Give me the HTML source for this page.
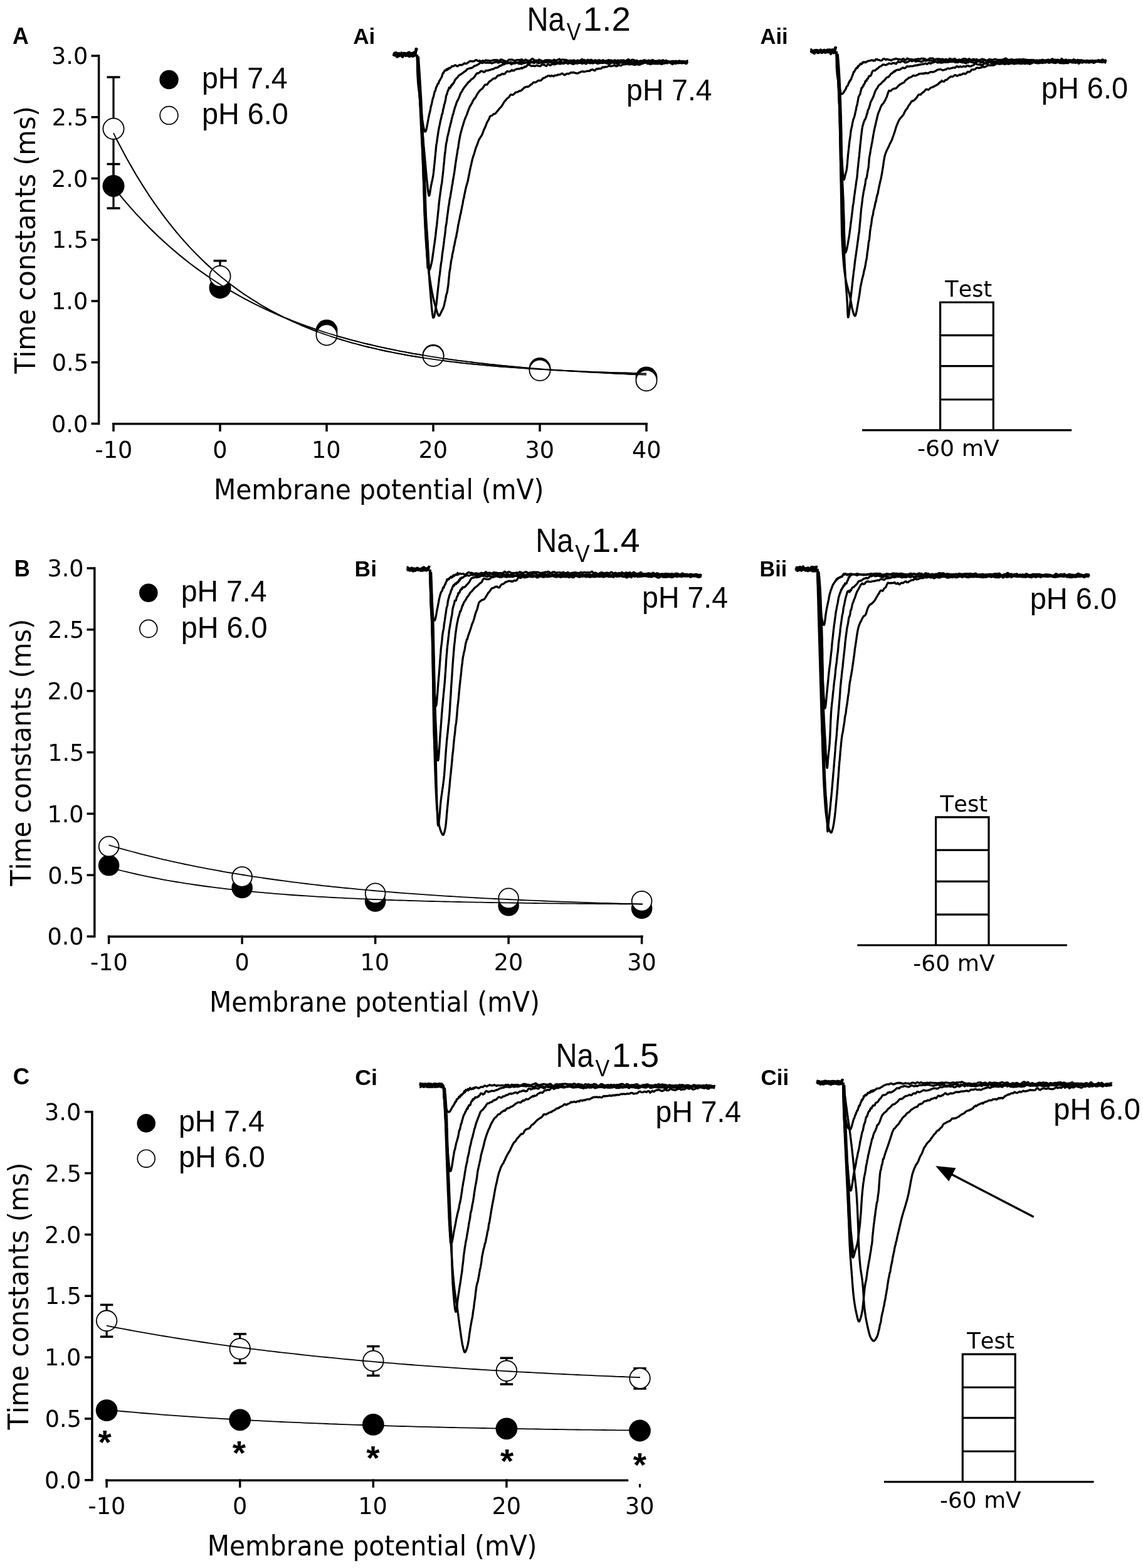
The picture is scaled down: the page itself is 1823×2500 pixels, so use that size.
<!DOCTYPE html><html><head><meta charset="utf-8"><style>html,body{margin:0;padding:0;background:#fff;}svg{display:block;} text{font-kerning:none;}</style></head><body><svg width="1823" height="2500" viewBox="0 0 1823 2500"><rect width="1823" height="2500" fill="#fff"/>
<line x1="157.6" y1="87.25" x2="157.6" y2="677.25" stroke="#000" stroke-width="3.5" stroke-linecap="butt"/>
<line x1="145.5" y1="675.5" x2="157.6" y2="675.5" stroke="#000" stroke-width="3.5" stroke-linecap="butt"/>
<text x="82.02" y="688.82" font-family="DejaVu Sans" font-weight="normal" font-size="36.6" textLength="58.21" lengthAdjust="spacingAndGlyphs">0.0</text>
<line x1="145.5" y1="577.75" x2="157.6" y2="577.75" stroke="#000" stroke-width="3.5" stroke-linecap="butt"/>
<text x="82.79" y="591.07" font-family="DejaVu Sans" font-weight="normal" font-size="36.6" textLength="58.21" lengthAdjust="spacingAndGlyphs">0.5</text>
<line x1="145.5" y1="480" x2="157.6" y2="480" stroke="#000" stroke-width="3.5" stroke-linecap="butt"/>
<text x="82.02" y="493.32" font-family="DejaVu Sans" font-weight="normal" font-size="36.6" textLength="58.21" lengthAdjust="spacingAndGlyphs">1.0</text>
<line x1="145.5" y1="382.25" x2="157.6" y2="382.25" stroke="#000" stroke-width="3.5" stroke-linecap="butt"/>
<text x="82.79" y="395.33" font-family="DejaVu Sans" font-weight="normal" font-size="36.6" textLength="58.21" lengthAdjust="spacingAndGlyphs">1.5</text>
<line x1="145.5" y1="284.5" x2="157.6" y2="284.5" stroke="#000" stroke-width="3.5" stroke-linecap="butt"/>
<text x="82.02" y="297.82" font-family="DejaVu Sans" font-weight="normal" font-size="36.6" textLength="58.21" lengthAdjust="spacingAndGlyphs">2.0</text>
<line x1="145.5" y1="186.75" x2="157.6" y2="186.75" stroke="#000" stroke-width="3.5" stroke-linecap="butt"/>
<text x="82.79" y="200.07" font-family="DejaVu Sans" font-weight="normal" font-size="36.6" textLength="58.21" lengthAdjust="spacingAndGlyphs">2.5</text>
<line x1="145.5" y1="89" x2="157.6" y2="89" stroke="#000" stroke-width="3.5" stroke-linecap="butt"/>
<text x="82.02" y="102.32" font-family="DejaVu Sans" font-weight="normal" font-size="36.6" textLength="58.21" lengthAdjust="spacingAndGlyphs">3.0</text>
<line x1="179.2" y1="675.7" x2="1032.7" y2="675.7" stroke="#000" stroke-width="3.5" stroke-linecap="butt"/>
<line x1="181" y1="673.95" x2="181" y2="688" stroke="#000" stroke-width="3.5" stroke-linecap="butt"/>
<line x1="351" y1="673.95" x2="351" y2="688" stroke="#000" stroke-width="3.5" stroke-linecap="butt"/>
<line x1="521" y1="673.95" x2="521" y2="688" stroke="#000" stroke-width="3.5" stroke-linecap="butt"/>
<line x1="691" y1="673.95" x2="691" y2="688" stroke="#000" stroke-width="3.5" stroke-linecap="butt"/>
<line x1="861" y1="673.95" x2="861" y2="688" stroke="#000" stroke-width="3.5" stroke-linecap="butt"/>
<line x1="1031" y1="673.95" x2="1031" y2="688" stroke="#000" stroke-width="3.5" stroke-linecap="butt"/>
<text x="151.43" y="729.5" font-family="DejaVu Sans" font-weight="normal" font-size="36.6" textLength="59.78" lengthAdjust="spacingAndGlyphs">-10</text>
<text x="339.37" y="729.5" font-family="DejaVu Sans" font-weight="normal" font-size="36.6" textLength="23.29" lengthAdjust="spacingAndGlyphs">0</text>
<text x="496.92" y="729.5" font-family="DejaVu Sans" font-weight="normal" font-size="36.6" textLength="46.57" lengthAdjust="spacingAndGlyphs">10</text>
<text x="667.59" y="729.5" font-family="DejaVu Sans" font-weight="normal" font-size="36.6" textLength="46.57" lengthAdjust="spacingAndGlyphs">20</text>
<text x="837.54" y="729.5" font-family="DejaVu Sans" font-weight="normal" font-size="36.6" textLength="46.57" lengthAdjust="spacingAndGlyphs">30</text>
<text x="1008.04" y="729.5" font-family="DejaVu Sans" font-weight="normal" font-size="36.6" textLength="46.57" lengthAdjust="spacingAndGlyphs">40</text>
<line x1="150.8" y1="904.25" x2="150.8" y2="1494.85" stroke="#000" stroke-width="3.5" stroke-linecap="butt"/>
<line x1="138.5" y1="1493.1" x2="150.8" y2="1493.1" stroke="#000" stroke-width="3.5" stroke-linecap="butt"/>
<text x="75.42" y="1506.42" font-family="DejaVu Sans" font-weight="normal" font-size="36.6" textLength="58.21" lengthAdjust="spacingAndGlyphs">0.0</text>
<line x1="138.5" y1="1395.25" x2="150.8" y2="1395.25" stroke="#000" stroke-width="3.5" stroke-linecap="butt"/>
<text x="76.19" y="1408.57" font-family="DejaVu Sans" font-weight="normal" font-size="36.6" textLength="58.21" lengthAdjust="spacingAndGlyphs">0.5</text>
<line x1="138.5" y1="1297.4" x2="150.8" y2="1297.4" stroke="#000" stroke-width="3.5" stroke-linecap="butt"/>
<text x="75.42" y="1310.72" font-family="DejaVu Sans" font-weight="normal" font-size="36.6" textLength="58.21" lengthAdjust="spacingAndGlyphs">1.0</text>
<line x1="138.5" y1="1199.55" x2="150.8" y2="1199.55" stroke="#000" stroke-width="3.5" stroke-linecap="butt"/>
<text x="76.19" y="1212.63" font-family="DejaVu Sans" font-weight="normal" font-size="36.6" textLength="58.21" lengthAdjust="spacingAndGlyphs">1.5</text>
<line x1="138.5" y1="1101.7" x2="150.8" y2="1101.7" stroke="#000" stroke-width="3.5" stroke-linecap="butt"/>
<text x="75.42" y="1115.02" font-family="DejaVu Sans" font-weight="normal" font-size="36.6" textLength="58.21" lengthAdjust="spacingAndGlyphs">2.0</text>
<line x1="138.5" y1="1003.85" x2="150.8" y2="1003.85" stroke="#000" stroke-width="3.5" stroke-linecap="butt"/>
<text x="76.19" y="1017.17" font-family="DejaVu Sans" font-weight="normal" font-size="36.6" textLength="58.21" lengthAdjust="spacingAndGlyphs">2.5</text>
<line x1="138.5" y1="906" x2="150.8" y2="906" stroke="#000" stroke-width="3.5" stroke-linecap="butt"/>
<text x="75.42" y="919.32" font-family="DejaVu Sans" font-weight="normal" font-size="36.6" textLength="58.21" lengthAdjust="spacingAndGlyphs">3.0</text>
<line x1="171.9" y1="1493.3" x2="1025.5" y2="1493.3" stroke="#000" stroke-width="3.5" stroke-linecap="butt"/>
<line x1="173.6" y1="1491.55" x2="173.6" y2="1505.2" stroke="#000" stroke-width="3.5" stroke-linecap="butt"/>
<line x1="386.1" y1="1491.55" x2="386.1" y2="1505.2" stroke="#000" stroke-width="3.5" stroke-linecap="butt"/>
<line x1="598.6" y1="1491.55" x2="598.6" y2="1505.2" stroke="#000" stroke-width="3.5" stroke-linecap="butt"/>
<line x1="811.1" y1="1491.55" x2="811.1" y2="1505.2" stroke="#000" stroke-width="3.5" stroke-linecap="butt"/>
<line x1="1023.6" y1="1491.55" x2="1023.6" y2="1505.2" stroke="#000" stroke-width="3.5" stroke-linecap="butt"/>
<text x="144.03" y="1547" font-family="DejaVu Sans" font-weight="normal" font-size="36.6" textLength="59.78" lengthAdjust="spacingAndGlyphs">-10</text>
<text x="374.47" y="1547" font-family="DejaVu Sans" font-weight="normal" font-size="36.6" textLength="23.29" lengthAdjust="spacingAndGlyphs">0</text>
<text x="574.52" y="1547" font-family="DejaVu Sans" font-weight="normal" font-size="36.6" textLength="46.57" lengthAdjust="spacingAndGlyphs">10</text>
<text x="787.69" y="1547" font-family="DejaVu Sans" font-weight="normal" font-size="36.6" textLength="46.57" lengthAdjust="spacingAndGlyphs">20</text>
<text x="1000.14" y="1547" font-family="DejaVu Sans" font-weight="normal" font-size="36.6" textLength="46.57" lengthAdjust="spacingAndGlyphs">30</text>
<line x1="146.9" y1="1770.95" x2="146.9" y2="2361.55" stroke="#000" stroke-width="3.5" stroke-linecap="butt"/>
<line x1="135" y1="2359.8" x2="146.9" y2="2359.8" stroke="#000" stroke-width="3.5" stroke-linecap="butt"/>
<text x="71.02" y="2373.12" font-family="DejaVu Sans" font-weight="normal" font-size="36.6" textLength="58.21" lengthAdjust="spacingAndGlyphs">0.0</text>
<line x1="135" y1="2261.95" x2="146.9" y2="2261.95" stroke="#000" stroke-width="3.5" stroke-linecap="butt"/>
<text x="71.79" y="2275.27" font-family="DejaVu Sans" font-weight="normal" font-size="36.6" textLength="58.21" lengthAdjust="spacingAndGlyphs">0.5</text>
<line x1="135" y1="2164.1" x2="146.9" y2="2164.1" stroke="#000" stroke-width="3.5" stroke-linecap="butt"/>
<text x="71.02" y="2177.42" font-family="DejaVu Sans" font-weight="normal" font-size="36.6" textLength="58.21" lengthAdjust="spacingAndGlyphs">1.0</text>
<line x1="135" y1="2066.25" x2="146.9" y2="2066.25" stroke="#000" stroke-width="3.5" stroke-linecap="butt"/>
<text x="71.79" y="2079.33" font-family="DejaVu Sans" font-weight="normal" font-size="36.6" textLength="58.21" lengthAdjust="spacingAndGlyphs">1.5</text>
<line x1="135" y1="1968.4" x2="146.9" y2="1968.4" stroke="#000" stroke-width="3.5" stroke-linecap="butt"/>
<text x="71.02" y="1981.72" font-family="DejaVu Sans" font-weight="normal" font-size="36.6" textLength="58.21" lengthAdjust="spacingAndGlyphs">2.0</text>
<line x1="135" y1="1870.55" x2="146.9" y2="1870.55" stroke="#000" stroke-width="3.5" stroke-linecap="butt"/>
<text x="71.79" y="1883.87" font-family="DejaVu Sans" font-weight="normal" font-size="36.6" textLength="58.21" lengthAdjust="spacingAndGlyphs">2.5</text>
<line x1="135" y1="1772.7" x2="146.9" y2="1772.7" stroke="#000" stroke-width="3.5" stroke-linecap="butt"/>
<text x="71.02" y="1786.02" font-family="DejaVu Sans" font-weight="normal" font-size="36.6" textLength="58.21" lengthAdjust="spacingAndGlyphs">3.0</text>
<line x1="168.3" y1="2360.2" x2="1002.2" y2="2360.2" stroke="#000" stroke-width="3.5" stroke-linecap="butt"/>
<line x1="170.1" y1="2358.45" x2="170.1" y2="2371.8" stroke="#000" stroke-width="3.5" stroke-linecap="butt"/>
<line x1="382.7" y1="2358.45" x2="382.7" y2="2371.8" stroke="#000" stroke-width="3.5" stroke-linecap="butt"/>
<line x1="595.3" y1="2358.45" x2="595.3" y2="2371.8" stroke="#000" stroke-width="3.5" stroke-linecap="butt"/>
<line x1="807.9" y1="2358.45" x2="807.9" y2="2371.8" stroke="#000" stroke-width="3.5" stroke-linecap="butt"/>
<text x="140.53" y="2413.6" font-family="DejaVu Sans" font-weight="normal" font-size="36.6" textLength="59.78" lengthAdjust="spacingAndGlyphs">-10</text>
<text x="371.07" y="2413.6" font-family="DejaVu Sans" font-weight="normal" font-size="36.6" textLength="23.29" lengthAdjust="spacingAndGlyphs">0</text>
<text x="571.22" y="2413.6" font-family="DejaVu Sans" font-weight="normal" font-size="36.6" textLength="46.57" lengthAdjust="spacingAndGlyphs">10</text>
<text x="784.49" y="2413.6" font-family="DejaVu Sans" font-weight="normal" font-size="36.6" textLength="46.57" lengthAdjust="spacingAndGlyphs">20</text>
<text x="997.04" y="2413.6" font-family="DejaVu Sans" font-weight="normal" font-size="36.6" textLength="46.57" lengthAdjust="spacingAndGlyphs">30</text>
<line x1="1020.5" y1="2366" x2="1020.5" y2="2371.5" stroke="#000" stroke-width="3.2" stroke-linecap="butt"/>
<line x1="181" y1="123" x2="181" y2="287" stroke="#000" stroke-width="3.2" stroke-linecap="butt"/>
<line x1="170.5" y1="123" x2="191.5" y2="123" stroke="#000" stroke-width="3.5" stroke-linecap="butt"/>
<line x1="170.5" y1="287" x2="191.5" y2="287" stroke="#000" stroke-width="3.5" stroke-linecap="butt"/>
<line x1="181" y1="261.6" x2="181" y2="332" stroke="#000" stroke-width="3.2" stroke-linecap="butt"/>
<line x1="170.5" y1="261.6" x2="191.5" y2="261.6" stroke="#000" stroke-width="3.5" stroke-linecap="butt"/>
<line x1="170.5" y1="332" x2="191.5" y2="332" stroke="#000" stroke-width="3.5" stroke-linecap="butt"/>
<line x1="351" y1="415.8" x2="351" y2="465" stroke="#000" stroke-width="3.2" stroke-linecap="butt"/>
<line x1="340.5" y1="415.8" x2="361.5" y2="415.8" stroke="#000" stroke-width="3.5" stroke-linecap="butt"/>
<line x1="340.5" y1="465" x2="361.5" y2="465" stroke="#000" stroke-width="3.5" stroke-linecap="butt"/>
<path d="M181.0,212.1 L188.1,226.3 L195.3,239.9 L202.4,253.1 L209.6,265.8 L216.7,278.0 L223.9,289.7 L231.0,301.1 L238.1,312.0 L245.3,322.5 L252.4,332.6 L259.6,342.4 L266.7,351.8 L273.9,360.9 L281.0,369.6 L288.1,378.0 L295.3,386.1 L302.4,394.0 L309.6,401.5 L316.7,408.7 L323.9,415.7 L331.0,422.5 L338.1,428.9 L345.3,435.2 L352.4,441.2 L359.6,447.0 L366.7,452.6 L373.9,458.0 L381.0,463.2 L388.1,468.2 L395.3,473.0 L402.4,477.6 L409.6,482.1 L416.7,486.4 L423.9,490.6 L431.0,494.6 L438.1,498.4 L445.3,502.1 L452.4,505.7 L459.6,509.2 L466.7,512.5 L473.9,515.7 L481.0,518.8 L488.1,521.7 L495.3,524.6 L502.4,527.3 L509.6,530.0 L516.7,532.6 L523.9,535.0 L531.0,537.4 L538.1,539.7 L545.3,541.9 L552.4,544.0 L559.6,546.1 L566.7,548.0 L573.9,549.9 L581.0,551.8 L588.1,553.5 L595.3,555.2 L602.4,556.9 L609.6,558.5 L616.7,560.0 L623.9,561.4 L631.0,562.8 L638.1,564.2 L645.3,565.5 L652.4,566.8 L659.6,568.0 L666.7,569.2 L673.9,570.3 L681.0,571.4 L688.1,572.4 L695.3,573.4 L702.4,574.4 L709.6,575.4 L716.7,576.3 L723.9,577.1 L731.0,578.0 L738.1,578.8 L745.3,579.6 L752.4,580.3 L759.6,581.0 L766.7,581.7 L773.9,582.4 L781.0,583.0 L788.1,583.7 L795.3,584.3 L802.4,584.8 L809.6,585.4 L816.7,585.9 L823.9,586.4 L831.0,586.9 L838.1,587.4 L845.3,587.9 L852.4,588.3 L859.6,588.8 L866.7,589.2 L873.9,589.6 L881.0,590.0 L888.1,590.3 L895.3,590.7 L902.4,591.0 L909.6,591.4 L916.7,591.7 L923.9,592.0 L931.0,592.3 L938.1,592.6 L945.3,592.8 L952.4,593.1 L959.6,593.4 L966.7,593.6 L973.9,593.8 L981.0,594.1 L988.1,594.3 L995.3,594.5 L1002.4,594.7 L1009.6,594.9 L1016.7,595.1 L1023.9,595.3 L1031.0,595.5" fill="none" stroke="#000" stroke-width="1.8" stroke-linejoin="round" />
<path d="M181.0,298.4 L188.1,307.3 L195.3,316.0 L202.4,324.4 L209.6,332.5 L216.7,340.5 L223.9,348.2 L231.0,355.7 L238.1,362.9 L245.3,370.0 L252.4,376.8 L259.6,383.5 L266.7,389.9 L273.9,396.2 L281.0,402.3 L288.1,408.2 L295.3,414.0 L302.4,419.6 L309.6,425.0 L316.7,430.2 L323.9,435.3 L331.0,440.3 L338.1,445.1 L345.3,449.8 L352.4,454.4 L359.6,458.8 L366.7,463.1 L373.9,467.2 L381.0,471.3 L388.1,475.2 L395.3,479.0 L402.4,482.7 L409.6,486.3 L416.7,489.8 L423.9,493.2 L431.0,496.5 L438.1,499.7 L445.3,502.8 L452.4,505.8 L459.6,508.7 L466.7,511.5 L473.9,514.3 L481.0,517.0 L488.1,519.6 L495.3,522.1 L502.4,524.6 L509.6,526.9 L516.7,529.3 L523.9,531.5 L531.0,533.7 L538.1,535.8 L545.3,537.9 L552.4,539.9 L559.6,541.8 L566.7,543.7 L573.9,545.5 L581.0,547.3 L588.1,549.0 L595.3,550.7 L602.4,552.3 L609.6,553.9 L616.7,555.5 L623.9,556.9 L631.0,558.4 L638.1,559.8 L645.3,561.2 L652.4,562.5 L659.6,563.8 L666.7,565.0 L673.9,566.2 L681.0,567.4 L688.1,568.6 L695.3,569.7 L702.4,570.8 L709.6,571.8 L716.7,572.8 L723.9,573.8 L731.0,574.8 L738.1,575.7 L745.3,576.6 L752.4,577.5 L759.6,578.3 L766.7,579.2 L773.9,580.0 L781.0,580.8 L788.1,581.5 L795.3,582.3 L802.4,583.0 L809.6,583.7 L816.7,584.3 L823.9,585.0 L831.0,585.6 L838.1,586.3 L845.3,586.9 L852.4,587.4 L859.6,588.0 L866.7,588.6 L873.9,589.1 L881.0,589.6 L888.1,590.1 L895.3,590.6 L902.4,591.1 L909.6,591.5 L916.7,592.0 L923.9,592.4 L931.0,592.8 L938.1,593.3 L945.3,593.7 L952.4,594.0 L959.6,594.4 L966.7,594.8 L973.9,595.1 L981.0,595.5 L988.1,595.8 L995.3,596.1 L1002.4,596.5 L1009.6,596.8 L1016.7,597.1 L1023.9,597.3 L1031.0,597.6" fill="none" stroke="#000" stroke-width="1.8" stroke-linejoin="round" />
<circle cx="181" cy="296.5" r="17.5" fill="#000"/>
<circle cx="351" cy="458.7" r="17.5" fill="#000"/>
<circle cx="521" cy="527" r="17.5" fill="#000"/>
<circle cx="691" cy="566.5" r="17.5" fill="#000"/>
<circle cx="861" cy="587.5" r="17.5" fill="#000"/>
<circle cx="1031" cy="602" r="17.5" fill="#000"/>
<circle cx="181" cy="205.3" r="16.6" fill="#fff" stroke="#000" stroke-width="1.8"/>
<circle cx="351" cy="440.5" r="16.6" fill="#fff" stroke="#000" stroke-width="1.8"/>
<circle cx="521" cy="534" r="16.6" fill="#fff" stroke="#000" stroke-width="1.8"/>
<circle cx="691" cy="567.5" r="16.6" fill="#fff" stroke="#000" stroke-width="1.8"/>
<circle cx="861" cy="590.3" r="16.6" fill="#fff" stroke="#000" stroke-width="1.8"/>
<circle cx="1031" cy="606.7" r="16.6" fill="#fff" stroke="#000" stroke-width="1.8"/>
<path d="M181.0,212.1 L188.1,226.3 L195.3,239.9 L202.4,253.1 L209.6,265.8 L216.7,278.0 L223.9,289.7 L231.0,301.1 L238.1,312.0 L245.3,322.5 L252.4,332.6 L259.6,342.4 L266.7,351.8 L273.9,360.9 L281.0,369.6 L288.1,378.0 L295.3,386.1 L302.4,394.0 L309.6,401.5 L316.7,408.7 L323.9,415.7 L331.0,422.5 L338.1,428.9 L345.3,435.2 L352.4,441.2 L359.6,447.0 L366.7,452.6 L373.9,458.0 L381.0,463.2 L388.1,468.2 L395.3,473.0 L402.4,477.6 L409.6,482.1 L416.7,486.4 L423.9,490.6 L431.0,494.6 L438.1,498.4 L445.3,502.1 L452.4,505.7 L459.6,509.2 L466.7,512.5 L473.9,515.7 L481.0,518.8 L488.1,521.7 L495.3,524.6 L502.4,527.3 L509.6,530.0 L516.7,532.6 L523.9,535.0 L531.0,537.4 L538.1,539.7 L545.3,541.9 L552.4,544.0 L559.6,546.1 L566.7,548.0 L573.9,549.9 L581.0,551.8 L588.1,553.5 L595.3,555.2 L602.4,556.9 L609.6,558.5 L616.7,560.0 L623.9,561.4 L631.0,562.8 L638.1,564.2 L645.3,565.5 L652.4,566.8 L659.6,568.0 L666.7,569.2 L673.9,570.3 L681.0,571.4 L688.1,572.4 L695.3,573.4 L702.4,574.4 L709.6,575.4 L716.7,576.3 L723.9,577.1 L731.0,578.0 L738.1,578.8 L745.3,579.6 L752.4,580.3 L759.6,581.0 L766.7,581.7 L773.9,582.4 L781.0,583.0 L788.1,583.7 L795.3,584.3 L802.4,584.8 L809.6,585.4 L816.7,585.9 L823.9,586.4 L831.0,586.9 L838.1,587.4 L845.3,587.9 L852.4,588.3 L859.6,588.8 L866.7,589.2 L873.9,589.6 L881.0,590.0 L888.1,590.3 L895.3,590.7 L902.4,591.0 L909.6,591.4 L916.7,591.7 L923.9,592.0 L931.0,592.3 L938.1,592.6 L945.3,592.8 L952.4,593.1 L959.6,593.4 L966.7,593.6 L973.9,593.8 L981.0,594.1 L988.1,594.3 L995.3,594.5 L1002.4,594.7 L1009.6,594.9 L1016.7,595.1 L1023.9,595.3 L1031.0,595.5" fill="none" stroke="#000" stroke-width="1.8" stroke-linejoin="round" />
<path d="M181.0,298.4 L188.1,307.3 L195.3,316.0 L202.4,324.4 L209.6,332.5 L216.7,340.5 L223.9,348.2 L231.0,355.7 L238.1,362.9 L245.3,370.0 L252.4,376.8 L259.6,383.5 L266.7,389.9 L273.9,396.2 L281.0,402.3 L288.1,408.2 L295.3,414.0 L302.4,419.6 L309.6,425.0 L316.7,430.2 L323.9,435.3 L331.0,440.3 L338.1,445.1 L345.3,449.8 L352.4,454.4 L359.6,458.8 L366.7,463.1 L373.9,467.2 L381.0,471.3 L388.1,475.2 L395.3,479.0 L402.4,482.7 L409.6,486.3 L416.7,489.8 L423.9,493.2 L431.0,496.5 L438.1,499.7 L445.3,502.8 L452.4,505.8 L459.6,508.7 L466.7,511.5 L473.9,514.3 L481.0,517.0 L488.1,519.6 L495.3,522.1 L502.4,524.6 L509.6,526.9 L516.7,529.3 L523.9,531.5 L531.0,533.7 L538.1,535.8 L545.3,537.9 L552.4,539.9 L559.6,541.8 L566.7,543.7 L573.9,545.5 L581.0,547.3 L588.1,549.0 L595.3,550.7 L602.4,552.3 L609.6,553.9 L616.7,555.5 L623.9,556.9 L631.0,558.4 L638.1,559.8 L645.3,561.2 L652.4,562.5 L659.6,563.8 L666.7,565.0 L673.9,566.2 L681.0,567.4 L688.1,568.6 L695.3,569.7 L702.4,570.8 L709.6,571.8 L716.7,572.8 L723.9,573.8 L731.0,574.8 L738.1,575.7 L745.3,576.6 L752.4,577.5 L759.6,578.3 L766.7,579.2 L773.9,580.0 L781.0,580.8 L788.1,581.5 L795.3,582.3 L802.4,583.0 L809.6,583.7 L816.7,584.3 L823.9,585.0 L831.0,585.6 L838.1,586.3 L845.3,586.9 L852.4,587.4 L859.6,588.0 L866.7,588.6 L873.9,589.1 L881.0,589.6 L888.1,590.1 L895.3,590.6 L902.4,591.1 L909.6,591.5 L916.7,592.0 L923.9,592.4 L931.0,592.8 L938.1,593.3 L945.3,593.7 L952.4,594.0 L959.6,594.4 L966.7,594.8 L973.9,595.1 L981.0,595.5 L988.1,595.8 L995.3,596.1 L1002.4,596.5 L1009.6,596.8 L1016.7,597.1 L1023.9,597.3 L1031.0,597.6" fill="none" stroke="#000" stroke-width="1.8" stroke-linejoin="round" />
<circle cx="173.6" cy="1379.8" r="16.8" fill="#000"/>
<circle cx="386.1" cy="1415.5" r="16.8" fill="#000"/>
<circle cx="598.6" cy="1437" r="16.8" fill="#000"/>
<circle cx="811.1" cy="1443.8" r="16.8" fill="#000"/>
<circle cx="1023.6" cy="1448.3" r="16.8" fill="#000"/>
<circle cx="173.6" cy="1349.6" r="15.9" fill="#fff" stroke="#000" stroke-width="1.8"/>
<circle cx="386.1" cy="1398" r="15.9" fill="#fff" stroke="#000" stroke-width="1.8"/>
<circle cx="598.6" cy="1424.3" r="15.9" fill="#fff" stroke="#000" stroke-width="1.8"/>
<circle cx="811.1" cy="1432.3" r="15.9" fill="#fff" stroke="#000" stroke-width="1.8"/>
<circle cx="1023.6" cy="1436.8" r="15.9" fill="#fff" stroke="#000" stroke-width="1.8"/>
<path d="M173.6,1347.4 L180.8,1349.5 L187.9,1351.6 L195.1,1353.6 L202.2,1355.6 L209.4,1357.5 L216.5,1359.4 L223.7,1361.3 L230.8,1363.1 L238.0,1364.9 L245.1,1366.7 L252.3,1368.4 L259.5,1370.1 L266.6,1371.7 L273.8,1373.3 L280.9,1374.9 L288.1,1376.4 L295.2,1378.0 L302.4,1379.4 L309.5,1380.9 L316.7,1382.3 L323.8,1383.7 L331.0,1385.1 L338.2,1386.4 L345.3,1387.7 L352.5,1389.0 L359.6,1390.3 L366.8,1391.5 L373.9,1392.7 L381.1,1393.9 L388.2,1395.0 L395.4,1396.2 L402.5,1397.3 L409.7,1398.4 L416.9,1399.4 L424.0,1400.5 L431.2,1401.5 L438.3,1402.5 L445.5,1403.5 L452.6,1404.4 L459.8,1405.4 L466.9,1406.3 L474.1,1407.2 L481.2,1408.1 L488.4,1409.0 L495.6,1409.8 L502.7,1410.6 L509.9,1411.5 L517.0,1412.3 L524.2,1413.0 L531.3,1413.8 L538.5,1414.5 L545.6,1415.3 L552.8,1416.0 L559.9,1416.7 L567.1,1417.4 L574.3,1418.1 L581.4,1418.7 L588.6,1419.4 L595.7,1420.0 L602.9,1420.6 L610.0,1421.2 L617.2,1421.8 L624.3,1422.4 L631.5,1423.0 L638.7,1423.6 L645.8,1424.1 L653.0,1424.6 L660.1,1425.2 L667.3,1425.7 L674.4,1426.2 L681.6,1426.7 L688.7,1427.2 L695.9,1427.6 L703.0,1428.1 L710.2,1428.6 L717.4,1429.0 L724.5,1429.4 L731.7,1429.9 L738.8,1430.3 L746.0,1430.7 L753.1,1431.1 L760.3,1431.5 L767.4,1431.9 L774.6,1432.3 L781.7,1432.6 L788.9,1433.0 L796.1,1433.4 L803.2,1433.7 L810.4,1434.0 L817.5,1434.4 L824.7,1434.7 L831.8,1435.0 L839.0,1435.3 L846.1,1435.6 L853.3,1435.9 L860.4,1436.2 L867.6,1436.5 L874.8,1436.8 L881.9,1437.1 L889.1,1437.4 L896.2,1437.6 L903.4,1437.9 L910.5,1438.1 L917.7,1438.4 L924.8,1438.6 L932.0,1438.9 L939.1,1439.1 L946.3,1439.3 L953.5,1439.6 L960.6,1439.8 L967.8,1440.0 L974.9,1440.2 L982.1,1440.4 L989.2,1440.6 L996.4,1440.8 L1003.5,1441.0 L1010.7,1441.2 L1017.8,1441.4 L1025.0,1441.6" fill="none" stroke="#000" stroke-width="1.8" stroke-linejoin="round" />
<path d="M173.6,1382.9 L180.8,1384.9 L187.9,1386.7 L195.1,1388.5 L202.2,1390.2 L209.4,1391.9 L216.5,1393.5 L223.7,1395.1 L230.8,1396.6 L238.0,1398.1 L245.1,1399.5 L252.3,1400.9 L259.5,1402.3 L266.6,1403.6 L273.8,1404.8 L280.9,1406.0 L288.1,1407.2 L295.2,1408.3 L302.4,1409.4 L309.5,1410.5 L316.7,1411.5 L323.8,1412.5 L331.0,1413.5 L338.2,1414.4 L345.3,1415.3 L352.5,1416.2 L359.6,1417.1 L366.8,1417.9 L373.9,1418.7 L381.1,1419.5 L388.2,1420.2 L395.4,1420.9 L402.5,1421.6 L409.7,1422.3 L416.9,1422.9 L424.0,1423.6 L431.2,1424.2 L438.3,1424.8 L445.5,1425.4 L452.6,1425.9 L459.8,1426.5 L466.9,1427.0 L474.1,1427.5 L481.2,1428.0 L488.4,1428.4 L495.6,1428.9 L502.7,1429.3 L509.9,1429.8 L517.0,1430.2 L524.2,1430.6 L531.3,1431.0 L538.5,1431.3 L545.6,1431.7 L552.8,1432.1 L559.9,1432.4 L567.1,1432.7 L574.3,1433.1 L581.4,1433.4 L588.6,1433.7 L595.7,1434.0 L602.9,1434.2 L610.0,1434.5 L617.2,1434.8 L624.3,1435.0 L631.5,1435.3 L638.7,1435.5 L645.8,1435.7 L653.0,1436.0 L660.1,1436.2 L667.3,1436.4 L674.4,1436.6 L681.6,1436.8 L688.7,1437.0 L695.9,1437.2 L703.0,1437.3 L710.2,1437.5 L717.4,1437.7 L724.5,1437.8 L731.7,1438.0 L738.8,1438.1 L746.0,1438.3 L753.1,1438.4 L760.3,1438.6 L767.4,1438.7 L774.6,1438.8 L781.7,1439.0 L788.9,1439.1 L796.1,1439.2 L803.2,1439.3 L810.4,1439.4 L817.5,1439.5 L824.7,1439.6 L831.8,1439.7 L839.0,1439.8 L846.1,1439.9 L853.3,1440.0 L860.4,1440.1 L867.6,1440.2 L874.8,1440.3 L881.9,1440.3 L889.1,1440.4 L896.2,1440.5 L903.4,1440.6 L910.5,1440.6 L917.7,1440.7 L924.8,1440.8 L932.0,1440.8 L939.1,1440.9 L946.3,1440.9 L953.5,1441.0 L960.6,1441.1 L967.8,1441.1 L974.9,1441.2 L982.1,1441.2 L989.2,1441.3 L996.4,1441.3 L1003.5,1441.3 L1010.7,1441.4 L1017.8,1441.4 L1025.0,1441.5" fill="none" stroke="#000" stroke-width="1.8" stroke-linejoin="round" />
<line x1="170.1" y1="2080.4" x2="170.1" y2="2131.2" stroke="#000" stroke-width="3.2" stroke-linecap="butt"/>
<line x1="159.85" y1="2080.4" x2="180.35" y2="2080.4" stroke="#000" stroke-width="3.5" stroke-linecap="butt"/>
<line x1="159.85" y1="2131.2" x2="180.35" y2="2131.2" stroke="#000" stroke-width="3.5" stroke-linecap="butt"/>
<line x1="382.7" y1="2126.9" x2="382.7" y2="2173.4" stroke="#000" stroke-width="3.2" stroke-linecap="butt"/>
<line x1="372.45" y1="2126.9" x2="392.95" y2="2126.9" stroke="#000" stroke-width="3.5" stroke-linecap="butt"/>
<line x1="372.45" y1="2173.4" x2="392.95" y2="2173.4" stroke="#000" stroke-width="3.5" stroke-linecap="butt"/>
<line x1="595.3" y1="2146.6" x2="595.3" y2="2193.2" stroke="#000" stroke-width="3.2" stroke-linecap="butt"/>
<line x1="585.05" y1="2146.6" x2="605.55" y2="2146.6" stroke="#000" stroke-width="3.5" stroke-linecap="butt"/>
<line x1="585.05" y1="2193.2" x2="605.55" y2="2193.2" stroke="#000" stroke-width="3.5" stroke-linecap="butt"/>
<line x1="807.9" y1="2165.2" x2="807.9" y2="2207" stroke="#000" stroke-width="3.2" stroke-linecap="butt"/>
<line x1="797.65" y1="2165.2" x2="818.15" y2="2165.2" stroke="#000" stroke-width="3.5" stroke-linecap="butt"/>
<line x1="797.65" y1="2207" x2="818.15" y2="2207" stroke="#000" stroke-width="3.5" stroke-linecap="butt"/>
<line x1="1020.5" y1="2181.8" x2="1020.5" y2="2214" stroke="#000" stroke-width="3.2" stroke-linecap="butt"/>
<line x1="1010.25" y1="2181.8" x2="1030.75" y2="2181.8" stroke="#000" stroke-width="3.5" stroke-linecap="butt"/>
<line x1="1010.25" y1="2214" x2="1030.75" y2="2214" stroke="#000" stroke-width="3.5" stroke-linecap="butt"/>
<circle cx="170.1" cy="2105.8" r="16.3" fill="#fff" stroke="#000" stroke-width="1.8"/>
<circle cx="170.1" cy="2248.6" r="17.4" fill="#000"/>
<circle cx="382.7" cy="2150.5" r="16.3" fill="#fff" stroke="#000" stroke-width="1.8"/>
<circle cx="382.7" cy="2263.8" r="17.4" fill="#000"/>
<circle cx="595.3" cy="2169.9" r="16.3" fill="#fff" stroke="#000" stroke-width="1.8"/>
<circle cx="595.3" cy="2271.4" r="17.4" fill="#000"/>
<circle cx="807.9" cy="2185.6" r="16.3" fill="#fff" stroke="#000" stroke-width="1.8"/>
<circle cx="807.9" cy="2277.8" r="17.4" fill="#000"/>
<circle cx="1020.5" cy="2197.6" r="16.3" fill="#fff" stroke="#000" stroke-width="1.8"/>
<circle cx="1020.5" cy="2281" r="17.4" fill="#000"/>
<path d="M170.0,2113.7 L177.2,2115.1 L184.3,2116.5 L191.5,2117.8 L198.6,2119.2 L205.8,2120.5 L212.9,2121.8 L220.1,2123.1 L227.2,2124.4 L234.4,2125.6 L241.5,2126.9 L248.7,2128.1 L255.8,2129.3 L263.0,2130.5 L270.1,2131.7 L277.3,2132.8 L284.4,2134.0 L291.6,2135.1 L298.7,2136.2 L305.9,2137.3 L313.0,2138.4 L320.2,2139.5 L327.3,2140.5 L334.5,2141.6 L341.6,2142.6 L348.8,2143.6 L355.9,2144.6 L363.1,2145.6 L370.2,2146.5 L377.4,2147.5 L384.5,2148.4 L391.7,2149.3 L398.8,2150.3 L406.0,2151.2 L413.1,2152.1 L420.3,2152.9 L427.4,2153.8 L434.6,2154.6 L441.7,2155.5 L448.9,2156.3 L456.1,2157.1 L463.2,2157.9 L470.4,2158.7 L477.5,2159.5 L484.7,2160.3 L491.8,2161.1 L499.0,2161.8 L506.1,2162.6 L513.3,2163.3 L520.4,2164.0 L527.6,2164.7 L534.7,2165.4 L541.9,2166.1 L549.0,2166.8 L556.2,2167.5 L563.3,2168.2 L570.5,2168.8 L577.6,2169.5 L584.8,2170.1 L591.9,2170.7 L599.1,2171.3 L606.2,2172.0 L613.4,2172.6 L620.5,2173.2 L627.7,2173.7 L634.8,2174.3 L642.0,2174.9 L649.1,2175.5 L656.3,2176.0 L663.4,2176.6 L670.6,2177.1 L677.7,2177.6 L684.9,2178.2 L692.0,2178.7 L699.2,2179.2 L706.3,2179.7 L713.5,2180.2 L720.6,2180.7 L727.8,2181.2 L734.9,2181.6 L742.1,2182.1 L749.3,2182.6 L756.4,2183.0 L763.6,2183.5 L770.7,2183.9 L777.9,2184.4 L785.0,2184.8 L792.2,2185.2 L799.3,2185.6 L806.5,2186.1 L813.6,2186.5 L820.8,2186.9 L827.9,2187.3 L835.1,2187.7 L842.2,2188.0 L849.4,2188.4 L856.5,2188.8 L863.7,2189.2 L870.8,2189.5 L878.0,2189.9 L885.1,2190.3 L892.3,2190.6 L899.4,2191.0 L906.6,2191.3 L913.7,2191.6 L920.9,2192.0 L928.0,2192.3 L935.2,2192.6 L942.3,2192.9 L949.5,2193.3 L956.6,2193.6 L963.8,2193.9 L970.9,2194.2 L978.1,2194.5 L985.2,2194.8 L992.4,2195.0 L999.5,2195.3 L1006.7,2195.6 L1013.8,2195.9 L1021.0,2196.2" fill="none" stroke="#000" stroke-width="1.8" stroke-linejoin="round" />
<path d="M170.0,2247.8 L177.2,2248.5 L184.3,2249.2 L191.5,2249.8 L198.6,2250.5 L205.8,2251.1 L212.9,2251.7 L220.1,2252.4 L227.2,2253.0 L234.4,2253.5 L241.5,2254.1 L248.7,2254.7 L255.8,2255.3 L263.0,2255.8 L270.1,2256.3 L277.3,2256.9 L284.4,2257.4 L291.6,2257.9 L298.7,2258.4 L305.9,2258.9 L313.0,2259.4 L320.2,2259.8 L327.3,2260.3 L334.5,2260.8 L341.6,2261.2 L348.8,2261.6 L355.9,2262.1 L363.1,2262.5 L370.2,2262.9 L377.4,2263.3 L384.5,2263.7 L391.7,2264.1 L398.8,2264.5 L406.0,2264.9 L413.1,2265.2 L420.3,2265.6 L427.4,2265.9 L434.6,2266.3 L441.7,2266.6 L448.9,2267.0 L456.1,2267.3 L463.2,2267.6 L470.4,2267.9 L477.5,2268.2 L484.7,2268.6 L491.8,2268.9 L499.0,2269.1 L506.1,2269.4 L513.3,2269.7 L520.4,2270.0 L527.6,2270.3 L534.7,2270.5 L541.9,2270.8 L549.0,2271.1 L556.2,2271.3 L563.3,2271.6 L570.5,2271.8 L577.6,2272.0 L584.8,2272.3 L591.9,2272.5 L599.1,2272.7 L606.2,2272.9 L613.4,2273.2 L620.5,2273.4 L627.7,2273.6 L634.8,2273.8 L642.0,2274.0 L649.1,2274.2 L656.3,2274.4 L663.4,2274.6 L670.6,2274.8 L677.7,2274.9 L684.9,2275.1 L692.0,2275.3 L699.2,2275.5 L706.3,2275.6 L713.5,2275.8 L720.6,2276.0 L727.8,2276.1 L734.9,2276.3 L742.1,2276.4 L749.3,2276.6 L756.4,2276.7 L763.6,2276.9 L770.7,2277.0 L777.9,2277.2 L785.0,2277.3 L792.2,2277.4 L799.3,2277.6 L806.5,2277.7 L813.6,2277.8 L820.8,2277.9 L827.9,2278.1 L835.1,2278.2 L842.2,2278.3 L849.4,2278.4 L856.5,2278.5 L863.7,2278.6 L870.8,2278.8 L878.0,2278.9 L885.1,2279.0 L892.3,2279.1 L899.4,2279.2 L906.6,2279.3 L913.7,2279.4 L920.9,2279.5 L928.0,2279.6 L935.2,2279.7 L942.3,2279.7 L949.5,2279.8 L956.6,2279.9 L963.8,2280.0 L970.9,2280.1 L978.1,2280.2 L985.2,2280.3 L992.4,2280.3 L999.5,2280.4 L1006.7,2280.5 L1013.8,2280.6 L1021.0,2280.6" fill="none" stroke="#000" stroke-width="1.8" stroke-linejoin="round" />
<text x="156.53" y="2317.79" font-family="Liberation Sans" font-weight="bold" font-size="54.56">*</text>
<text x="370.83" y="2335.49" font-family="Liberation Sans" font-weight="bold" font-size="54.56">*</text>
<text x="584.33" y="2343.39" font-family="Liberation Sans" font-weight="bold" font-size="54.56">*</text>
<text x="798.03" y="2348.19" font-family="Liberation Sans" font-weight="bold" font-size="54.56">*</text>
<text x="1009.83" y="2354.39" font-family="Liberation Sans" font-weight="bold" font-size="54.56">*</text>
<circle cx="269.5" cy="127" r="15.2" fill="#000"/>
<circle cx="269.5" cy="183.9" r="14.35" fill="#fff" stroke="#000" stroke-width="1.7"/>
<text x="321.91" y="141" font-family="Liberation Sans" font-weight="normal" font-size="47.24" textLength="136.75" lengthAdjust="spacingAndGlyphs">pH 7.4</text>
<text x="321.88" y="198.3" font-family="Liberation Sans" font-weight="normal" font-size="47.24" textLength="137.84" lengthAdjust="spacingAndGlyphs">pH 6.0</text>
<circle cx="236.8" cy="945.3" r="14.8" fill="#000"/>
<circle cx="236.8" cy="1002.4" r="13.95" fill="#fff" stroke="#000" stroke-width="1.7"/>
<text x="288.71" y="959.1" font-family="Liberation Sans" font-weight="normal" font-size="47.24" textLength="136.75" lengthAdjust="spacingAndGlyphs">pH 7.4</text>
<text x="288.68" y="1016.9" font-family="Liberation Sans" font-weight="normal" font-size="47.24" textLength="137.84" lengthAdjust="spacingAndGlyphs">pH 6.0</text>
<circle cx="233.2" cy="1790.9" r="14.8" fill="#000"/>
<circle cx="233.2" cy="1847.2" r="13.95" fill="#fff" stroke="#000" stroke-width="1.7"/>
<text x="285.01" y="1804.3" font-family="Liberation Sans" font-weight="normal" font-size="47.24" textLength="136.75" lengthAdjust="spacingAndGlyphs">pH 7.4</text>
<text x="284.98" y="1860.6" font-family="Liberation Sans" font-weight="normal" font-size="47.24" textLength="137.84" lengthAdjust="spacingAndGlyphs">pH 6.0</text>
<text x="340.89" y="795.8" font-family="DejaVu Sans" font-weight="normal" font-size="45.13" textLength="526.63" lengthAdjust="spacingAndGlyphs">Membrane potential (mV)</text>
<text x="333.98" y="1613" font-family="DejaVu Sans" font-weight="normal" font-size="44.86" textLength="527.03" lengthAdjust="spacingAndGlyphs">Membrane potential (mV)</text>
<text x="330.69" y="2479.8" font-family="DejaVu Sans" font-weight="normal" font-size="44.86" textLength="525.81" lengthAdjust="spacingAndGlyphs">Membrane potential (mV)</text>
<text transform="translate(55.7,595.78) rotate(-90)" x="0" y="0" font-family="DejaVu Sans" font-weight="normal" font-size="44.86" textLength="426.55" lengthAdjust="spacingAndGlyphs">Time constants (ms)</text>
<text transform="translate(48.5,1412.68) rotate(-90)" x="0" y="0" font-family="DejaVu Sans" font-weight="normal" font-size="44.44" textLength="425.95" lengthAdjust="spacingAndGlyphs">Time constants (ms)</text>
<text transform="translate(44.9,2279.48) rotate(-90)" x="0" y="0" font-family="DejaVu Sans" font-weight="normal" font-size="44.72" textLength="425.95" lengthAdjust="spacingAndGlyphs">Time constants (ms)</text>
<text x="20.11" y="69.6" font-family="Liberation Sans" font-weight="bold" font-size="37.06" textLength="25.83" lengthAdjust="spacingAndGlyphs">A</text>
<text x="22.67" y="918.6" font-family="Liberation Sans" font-weight="bold" font-size="36.63" textLength="25.1" lengthAdjust="spacingAndGlyphs">B</text>
<text x="20.7" y="1729.2" font-family="Liberation Sans" font-weight="bold" font-size="36.66" textLength="26.4" lengthAdjust="spacingAndGlyphs">C</text>
<text x="563.22" y="69.6" font-family="Liberation Sans" font-weight="bold" font-size="35.19" textLength="35.17" lengthAdjust="spacingAndGlyphs">Ai</text>
<text x="1212.54" y="69.6" font-family="Liberation Sans" font-weight="bold" font-size="35.19" textLength="44.21" lengthAdjust="spacingAndGlyphs">Aii</text>
<text x="565.63" y="918.6" font-family="Liberation Sans" font-weight="bold" font-size="34.78" textLength="35.37" lengthAdjust="spacingAndGlyphs">Bi</text>
<text x="1211.52" y="918.6" font-family="Liberation Sans" font-weight="bold" font-size="34.78" textLength="43.6" lengthAdjust="spacingAndGlyphs">Bii</text>
<text x="566.23" y="1729.6" font-family="Liberation Sans" font-weight="bold" font-size="35.33" textLength="35.8" lengthAdjust="spacingAndGlyphs">Ci</text>
<text x="1213.56" y="1729.6" font-family="Liberation Sans" font-weight="bold" font-size="35.33" textLength="44.71" lengthAdjust="spacingAndGlyphs">Cii</text>
<text x="840.43" y="49" font-family="Liberation Sans" font-weight="normal" font-size="54.51" textLength="60.37" lengthAdjust="spacingAndGlyphs">Na</text>
<text x="903.65" y="64.2" font-family="Liberation Sans" font-weight="normal" font-size="38.37" textLength="22.7" lengthAdjust="spacingAndGlyphs">V</text>
<text x="929.83" y="49" font-family="Liberation Sans" font-weight="normal" font-size="54.51" textLength="76.02" lengthAdjust="spacingAndGlyphs">1.2</text>
<text x="854.34" y="879.9" font-family="Liberation Sans" font-weight="normal" font-size="53.49" textLength="60.16" lengthAdjust="spacingAndGlyphs">Na</text>
<text x="917.35" y="896" font-family="Liberation Sans" font-weight="normal" font-size="39.24" textLength="23.31" lengthAdjust="spacingAndGlyphs">V</text>
<text x="943.48" y="879.9" font-family="Liberation Sans" font-weight="normal" font-size="53.49" textLength="77.05" lengthAdjust="spacingAndGlyphs">1.4</text>
<text x="886.44" y="1700.8" font-family="Liberation Sans" font-weight="normal" font-size="53.63" textLength="60.16" lengthAdjust="spacingAndGlyphs">Na</text>
<text x="949.45" y="1716.3" font-family="Liberation Sans" font-weight="normal" font-size="37.36" textLength="22.7" lengthAdjust="spacingAndGlyphs">V</text>
<text x="975.77" y="1700.8" font-family="Liberation Sans" font-weight="normal" font-size="53.63" textLength="75.41" lengthAdjust="spacingAndGlyphs">1.5</text>
<text x="999.11" y="159.6" font-family="Liberation Sans" font-weight="normal" font-size="47.53" textLength="136.54" lengthAdjust="spacingAndGlyphs">pH 7.4</text>
<text x="1660.77" y="156.5" font-family="Liberation Sans" font-weight="normal" font-size="47.53" textLength="138.36" lengthAdjust="spacingAndGlyphs">pH 6.0</text>
<text x="1024.1" y="969.1" font-family="Liberation Sans" font-weight="normal" font-size="47.53" textLength="137.06" lengthAdjust="spacingAndGlyphs">pH 7.4</text>
<text x="1642.67" y="970.7" font-family="Liberation Sans" font-weight="normal" font-size="47.38" textLength="138.46" lengthAdjust="spacingAndGlyphs">pH 6.0</text>
<text x="1045.61" y="1789.1" font-family="Liberation Sans" font-weight="normal" font-size="47.53" textLength="136.54" lengthAdjust="spacingAndGlyphs">pH 7.4</text>
<text x="1680.27" y="1784.7" font-family="Liberation Sans" font-weight="normal" font-size="47.38" textLength="138.57" lengthAdjust="spacingAndGlyphs">pH 6.0</text>
<line x1="1375" y1="685.8" x2="1709.2" y2="685.8" stroke="#000" stroke-width="3.2" stroke-linecap="butt"/>
<path d="M1499.6,685.8 V482 H1584.3 V685.8" fill="none" stroke="#000" stroke-width="3.2"/>
<line x1="1499.6" y1="534.7" x2="1584.3" y2="534.7" stroke="#000" stroke-width="3.2" stroke-linecap="butt"/>
<line x1="1499.6" y1="583.7" x2="1584.3" y2="583.7" stroke="#000" stroke-width="3.2" stroke-linecap="butt"/>
<line x1="1499.6" y1="637" x2="1584.3" y2="637" stroke="#000" stroke-width="3.2" stroke-linecap="butt"/>
<text x="1507.3" y="472.6" font-family="DejaVu Sans" font-weight="normal" font-size="36.35" textLength="74.83" lengthAdjust="spacingAndGlyphs">Test</text>
<text x="1462.93" y="726.8" font-family="DejaVu Sans" font-weight="normal" font-size="36.35" textLength="130.87" lengthAdjust="spacingAndGlyphs">-60 mV</text>
<line x1="1367.3" y1="1507" x2="1702" y2="1507" stroke="#000" stroke-width="3.2" stroke-linecap="butt"/>
<path d="M1492.6,1507 V1302.9 H1577 V1507" fill="none" stroke="#000" stroke-width="3.2"/>
<line x1="1492.6" y1="1355.4" x2="1577" y2="1355.4" stroke="#000" stroke-width="3.2" stroke-linecap="butt"/>
<line x1="1492.6" y1="1405.3" x2="1577" y2="1405.3" stroke="#000" stroke-width="3.2" stroke-linecap="butt"/>
<line x1="1492.6" y1="1458.2" x2="1577" y2="1458.2" stroke="#000" stroke-width="3.2" stroke-linecap="butt"/>
<text x="1499.6" y="1293.7" font-family="DejaVu Sans" font-weight="normal" font-size="36.35" textLength="75.54" lengthAdjust="spacingAndGlyphs">Test</text>
<text x="1456.34" y="1547.9" font-family="DejaVu Sans" font-weight="normal" font-size="36.35" textLength="130.46" lengthAdjust="spacingAndGlyphs">-60 mV</text>
<line x1="1409.9" y1="2362.7" x2="1744.6" y2="2362.7" stroke="#000" stroke-width="3.2" stroke-linecap="butt"/>
<path d="M1535.3,2362.7 V2159.1 H1619.2 V2362.7" fill="none" stroke="#000" stroke-width="3.2"/>
<line x1="1535.3" y1="2212" x2="1619.2" y2="2212" stroke="#000" stroke-width="3.2" stroke-linecap="butt"/>
<line x1="1535.3" y1="2260.6" x2="1619.2" y2="2260.6" stroke="#000" stroke-width="3.2" stroke-linecap="butt"/>
<line x1="1535.3" y1="2314" x2="1619.2" y2="2314" stroke="#000" stroke-width="3.2" stroke-linecap="butt"/>
<text x="1542.3" y="2149.5" font-family="DejaVu Sans" font-weight="normal" font-size="36.35" textLength="75.54" lengthAdjust="spacingAndGlyphs">Test</text>
<text x="1499.05" y="2403.7" font-family="DejaVu Sans" font-weight="normal" font-size="36.35" textLength="129.65" lengthAdjust="spacingAndGlyphs">-60 mV</text>
<line x1="1501.08" y1="1863.7" x2="1648.7" y2="1940.2" stroke="#000" stroke-width="3.4" stroke-linecap="butt"/>
<path d="M1492.2,1859.1 L1513.3,1883.6 L1524.4,1862.2 Z" fill="#000"/>
<path d="M627.2,85.3 L628.2,86.0 L629.2,85.3 L630.2,85.0 L631.2,85.6 L632.2,84.2 L633.2,85.0 L634.2,86.9 L635.2,85.6 L636.2,85.0 L637.2,85.9 L638.2,85.8 L639.2,85.2 L640.2,84.2 L641.2,84.9 L642.2,86.1 L643.2,85.9 L644.2,84.6 L645.2,85.7 L646.2,87.0 L647.2,85.4 L648.2,86.9 L649.2,87.2 L650.2,84.4 L651.2,84.1 L652.2,83.4 L653.2,84.6 L654.2,86.1 L655.2,84.7 L656.2,85.9 L657.2,85.1 L658.2,84.7 L659.2,84.4 L660.2,83.4 L661.2,84.1 L662.2,85.8 L663.8,78.0 L665.3,79.8" fill="none" stroke="#000" stroke-width="4.2" stroke-linejoin="round" />
<path d="M627.2,87.3 L628.2,86.9 L629.2,85.0 L630.2,84.2 L631.2,85.9 L632.2,89.1 L633.2,89.0 L634.2,86.8 L635.2,88.1 L636.2,88.7 L637.2,87.3 L638.2,87.3 L639.2,87.1 L640.2,86.6 L641.2,85.6 L642.2,86.3 L643.2,87.3 L644.2,87.9 L645.2,87.7 L646.2,85.2 L647.2,85.4 L648.2,88.3 L649.2,88.1 L650.2,86.0 L651.2,85.3 L652.2,85.2 L653.2,85.9 L654.2,85.8 L655.2,87.3 L656.2,88.0 L657.2,86.9 L658.2,88.2 L659.2,89.4 L660.2,88.0 L661.2,87.1 L662.2,87.9 L663.8,78.0 L665.3,79.8" fill="none" stroke="#000" stroke-width="4.2" stroke-linejoin="round" />
<path d="M627.2,89.4 L628.2,88.0 L629.2,87.5 L630.2,87.8 L631.2,87.7 L632.2,89.2 L633.2,90.7 L634.2,90.2 L635.2,89.4 L636.2,89.4 L637.2,88.9 L638.2,88.3 L639.2,87.8 L640.2,87.8 L641.2,90.2 L642.2,90.9 L643.2,88.8 L644.2,87.7 L645.2,87.3 L646.2,88.0 L647.2,89.0 L648.2,87.6 L649.2,87.6 L650.2,88.3 L651.2,89.1 L652.2,89.7 L653.2,89.9 L654.2,89.4 L655.2,87.8 L656.2,88.4 L657.2,89.5 L658.2,89.7 L659.2,87.9 L660.2,87.6 L661.2,88.6 L662.2,88.1 L663.8,78.0 L665.3,79.8" fill="none" stroke="#000" stroke-width="4.2" stroke-linejoin="round" />
<path d="M666.2,90.0 L666.6,95.7 L667.0,101.5 L667.4,107.2 L667.8,112.9 L668.2,118.6 L668.5,124.4 L668.9,130.1 L669.3,135.8 L669.6,141.6 L669.9,147.3 L670.3,153.0 L670.6,158.7 L670.9,164.5 L671.2,170.2 L671.4,175.9 L671.7,181.7 L672.0,187.4 L672.3,193.1 L672.5,198.8 L672.8,204.6 L673.1,210.3 L673.4,216.0 L673.7,221.8 L674.0,227.5 L674.3,233.2 L674.6,238.9 L674.9,244.7 L675.1,250.4 L675.4,256.1 L675.6,261.9 L675.8,267.6 L676.0,273.3 L676.2,279.1 L676.4,284.8 L676.6,290.5 L676.8,296.2 L677.0,302.0 L677.1,307.7 L677.3,313.4 L677.4,319.2 L677.6,324.9 L677.8,330.6 L678.0,336.3 L678.2,342.1 L678.5,347.8 L678.8,353.5 L679.2,359.3 L679.6,365.0 L680.0,370.7 L680.4,376.4 L680.7,382.2 L681.1,387.9 L681.4,393.6 L681.7,399.4 L682.0,405.1 L682.3,410.8 L682.6,416.5 L682.9,422.3 L683.2,428.0" fill="none" stroke="#000" stroke-width="5.5" stroke-linejoin="round" />
<path d="M665.3,87.0 L665.6,112.6 L666.0,120.8 L666.4,127.3 L666.7,132.4 L667.1,136.4 L667.4,139.6 L667.8,142.3 L668.1,144.7 L668.5,147.2 L668.8,150.0 L669.2,153.1 L669.5,156.3 L669.9,159.4 L670.2,162.6 L670.6,165.7 L670.9,168.9 L671.3,172.0 L671.6,175.0 L672.0,178.0 L672.3,180.9 L672.7,183.8 L673.0,186.6 L673.4,189.2 L673.7,191.8 L674.1,194.3 L674.4,196.6 L674.8,198.7 L675.1,200.7 L675.5,202.6 L675.8,204.2 L676.2,205.7 L676.5,207.0 L676.9,208.0 L677.2,208.9 L677.6,209.5 L677.9,209.8 L678.3,209.9 L678.6,209.7 L679.0,209.2 L679.3,208.4 L679.7,207.3 L680.0,206.0 L680.4,204.6 L680.7,202.9 L681.1,201.2 L681.4,199.3 L681.8,197.3 L682.1,195.4 L682.5,193.5 L682.8,191.5 L683.2,189.5 L683.5,187.7 L683.9,186.2 L684.2,184.4 L684.6,182.9 L684.9,181.1 L685.3,179.9 L685.6,178.2 L686.0,177.0 L686.3,175.4 L686.7,173.3 L687.0,171.0 L687.4,169.5 L687.7,168.4 L688.1,167.6 L688.4,165.9 L688.8,164.2 L689.1,162.8 L689.5,160.9 L689.8,159.0 L690.2,158.0 L690.5,156.3 L690.9,156.1 L691.2,154.3 L691.6,154.0 L691.9,151.7 L692.3,150.5 L692.6,148.6 L693.0,147.5 L693.3,145.7 L693.7,145.6 L694.0,145.2 L694.4,144.7 L694.7,143.1 L695.1,141.8 L695.4,140.0 L695.8,139.1 L696.1,138.5 L696.5,138.0 L696.8,137.6 L697.2,136.2 L697.5,135.3 L697.9,134.4 L698.2,133.9 L698.6,133.7 L698.9,133.1 L699.3,133.3 L699.6,132.3 L700.0,131.5 L700.3,129.6 L700.7,129.1 L701.0,128.8 L701.4,128.3 L701.7,127.6 L702.1,127.0 L702.4,126.5 L702.8,125.6 L703.1,125.0 L703.5,124.3 L703.8,123.9 L704.2,123.2 L704.5,122.8 L704.9,121.6 L705.2,120.1 L705.6,118.9 L705.9,118.2 L706.3,116.8 L706.6,116.6 L707.0,116.0 L707.3,116.6 L707.7,114.9 L708.0,115.0 L708.4,114.0 L708.7,114.2 L709.1,112.6 L709.4,112.5 L709.8,112.1 L710.1,112.4 L710.5,112.4 L710.8,112.2 L711.2,112.5 L711.5,111.8 L711.9,111.0 L712.2,110.3 L712.6,110.6 L712.9,111.4 L713.3,111.5 L713.6,110.2 L714.0,109.6 L714.3,109.7 L714.7,110.3 L715.0,109.7 L715.4,109.0 L715.7,108.6 L716.1,108.9 L716.4,108.6 L716.8,109.3 L717.1,109.1 L717.5,108.6 L717.8,108.1 L718.2,108.2 L718.2,108.2 L719.4,107.3 L720.6,105.5 L721.8,105.8 L723.0,105.5 L724.2,105.3 L725.4,103.9 L726.6,103.8 L727.8,104.9 L729.0,105.5 L730.2,105.6 L731.4,104.5 L732.6,103.6 L733.8,103.4 L735.0,103.7 L736.2,103.8 L737.4,103.4 L738.6,102.2 L739.8,101.5 L741.0,100.8 L742.2,101.5 L743.4,101.3 L744.6,101.2 L745.8,99.8 L747.0,99.6 L748.2,98.4 L749.4,97.7 L750.6,97.4 L751.8,97.6 L753.0,98.0 L754.2,97.7 L755.4,97.8 L756.6,97.2 L757.8,96.5 L759.0,95.6 L760.2,95.6 L761.4,96.9 L762.6,97.3 L763.8,97.4 L765.0,96.5 L766.2,97.6 L767.4,97.7 L768.6,97.6 L769.8,96.5 L771.0,97.0 L772.2,97.4 L773.4,96.9 L774.6,96.0 L775.8,96.2 L777.0,96.5 L778.2,96.3 L779.4,96.5 L780.6,96.9 L781.8,97.5 L783.0,96.8 L784.2,96.6 L785.4,96.4 L786.6,95.8 L787.8,95.9 L789.0,95.5 L790.2,96.3 L791.4,95.5 L792.6,96.0 L793.8,95.8 L795.0,97.2 L796.2,96.7 L797.4,96.2 L798.6,95.0 L799.8,95.0 L801.0,95.3 L802.2,95.8 L803.4,96.6 L804.6,97.6 L805.8,97.1 L807.0,97.9 L808.2,98.0 L809.4,98.2 L810.6,96.0 L811.8,95.1 L813.0,95.2 L814.2,95.1 L815.4,95.2 L816.6,95.0 L817.8,95.7 L819.0,95.9 L820.2,96.5 L821.4,96.6 L822.6,96.4 L823.8,95.7 L825.0,95.6 L826.2,95.5 L827.4,96.0 L828.6,96.1 L829.8,95.1 L831.0,95.1 L832.2,94.7 L833.4,95.7 L834.6,96.3 L835.8,97.0 L837.0,96.4 L838.2,94.9 L839.4,95.5 L840.6,96.0 L841.8,96.9 L843.0,96.8 L844.2,96.8 L845.4,96.4 L846.6,95.5 L847.8,94.2 L849.0,93.6 L850.2,94.0 L851.4,95.3 L852.6,96.2 L853.8,96.2 L855.0,96.3 L856.2,96.5 L857.4,96.2 L858.6,96.0 L859.8,94.9 L861.0,95.7 L862.2,95.9 L863.4,96.8 L864.6,97.1 L865.8,97.5 L867.0,97.3 L868.2,97.0 L869.4,95.8 L870.6,96.1 L871.8,95.8 L873.0,95.7 L874.2,96.1 L875.4,95.7 L876.6,96.8 L877.8,96.0 L879.0,96.7 L880.2,97.0 L881.4,96.8 L882.6,95.7 L883.8,95.1 L885.0,95.8 L886.2,96.3 L887.4,96.1 L888.6,96.0 L889.8,94.9 L891.0,94.9 L892.2,94.0 L893.4,95.4 L894.6,95.4 L895.8,95.5 L897.0,95.2 L898.2,94.9 L899.4,95.4 L900.6,95.2 L901.8,95.7 L903.0,95.4 L904.2,96.1 L905.4,96.3 L906.6,96.8 L907.8,96.6 L909.0,96.3 L910.2,96.3 L911.4,96.3 L912.6,96.8 L913.8,96.4 L915.0,96.0 L916.2,96.2 L917.4,97.4 L918.6,97.2 L919.8,97.1 L921.0,96.0 L922.2,96.7 L923.4,96.7 L924.6,97.3 L925.8,95.7 L927.0,95.2 L928.2,94.3 L929.4,95.5 L930.6,95.5 L931.8,95.6 L933.0,96.0 L934.2,97.2 L935.4,96.2 L936.6,95.8 L937.8,95.1 L939.0,96.3 L940.2,96.3 L941.4,95.6 L942.6,95.2 L943.8,95.6 L945.0,96.7 L946.2,97.2 L947.4,96.5 L948.6,96.1 L949.8,95.9 L951.0,96.6 L952.2,96.6 L953.4,96.4 L954.6,96.3 L955.8,95.7 L957.0,96.3 L958.2,96.8 L959.4,96.8 L960.6,96.6 L961.8,95.6 L963.0,96.7 L964.2,96.9 L965.4,97.2 L966.6,97.2 L967.8,96.6 L969.0,96.4 L970.2,95.7 L971.4,95.9 L972.6,96.0 L973.8,96.3 L975.0,96.1 L976.2,96.6 L977.4,97.0 L978.6,97.1 L979.8,96.1 L981.0,96.0 L982.2,96.7 L983.4,97.3 L984.6,96.4 L985.8,96.0 L987.0,96.8 L988.2,96.5 L989.4,96.6 L990.6,95.8 L991.8,96.3 L993.0,96.3 L994.2,95.9 L995.4,96.4 L996.6,96.8 L997.8,97.4 L999.0,96.9 L1000.2,95.5 L1001.4,94.9 L1002.6,94.5 L1003.8,96.0 L1005.0,96.5 L1006.2,96.8 L1007.4,95.5 L1008.6,95.2 L1009.8,95.5 L1011.0,95.5 L1012.2,96.8 L1013.4,96.6 L1014.6,96.8 L1015.8,96.2 L1017.0,97.2 L1018.2,98.2 L1019.4,97.8 L1020.6,97.3 L1021.8,96.8 L1023.0,97.2 L1024.2,97.2 L1025.4,96.8 L1026.6,96.0 L1027.8,95.9 L1029.0,95.8 L1030.2,97.0 L1031.4,97.0 L1032.6,97.1 L1033.8,96.3 L1035.0,96.1 L1036.2,96.5 L1037.4,97.1 L1038.6,96.7 L1039.8,95.9 L1041.0,95.6 L1042.2,96.2 L1043.4,97.1 L1044.6,97.2 L1045.8,97.2 L1047.0,97.5 L1048.2,96.9 L1049.4,97.0 L1050.6,96.3 L1051.8,96.2 L1053.0,96.5 L1054.2,97.1 L1055.4,96.8 L1056.6,96.0 L1057.8,95.9 L1059.0,97.3 L1060.2,97.5 L1061.4,97.3 L1062.6,96.2 L1063.8,97.6 L1065.0,97.9 L1066.2,99.0 L1067.4,98.2 L1068.6,98.4 L1069.8,98.3 L1071.0,97.8 L1072.2,97.8 L1073.4,97.5 L1074.6,98.3 L1075.8,97.6 L1077.0,97.4 L1078.2,97.1 L1079.4,98.0 L1080.6,98.3 L1081.8,97.7 L1083.0,97.1 L1084.2,96.8 L1085.4,98.0 L1086.6,98.5 L1087.8,99.3 L1089.0,98.6 L1090.2,98.0 L1091.4,97.9 L1092.6,98.6 L1093.8,99.1 L1095.0,98.6 L1096.2,98.3 L1097.0,97.9" fill="none" stroke="#000" stroke-width="3.3" stroke-linejoin="round" />
<path d="M665.3,87.0 L665.6,93.1 L666.0,99.2 L666.4,105.2 L666.7,111.2 L667.1,117.3 L667.4,123.4 L667.8,129.5 L668.1,135.6 L668.5,141.4 L668.8,147.0 L669.2,152.2 L669.5,157.3 L669.9,162.2 L670.2,167.0 L670.6,171.7 L670.9,176.2 L671.3,180.7 L671.6,185.1 L672.0,189.4 L672.3,193.7 L672.7,197.9 L673.0,202.0 L673.4,206.1 L673.7,210.1 L674.1,214.0 L674.4,217.9 L674.8,221.7 L675.1,225.4 L675.5,229.1 L675.8,232.9 L676.2,236.6 L676.5,240.3 L676.9,244.0 L677.2,247.7 L677.6,251.5 L677.9,255.4 L678.3,259.4 L678.6,263.5 L679.0,267.5 L679.3,271.5 L679.7,275.5 L680.0,279.3 L680.4,282.9 L680.7,286.3 L681.1,289.4 L681.4,292.4 L681.8,295.7 L682.1,298.9 L682.5,302.1 L682.8,305.1 L683.2,307.7 L683.5,309.8 L683.9,311.3 L684.2,312.0 L684.6,311.8 L684.9,311.0 L685.3,309.5 L685.6,307.7 L686.0,305.6 L686.3,303.3 L686.7,300.9 L687.0,298.7 L687.4,296.7 L687.7,295.0 L688.1,293.4 L688.4,291.8 L688.8,290.3 L689.1,288.9 L689.5,287.4 L689.8,285.5 L690.2,283.5 L690.5,281.7 L690.9,279.7 L691.2,277.3 L691.6,274.4 L691.9,270.9 L692.3,267.7 L692.6,264.0 L693.0,260.9 L693.3,257.4 L693.7,253.9 L694.0,249.9 L694.4,246.5 L694.7,243.3 L695.1,240.0 L695.4,235.4 L695.8,232.1 L696.1,229.7 L696.5,228.8 L696.8,226.1 L697.2,223.1 L697.5,220.1 L697.9,218.4 L698.2,215.9 L698.6,213.9 L698.9,210.9 L699.3,209.5 L699.6,206.8 L700.0,205.3 L700.3,203.0 L700.7,201.7 L701.0,199.9 L701.4,198.8 L701.7,196.3 L702.1,194.8 L702.4,192.8 L702.8,191.8 L703.1,190.4 L703.5,188.7 L703.8,187.9 L704.2,185.6 L704.5,183.7 L704.9,182.2 L705.2,182.1 L705.6,181.4 L705.9,179.9 L706.3,177.4 L706.6,175.2 L707.0,173.4 L707.3,173.0 L707.7,171.4 L708.0,169.9 L708.4,167.0 L708.7,166.4 L709.1,165.6 L709.4,164.3 L709.8,162.5 L710.1,161.1 L710.5,160.0 L710.8,158.1 L711.2,155.3 L711.5,152.9 L711.9,152.2 L712.2,151.0 L712.6,151.0 L712.9,149.7 L713.3,148.5 L713.6,146.7 L714.0,145.6 L714.3,145.1 L714.7,144.7 L715.0,143.0 L715.4,142.7 L715.7,141.5 L716.1,140.7 L716.4,139.5 L716.8,139.6 L717.1,141.1 L717.5,140.7 L717.8,139.5 L718.2,139.1 L718.5,138.9 L718.9,139.0 L719.2,137.1 L719.6,136.2 L719.9,136.5 L720.3,136.4 L720.6,136.2 L721.0,134.8 L721.3,135.1 L721.7,134.6 L722.0,134.6 L722.4,133.6 L722.7,133.4 L723.1,132.3 L723.4,131.9 L723.8,132.1 L724.1,131.9 L724.3,130.9 L725.5,127.9 L726.7,126.4 L727.9,125.0 L729.1,124.0 L730.3,122.5 L731.5,120.7 L732.7,119.9 L733.9,118.9 L735.1,118.6 L736.3,117.4 L737.5,116.8 L738.7,116.1 L739.9,114.8 L741.1,114.1 L742.3,113.2 L743.5,112.5 L744.7,110.6 L745.9,110.1 L747.1,109.3 L748.3,109.1 L749.5,108.7 L750.7,108.5 L751.9,108.6 L753.1,108.0 L754.3,107.2 L755.5,106.1 L756.7,105.1 L757.9,105.0 L759.1,104.5 L760.3,103.9 L761.5,103.3 L762.7,102.6 L763.9,102.0 L765.1,100.4 L766.3,100.1 L767.5,100.1 L768.7,100.6 L769.9,100.2 L771.1,99.7 L772.3,99.5 L773.5,99.8 L774.7,100.1 L775.9,100.1 L777.1,99.8 L778.3,100.0 L779.5,100.1 L780.7,100.0 L781.9,100.1 L783.1,100.3 L784.3,101.0 L785.5,100.6 L786.7,100.1 L787.9,99.2 L789.1,99.6 L790.3,98.7 L791.5,99.0 L792.7,98.5 L793.9,99.8 L795.1,100.0 L796.3,99.7 L797.5,98.6 L798.7,98.3 L799.9,98.7 L801.1,99.4 L802.3,99.6 L803.5,99.2 L804.7,99.1 L805.9,99.6 L807.1,99.4 L808.3,99.5 L809.5,99.7 L810.7,100.4 L811.9,100.2 L813.1,99.7 L814.3,99.1 L815.5,99.3 L816.7,99.7 L817.9,100.9 L819.1,100.1 L820.3,99.7 L821.5,99.7 L822.7,100.2 L823.9,99.9 L825.1,99.7 L826.3,99.7 L827.5,99.8 L828.7,99.1 L829.9,98.4 L831.1,98.4 L832.3,98.3 L833.5,99.6 L834.7,100.4 L835.9,100.8 L837.1,100.2 L838.3,99.4 L839.5,99.2 L840.7,99.8 L841.9,98.9 L843.1,98.3 L844.3,96.9 L845.5,97.8 L846.7,98.3 L847.9,99.0 L849.1,98.4 L850.3,98.1 L851.5,98.0 L852.7,98.1 L853.9,98.2 L855.1,99.2 L856.3,99.5 L857.5,99.3 L858.7,98.4 L859.9,98.8 L861.1,99.4 L862.3,99.8 L863.5,99.5 L864.7,100.0 L865.9,99.4 L867.1,98.7 L868.3,97.2 L869.5,97.9 L870.7,98.1 L871.9,98.6 L873.1,98.0 L874.3,98.5 L875.5,98.7 L876.7,98.8 L877.9,99.0 L879.1,98.6 L880.3,98.3 L881.5,98.9 L882.7,99.2 L883.9,99.5 L885.1,98.0 L886.3,98.1 L887.5,98.7 L888.7,99.3 L889.9,99.6 L891.1,99.2 L892.3,98.1 L893.5,98.0 L894.7,98.8 L895.9,100.0 L897.1,99.8 L898.3,99.4 L899.5,98.8 L900.7,98.8 L901.9,97.9 L903.1,97.9 L904.3,98.0 L905.5,98.5 L906.7,99.0 L907.9,99.7 L909.1,100.4 L910.3,99.9 L911.5,98.7 L912.7,97.8 L913.9,97.5 L915.1,97.9 L916.3,98.3 L917.5,98.9 L918.7,98.9 L919.9,98.8 L921.1,98.7 L922.3,98.2 L923.5,98.9 L924.7,99.5 L925.9,99.4 L927.1,98.2 L928.3,97.5 L929.5,97.9 L930.7,98.8 L931.9,99.6 L933.1,100.0 L934.3,99.9 L935.5,100.0 L936.7,99.8 L937.9,99.5 L939.1,99.0 L940.3,97.9 L941.5,97.6 L942.7,98.5 L943.9,99.0 L945.1,98.8 L946.3,98.4 L947.5,98.7 L948.7,98.7 L949.9,99.0 L951.1,99.2 L952.3,99.8 L953.5,98.8 L954.7,98.8 L955.9,98.6 L957.1,99.2 L958.3,99.5 L959.5,99.8 L960.7,99.5 L961.9,99.3 L963.1,98.3 L964.3,98.5 L965.5,98.5 L966.7,98.8 L967.9,98.2 L969.1,97.9 L970.3,97.5 L971.5,98.0 L972.7,98.1 L973.9,98.3 L975.1,98.1 L976.3,98.5 L977.5,99.4 L978.7,99.8 L979.9,99.3 L981.1,98.6 L982.3,98.0 L983.5,98.3 L984.7,99.5 L985.9,100.3 L987.1,100.8 L988.3,100.3 L989.5,99.0 L990.7,98.2 L991.9,97.4 L993.1,98.6 L994.3,99.5 L995.5,99.4 L996.7,98.8 L997.9,98.3 L999.1,98.4 L1000.3,98.1 L1001.5,97.5 L1002.7,98.2 L1003.9,98.0 L1005.1,98.8 L1006.3,98.5 L1007.5,99.2 L1008.7,99.4 L1009.9,99.1 L1011.1,98.4 L1012.3,97.9 L1013.5,97.7 L1014.7,97.7 L1015.9,97.5 L1017.1,98.0 L1018.3,97.8 L1019.5,97.7 L1020.7,97.9 L1021.9,99.0 L1023.1,98.3 L1024.3,98.6 L1025.5,98.4 L1026.7,98.8 L1027.9,97.6 L1029.1,97.4 L1030.3,97.7 L1031.5,98.4 L1032.7,98.6 L1033.9,98.6 L1035.1,98.6 L1036.3,98.4 L1037.5,99.0 L1038.7,99.7 L1039.9,100.3 L1041.1,100.0 L1042.3,99.1 L1043.5,99.4 L1044.7,99.6 L1045.9,99.9 L1047.1,98.3 L1048.3,98.4 L1049.5,97.8 L1050.7,98.1 L1051.9,97.2 L1053.1,97.3 L1054.3,97.5 L1055.5,97.4 L1056.7,97.3 L1057.9,97.2 L1059.1,97.3 L1060.3,97.1 L1061.5,96.8 L1062.7,96.7 L1063.9,97.6 L1065.1,97.5 L1066.3,98.5 L1067.5,98.6 L1068.7,98.5 L1069.9,98.2 L1071.1,97.6 L1072.3,97.6 L1073.5,97.4 L1074.7,97.5 L1075.9,98.4 L1077.1,99.0 L1078.3,98.6 L1079.5,98.1 L1080.7,97.9 L1081.9,98.9 L1083.1,98.0 L1084.3,98.3 L1085.5,97.7 L1086.7,99.5 L1087.9,98.7 L1089.1,98.4 L1090.3,97.8 L1091.5,98.5 L1092.7,98.9 L1093.9,97.8 L1095.1,97.6 L1096.3,96.8 L1097.0,97.4" fill="none" stroke="#000" stroke-width="3.3" stroke-linejoin="round" />
<path d="M665.3,87.0 L665.6,91.5 L666.0,96.0 L666.4,100.8 L666.7,105.6 L667.1,110.6 L667.4,115.7 L667.8,120.9 L668.1,126.3 L668.5,131.7 L668.8,137.3 L669.2,143.1 L669.5,149.0 L669.9,155.1 L670.2,161.6 L670.6,168.2 L670.9,175.0 L671.3,181.9 L671.6,188.7 L672.0,195.5 L672.3,202.1 L672.7,208.5 L673.0,214.7 L673.4,220.9 L673.7,227.2 L674.1,233.6 L674.4,240.2 L674.8,247.1 L675.1,254.4 L675.5,262.2 L675.8,270.3 L676.2,278.7 L676.5,287.3 L676.9,296.5 L677.2,306.6 L677.6,317.1 L677.9,327.2 L678.3,336.0 L678.6,343.0 L679.0,349.0 L679.3,354.4 L679.7,359.3 L680.0,363.9 L680.4,368.3 L680.7,372.7 L681.1,377.2 L681.4,382.0 L681.8,387.3 L682.1,393.6 L682.5,400.6 L682.8,408.0 L683.2,415.0 L683.5,421.3 L683.9,426.2 L684.2,429.5 L684.6,430.4 L684.9,430.2 L685.3,429.8 L685.6,429.1 L686.0,428.2 L686.3,427.1 L686.7,425.9 L687.0,424.5 L687.4,423.1 L687.7,421.6 L688.1,420.1 L688.4,418.6 L688.8,417.0 L689.1,415.3 L689.5,413.2 L689.8,410.8 L690.2,408.0 L690.5,405.6 L690.9,402.9 L691.2,400.5 L691.6,398.1 L691.9,395.9 L692.3,393.1 L692.6,390.7 L693.0,388.3 L693.3,386.0 L693.7,383.2 L694.0,380.8 L694.4,377.6 L694.7,375.5 L695.1,371.5 L695.4,368.9 L695.8,365.0 L696.1,363.4 L696.5,359.9 L696.8,357.7 L697.2,353.1 L697.5,351.1 L697.9,346.8 L698.2,343.9 L698.6,339.6 L698.9,337.0 L699.3,334.1 L699.6,329.8 L700.0,326.3 L700.3,323.0 L700.7,320.3 L701.0,317.2 L701.4,313.7 L701.7,311.8 L702.1,308.8 L702.4,306.4 L702.8,304.0 L703.1,301.0 L703.5,299.1 L703.8,296.2 L704.2,294.3 L704.5,292.8 L704.9,290.7 L705.2,287.7 L705.6,284.1 L705.9,280.8 L706.3,278.2 L706.6,275.0 L707.0,271.9 L707.3,268.3 L707.7,264.4 L708.0,260.9 L708.4,257.7 L708.7,254.0 L709.1,250.3 L709.4,246.5 L709.8,244.1 L710.1,241.6 L710.5,238.5 L710.8,235.5 L711.2,232.1 L711.5,229.8 L711.9,227.6 L712.2,226.5 L712.6,225.4 L712.9,223.3 L713.3,220.6 L713.6,218.5 L714.0,216.8 L714.3,215.9 L714.7,214.2 L715.0,212.9 L715.4,211.5 L715.7,210.2 L716.1,208.1 L716.4,206.8 L716.8,204.7 L717.1,203.4 L717.5,202.4 L717.8,201.3 L718.2,199.3 L718.5,197.6 L718.9,196.5 L719.2,196.1 L719.6,194.1 L719.9,192.5 L720.3,190.5 L720.6,188.7 L721.0,187.9 L721.3,186.5 L721.7,185.3 L722.0,183.2 L722.4,182.9 L722.7,182.3 L723.1,181.1 L723.4,179.0 L723.8,177.7 L724.1,177.1 L724.5,175.2 L724.5,175.2 L725.7,171.0 L726.9,167.8 L728.1,163.9 L729.3,161.1 L730.5,159.1 L731.7,156.4 L732.9,153.6 L734.1,149.9 L735.3,147.9 L736.5,146.0 L737.7,143.8 L738.9,141.6 L740.1,140.0 L741.3,138.3 L742.5,136.9 L743.7,135.3 L744.9,133.9 L746.1,132.4 L747.3,130.7 L748.5,130.4 L749.7,128.6 L750.9,127.7 L752.1,126.1 L753.3,125.9 L754.5,124.8 L755.7,123.7 L756.9,122.4 L758.1,120.2 L759.3,118.5 L760.5,116.9 L761.7,116.7 L762.9,117.0 L764.1,115.9 L765.3,115.2 L766.5,113.6 L767.7,113.2 L768.9,113.6 L770.1,113.9 L771.3,115.1 L772.5,114.7 L773.7,114.0 L774.9,112.3 L776.1,112.5 L777.3,112.5 L778.5,112.6 L779.7,111.7 L780.9,111.7 L782.1,111.6 L783.3,110.7 L784.5,110.3 L785.7,110.1 L786.9,110.1 L788.1,109.3 L789.3,108.6 L790.5,108.0 L791.7,107.8 L792.9,108.0 L794.1,107.2 L795.3,106.5 L796.5,105.0 L797.7,105.3 L798.9,104.2 L800.1,104.3 L801.3,102.7 L802.5,103.0 L803.7,102.7 L804.9,102.0 L806.1,101.4 L807.3,99.9 L808.5,101.0 L809.7,100.8 L810.9,100.7 L812.1,99.8 L813.3,100.5 L814.5,101.9 L815.7,102.7 L816.9,101.8 L818.1,101.0 L819.3,101.2 L820.5,101.2 L821.7,101.1 L822.9,99.9 L824.1,99.7 L825.3,100.3 L826.5,101.0 L827.7,101.7 L828.9,101.4 L830.1,101.6 L831.3,102.0 L832.5,101.8 L833.7,101.1 L834.9,100.0 L836.1,100.4 L837.3,100.3 L838.5,100.1 L839.7,99.5 L840.9,99.7 L842.1,100.7 L843.3,101.3 L844.5,100.9 L845.7,100.2 L846.9,99.6 L848.1,99.3 L849.3,99.6 L850.5,100.0 L851.7,100.5 L852.9,99.8 L854.1,99.0 L855.3,99.6 L856.5,99.8 L857.7,100.7 L858.9,100.4 L860.1,100.7 L861.3,99.9 L862.5,99.7 L863.7,99.4 L864.9,99.8 L866.1,99.7 L867.3,99.8 L868.5,99.7 L869.7,99.5 L870.9,99.3 L872.1,99.3 L873.3,99.1 L874.5,98.8 L875.7,98.7 L876.9,98.9 L878.1,99.4 L879.3,98.6 L880.5,99.1 L881.7,99.7 L882.9,100.9 L884.1,100.7 L885.3,99.8 L886.5,99.5 L887.7,98.9 L888.9,100.5 L890.1,100.2 L891.3,100.9 L892.5,99.2 L893.7,98.9 L894.9,98.3 L896.1,99.3 L897.3,100.1 L898.5,100.4 L899.7,99.3 L900.9,99.5 L902.1,99.0 L903.3,100.5 L904.5,100.8 L905.7,101.6 L906.9,101.3 L908.1,99.9 L909.3,100.7 L910.5,100.3 L911.7,101.3 L912.9,99.8 L914.1,99.6 L915.3,98.6 L916.5,98.9 L917.7,98.9 L918.9,99.6 L920.1,100.3 L921.3,100.5 L922.5,100.5 L923.7,99.9 L924.9,100.5 L926.1,100.2 L927.3,100.7 L928.5,98.9 L929.7,98.7 L930.9,98.4 L932.1,99.2 L933.3,100.9 L934.5,101.9 L935.7,101.3 L936.9,99.4 L938.1,98.2 L939.3,99.6 L940.5,100.6 L941.7,100.8 L942.9,99.4 L944.1,98.5 L945.3,97.1 L946.5,97.1 L947.7,97.7 L948.9,99.2 L950.1,99.3 L951.3,99.2 L952.5,99.5 L953.7,100.2 L954.9,100.0 L956.1,99.5 L957.3,99.7 L958.5,99.8 L959.7,99.3 L960.9,98.9 L962.1,98.9 L963.3,98.9 L964.5,99.7 L965.7,100.0 L966.9,100.7 L968.1,101.1 L969.3,101.4 L970.5,101.5 L971.7,100.8 L972.9,99.9 L974.1,100.3 L975.3,99.9 L976.5,99.7 L977.7,98.2 L978.9,98.6 L980.1,99.1 L981.3,99.9 L982.5,99.7 L983.7,98.8 L984.9,98.4 L986.1,99.0 L987.3,99.8 L988.5,99.6 L989.7,99.4 L990.9,100.0 L992.1,100.0 L993.3,99.1 L994.5,98.2 L995.7,98.2 L996.9,98.0 L998.1,98.6 L999.3,98.3 L1000.5,99.4 L1001.7,99.1 L1002.9,99.3 L1004.1,99.8 L1005.3,99.4 L1006.5,99.3 L1007.7,98.7 L1008.9,99.3 L1010.1,99.6 L1011.3,99.0 L1012.5,99.0 L1013.7,99.2 L1014.9,100.6 L1016.1,100.2 L1017.3,100.0 L1018.5,98.8 L1019.7,98.2 L1020.9,98.2 L1022.1,98.8 L1023.3,99.0 L1024.5,98.7 L1025.7,97.8 L1026.9,98.8 L1028.1,98.8 L1029.3,99.6 L1030.5,98.6 L1031.7,99.0 L1032.9,98.4 L1034.1,97.7 L1035.3,97.7 L1036.5,98.3 L1037.7,98.4 L1038.9,98.3 L1040.1,97.8 L1041.3,98.3 L1042.5,98.2 L1043.7,97.6 L1044.9,98.2 L1046.1,98.8 L1047.3,99.1 L1048.5,99.0 L1049.7,99.1 L1050.9,99.7 L1052.1,99.5 L1053.3,98.4 L1054.5,98.5 L1055.7,98.6 L1056.9,99.3 L1058.1,98.6 L1059.3,99.1 L1060.5,98.6 L1061.7,99.6 L1062.9,98.8 L1064.1,98.4 L1065.3,97.8 L1066.5,97.7 L1067.7,98.2 L1068.9,98.7 L1070.1,99.6 L1071.3,99.9 L1072.5,99.3 L1073.7,98.6 L1074.9,98.8 L1076.1,99.6 L1077.3,99.6 L1078.5,99.3 L1079.7,98.5 L1080.9,98.7 L1082.1,99.2 L1083.3,98.2 L1084.5,98.2 L1085.7,97.6 L1086.9,97.8 L1088.1,97.8 L1089.3,98.1 L1090.5,99.3 L1091.7,98.5 L1092.9,99.5 L1094.1,99.4 L1095.3,99.9 L1096.5,99.6 L1097.0,99.8" fill="none" stroke="#000" stroke-width="3.3" stroke-linejoin="round" />
<path d="M665.3,87.0 L665.6,90.9 L666.0,95.0 L666.4,99.1 L666.7,103.3 L667.1,107.6 L667.4,112.0 L667.8,116.5 L668.1,121.1 L668.5,125.7 L668.8,130.4 L669.2,135.3 L669.5,140.2 L669.9,145.3 L670.2,150.6 L670.6,156.0 L670.9,161.6 L671.3,167.4 L671.6,173.3 L672.0,179.3 L672.3,185.5 L672.7,191.8 L673.0,198.2 L673.4,204.6 L673.7,211.1 L674.1,217.7 L674.4,224.5 L674.8,231.5 L675.1,238.9 L675.5,246.6 L675.8,254.7 L676.2,263.5 L676.5,272.9 L676.9,282.7 L677.2,293.1 L677.6,305.2 L677.9,318.2 L678.3,330.3 L678.6,340.0 L679.0,347.3 L679.3,353.6 L679.7,359.2 L680.0,364.3 L680.4,369.2 L680.7,374.1 L681.1,379.3 L681.4,385.0 L681.8,391.3 L682.1,398.0 L682.5,404.8 L682.8,411.7 L683.2,418.3 L683.5,424.6 L683.9,430.4 L684.2,436.1 L684.6,441.6 L684.9,446.9 L685.3,451.8 L685.6,456.4 L686.0,460.6 L686.3,464.6 L686.7,468.8 L687.0,473.0 L687.4,477.2 L687.7,481.4 L688.1,485.4 L688.4,489.2 L688.8,492.8 L689.1,496.1 L689.5,499.1 L689.8,501.7 L690.2,503.7 L690.5,505.3 L690.9,506.3 L691.2,506.6 L691.6,506.4 L691.9,505.9 L692.3,505.0 L692.6,503.8 L693.0,502.4 L693.3,500.8 L693.7,499.0 L694.0,497.0 L694.4,494.9 L694.7,492.6 L695.1,490.5 L695.4,488.4 L695.8,486.2 L696.1,483.7 L696.5,480.6 L696.8,477.3 L697.2,473.6 L697.5,470.5 L697.9,467.0 L698.2,463.8 L698.6,460.5 L698.9,457.5 L699.3,454.6 L699.6,451.6 L700.0,448.4 L700.3,445.0 L700.7,442.1 L701.0,439.8 L701.4,437.7 L701.7,434.7 L702.1,431.6 L702.4,428.3 L702.8,425.8 L703.1,422.6 L703.5,420.1 L703.8,418.1 L704.2,416.1 L704.5,414.1 L704.9,410.3 L705.2,407.0 L705.6,403.7 L705.9,401.7 L706.3,399.3 L706.6,397.1 L707.0,394.0 L707.3,392.0 L707.7,389.3 L708.0,386.4 L708.4,383.4 L708.7,380.2 L709.1,378.5 L709.4,375.4 L709.8,372.9 L710.1,370.1 L710.5,366.5 L710.8,362.9 L711.2,360.0 L711.5,358.6 L711.9,357.2 L712.2,354.6 L712.6,351.5 L712.9,348.5 L713.3,345.5 L713.6,343.4 L714.0,340.4 L714.3,338.4 L714.7,335.4 L715.0,332.7 L715.4,329.2 L715.7,328.4 L716.1,326.2 L716.4,324.6 L716.8,320.8 L717.1,318.8 L717.5,316.8 L717.8,315.4 L718.2,313.7 L718.5,311.9 L718.9,309.2 L719.2,307.0 L719.6,305.2 L719.9,303.4 L720.3,301.5 L720.6,298.0 L721.0,296.3 L721.3,294.2 L721.7,293.7 L722.0,290.2 L722.4,288.1 L722.7,285.4 L723.1,284.5 L723.4,282.1 L723.8,280.0 L724.1,278.0 L724.5,276.0 L724.8,273.4 L725.2,270.7 L725.5,268.1 L725.9,265.9 L726.2,263.3 L726.6,260.2 L726.9,258.5 L727.3,255.8 L727.6,254.4 L728.0,251.0 L728.3,249.5 L728.7,246.9 L729.0,245.2 L729.4,242.7 L729.7,240.3 L730.1,238.2 L730.4,237.0 L730.8,235.5 L731.1,233.2 L731.2,231.5 L732.4,224.1 L733.6,217.7 L734.8,212.2 L736.0,207.9 L737.2,203.3 L738.4,199.8 L739.6,195.4 L740.8,191.8 L742.0,188.5 L743.2,185.8 L744.4,183.1 L745.6,179.6 L746.8,176.2 L748.0,173.3 L749.2,170.2 L750.4,168.4 L751.6,166.0 L752.8,164.5 L754.0,161.4 L755.2,159.5 L756.4,157.3 L757.6,156.6 L758.8,154.6 L760.0,152.3 L761.2,150.1 L762.4,148.0 L763.6,146.9 L764.8,145.0 L766.0,143.8 L767.2,142.8 L768.4,141.9 L769.6,140.9 L770.8,139.3 L772.0,137.2 L773.2,135.5 L774.4,134.9 L775.6,134.8 L776.8,135.0 L778.0,133.2 L779.2,131.9 L780.4,130.1 L781.6,129.5 L782.8,128.6 L784.0,127.7 L785.2,126.8 L786.4,125.6 L787.6,125.0 L788.8,124.8 L790.0,125.0 L791.2,123.9 L792.4,122.2 L793.6,120.8 L794.8,120.1 L796.0,120.5 L797.2,119.7 L798.4,119.7 L799.6,118.2 L800.8,117.9 L802.0,117.5 L803.2,118.4 L804.4,117.8 L805.6,117.4 L806.8,115.3 L808.0,114.6 L809.2,113.6 L810.4,113.8 L811.6,114.1 L812.8,114.2 L814.0,113.3 L815.2,112.9 L816.4,111.6 L817.6,112.8 L818.8,112.3 L820.0,112.5 L821.2,111.3 L822.4,110.8 L823.6,110.4 L824.8,109.8 L826.0,109.8 L827.2,109.6 L828.4,109.9 L829.6,109.2 L830.8,109.0 L832.0,107.9 L833.2,109.1 L834.4,108.0 L835.6,107.7 L836.8,106.1 L838.0,106.6 L839.2,106.2 L840.4,104.7 L841.6,103.4 L842.8,103.2 L844.0,103.5 L845.2,103.9 L846.4,104.7 L847.6,105.5 L848.8,105.2 L850.0,104.9 L851.2,104.8 L852.4,105.6 L853.6,105.3 L854.8,104.5 L856.0,104.2 L857.2,104.9 L858.4,104.9 L859.6,105.4 L860.8,105.5 L862.0,105.5 L863.2,103.9 L864.4,102.8 L865.6,102.7 L866.8,103.6 L868.0,103.1 L869.2,104.2 L870.4,105.0 L871.6,105.3 L872.8,103.3 L874.0,102.1 L875.2,102.5 L876.4,103.8 L877.6,104.1 L878.8,103.7 L880.0,102.1 L881.2,101.8 L882.4,102.2 L883.6,102.8 L884.8,102.6 L886.0,102.2 L887.2,102.1 L888.4,101.3 L889.6,101.2 L890.8,100.6 L892.0,101.7 L893.2,101.0 L894.4,101.8 L895.6,100.8 L896.8,101.3 L898.0,100.9 L899.2,101.4 L900.4,100.9 L901.6,100.2 L902.8,99.8 L904.0,100.0 L905.2,100.0 L906.4,99.8 L907.6,99.2 L908.8,99.9 L910.0,100.1 L911.2,100.8 L912.4,101.9 L913.6,102.1 L914.8,102.3 L916.0,101.4 L917.2,101.2 L918.4,100.8 L919.6,100.8 L920.8,101.4 L922.0,100.3 L923.2,99.8 L924.4,99.2 L925.6,100.2 L926.8,100.8 L928.0,100.7 L929.2,101.3 L930.4,100.5 L931.6,100.6 L932.8,100.5 L934.0,100.4 L935.2,100.5 L936.4,99.6 L937.6,99.6 L938.8,99.9 L940.0,100.7 L941.2,100.5 L942.4,99.7 L943.6,100.5 L944.8,100.8 L946.0,100.9 L947.2,99.9 L948.4,99.9 L949.6,100.1 L950.8,100.2 L952.0,101.0 L953.2,101.1 L954.4,101.3 L955.6,100.7 L956.8,100.7 L958.0,100.1 L959.2,100.0 L960.4,100.3 L961.6,100.5 L962.8,100.2 L964.0,100.1 L965.2,99.7 L966.4,99.8 L967.6,99.6 L968.8,100.3 L970.0,100.7 L971.2,101.3 L972.4,101.5 L973.6,101.4 L974.8,100.5 L976.0,99.4 L977.2,99.6 L978.4,100.2 L979.6,101.3 L980.8,100.6 L982.0,100.6 L983.2,100.3 L984.4,102.0 L985.6,101.7 L986.8,101.2 L988.0,99.4 L989.2,98.9 L990.4,98.4 L991.6,98.7 L992.8,98.6 L994.0,98.4 L995.2,98.8 L996.4,99.4 L997.6,100.4 L998.8,100.4 L1000.0,100.7 L1001.2,100.8 L1002.4,100.2 L1003.6,99.6 L1004.8,98.5 L1006.0,98.7 L1007.2,98.9 L1008.4,99.4 L1009.6,100.5 L1010.8,101.4 L1012.0,101.6 L1013.2,100.9 L1014.4,99.9 L1015.6,99.7 L1016.8,100.0 L1018.0,99.7 L1019.2,100.0 L1020.4,99.6 L1021.6,100.4 L1022.8,100.8 L1024.0,101.7 L1025.2,101.1 L1026.4,99.9 L1027.6,98.3 L1028.8,98.3 L1030.0,98.2 L1031.2,98.2 L1032.4,98.2 L1033.6,98.4 L1034.8,99.5 L1036.0,100.5 L1037.2,100.8 L1038.4,100.6 L1039.6,99.1 L1040.8,99.2 L1042.0,98.8 L1043.2,99.0 L1044.4,98.1 L1045.6,99.1 L1046.8,98.9 L1048.0,99.2 L1049.2,98.4 L1050.4,99.3 L1051.6,100.0 L1052.8,100.0 L1054.0,99.5 L1055.2,99.7 L1056.4,99.7 L1057.6,99.5 L1058.8,99.8 L1060.0,99.6 L1061.2,100.7 L1062.4,99.3 L1063.6,98.9 L1064.8,98.2 L1066.0,98.6 L1067.2,99.6 L1068.4,99.1 L1069.6,99.5 L1070.8,98.6 L1072.0,99.5 L1073.2,99.5 L1074.4,99.7 L1075.6,100.5 L1076.8,100.4 L1078.0,101.1 L1079.2,99.5 L1080.4,99.5 L1081.6,99.0 L1082.8,99.7 L1084.0,99.6 L1085.2,99.2 L1086.4,97.7 L1087.6,97.6 L1088.8,97.6 L1090.0,98.9 L1091.2,99.5 L1092.4,100.9 L1093.6,101.3 L1094.8,101.4 L1096.0,100.6 L1097.0,100.7" fill="none" stroke="#000" stroke-width="3.3" stroke-linejoin="round" />
<path d="M665.3,87.0 L665.6,91.2 L666.0,95.7 L666.4,100.4 L666.7,105.3 L667.1,110.4 L667.4,115.7 L667.8,121.2 L668.1,126.9 L668.5,132.8 L668.8,138.8 L669.2,145.0 L669.5,151.3 L669.9,157.8 L670.2,164.4 L670.6,171.1 L670.9,177.9 L671.3,184.8 L671.6,191.9 L672.0,199.0 L672.3,206.3 L672.7,214.1 L673.0,222.3 L673.4,230.8 L673.7,239.6 L674.1,248.6 L674.4,257.8 L674.8,267.0 L675.1,276.3 L675.5,285.6 L675.8,294.8 L676.2,304.0 L676.5,313.9 L676.9,324.4 L677.2,335.1 L677.6,345.7 L677.9,355.8 L678.3,365.0 L678.6,372.9 L679.0,379.3 L679.3,384.3 L679.7,389.1 L680.0,393.7 L680.4,398.1 L680.7,402.3 L681.1,406.3 L681.4,410.1 L681.8,413.8 L682.1,417.3 L682.5,420.7 L682.8,423.9 L683.2,427.0 L683.5,430.0 L683.9,432.8 L684.2,435.5 L684.6,438.1 L684.9,440.7 L685.3,443.1 L685.6,445.4 L686.0,447.7 L686.3,449.9 L686.7,452.1 L687.0,454.2 L687.4,456.3 L687.7,458.3 L688.1,460.3 L688.4,462.2 L688.8,464.1 L689.1,466.0 L689.5,467.8 L689.8,469.5 L690.2,471.2 L690.5,472.8 L690.9,474.4 L691.2,475.9 L691.6,477.4 L691.9,478.8 L692.3,480.2 L692.6,481.6 L693.0,482.9 L693.3,484.2 L693.7,485.5 L694.0,486.7 L694.4,487.9 L694.7,489.0 L695.1,490.2 L695.4,491.3 L695.8,492.5 L696.1,493.7 L696.5,495.0 L696.8,496.2 L697.2,497.4 L697.5,498.5 L697.9,499.6 L698.2,500.6 L698.6,501.4 L698.9,502.2 L699.3,502.8 L699.6,503.2 L700.0,503.4 L700.3,503.5 L700.7,503.3 L701.0,503.0 L701.4,502.4 L701.7,501.8 L702.1,501.1 L702.4,500.3 L702.8,499.5 L703.1,498.8 L703.5,498.1 L703.8,497.4 L704.2,496.8 L704.5,496.1 L704.9,495.3 L705.2,494.7 L705.6,494.0 L705.9,493.2 L706.3,492.7 L706.6,492.1 L707.0,491.1 L707.3,489.8 L707.7,488.9 L708.0,488.1 L708.4,486.9 L708.7,485.0 L709.1,483.0 L709.4,481.5 L709.8,480.4 L710.1,478.9 L710.5,477.0 L710.8,475.3 L711.2,473.4 L711.5,471.5 L711.9,469.7 L712.2,469.0 L712.6,468.1 L712.9,466.7 L713.3,465.3 L713.6,463.4 L714.0,460.5 L714.3,458.3 L714.7,456.0 L715.0,453.8 L715.4,449.6 L715.7,446.2 L716.1,441.8 L716.4,439.1 L716.8,434.8 L717.1,432.6 L717.5,430.4 L717.8,428.7 L718.2,426.9 L718.5,423.8 L718.9,421.4 L719.2,418.3 L719.6,416.4 L719.9,414.3 L720.3,413.0 L720.6,411.5 L721.0,409.8 L721.3,406.9 L721.7,404.6 L722.0,403.3 L722.4,402.4 L722.7,400.5 L723.1,398.7 L723.4,397.3 L723.8,394.4 L724.1,393.0 L724.5,391.1 L724.8,390.9 L725.2,388.3 L725.5,386.5 L725.9,384.9 L726.2,382.8 L726.6,381.4 L726.9,379.5 L727.3,379.1 L727.6,377.4 L728.0,375.5 L728.3,373.1 L728.7,371.3 L729.0,369.7 L729.4,368.2 L729.7,365.8 L730.1,363.4 L730.4,361.1 L730.8,359.0 L731.1,357.5 L731.5,356.1 L731.8,354.3 L732.2,352.3 L732.5,350.7 L732.9,349.4 L733.2,348.2 L733.6,345.5 L733.9,343.6 L734.3,341.7 L734.6,341.2 L735.0,340.1 L735.3,337.7 L735.7,335.4 L736.0,333.8 L736.4,333.1 L736.7,330.5 L737.1,328.3 L737.4,327.2 L737.8,325.6 L738.1,324.0 L738.5,321.0 L738.8,319.2 L739.2,317.2 L739.5,316.3 L739.9,315.8 L740.2,314.0 L740.2,313.3 L741.4,307.2 L742.6,301.5 L743.8,296.8 L745.0,292.6 L746.2,288.5 L747.4,282.0 L748.6,276.0 L749.8,270.0 L751.0,264.6 L752.2,259.1 L753.4,254.0 L754.6,249.9 L755.8,246.7 L757.0,242.6 L758.2,238.3 L759.4,234.6 L760.6,231.9 L761.8,228.7 L763.0,225.2 L764.2,222.2 L765.4,220.3 L766.6,218.4 L767.8,216.7 L769.0,214.3 L770.2,211.4 L771.4,207.7 L772.6,205.3 L773.8,202.8 L775.0,200.0 L776.2,196.4 L777.4,194.1 L778.6,192.2 L779.8,190.1 L781.0,186.7 L782.2,184.9 L783.4,184.7 L784.6,184.3 L785.8,183.5 L787.0,181.9 L788.2,181.7 L789.4,181.7 L790.6,180.5 L791.8,179.1 L793.0,177.3 L794.2,176.3 L795.4,174.4 L796.6,173.2 L797.8,171.8 L799.0,170.8 L800.2,169.2 L801.4,167.1 L802.6,165.3 L803.8,162.8 L805.0,161.5 L806.2,160.1 L807.4,158.9 L808.6,157.1 L809.8,156.4 L811.0,155.5 L812.2,154.5 L813.4,151.9 L814.6,150.8 L815.8,150.8 L817.0,151.4 L818.2,151.2 L819.4,150.1 L820.6,149.3 L821.8,147.5 L823.0,147.2 L824.2,146.8 L825.4,146.8 L826.6,146.1 L827.8,145.2 L829.0,144.9 L830.2,145.0 L831.4,143.8 L832.6,143.7 L833.8,141.7 L835.0,141.2 L836.2,139.5 L837.4,139.3 L838.6,138.7 L839.8,138.5 L841.0,137.9 L842.2,138.4 L843.4,137.7 L844.6,136.9 L845.8,135.4 L847.0,134.8 L848.2,134.2 L849.4,132.8 L850.6,131.5 L851.8,131.1 L853.0,131.3 L854.2,131.3 L855.4,130.6 L856.6,129.8 L857.8,128.8 L859.0,128.4 L860.2,128.3 L861.4,128.5 L862.6,128.4 L863.8,127.1 L865.0,126.1 L866.2,124.5 L867.4,124.6 L868.6,123.9 L869.8,123.3 L871.0,122.2 L872.2,122.1 L873.4,121.3 L874.6,120.6 L875.8,120.6 L877.0,121.4 L878.2,121.8 L879.4,120.4 L880.6,120.8 L881.8,121.1 L883.0,121.9 L884.2,120.5 L885.4,120.1 L886.6,120.1 L887.8,120.3 L889.0,119.7 L890.2,118.8 L891.4,119.1 L892.6,118.9 L893.8,118.8 L895.0,117.8 L896.2,117.0 L897.4,117.4 L898.6,118.6 L899.8,119.6 L901.0,119.6 L902.2,118.5 L903.4,117.9 L904.6,117.3 L905.8,117.3 L907.0,117.9 L908.2,116.9 L909.4,116.6 L910.6,115.5 L911.8,115.6 L913.0,116.1 L914.2,115.2 L915.4,115.9 L916.6,115.8 L917.8,116.7 L919.0,116.6 L920.2,117.1 L921.4,116.9 L922.6,116.5 L923.8,115.4 L925.0,115.5 L926.2,114.7 L927.4,114.1 L928.6,114.0 L929.8,113.8 L931.0,114.4 L932.2,114.3 L933.4,114.2 L934.6,113.8 L935.8,113.3 L937.0,113.2 L938.2,113.4 L939.4,113.2 L940.6,113.2 L941.8,111.6 L943.0,111.7 L944.2,110.7 L945.4,111.2 L946.6,111.4 L947.8,112.6 L949.0,112.4 L950.2,110.8 L951.4,109.9 L952.6,109.7 L953.8,110.1 L955.0,109.1 L956.2,109.5 L957.4,109.7 L958.6,109.4 L959.8,108.3 L961.0,107.0 L962.2,107.7 L963.4,107.0 L964.6,107.1 L965.8,106.4 L967.0,106.7 L968.2,106.7 L969.4,105.7 L970.6,105.3 L971.8,104.4 L973.0,105.4 L974.2,105.7 L975.4,105.4 L976.6,105.1 L977.8,104.9 L979.0,104.8 L980.2,104.2 L981.4,104.4 L982.6,105.7 L983.8,105.2 L985.0,105.0 L986.2,103.5 L987.4,103.7 L988.6,104.1 L989.8,104.4 L991.0,104.6 L992.2,103.6 L993.4,102.8 L994.6,102.5 L995.8,102.4 L997.0,102.5 L998.2,102.6 L999.4,102.1 L1000.6,102.0 L1001.8,102.0 L1003.0,102.4 L1004.2,103.0 L1005.4,102.2 L1006.6,102.5 L1007.8,101.9 L1009.0,102.8 L1010.2,102.8 L1011.4,103.3 L1012.6,103.4 L1013.8,103.1 L1015.0,102.6 L1016.2,102.5 L1017.4,102.5 L1018.6,103.3 L1019.8,102.6 L1021.0,103.0 L1022.2,102.0 L1023.4,101.3 L1024.6,100.1 L1025.8,100.8 L1027.0,100.5 L1028.2,100.3 L1029.4,99.3 L1030.6,100.2 L1031.8,101.2 L1033.0,101.4 L1034.2,101.6 L1035.4,101.5 L1036.6,102.4 L1037.8,102.5 L1039.0,102.0 L1040.2,101.5 L1041.4,101.0 L1042.6,101.5 L1043.8,101.4 L1045.0,101.5 L1046.2,101.6 L1047.4,101.5 L1048.6,101.8 L1049.8,101.5 L1051.0,101.3 L1052.2,101.4 L1053.4,101.8 L1054.6,102.4 L1055.8,102.3 L1057.0,101.7 L1058.2,101.2 L1059.4,101.0 L1060.6,100.3 L1061.8,99.7 L1063.0,100.3 L1064.2,101.0 L1065.4,100.2 L1066.6,99.5 L1067.8,99.5 L1069.0,100.3 L1070.2,101.3 L1071.4,101.7 L1072.6,102.6 L1073.8,101.5 L1075.0,101.2 L1076.2,101.2 L1077.4,101.5 L1078.6,101.0 L1079.8,100.7 L1081.0,100.5 L1082.2,100.9 L1083.4,100.4 L1084.6,100.4 L1085.8,100.3 L1087.0,100.9 L1088.2,100.8 L1089.4,100.2 L1090.6,100.4 L1091.8,100.7 L1093.0,100.7 L1094.2,100.3 L1095.4,99.6 L1096.6,100.0 L1097.0,100.5" fill="none" stroke="#000" stroke-width="3.3" stroke-linejoin="round" />
<path d="M1292.9,80.2 L1293.9,79.3 L1294.9,80.4 L1295.9,82.3 L1296.9,81.4 L1297.9,81.3 L1298.9,80.4 L1299.9,80.2 L1300.9,80.2 L1301.9,79.9 L1302.9,80.7 L1303.9,80.2 L1304.9,81.1 L1305.9,81.2 L1306.9,80.7 L1307.9,81.0 L1308.9,79.5 L1309.9,80.2 L1310.9,81.2 L1311.9,80.8 L1312.9,80.6 L1313.9,80.3 L1314.9,80.6 L1315.9,80.7 L1316.9,80.4 L1317.9,81.6 L1318.9,80.6 L1319.9,79.4 L1320.9,79.9 L1321.9,79.7 L1322.9,79.3 L1323.9,79.6 L1324.9,80.7 L1325.9,80.8 L1326.9,79.5 L1327.9,80.1 L1328.9,81.7 L1329.9,81.3 L1330.9,80.1 L1332.5,76.0 L1334.0,77.2" fill="none" stroke="#000" stroke-width="4.2" stroke-linejoin="round" />
<path d="M1292.9,81.7 L1293.9,82.3 L1294.9,83.0 L1295.9,83.3 L1296.9,82.8 L1297.9,81.9 L1298.9,82.2 L1299.9,82.4 L1300.9,82.1 L1301.9,82.2 L1302.9,82.4 L1303.9,81.1 L1304.9,81.8 L1305.9,82.6 L1306.9,80.7 L1307.9,80.5 L1308.9,82.0 L1309.9,82.2 L1310.9,83.6 L1311.9,83.0 L1312.9,81.5 L1313.9,80.8 L1314.9,79.8 L1315.9,80.6 L1316.9,81.5 L1317.9,81.8 L1318.9,82.3 L1319.9,83.0 L1320.9,83.2 L1321.9,82.6 L1322.9,82.2 L1323.9,81.8 L1324.9,81.8 L1325.9,82.6 L1326.9,82.0 L1327.9,79.4 L1328.9,79.3 L1329.9,83.3 L1330.9,83.7 L1332.5,76.0 L1334.0,77.2" fill="none" stroke="#000" stroke-width="4.2" stroke-linejoin="round" />
<path d="M1292.9,83.4 L1293.9,82.3 L1294.9,82.2 L1295.9,82.3 L1296.9,82.7 L1297.9,84.6 L1298.9,85.1 L1299.9,83.6 L1300.9,82.2 L1301.9,81.6 L1302.9,82.6 L1303.9,84.0 L1304.9,84.2 L1305.9,84.1 L1306.9,82.7 L1307.9,81.1 L1308.9,82.7 L1309.9,83.5 L1310.9,84.0 L1311.9,83.1 L1312.9,81.0 L1313.9,81.9 L1314.9,82.8 L1315.9,83.9 L1316.9,83.4 L1317.9,83.3 L1318.9,82.8 L1319.9,82.0 L1320.9,82.1 L1321.9,82.0 L1322.9,82.4 L1323.9,83.0 L1324.9,85.9 L1325.9,84.7 L1326.9,82.2 L1327.9,83.6 L1328.9,83.8 L1329.9,84.3 L1330.9,83.5 L1332.5,76.0 L1334.0,77.2" fill="none" stroke="#000" stroke-width="4.2" stroke-linejoin="round" />
<path d="M1335.0,86.0 L1335.5,91.0 L1335.9,96.0 L1336.3,100.9 L1336.7,105.9 L1337.0,110.9 L1337.3,115.9 L1337.6,120.9 L1337.9,125.9 L1338.1,130.8 L1338.4,135.8 L1338.6,140.8 L1338.8,145.8 L1339.1,150.8 L1339.2,155.8 L1339.4,160.7 L1339.6,165.7 L1339.7,170.7 L1339.9,175.7 L1340.0,180.7 L1340.2,185.7 L1340.3,190.6 L1340.4,195.6 L1340.5,200.6 L1340.7,205.6 L1340.8,210.6 L1340.9,215.6 L1340.9,220.5 L1341.0,225.5 L1341.1,230.5 L1341.2,235.5 L1341.3,240.5 L1341.4,245.5 L1341.5,250.4 L1341.6,255.4 L1341.7,260.4 L1341.8,265.4 L1342.0,270.4 L1342.1,275.4 L1342.3,280.3 L1342.4,285.3 L1342.6,290.3 L1342.8,295.3 L1343.0,300.3 L1343.3,305.3 L1343.5,310.2 L1343.7,315.2 L1343.9,320.2 L1344.1,325.2 L1344.2,330.2 L1344.4,335.2 L1344.5,340.1 L1344.6,345.1 L1344.7,350.1 L1344.9,355.1 L1345.0,360.1 L1345.0,365.1 L1345.1,370.0 L1345.2,375.0 L1345.2,380.0" fill="none" stroke="#000" stroke-width="5.5" stroke-linejoin="round" />
<path d="M1334.0,82.0 L1334.3,106.9 L1334.7,112.6 L1335.0,117.0 L1335.4,120.4 L1335.7,122.9 L1336.1,124.7 L1336.4,126.3 L1336.8,127.8 L1337.1,129.4 L1337.5,131.3 L1337.8,133.2 L1338.2,135.2 L1338.5,137.1 L1338.9,139.0 L1339.2,140.8 L1339.6,142.6 L1339.9,144.2 L1340.3,145.6 L1340.6,146.9 L1341.0,148.0 L1341.3,148.8 L1341.7,149.5 L1342.0,149.8 L1342.4,149.9 L1342.7,149.8 L1343.1,149.7 L1343.4,149.5 L1343.8,149.3 L1344.1,149.0 L1344.5,148.7 L1344.8,148.3 L1345.2,147.9 L1345.5,147.4 L1345.9,146.9 L1346.2,146.4 L1346.6,145.8 L1346.9,145.1 L1347.3,144.4 L1347.6,143.8 L1348.0,143.4 L1348.3,142.8 L1348.7,142.4 L1349.0,141.8 L1349.4,141.0 L1349.7,139.8 L1350.1,138.7 L1350.4,138.2 L1350.8,137.6 L1351.1,137.3 L1351.5,136.9 L1351.8,136.9 L1352.2,136.2 L1352.5,135.3 L1352.9,134.4 L1353.2,133.3 L1353.6,132.8 L1353.9,131.6 L1354.3,131.8 L1354.6,129.9 L1355.0,129.8 L1355.3,129.0 L1355.7,129.4 L1356.0,128.5 L1356.4,127.4 L1356.7,127.3 L1357.1,127.2 L1357.4,126.3 L1357.8,125.8 L1358.1,124.0 L1358.5,123.5 L1358.8,122.3 L1359.2,121.3 L1359.5,120.5 L1359.9,119.2 L1360.2,119.3 L1360.6,118.0 L1360.9,116.7 L1361.3,115.0 L1361.6,114.7 L1362.0,114.9 L1362.3,114.9 L1362.7,113.8 L1363.0,113.3 L1363.4,112.3 L1363.7,111.9 L1364.1,111.4 L1364.4,111.0 L1364.8,109.8 L1365.1,109.2 L1365.5,108.9 L1365.8,109.1 L1366.2,108.9 L1366.5,108.2 L1366.9,108.3 L1367.2,107.4 L1367.6,108.4 L1367.9,106.9 L1368.3,106.6 L1368.6,105.2 L1369.0,106.2 L1369.3,105.5 L1369.7,104.7 L1370.0,104.5 L1370.4,104.2 L1370.7,104.3 L1371.1,103.4 L1371.4,103.4 L1371.8,102.4 L1372.1,101.9 L1372.5,101.5 L1372.8,101.9 L1373.2,102.4 L1373.5,102.4 L1373.9,102.4 L1374.2,101.7 L1374.6,101.9 L1374.9,101.2 L1375.3,101.0 L1375.6,99.6 L1376.0,99.3 L1376.3,99.5 L1376.7,100.1 L1377.0,99.6 L1377.4,99.0 L1377.7,98.8 L1378.1,99.0 L1378.4,99.1 L1378.8,98.9 L1379.1,99.3 L1379.5,99.5 L1379.8,99.2 L1380.2,99.6 L1380.5,98.9 L1380.9,99.0 L1381.2,99.0 L1381.6,99.2 L1381.9,99.0 L1382.3,98.3 L1383.5,97.9 L1384.7,97.1 L1385.9,97.2 L1387.1,96.9 L1388.3,96.7 L1389.5,95.8 L1390.7,96.1 L1391.9,96.0 L1393.1,97.2 L1394.3,96.2 L1395.5,96.8 L1396.7,94.5 L1397.9,94.9 L1399.1,94.4 L1400.3,95.7 L1401.5,95.7 L1402.7,95.7 L1403.9,96.4 L1405.1,96.6 L1406.3,96.3 L1407.5,95.4 L1408.7,93.7 L1409.9,93.7 L1411.1,94.1 L1412.3,95.1 L1413.5,95.4 L1414.7,94.3 L1415.9,94.9 L1417.1,94.9 L1418.3,95.4 L1419.5,95.4 L1420.7,96.1 L1421.9,96.5 L1423.1,95.2 L1424.3,94.7 L1425.5,94.4 L1426.7,94.7 L1427.9,93.7 L1429.1,93.4 L1430.3,93.8 L1431.5,94.5 L1432.7,94.3 L1433.9,94.5 L1435.1,94.7 L1436.3,94.8 L1437.5,94.9 L1438.7,94.5 L1439.9,93.9 L1441.1,93.7 L1442.3,94.4 L1443.5,96.3 L1444.7,95.3 L1445.9,94.7 L1447.1,93.1 L1448.3,94.1 L1449.5,94.0 L1450.7,94.4 L1451.9,94.7 L1453.1,94.7 L1454.3,94.6 L1455.5,94.9 L1456.7,95.6 L1457.9,94.9 L1459.1,95.1 L1460.3,94.4 L1461.5,95.3 L1462.7,94.1 L1463.9,94.2 L1465.1,93.8 L1466.3,94.2 L1467.5,94.1 L1468.7,93.8 L1469.9,93.2 L1471.1,93.6 L1472.3,93.2 L1473.5,93.8 L1474.7,93.5 L1475.9,94.7 L1477.1,95.0 L1478.3,95.4 L1479.5,95.3 L1480.7,94.5 L1481.9,94.0 L1483.1,92.9 L1484.3,93.1 L1485.5,93.1 L1486.7,92.9 L1487.9,93.1 L1489.1,94.1 L1490.3,95.3 L1491.5,95.7 L1492.7,94.9 L1493.9,94.3 L1495.1,93.8 L1496.3,93.8 L1497.5,93.8 L1498.7,94.2 L1499.9,94.4 L1501.1,94.7 L1502.3,94.3 L1503.5,94.2 L1504.7,94.7 L1505.9,95.4 L1507.1,95.2 L1508.3,94.4 L1509.5,94.3 L1510.7,95.7 L1511.9,95.9 L1513.1,94.9 L1514.3,93.3 L1515.5,93.6 L1516.7,94.0 L1517.9,94.5 L1519.1,94.9 L1520.3,94.5 L1521.5,94.3 L1522.7,93.4 L1523.9,94.4 L1525.1,95.1 L1526.3,96.3 L1527.5,95.3 L1528.7,95.4 L1529.9,95.0 L1531.1,95.7 L1532.3,95.4 L1533.5,95.1 L1534.7,94.7 L1535.9,93.8 L1537.1,93.7 L1538.3,93.7 L1539.5,93.8 L1540.7,94.1 L1541.9,94.8 L1543.1,95.1 L1544.3,94.7 L1545.5,93.7 L1546.7,94.0 L1547.9,95.3 L1549.1,95.7 L1550.3,95.7 L1551.5,94.3 L1552.7,94.4 L1553.9,94.7 L1555.1,95.1 L1556.3,94.9 L1557.5,94.4 L1558.7,94.9 L1559.9,95.5 L1561.1,96.0 L1562.3,95.9 L1563.5,95.3 L1564.7,94.9 L1565.9,94.3 L1567.1,94.1 L1568.3,94.5 L1569.5,94.8 L1570.7,95.5 L1571.9,95.7 L1573.1,96.4 L1574.3,96.3 L1575.5,95.9 L1576.7,95.3 L1577.9,94.2 L1579.1,95.1 L1580.3,94.8 L1581.5,95.3 L1582.7,95.4 L1583.9,95.2 L1585.1,95.1 L1586.3,94.3 L1587.5,94.5 L1588.7,94.8 L1589.9,95.0 L1591.1,95.5 L1592.3,95.5 L1593.5,95.7 L1594.7,95.3 L1595.9,95.6 L1597.1,95.8 L1598.3,95.2 L1599.5,94.8 L1600.7,94.4 L1601.9,94.3 L1603.1,93.1 L1604.3,93.1 L1605.5,93.7 L1606.7,95.4 L1607.9,95.3 L1609.1,95.6 L1610.3,95.1 L1611.5,95.2 L1612.7,94.8 L1613.9,94.7 L1615.1,95.0 L1616.3,95.3 L1617.5,95.8 L1618.7,95.4 L1619.9,95.4 L1621.1,94.8 L1622.3,95.2 L1623.5,94.9 L1624.7,95.6 L1625.9,94.5 L1627.1,95.0 L1628.3,95.0 L1629.5,95.4 L1630.7,94.6 L1631.9,94.4 L1633.1,94.7 L1634.3,95.2 L1635.5,95.0 L1636.7,95.3 L1637.9,95.5 L1639.1,95.7 L1640.3,95.6 L1641.5,95.7 L1642.7,95.6 L1643.9,95.6 L1645.1,95.5 L1646.3,96.2 L1647.5,95.5 L1648.7,95.8 L1649.9,96.0 L1651.1,96.5 L1652.3,96.6 L1653.5,96.2 L1654.7,96.4 L1655.9,96.3 L1657.1,96.3 L1658.3,95.8 L1659.5,96.6 L1660.7,96.0 L1661.9,96.5 L1663.1,95.2 L1664.3,95.9 L1665.5,96.1 L1666.7,96.1 L1667.9,96.6 L1669.1,95.6 L1670.3,95.7 L1671.5,95.1 L1672.7,95.1 L1673.9,95.9 L1675.1,96.0 L1676.3,95.2 L1677.5,94.2 L1678.7,93.7 L1679.9,95.1 L1681.1,95.2 L1682.3,95.2 L1683.5,95.3 L1684.7,95.4 L1685.9,95.8 L1687.1,95.0 L1688.3,95.9 L1689.5,96.4 L1690.7,96.5 L1691.9,95.0 L1693.1,93.6 L1694.3,94.6 L1695.5,95.4 L1696.7,96.6 L1697.9,95.6 L1699.1,95.4 L1700.3,94.9 L1701.5,96.0 L1702.7,96.3 L1703.9,95.9 L1705.1,95.6 L1706.3,95.8 L1707.5,96.4 L1708.7,96.2 L1709.9,95.9 L1711.1,95.7 L1712.3,94.7 L1713.5,95.1 L1714.7,95.7 L1715.9,97.0 L1717.1,96.5 L1718.3,95.3 L1719.5,95.6 L1720.7,95.8 L1721.9,96.4 L1723.1,96.0 L1724.3,95.9 L1725.5,96.1 L1726.7,96.6 L1727.9,96.7 L1729.1,97.5 L1730.3,97.1 L1731.5,97.4 L1732.7,97.0 L1733.9,97.3 L1735.1,97.6 L1736.3,97.4 L1737.5,96.8 L1738.7,97.0 L1739.9,96.7 L1741.1,96.6 L1742.3,96.3 L1743.5,96.7 L1744.7,97.1 L1745.9,96.7 L1747.1,96.7 L1748.3,97.6 L1749.5,97.5 L1750.7,96.7 L1751.9,95.6 L1753.1,95.9 L1754.3,96.4 L1755.5,96.3 L1756.7,96.4 L1757.9,96.9 L1759.1,97.1 L1760.3,96.9 L1761.5,96.3 L1762.7,96.1 L1763.9,95.9 L1764.0,95.5" fill="none" stroke="#000" stroke-width="3.3" stroke-linejoin="round" />
<path d="M1334.0,82.0 L1334.3,86.1 L1334.7,90.9 L1335.0,96.3 L1335.4,102.2 L1335.7,108.7 L1336.1,116.6 L1336.4,124.7 L1336.8,132.1 L1337.1,138.8 L1337.5,145.2 L1337.8,151.5 L1338.2,158.1 L1338.5,165.1 L1338.9,172.3 L1339.2,179.8 L1339.6,187.3 L1339.9,194.8 L1340.3,202.2 L1340.6,209.8 L1341.0,217.9 L1341.3,226.0 L1341.7,234.1 L1342.0,241.7 L1342.4,248.5 L1342.7,254.3 L1343.1,259.1 L1343.4,263.9 L1343.8,268.7 L1344.1,273.1 L1344.5,277.2 L1344.8,280.8 L1345.2,283.6 L1345.5,285.5 L1345.9,286.5 L1346.2,286.3 L1346.6,285.5 L1346.9,284.3 L1347.3,282.8 L1347.6,281.2 L1348.0,279.6 L1348.3,278.3 L1348.7,277.0 L1349.0,275.8 L1349.4,274.6 L1349.7,273.2 L1350.1,271.6 L1350.4,269.7 L1350.8,267.1 L1351.1,263.8 L1351.5,259.7 L1351.8,255.3 L1352.2,251.1 L1352.5,247.2 L1352.9,244.0 L1353.2,240.7 L1353.6,238.0 L1353.9,234.7 L1354.3,231.3 L1354.6,228.1 L1355.0,224.8 L1355.3,222.5 L1355.7,220.4 L1356.0,218.0 L1356.4,215.4 L1356.7,211.7 L1357.1,209.3 L1357.4,206.9 L1357.8,205.4 L1358.1,203.8 L1358.5,202.6 L1358.8,201.0 L1359.2,199.3 L1359.5,196.4 L1359.9,195.2 L1360.2,193.7 L1360.6,192.2 L1360.9,190.8 L1361.3,189.2 L1361.6,189.2 L1362.0,188.0 L1362.3,187.1 L1362.7,186.2 L1363.0,184.7 L1363.4,183.2 L1363.7,181.2 L1364.1,179.9 L1364.4,178.3 L1364.8,177.0 L1365.1,175.6 L1365.5,174.1 L1365.8,171.3 L1366.2,169.8 L1366.5,168.7 L1366.9,167.9 L1367.2,165.9 L1367.6,164.3 L1367.9,162.3 L1368.3,160.9 L1368.6,158.6 L1369.0,156.7 L1369.3,154.8 L1369.7,153.5 L1370.0,153.0 L1370.4,152.7 L1370.7,152.0 L1371.1,151.3 L1371.4,150.4 L1371.8,150.1 L1372.1,148.8 L1372.5,146.6 L1372.8,145.9 L1373.2,144.6 L1373.5,143.2 L1373.9,140.6 L1374.2,140.8 L1374.6,140.2 L1374.9,140.2 L1375.3,138.9 L1375.6,139.4 L1376.0,138.2 L1376.3,137.6 L1376.7,136.4 L1377.0,137.0 L1377.4,136.1 L1377.7,135.5 L1378.1,134.0 L1378.4,134.0 L1378.8,133.6 L1379.1,133.0 L1379.5,132.1 L1379.8,130.4 L1380.2,130.0 L1380.5,128.8 L1380.9,128.7 L1381.2,128.5 L1381.6,129.3 L1381.9,129.1 L1382.3,128.0 L1382.6,126.4 L1383.0,126.1 L1383.3,125.6 L1383.7,125.7 L1384.0,125.5 L1384.4,125.4 L1384.7,124.4 L1385.1,123.6 L1385.4,122.5 L1385.8,121.5 L1386.0,121.4 L1387.2,121.1 L1388.4,121.1 L1389.6,119.0 L1390.8,115.3 L1392.0,113.2 L1393.2,112.4 L1394.4,112.7 L1395.6,112.6 L1396.8,111.0 L1398.0,110.6 L1399.2,109.2 L1400.4,108.9 L1401.6,107.3 L1402.8,106.4 L1404.0,105.8 L1405.2,105.6 L1406.4,104.4 L1407.6,103.5 L1408.8,102.8 L1410.0,103.1 L1411.2,103.4 L1412.4,103.7 L1413.6,103.5 L1414.8,102.7 L1416.0,102.5 L1417.2,101.2 L1418.4,101.2 L1419.6,101.3 L1420.8,101.8 L1422.0,101.9 L1423.2,100.7 L1424.4,100.8 L1425.6,100.3 L1426.8,101.0 L1428.0,100.9 L1429.2,101.9 L1430.4,100.1 L1431.6,99.2 L1432.8,97.7 L1434.0,99.0 L1435.2,99.2 L1436.4,99.0 L1437.6,98.0 L1438.8,97.5 L1440.0,97.2 L1441.2,98.4 L1442.4,98.5 L1443.6,99.9 L1444.8,99.6 L1446.0,99.6 L1447.2,98.6 L1448.4,98.4 L1449.6,97.8 L1450.8,96.6 L1452.0,96.7 L1453.2,96.7 L1454.4,97.7 L1455.6,97.3 L1456.8,96.9 L1458.0,96.8 L1459.2,96.7 L1460.4,98.1 L1461.6,97.7 L1462.8,97.7 L1464.0,97.3 L1465.2,97.2 L1466.4,97.7 L1467.6,97.9 L1468.8,98.7 L1470.0,98.1 L1471.2,98.2 L1472.4,97.1 L1473.6,96.6 L1474.8,96.5 L1476.0,96.9 L1477.2,97.0 L1478.4,96.6 L1479.6,95.9 L1480.8,96.2 L1482.0,96.3 L1483.2,96.9 L1484.4,96.3 L1485.6,96.8 L1486.8,97.2 L1488.0,97.2 L1489.2,96.2 L1490.4,95.2 L1491.6,94.9 L1492.8,94.3 L1494.0,94.7 L1495.2,95.7 L1496.4,96.8 L1497.6,97.2 L1498.8,97.4 L1500.0,97.4 L1501.2,96.9 L1502.4,96.1 L1503.6,95.9 L1504.8,96.8 L1506.0,97.6 L1507.2,96.9 L1508.4,95.7 L1509.6,96.1 L1510.8,96.6 L1512.0,97.9 L1513.2,97.1 L1514.4,96.6 L1515.6,96.7 L1516.8,96.9 L1518.0,98.2 L1519.2,97.9 L1520.4,97.2 L1521.6,96.5 L1522.8,96.7 L1524.0,96.9 L1525.2,97.0 L1526.4,97.0 L1527.6,96.8 L1528.8,96.5 L1530.0,96.1 L1531.2,97.1 L1532.4,97.2 L1533.6,96.8 L1534.8,96.6 L1536.0,96.4 L1537.2,96.9 L1538.4,96.8 L1539.6,97.0 L1540.8,97.2 L1542.0,97.6 L1543.2,97.1 L1544.4,96.9 L1545.6,96.3 L1546.8,96.8 L1548.0,96.6 L1549.2,97.2 L1550.4,97.3 L1551.6,97.1 L1552.8,96.0 L1554.0,96.0 L1555.2,96.1 L1556.4,96.3 L1557.6,96.2 L1558.8,96.4 L1560.0,97.5 L1561.2,97.5 L1562.4,98.2 L1563.6,98.0 L1564.8,98.5 L1566.0,97.9 L1567.2,97.5 L1568.4,96.9 L1569.6,96.6 L1570.8,96.5 L1572.0,96.9 L1573.2,97.6 L1574.4,98.5 L1575.6,98.7 L1576.8,98.5 L1578.0,97.2 L1579.2,96.1 L1580.4,95.6 L1581.6,96.0 L1582.8,97.6 L1584.0,98.7 L1585.2,98.7 L1586.4,98.7 L1587.6,98.1 L1588.8,98.1 L1590.0,97.9 L1591.2,97.5 L1592.4,98.2 L1593.6,97.3 L1594.8,96.1 L1596.0,95.5 L1597.2,96.4 L1598.4,97.9 L1599.6,97.6 L1600.8,97.4 L1602.0,96.6 L1603.2,97.2 L1604.4,96.6 L1605.6,96.4 L1606.8,96.5 L1608.0,96.3 L1609.2,96.1 L1610.4,96.1 L1611.6,96.7 L1612.8,96.3 L1614.0,96.5 L1615.2,95.9 L1616.4,96.7 L1617.6,96.1 L1618.8,97.6 L1620.0,97.8 L1621.2,98.3 L1622.4,97.3 L1623.6,97.5 L1624.8,96.5 L1626.0,96.6 L1627.2,96.1 L1628.4,96.2 L1629.6,96.4 L1630.8,97.1 L1632.0,97.8 L1633.2,97.5 L1634.4,97.4 L1635.6,96.7 L1636.8,97.0 L1638.0,96.9 L1639.2,97.3 L1640.4,97.1 L1641.6,96.9 L1642.8,96.7 L1644.0,96.7 L1645.2,97.0 L1646.4,96.4 L1647.6,97.0 L1648.8,96.9 L1650.0,97.9 L1651.2,96.9 L1652.4,96.5 L1653.6,96.1 L1654.8,96.9 L1656.0,97.3 L1657.2,98.1 L1658.4,97.8 L1659.6,96.7 L1660.8,95.7 L1662.0,95.5 L1663.2,96.6 L1664.4,96.3 L1665.6,96.4 L1666.8,96.3 L1668.0,96.7 L1669.2,96.7 L1670.4,97.7 L1671.6,97.9 L1672.8,98.9 L1674.0,98.0 L1675.2,97.7 L1676.4,97.1 L1677.6,96.8 L1678.8,97.1 L1680.0,95.8 L1681.2,96.2 L1682.4,95.9 L1683.6,97.4 L1684.8,97.3 L1686.0,97.4 L1687.2,96.4 L1688.4,96.4 L1689.6,96.4 L1690.8,96.5 L1692.0,97.4 L1693.2,97.5 L1694.4,98.2 L1695.6,98.0 L1696.8,98.3 L1698.0,98.2 L1699.2,97.7 L1700.4,98.0 L1701.6,98.0 L1702.8,98.0 L1704.0,97.6 L1705.2,97.1 L1706.4,96.7 L1707.6,96.4 L1708.8,96.7 L1710.0,97.5 L1711.2,97.3 L1712.4,97.0 L1713.6,96.0 L1714.8,96.4 L1716.0,97.1 L1717.2,97.4 L1718.4,97.6 L1719.6,96.1 L1720.8,96.2 L1722.0,96.2 L1723.2,97.0 L1724.4,96.3 L1725.6,96.3 L1726.8,96.6 L1728.0,98.1 L1729.2,97.6 L1730.4,97.6 L1731.6,96.7 L1732.8,97.0 L1734.0,96.2 L1735.2,97.0 L1736.4,97.3 L1737.6,98.0 L1738.8,97.2 L1740.0,97.2 L1741.2,97.4 L1742.4,97.4 L1743.6,97.1 L1744.8,97.1 L1746.0,97.1 L1747.2,97.0 L1748.4,96.7 L1749.6,96.7 L1750.8,96.3 L1752.0,96.1 L1753.2,96.4 L1754.4,97.3 L1755.6,97.8 L1756.8,96.0 L1758.0,95.0 L1759.2,95.2 L1760.4,97.6 L1761.6,98.8 L1762.8,98.5 L1764.0,97.6" fill="none" stroke="#000" stroke-width="3.3" stroke-linejoin="round" />
<path d="M1334.0,82.0 L1334.3,85.3 L1334.7,88.9 L1335.0,92.8 L1335.4,97.0 L1335.7,101.5 L1336.1,106.2 L1336.4,111.3 L1336.8,116.8 L1337.1,122.7 L1337.5,128.9 L1337.8,135.5 L1338.2,142.6 L1338.5,150.3 L1338.9,158.6 L1339.2,167.8 L1339.6,178.0 L1339.9,189.0 L1340.3,200.5 L1340.6,213.0 L1341.0,227.0 L1341.3,241.1 L1341.7,253.6 L1342.0,264.0 L1342.4,273.4 L1342.7,282.0 L1343.1,289.8 L1343.4,296.8 L1343.8,302.9 L1344.1,308.7 L1344.5,314.7 L1344.8,321.5 L1345.2,329.7 L1345.5,339.9 L1345.9,351.3 L1346.2,362.8 L1346.6,373.3 L1346.9,381.7 L1347.3,389.8 L1347.6,397.3 L1348.0,402.1 L1348.3,403.0 L1348.7,402.7 L1349.0,402.1 L1349.4,401.3 L1349.7,400.3 L1350.1,399.1 L1350.4,397.6 L1350.8,396.1 L1351.1,394.4 L1351.5,392.6 L1351.8,390.7 L1352.2,388.8 L1352.5,386.9 L1352.9,385.0 L1353.2,383.0 L1353.6,380.9 L1353.9,378.9 L1354.3,376.7 L1354.6,374.4 L1355.0,371.9 L1355.3,369.1 L1355.7,366.3 L1356.0,363.8 L1356.4,360.9 L1356.7,357.8 L1357.1,355.0 L1357.4,352.6 L1357.8,350.2 L1358.1,347.2 L1358.5,344.3 L1358.8,341.2 L1359.2,338.5 L1359.5,336.1 L1359.9,332.6 L1360.2,329.3 L1360.6,326.6 L1360.9,325.3 L1361.3,323.2 L1361.6,320.6 L1362.0,317.2 L1362.3,314.2 L1362.7,311.7 L1363.0,309.5 L1363.4,307.4 L1363.7,304.2 L1364.1,301.7 L1364.4,299.4 L1364.8,297.3 L1365.1,294.7 L1365.5,291.9 L1365.8,289.6 L1366.2,287.1 L1366.5,285.2 L1366.9,282.7 L1367.2,279.4 L1367.6,274.8 L1367.9,271.1 L1368.3,267.5 L1368.6,265.2 L1369.0,260.9 L1369.3,257.7 L1369.7,254.5 L1370.0,251.8 L1370.4,248.9 L1370.7,245.0 L1371.1,241.2 L1371.4,237.7 L1371.8,233.5 L1372.1,230.1 L1372.5,227.2 L1372.8,224.1 L1373.2,221.2 L1373.5,216.7 L1373.9,214.5 L1374.2,211.2 L1374.6,208.8 L1374.9,205.7 L1375.3,203.7 L1375.6,201.7 L1376.0,200.4 L1376.3,199.2 L1376.7,198.4 L1377.0,196.9 L1377.4,195.6 L1377.7,194.4 L1378.1,193.8 L1378.4,192.8 L1378.8,192.0 L1379.1,190.9 L1379.5,190.9 L1379.8,190.3 L1380.2,189.8 L1380.5,188.9 L1380.9,187.5 L1381.2,186.9 L1381.6,185.6 L1381.9,184.7 L1382.3,183.3 L1382.6,181.7 L1383.0,181.6 L1383.3,180.4 L1383.7,179.1 L1384.0,176.7 L1384.4,175.3 L1384.7,174.6 L1385.1,174.2 L1385.4,173.6 L1385.8,173.2 L1386.1,172.2 L1386.5,170.3 L1386.8,169.3 L1387.2,168.5 L1387.5,167.1 L1387.9,165.3 L1388.2,163.8 L1389.4,161.2 L1390.6,159.0 L1391.8,156.5 L1393.0,154.1 L1394.2,150.5 L1395.4,146.9 L1396.6,144.2 L1397.8,142.2 L1399.0,140.7 L1400.2,138.4 L1401.4,136.4 L1402.6,135.0 L1403.8,134.5 L1405.0,133.5 L1406.2,132.2 L1407.4,130.7 L1408.6,129.5 L1409.8,128.9 L1411.0,127.3 L1412.2,126.3 L1413.4,124.0 L1414.6,123.7 L1415.8,122.9 L1417.0,122.9 L1418.2,121.4 L1419.4,120.0 L1420.6,118.0 L1421.8,117.1 L1423.0,116.8 L1424.2,115.2 L1425.4,115.0 L1426.6,113.2 L1427.8,113.8 L1429.0,112.0 L1430.2,111.7 L1431.4,111.3 L1432.6,111.1 L1433.8,111.5 L1435.0,110.8 L1436.2,110.7 L1437.4,109.3 L1438.6,108.8 L1439.8,108.0 L1441.0,108.2 L1442.2,108.8 L1443.4,108.7 L1444.6,107.7 L1445.8,106.4 L1447.0,105.6 L1448.2,106.1 L1449.4,106.1 L1450.6,106.0 L1451.8,105.3 L1453.0,105.4 L1454.2,105.8 L1455.4,105.5 L1456.6,105.1 L1457.8,104.8 L1459.0,104.6 L1460.2,104.0 L1461.4,104.4 L1462.6,103.9 L1463.8,104.1 L1465.0,103.0 L1466.2,103.5 L1467.4,103.0 L1468.6,103.0 L1469.8,102.5 L1471.0,102.1 L1472.2,102.1 L1473.4,102.3 L1474.6,101.5 L1475.8,101.2 L1477.0,101.4 L1478.2,102.3 L1479.4,102.0 L1480.6,100.5 L1481.8,100.2 L1483.0,100.3 L1484.2,101.6 L1485.4,100.8 L1486.6,100.3 L1487.8,99.3 L1489.0,99.5 L1490.2,98.8 L1491.4,98.7 L1492.6,98.6 L1493.8,99.1 L1495.0,99.9 L1496.2,99.8 L1497.4,99.7 L1498.6,99.5 L1499.8,99.5 L1501.0,100.2 L1502.2,99.9 L1503.4,99.9 L1504.6,99.0 L1505.8,98.9 L1507.0,99.0 L1508.2,99.4 L1509.4,99.0 L1510.6,99.4 L1511.8,99.0 L1513.0,99.0 L1514.2,98.7 L1515.4,98.4 L1516.6,98.5 L1517.8,98.4 L1519.0,98.3 L1520.2,97.7 L1521.4,98.3 L1522.6,98.8 L1523.8,99.5 L1525.0,98.7 L1526.2,99.5 L1527.4,99.4 L1528.6,98.9 L1529.8,98.4 L1531.0,98.1 L1532.2,99.0 L1533.4,98.7 L1534.6,99.7 L1535.8,99.7 L1537.0,99.6 L1538.2,99.7 L1539.4,100.6 L1540.6,100.6 L1541.8,100.4 L1543.0,99.3 L1544.2,99.8 L1545.4,98.7 L1546.6,98.1 L1547.8,98.5 L1549.0,99.1 L1550.2,99.3 L1551.4,99.5 L1552.6,100.0 L1553.8,100.5 L1555.0,99.3 L1556.2,98.7 L1557.4,99.0 L1558.6,98.5 L1559.8,97.8 L1561.0,96.8 L1562.2,98.1 L1563.4,98.9 L1564.6,99.5 L1565.8,99.1 L1567.0,99.1 L1568.2,99.4 L1569.4,100.9 L1570.6,101.0 L1571.8,101.1 L1573.0,99.3 L1574.2,99.8 L1575.4,99.2 L1576.6,99.5 L1577.8,98.6 L1579.0,98.2 L1580.2,97.8 L1581.4,97.6 L1582.6,97.4 L1583.8,98.4 L1585.0,99.0 L1586.2,100.0 L1587.4,99.4 L1588.6,98.6 L1589.8,98.2 L1591.0,97.5 L1592.2,97.8 L1593.4,97.7 L1594.6,98.2 L1595.8,98.6 L1597.0,98.7 L1598.2,98.5 L1599.4,98.4 L1600.6,98.9 L1601.8,100.0 L1603.0,100.5 L1604.2,99.8 L1605.4,99.0 L1606.6,98.9 L1607.8,99.5 L1609.0,99.9 L1610.2,100.0 L1611.4,99.7 L1612.6,99.0 L1613.8,97.8 L1615.0,98.1 L1616.2,98.4 L1617.4,98.7 L1618.6,98.3 L1619.8,97.8 L1621.0,98.0 L1622.2,98.7 L1623.4,98.8 L1624.6,100.0 L1625.8,99.2 L1627.0,99.0 L1628.2,98.0 L1629.4,99.1 L1630.6,99.4 L1631.8,99.5 L1633.0,97.4 L1634.2,97.8 L1635.4,96.9 L1636.6,97.9 L1637.8,98.2 L1639.0,98.7 L1640.2,99.1 L1641.4,98.3 L1642.6,98.3 L1643.8,98.1 L1645.0,98.7 L1646.2,98.9 L1647.4,98.7 L1648.6,97.8 L1649.8,97.0 L1651.0,97.1 L1652.2,97.4 L1653.4,98.3 L1654.6,98.7 L1655.8,99.1 L1657.0,98.6 L1658.2,98.3 L1659.4,98.0 L1660.6,98.3 L1661.8,97.2 L1663.0,96.7 L1664.2,96.7 L1665.4,98.1 L1666.6,98.3 L1667.8,97.7 L1669.0,98.0 L1670.2,98.1 L1671.4,98.5 L1672.6,98.1 L1673.8,98.4 L1675.0,98.6 L1676.2,98.1 L1677.4,97.5 L1678.6,97.9 L1679.8,98.1 L1681.0,98.6 L1682.2,97.4 L1683.4,97.2 L1684.6,96.8 L1685.8,97.4 L1687.0,96.8 L1688.2,96.8 L1689.4,97.7 L1690.6,98.7 L1691.8,98.6 L1693.0,97.6 L1694.2,96.9 L1695.4,97.2 L1696.6,97.2 L1697.8,97.6 L1699.0,97.9 L1700.2,98.7 L1701.4,99.1 L1702.6,98.0 L1703.8,97.3 L1705.0,97.5 L1706.2,97.7 L1707.4,98.6 L1708.6,98.0 L1709.8,99.0 L1711.0,98.2 L1712.2,97.7 L1713.4,96.8 L1714.6,97.7 L1715.8,98.0 L1717.0,97.9 L1718.2,97.6 L1719.4,97.1 L1720.6,97.6 L1721.8,97.4 L1723.0,98.2 L1724.2,98.4 L1725.4,98.2 L1726.6,97.0 L1727.8,96.9 L1729.0,96.9 L1730.2,98.0 L1731.4,98.1 L1732.6,98.4 L1733.8,98.6 L1735.0,99.1 L1736.2,99.7 L1737.4,99.7 L1738.6,98.9 L1739.8,97.3 L1741.0,97.5 L1742.2,96.8 L1743.4,98.2 L1744.6,98.3 L1745.8,98.9 L1747.0,98.5 L1748.2,97.6 L1749.4,97.4 L1750.6,97.4 L1751.8,97.3 L1753.0,97.9 L1754.2,97.5 L1755.4,98.7 L1756.6,98.7 L1757.8,99.5 L1759.0,99.2 L1760.2,98.7 L1761.4,97.5 L1762.6,96.1 L1763.8,96.5 L1764.0,95.7" fill="none" stroke="#000" stroke-width="3.3" stroke-linejoin="round" />
<path d="M1334.0,82.0 L1334.3,85.0 L1334.7,88.2 L1335.0,91.7 L1335.4,95.4 L1335.7,99.3 L1336.1,103.3 L1336.4,107.6 L1336.8,112.2 L1337.1,117.0 L1337.5,122.2 L1337.8,127.6 L1338.2,133.3 L1338.5,139.2 L1338.9,145.5 L1339.2,152.3 L1339.6,159.8 L1339.9,168.0 L1340.3,177.1 L1340.6,187.4 L1341.0,199.3 L1341.3,214.7 L1341.7,235.0 L1342.0,253.8 L1342.4,267.7 L1342.7,279.6 L1343.1,290.0 L1343.4,298.6 L1343.8,305.7 L1344.1,312.9 L1344.5,321.9 L1344.8,335.6 L1345.2,355.2 L1345.5,374.0 L1345.9,386.5 L1346.2,396.9 L1346.6,406.0 L1346.9,414.2 L1347.3,421.7 L1347.6,428.5 L1348.0,435.0 L1348.3,441.0 L1348.7,446.5 L1349.0,451.5 L1349.4,456.2 L1349.7,460.7 L1350.1,465.3 L1350.4,470.0 L1350.8,475.0 L1351.1,480.4 L1351.5,487.7 L1351.8,495.8 L1352.2,502.6 L1352.5,505.9 L1352.9,505.7 L1353.2,504.8 L1353.6,503.2 L1353.9,501.1 L1354.3,498.6 L1354.6,495.7 L1355.0,492.6 L1355.3,489.3 L1355.7,485.8 L1356.0,482.4 L1356.4,479.2 L1356.7,476.0 L1357.1,473.2 L1357.4,470.3 L1357.8,467.3 L1358.1,464.0 L1358.5,461.1 L1358.8,457.7 L1359.2,454.7 L1359.5,451.4 L1359.9,448.2 L1360.2,444.8 L1360.6,441.8 L1360.9,439.0 L1361.3,436.0 L1361.6,432.9 L1362.0,430.7 L1362.3,428.4 L1362.7,425.5 L1363.0,422.0 L1363.4,418.6 L1363.7,416.4 L1364.1,413.4 L1364.4,411.2 L1364.8,408.7 L1365.1,406.5 L1365.5,404.0 L1365.8,401.0 L1366.2,399.3 L1366.5,396.3 L1366.9,393.9 L1367.2,391.0 L1367.6,389.2 L1367.9,385.9 L1368.3,383.6 L1368.6,380.6 L1369.0,378.6 L1369.3,375.3 L1369.7,373.8 L1370.0,370.9 L1370.4,369.2 L1370.7,364.8 L1371.1,361.1 L1371.4,357.2 L1371.8,353.5 L1372.1,350.0 L1372.5,346.0 L1372.8,342.1 L1373.2,337.9 L1373.5,333.7 L1373.9,331.0 L1374.2,328.3 L1374.6,326.2 L1374.9,323.0 L1375.3,320.1 L1375.6,316.6 L1376.0,314.3 L1376.3,312.0 L1376.7,310.3 L1377.0,307.9 L1377.4,305.8 L1377.7,303.7 L1378.1,302.6 L1378.4,300.9 L1378.8,298.9 L1379.1,297.0 L1379.5,295.9 L1379.8,294.1 L1380.2,291.7 L1380.5,288.5 L1380.9,286.3 L1381.2,284.8 L1381.6,284.7 L1381.9,284.7 L1382.3,283.6 L1382.6,281.2 L1383.0,279.0 L1383.3,276.3 L1383.7,274.7 L1384.0,272.0 L1384.4,270.6 L1384.7,268.9 L1385.1,267.5 L1385.4,264.2 L1385.8,260.1 L1386.1,254.8 L1386.5,251.2 L1386.8,249.0 L1387.2,247.8 L1387.5,246.2 L1387.9,243.6 L1388.2,241.7 L1388.6,239.3 L1388.9,237.1 L1389.3,235.8 L1389.6,233.7 L1390.0,232.3 L1390.3,229.1 L1390.7,228.4 L1391.0,226.3 L1391.4,224.5 L1391.7,221.9 L1392.1,220.5 L1392.4,218.3 L1392.6,217.0 L1393.8,210.2 L1395.0,204.4 L1396.2,199.5 L1397.4,194.1 L1398.6,188.9 L1399.8,183.9 L1401.0,179.9 L1402.2,177.2 L1403.4,174.3 L1404.6,170.9 L1405.8,168.4 L1407.0,166.5 L1408.2,165.5 L1409.4,163.9 L1410.6,161.8 L1411.8,160.1 L1413.0,157.0 L1414.2,154.8 L1415.4,150.9 L1416.6,147.4 L1417.8,144.4 L1419.0,145.0 L1420.2,145.0 L1421.4,144.7 L1422.6,142.9 L1423.8,142.2 L1425.0,141.8 L1426.2,141.0 L1427.4,141.3 L1428.6,140.9 L1429.8,140.2 L1431.0,138.7 L1432.2,137.6 L1433.4,136.2 L1434.6,135.5 L1435.8,134.1 L1437.0,134.1 L1438.2,132.9 L1439.4,132.7 L1440.6,132.1 L1441.8,131.4 L1443.0,129.8 L1444.2,128.1 L1445.4,127.2 L1446.6,126.4 L1447.8,125.5 L1449.0,124.5 L1450.2,123.8 L1451.4,123.6 L1452.6,122.9 L1453.8,122.6 L1455.0,121.6 L1456.2,120.5 L1457.4,120.4 L1458.6,120.7 L1459.8,120.9 L1461.0,120.5 L1462.2,119.8 L1463.4,119.2 L1464.6,119.0 L1465.8,117.6 L1467.0,117.8 L1468.2,117.3 L1469.4,117.4 L1470.6,117.8 L1471.8,116.9 L1473.0,117.7 L1474.2,116.6 L1475.4,117.0 L1476.6,116.1 L1477.8,117.0 L1479.0,116.7 L1480.2,117.0 L1481.4,116.0 L1482.6,115.7 L1483.8,114.9 L1485.0,114.6 L1486.2,114.7 L1487.4,115.0 L1488.6,114.9 L1489.8,114.2 L1491.0,113.9 L1492.2,112.9 L1493.4,112.8 L1494.6,111.3 L1495.8,111.1 L1497.0,110.8 L1498.2,110.9 L1499.4,110.4 L1500.6,110.6 L1501.8,111.2 L1503.0,112.0 L1504.2,111.9 L1505.4,111.7 L1506.6,111.3 L1507.8,110.7 L1509.0,110.8 L1510.2,109.5 L1511.4,109.1 L1512.6,108.8 L1513.8,109.7 L1515.0,109.7 L1516.2,108.9 L1517.4,108.7 L1518.6,108.5 L1519.8,108.0 L1521.0,107.9 L1522.2,107.7 L1523.4,108.1 L1524.6,106.7 L1525.8,105.6 L1527.0,105.6 L1528.2,106.9 L1529.4,106.9 L1530.6,106.3 L1531.8,105.7 L1533.0,106.6 L1534.2,106.7 L1535.4,106.3 L1536.6,105.6 L1537.8,105.9 L1539.0,106.1 L1540.2,106.5 L1541.4,104.8 L1542.6,104.9 L1543.8,104.6 L1545.0,105.6 L1546.2,105.5 L1547.4,106.0 L1548.6,105.5 L1549.8,104.9 L1551.0,104.4 L1552.2,104.0 L1553.4,103.4 L1554.6,102.2 L1555.8,101.6 L1557.0,101.4 L1558.2,102.7 L1559.4,102.8 L1560.6,103.2 L1561.8,102.5 L1563.0,103.6 L1564.2,102.8 L1565.4,104.0 L1566.6,103.3 L1567.8,103.3 L1569.0,102.0 L1570.2,100.9 L1571.4,101.1 L1572.6,100.8 L1573.8,101.9 L1575.0,101.5 L1576.2,100.4 L1577.4,98.9 L1578.6,98.8 L1579.8,99.4 L1581.0,100.9 L1582.2,100.7 L1583.4,101.4 L1584.6,100.9 L1585.8,102.0 L1587.0,101.8 L1588.2,102.0 L1589.4,100.8 L1590.6,100.9 L1591.8,101.0 L1593.0,101.4 L1594.2,101.5 L1595.4,100.7 L1596.6,100.6 L1597.8,100.5 L1599.0,100.8 L1600.2,101.4 L1601.4,101.5 L1602.6,101.3 L1603.8,100.3 L1605.0,100.0 L1606.2,99.9 L1607.4,100.1 L1608.6,99.6 L1609.8,100.2 L1611.0,100.4 L1612.2,101.0 L1613.4,101.0 L1614.6,99.9 L1615.8,99.7 L1617.0,99.2 L1618.2,100.5 L1619.4,100.7 L1620.6,101.0 L1621.8,101.3 L1623.0,100.2 L1624.2,99.5 L1625.4,99.4 L1626.6,100.9 L1627.8,100.9 L1629.0,100.9 L1630.2,100.6 L1631.4,100.3 L1632.6,99.5 L1633.8,99.2 L1635.0,99.8 L1636.2,100.9 L1637.4,101.0 L1638.6,101.4 L1639.8,100.2 L1641.0,99.4 L1642.2,98.7 L1643.4,99.6 L1644.6,101.0 L1645.8,100.9 L1647.0,100.1 L1648.2,98.2 L1649.4,99.1 L1650.6,98.6 L1651.8,100.1 L1653.0,100.0 L1654.2,100.0 L1655.4,99.2 L1656.6,98.9 L1657.8,100.1 L1659.0,100.2 L1660.2,99.4 L1661.4,98.9 L1662.6,99.7 L1663.8,99.7 L1665.0,99.1 L1666.2,99.1 L1667.4,99.6 L1668.6,99.6 L1669.8,99.1 L1671.0,99.2 L1672.2,100.0 L1673.4,100.1 L1674.6,99.9 L1675.8,98.6 L1677.0,98.7 L1678.2,98.9 L1679.4,99.8 L1680.6,99.5 L1681.8,99.3 L1683.0,99.7 L1684.2,99.5 L1685.4,98.9 L1686.6,98.8 L1687.8,98.8 L1689.0,99.2 L1690.2,99.0 L1691.4,99.0 L1692.6,99.1 L1693.8,98.4 L1695.0,99.1 L1696.2,98.5 L1697.4,99.6 L1698.6,98.4 L1699.8,98.7 L1701.0,97.9 L1702.2,98.8 L1703.4,99.2 L1704.6,99.2 L1705.8,98.2 L1707.0,98.6 L1708.2,98.8 L1709.4,99.6 L1710.6,99.0 L1711.8,98.8 L1713.0,98.9 L1714.2,99.1 L1715.4,99.8 L1716.6,99.6 L1717.8,98.8 L1719.0,98.6 L1720.2,98.6 L1721.4,99.1 L1722.6,97.3 L1723.8,96.9 L1725.0,97.1 L1726.2,98.2 L1727.4,98.7 L1728.6,98.9 L1729.8,99.1 L1731.0,98.6 L1732.2,98.5 L1733.4,98.7 L1734.6,99.0 L1735.8,97.9 L1737.0,97.2 L1738.2,97.7 L1739.4,98.4 L1740.6,98.2 L1741.8,97.7 L1743.0,97.8 L1744.2,98.9 L1745.4,99.2 L1746.6,99.4 L1747.8,98.7 L1749.0,97.8 L1750.2,97.3 L1751.4,98.3 L1752.6,98.3 L1753.8,99.0 L1755.0,97.7 L1756.2,97.8 L1757.4,97.5 L1758.6,97.8 L1759.8,98.2 L1761.0,97.7 L1762.2,98.1 L1763.4,98.6 L1764.0,98.4" fill="none" stroke="#000" stroke-width="3.3" stroke-linejoin="round" />
<path d="M1334.0,82.0 L1334.3,83.6 L1334.7,86.4 L1335.0,90.2 L1335.4,95.0 L1335.7,100.6 L1336.1,107.0 L1336.4,114.0 L1336.8,121.6 L1337.1,129.5 L1337.5,137.8 L1337.8,146.3 L1338.2,155.3 L1338.5,166.4 L1338.9,179.2 L1339.2,193.6 L1339.6,208.9 L1339.9,224.8 L1340.3,240.9 L1340.6,257.2 L1341.0,276.3 L1341.3,297.6 L1341.7,319.5 L1342.0,340.4 L1342.4,358.8 L1342.7,373.1 L1343.1,382.1 L1343.4,388.9 L1343.8,395.2 L1344.1,401.0 L1344.5,406.3 L1344.8,411.1 L1345.2,415.5 L1345.5,419.5 L1345.9,423.2 L1346.2,426.6 L1346.6,429.7 L1346.9,432.5 L1347.3,435.2 L1347.6,437.6 L1348.0,440.0 L1348.3,442.2 L1348.7,444.3 L1349.0,446.3 L1349.4,448.1 L1349.7,449.8 L1350.1,451.4 L1350.4,453.0 L1350.8,454.4 L1351.1,455.8 L1351.5,457.2 L1351.8,458.5 L1352.2,459.7 L1352.5,461.0 L1352.9,462.2 L1353.2,463.4 L1353.6,464.7 L1353.9,466.0 L1354.3,467.3 L1354.6,468.6 L1355.0,470.0 L1355.3,471.5 L1355.7,473.1 L1356.0,474.7 L1356.4,476.5 L1356.7,478.4 L1357.1,480.4 L1357.4,482.4 L1357.8,484.4 L1358.1,486.4 L1358.5,488.3 L1358.8,490.1 L1359.2,491.8 L1359.5,493.3 L1359.9,494.7 L1360.2,495.8 L1360.6,497.0 L1360.9,498.2 L1361.3,499.4 L1361.6,500.4 L1362.0,501.4 L1362.3,502.3 L1362.7,503.0 L1363.0,503.5 L1363.4,503.8 L1363.7,503.8 L1364.1,503.5 L1364.4,502.8 L1364.8,501.9 L1365.1,500.8 L1365.5,499.4 L1365.8,497.8 L1366.2,496.1 L1366.5,494.2 L1366.9,492.2 L1367.2,490.2 L1367.6,488.3 L1367.9,486.2 L1368.3,484.2 L1368.6,482.1 L1369.0,480.1 L1369.3,478.2 L1369.7,476.1 L1370.0,474.0 L1370.4,472.0 L1370.7,469.9 L1371.1,467.6 L1371.4,465.2 L1371.8,462.1 L1372.1,459.7 L1372.5,457.2 L1372.8,455.8 L1373.2,454.2 L1373.5,452.3 L1373.9,451.0 L1374.2,448.9 L1374.6,447.6 L1374.9,445.6 L1375.3,444.2 L1375.6,442.8 L1376.0,441.7 L1376.3,440.1 L1376.7,439.0 L1377.0,437.3 L1377.4,436.5 L1377.7,433.5 L1378.1,432.3 L1378.4,429.9 L1378.8,430.1 L1379.1,428.2 L1379.5,427.2 L1379.8,425.1 L1380.2,423.0 L1380.5,421.3 L1380.9,418.7 L1381.2,417.1 L1381.6,415.2 L1381.9,413.9 L1382.3,412.2 L1382.6,409.2 L1383.0,405.7 L1383.3,402.7 L1383.7,400.9 L1384.0,398.3 L1384.4,396.1 L1384.7,392.8 L1385.1,389.4 L1385.4,386.3 L1385.8,384.8 L1386.1,383.8 L1386.5,381.7 L1386.8,378.5 L1387.2,374.8 L1387.5,370.6 L1387.9,367.3 L1388.2,365.3 L1388.6,363.3 L1388.9,360.9 L1389.3,358.9 L1389.6,357.6 L1390.0,354.8 L1390.3,351.7 L1390.7,348.8 L1391.0,347.4 L1391.4,344.9 L1391.7,344.4 L1392.1,343.1 L1392.4,342.6 L1392.8,338.7 L1393.1,336.9 L1393.5,334.6 L1393.8,334.2 L1394.2,332.6 L1394.5,331.7 L1394.9,330.2 L1395.2,328.3 L1395.6,326.8 L1395.9,324.0 L1396.3,323.1 L1396.6,321.4 L1397.0,322.1 L1397.3,320.2 L1397.7,317.7 L1398.0,315.7 L1398.4,313.8 L1398.7,312.8 L1399.1,310.6 L1399.4,310.0 L1399.8,309.9 L1400.1,308.2 L1400.5,306.1 L1400.8,303.8 L1401.2,302.1 L1401.5,300.2 L1401.9,298.4 L1402.2,297.0 L1402.6,296.1 L1402.9,293.6 L1403.3,292.2 L1403.6,290.5 L1404.8,286.1 L1406.0,279.7 L1407.2,273.0 L1408.4,265.4 L1409.6,257.0 L1410.8,250.1 L1412.0,245.7 L1413.2,242.5 L1414.4,239.7 L1415.6,237.3 L1416.8,235.0 L1418.0,232.5 L1419.2,229.3 L1420.4,227.3 L1421.6,224.8 L1422.8,222.5 L1424.0,218.5 L1425.2,215.5 L1426.4,211.7 L1427.6,208.2 L1428.8,204.0 L1430.0,200.4 L1431.2,197.7 L1432.4,194.8 L1433.6,192.3 L1434.8,190.0 L1436.0,188.4 L1437.2,187.1 L1438.4,185.7 L1439.6,184.6 L1440.8,182.9 L1442.0,180.5 L1443.2,178.0 L1444.4,175.7 L1445.6,174.6 L1446.8,172.8 L1448.0,170.9 L1449.2,168.3 L1450.4,167.0 L1451.6,165.4 L1452.8,163.1 L1454.0,161.6 L1455.2,160.7 L1456.4,161.1 L1457.6,160.1 L1458.8,159.1 L1460.0,158.0 L1461.2,156.6 L1462.4,155.1 L1463.6,153.0 L1464.8,151.1 L1466.0,150.7 L1467.2,151.0 L1468.4,150.9 L1469.6,149.3 L1470.8,148.3 L1472.0,147.3 L1473.2,146.6 L1474.4,145.3 L1475.6,143.9 L1476.8,142.6 L1478.0,142.2 L1479.2,142.7 L1480.4,143.3 L1481.6,142.5 L1482.8,141.4 L1484.0,140.0 L1485.2,139.6 L1486.4,139.1 L1487.6,139.0 L1488.8,137.9 L1490.0,138.0 L1491.2,136.9 L1492.4,136.3 L1493.6,135.9 L1494.8,134.9 L1496.0,134.6 L1497.2,132.5 L1498.4,132.7 L1499.6,130.7 L1500.8,130.5 L1502.0,128.5 L1503.2,129.8 L1504.4,129.9 L1505.6,130.3 L1506.8,128.6 L1508.0,127.5 L1509.2,127.4 L1510.4,127.1 L1511.6,125.8 L1512.8,124.8 L1514.0,123.5 L1515.2,123.0 L1516.4,121.8 L1517.6,122.1 L1518.8,122.4 L1520.0,122.0 L1521.2,121.2 L1522.4,119.8 L1523.6,119.6 L1524.8,120.1 L1526.0,121.0 L1527.2,121.1 L1528.4,120.1 L1529.6,119.7 L1530.8,118.8 L1532.0,119.7 L1533.2,118.9 L1534.4,118.7 L1535.6,117.4 L1536.8,117.5 L1538.0,117.0 L1539.2,118.0 L1540.4,117.6 L1541.6,116.6 L1542.8,114.8 L1544.0,114.3 L1545.2,114.8 L1546.4,114.6 L1547.6,113.9 L1548.8,112.4 L1550.0,111.0 L1551.2,110.8 L1552.4,110.8 L1553.6,111.1 L1554.8,110.6 L1556.0,109.7 L1557.2,108.4 L1558.4,108.0 L1559.6,108.2 L1560.8,108.5 L1562.0,108.4 L1563.2,108.2 L1564.4,108.0 L1565.6,107.3 L1566.8,106.4 L1568.0,106.9 L1569.2,106.7 L1570.4,107.0 L1571.6,106.5 L1572.8,105.7 L1574.0,105.4 L1575.2,104.0 L1576.4,104.1 L1577.6,103.9 L1578.8,104.3 L1580.0,103.9 L1581.2,104.1 L1582.4,103.9 L1583.6,104.2 L1584.8,104.0 L1586.0,103.7 L1587.2,102.9 L1588.4,101.7 L1589.6,101.6 L1590.8,101.1 L1592.0,102.0 L1593.2,101.7 L1594.4,102.1 L1595.6,101.8 L1596.8,101.9 L1598.0,101.4 L1599.2,101.4 L1600.4,101.5 L1601.6,102.2 L1602.8,102.5 L1604.0,101.8 L1605.2,101.3 L1606.4,101.6 L1607.6,101.9 L1608.8,102.1 L1610.0,101.7 L1611.2,101.0 L1612.4,100.8 L1613.6,100.5 L1614.8,100.9 L1616.0,101.6 L1617.2,101.6 L1618.4,102.0 L1619.6,100.9 L1620.8,100.7 L1622.0,100.2 L1623.2,100.8 L1624.4,101.0 L1625.6,101.0 L1626.8,101.0 L1628.0,101.7 L1629.2,101.7 L1630.4,101.1 L1631.6,100.7 L1632.8,101.3 L1634.0,101.7 L1635.2,101.6 L1636.4,100.0 L1637.6,100.1 L1638.8,99.5 L1640.0,101.4 L1641.2,101.3 L1642.4,102.2 L1643.6,101.1 L1644.8,100.9 L1646.0,99.8 L1647.2,99.3 L1648.4,99.2 L1649.6,99.9 L1650.8,99.7 L1652.0,100.0 L1653.2,100.0 L1654.4,100.8 L1655.6,100.9 L1656.8,100.6 L1658.0,100.7 L1659.2,99.6 L1660.4,100.1 L1661.6,100.0 L1662.8,100.6 L1664.0,99.8 L1665.2,99.5 L1666.4,100.1 L1667.6,99.7 L1668.8,99.1 L1670.0,98.2 L1671.2,99.2 L1672.4,99.3 L1673.6,99.9 L1674.8,99.0 L1676.0,99.4 L1677.2,99.1 L1678.4,99.3 L1679.6,99.8 L1680.8,100.0 L1682.0,99.9 L1683.2,100.5 L1684.4,100.0 L1685.6,99.9 L1686.8,98.1 L1688.0,99.2 L1689.2,99.8 L1690.4,100.7 L1691.6,100.5 L1692.8,100.4 L1694.0,100.6 L1695.2,100.8 L1696.4,100.9 L1697.6,100.9 L1698.8,100.2 L1700.0,100.2 L1701.2,100.5 L1702.4,100.6 L1703.6,100.7 L1704.8,99.2 L1706.0,98.5 L1707.2,98.1 L1708.4,98.9 L1709.6,99.5 L1710.8,99.8 L1712.0,99.8 L1713.2,99.8 L1714.4,99.8 L1715.6,100.3 L1716.8,99.3 L1718.0,99.6 L1719.2,100.1 L1720.4,101.4 L1721.6,100.8 L1722.8,99.5 L1724.0,98.9 L1725.2,99.7 L1726.4,100.2 L1727.6,99.4 L1728.8,97.3 L1730.0,97.2 L1731.2,99.2 L1732.4,99.9 L1733.6,99.6 L1734.8,98.5 L1736.0,99.3 L1737.2,100.0 L1738.4,99.3 L1739.6,99.2 L1740.8,98.5 L1742.0,99.6 L1743.2,99.7 L1744.4,100.5 L1745.6,99.6 L1746.8,98.9 L1748.0,98.1 L1749.2,98.4 L1750.4,98.6 L1751.6,98.3 L1752.8,98.3 L1754.0,97.8 L1755.2,98.8 L1756.4,98.9 L1757.6,99.0 L1758.8,98.7 L1760.0,98.2 L1761.2,98.9 L1762.4,98.7 L1763.6,100.2 L1764.0,100.2" fill="none" stroke="#000" stroke-width="3.3" stroke-linejoin="round" />
<path d="M649.0,905.3 L650.0,904.7 L651.0,906.2 L652.0,907.3 L653.0,906.9 L654.0,906.3 L655.0,906.9 L656.0,905.8 L657.0,905.6 L658.0,906.8 L659.0,907.0 L660.0,906.5 L661.0,906.6 L662.0,906.8 L663.0,907.0 L664.0,906.9 L665.0,905.8 L666.0,905.7 L667.0,906.7 L668.0,907.8 L669.0,907.1 L670.0,907.1 L671.0,907.4 L672.0,907.4 L673.0,906.5 L674.0,905.4 L675.0,905.2 L676.0,904.5 L677.0,905.6 L678.0,906.8 L679.0,906.6 L680.0,906.4 L681.0,906.4 L682.0,907.2 L684.2,904.0 L685.7,904.8" fill="none" stroke="#000" stroke-width="4.2" stroke-linejoin="round" />
<path d="M649.0,907.7 L650.0,908.0 L651.0,908.5 L652.0,909.0 L653.0,909.2 L654.0,908.9 L655.0,907.7 L656.0,907.3 L657.0,907.5 L658.0,908.3 L659.0,908.2 L660.0,908.2 L661.0,908.6 L662.0,908.3 L663.0,907.5 L664.0,907.0 L665.0,907.0 L666.0,907.4 L667.0,908.3 L668.0,909.1 L669.0,908.1 L670.0,907.9 L671.0,907.8 L672.0,907.9 L673.0,907.5 L674.0,907.6 L675.0,908.4 L676.0,908.0 L677.0,908.0 L678.0,907.3 L679.0,907.4 L680.0,908.0 L681.0,908.4 L682.0,908.8 L684.2,904.0 L685.7,904.8" fill="none" stroke="#000" stroke-width="4.2" stroke-linejoin="round" />
<path d="M649.0,908.9 L650.0,908.0 L651.0,908.8 L652.0,908.7 L653.0,908.4 L654.0,909.5 L655.0,909.4 L656.0,908.3 L657.0,907.9 L658.0,910.1 L659.0,910.6 L660.0,908.9 L661.0,909.2 L662.0,909.9 L663.0,909.5 L664.0,908.3 L665.0,908.4 L666.0,908.5 L667.0,907.9 L668.0,907.2 L669.0,908.1 L670.0,908.9 L671.0,909.8 L672.0,909.7 L673.0,908.7 L674.0,909.7 L675.0,908.9 L676.0,908.6 L677.0,909.2 L678.0,908.0 L679.0,908.7 L680.0,909.5 L681.0,908.6 L682.0,908.6 L684.2,904.0 L685.7,904.8" fill="none" stroke="#000" stroke-width="4.2" stroke-linejoin="round" />
<path d="M686.5,912.0 L686.7,916.8 L686.9,921.6 L687.1,926.4 L687.3,931.2 L687.5,936.0 L687.6,940.8 L687.8,945.6 L688.0,950.4 L688.1,955.2 L688.3,960.0 L688.5,964.8 L688.8,969.6 L689.0,974.4 L689.3,979.2 L689.5,983.9 L689.7,988.7 L689.8,993.5 L690.0,998.3 L690.1,1003.1 L690.2,1007.9 L690.3,1012.7 L690.4,1017.5 L690.5,1022.3 L690.6,1027.1 L690.7,1031.9 L690.8,1036.7 L690.9,1041.5 L691.0,1046.3 L691.1,1051.1 L691.2,1055.9 L691.3,1060.7 L691.4,1065.5 L691.5,1070.3 L691.6,1075.1 L691.6,1079.9 L691.7,1084.7 L691.8,1089.5 L691.9,1094.3 L691.9,1099.1 L692.0,1103.9 L692.0,1108.7 L692.1,1113.5 L692.2,1118.3 L692.2,1123.1 L692.3,1127.8 L692.3,1132.6 L692.4,1137.4 L692.5,1142.2 L692.6,1147.0 L692.7,1151.8 L692.8,1156.6 L693.0,1161.4 L693.1,1166.2 L693.3,1171.0 L693.5,1175.8 L693.7,1180.6 L693.9,1185.4 L694.2,1190.2 L694.4,1195.0" fill="none" stroke="#000" stroke-width="5.5" stroke-linejoin="round" />
<path d="M685.7,908.0 L686.1,922.3 L686.4,936.5 L686.8,949.1 L687.1,958.4 L687.5,963.1 L687.8,966.3 L688.2,969.3 L688.5,972.1 L688.9,974.7 L689.2,977.1 L689.6,979.2 L689.9,981.2 L690.3,982.9 L690.6,984.5 L691.0,985.8 L691.3,986.9 L691.7,987.8 L692.0,988.5 L692.4,988.9 L692.7,989.2 L693.1,989.3 L693.4,989.0 L693.8,988.4 L694.1,987.4 L694.5,986.2 L694.8,984.7 L695.2,983.0 L695.5,981.2 L695.9,979.3 L696.2,977.3 L696.6,975.3 L696.9,973.2 L697.3,971.3 L697.6,969.6 L698.0,968.1 L698.3,966.3 L698.7,964.3 L699.0,962.7 L699.4,960.8 L699.7,959.0 L700.1,956.9 L700.4,955.0 L700.8,953.7 L701.1,952.1 L701.5,950.6 L701.8,949.2 L702.2,948.2 L702.5,947.0 L702.9,945.8 L703.2,944.8 L703.6,944.2 L703.9,943.4 L704.3,942.8 L704.6,942.8 L705.0,942.2 L705.3,941.8 L705.7,940.2 L706.0,939.2 L706.4,937.8 L706.7,936.9 L707.1,936.6 L707.4,937.1 L707.8,937.0 L708.1,936.1 L708.5,934.7 L708.8,934.0 L709.2,933.1 L709.5,932.2 L709.9,931.4 L710.2,931.5 L710.6,930.9 L710.9,929.3 L711.3,928.3 L711.6,927.8 L712.0,927.6 L712.3,926.3 L712.7,924.3 L713.0,923.8 L713.4,923.6 L713.7,924.8 L714.1,924.7 L714.4,924.0 L714.8,923.3 L715.1,923.0 L715.5,923.4 L715.8,923.4 L716.2,923.5 L716.5,922.1 L716.9,921.8 L717.2,921.3 L717.6,921.4 L717.9,921.2 L718.3,920.6 L718.6,920.3 L719.0,919.4 L719.3,919.6 L719.7,920.2 L720.0,921.1 L720.4,921.0 L720.7,920.8 L721.1,919.6 L721.4,919.0 L721.8,918.5 L722.1,919.7 L722.5,919.2 L722.8,918.6 L723.2,917.0 L723.5,917.7 L723.9,917.8 L724.2,918.4 L724.6,917.6 L724.9,918.1 L725.3,916.9 L725.6,916.8 L726.0,916.4 L726.3,916.8 L726.7,916.4 L727.0,916.6 L727.4,915.8 L727.7,915.7 L728.1,915.4 L728.4,916.6 L728.8,916.8 L729.1,915.5 L729.5,914.0 L729.8,913.5 L730.2,913.9 L730.5,914.9 L730.9,915.6 L731.2,915.9 L731.6,915.0 L731.9,914.9 L732.3,914.7 L732.6,915.3 L733.0,914.9 L733.0,914.4 L734.2,914.5 L735.4,915.1 L736.6,915.2 L737.8,914.8 L739.0,914.6 L740.2,915.4 L741.4,916.0 L742.6,915.5 L743.8,915.4 L745.0,914.1 L746.2,913.1 L747.4,912.3 L748.6,913.0 L749.8,913.3 L751.0,913.4 L752.2,913.3 L753.4,914.0 L754.6,914.2 L755.8,914.6 L757.0,914.4 L758.2,914.1 L759.4,913.8 L760.6,914.4 L761.8,914.4 L763.0,914.7 L764.2,914.6 L765.4,914.6 L766.6,913.9 L767.8,913.2 L769.0,913.7 L770.2,913.7 L771.4,914.9 L772.6,913.4 L773.8,912.8 L775.0,911.7 L776.2,913.1 L777.4,913.4 L778.6,913.3 L779.8,913.2 L781.0,913.2 L782.2,913.6 L783.4,913.8 L784.6,914.4 L785.8,913.6 L787.0,912.8 L788.2,912.6 L789.4,913.2 L790.6,913.1 L791.8,913.2 L793.0,913.3 L794.2,913.8 L795.4,913.9 L796.6,913.7 L797.8,913.9 L799.0,913.6 L800.2,913.8 L801.4,913.8 L802.6,913.0 L803.8,912.2 L805.0,911.2 L806.2,912.2 L807.4,913.0 L808.6,913.2 L809.8,912.4 L811.0,911.6 L812.2,911.9 L813.4,912.3 L814.6,913.2 L815.8,913.5 L817.0,913.6 L818.2,914.0 L819.4,913.4 L820.6,913.9 L821.8,913.5 L823.0,913.4 L824.2,912.8 L825.4,913.6 L826.6,913.2 L827.8,912.9 L829.0,911.7 L830.2,912.3 L831.4,912.6 L832.6,913.6 L833.8,913.4 L835.0,913.7 L836.2,912.6 L837.4,912.2 L838.6,911.9 L839.8,912.0 L841.0,912.8 L842.2,913.4 L843.4,913.3 L844.6,913.5 L845.8,912.5 L847.0,913.5 L848.2,912.4 L849.4,912.6 L850.6,911.9 L851.8,912.4 L853.0,912.1 L854.2,912.3 L855.4,912.1 L856.6,913.0 L857.8,912.0 L859.0,912.9 L860.2,912.9 L861.4,913.7 L862.6,913.7 L863.8,913.3 L865.0,913.1 L866.2,913.1 L867.4,912.7 L868.6,912.6 L869.8,912.0 L871.0,912.4 L872.2,912.4 L873.4,911.4 L874.6,911.5 L875.8,911.8 L877.0,913.4 L878.2,913.7 L879.4,913.4 L880.6,912.7 L881.8,912.0 L883.0,912.1 L884.2,911.9 L885.4,912.8 L886.6,913.1 L887.8,913.7 L889.0,913.0 L890.2,912.8 L891.4,912.8 L892.6,912.6 L893.8,912.9 L895.0,913.1 L896.2,913.2 L897.4,912.9 L898.6,912.2 L899.8,913.2 L901.0,913.4 L902.2,914.2 L903.4,913.4 L904.6,912.9 L905.8,912.4 L907.0,913.1 L908.2,914.2 L909.4,914.6 L910.6,914.0 L911.8,913.4 L913.0,913.6 L914.2,913.1 L915.4,913.4 L916.6,912.5 L917.8,913.1 L919.0,913.1 L920.2,913.6 L921.4,913.5 L922.6,913.7 L923.8,913.5 L925.0,913.3 L926.2,912.3 L927.4,912.6 L928.6,913.1 L929.8,913.4 L931.0,912.5 L932.2,912.4 L933.4,912.7 L934.6,913.2 L935.8,912.9 L937.0,912.7 L938.2,912.7 L939.4,912.9 L940.6,913.0 L941.8,912.8 L943.0,911.5 L944.2,911.1 L945.4,912.2 L946.6,913.9 L947.8,914.2 L949.0,913.1 L950.2,913.3 L951.4,913.7 L952.6,914.7 L953.8,914.9 L955.0,914.8 L956.2,914.3 L957.4,913.2 L958.6,913.1 L959.8,912.6 L961.0,913.4 L962.2,913.3 L963.4,914.4 L964.6,913.8 L965.8,914.1 L967.0,913.1 L968.2,913.7 L969.4,913.1 L970.6,914.0 L971.8,913.9 L973.0,913.5 L974.2,912.3 L975.4,912.2 L976.6,913.0 L977.8,914.5 L979.0,914.0 L980.2,913.9 L981.4,913.1 L982.6,913.6 L983.8,914.5 L985.0,914.4 L986.2,913.6 L987.4,913.6 L988.6,913.8 L989.8,913.9 L991.0,912.9 L992.2,912.6 L993.4,913.4 L994.6,914.0 L995.8,914.1 L997.0,913.8 L998.2,913.0 L999.4,913.1 L1000.6,913.4 L1001.8,914.0 L1003.0,913.1 L1004.2,912.7 L1005.4,912.8 L1006.6,914.5 L1007.8,915.3 L1009.0,914.1 L1010.2,912.5 L1011.4,912.4 L1012.6,913.4 L1013.8,914.3 L1015.0,915.0 L1016.2,914.5 L1017.4,915.0 L1018.6,914.2 L1019.8,914.4 L1021.0,913.0 L1022.2,912.5 L1023.4,913.4 L1024.6,914.4 L1025.8,915.3 L1027.0,914.9 L1028.2,914.8 L1029.4,914.8 L1030.6,914.7 L1031.8,914.8 L1033.0,914.3 L1034.2,913.8 L1035.4,914.1 L1036.6,914.1 L1037.8,915.0 L1039.0,914.7 L1040.2,914.4 L1041.4,913.1 L1042.6,913.6 L1043.8,915.2 L1045.0,916.0 L1046.2,914.7 L1047.4,914.0 L1048.6,913.8 L1049.8,915.1 L1051.0,914.9 L1052.2,915.5 L1053.4,915.3 L1054.6,915.0 L1055.8,915.2 L1057.0,915.0 L1058.2,915.7 L1059.4,915.0 L1060.6,915.2 L1061.8,914.4 L1063.0,915.1 L1064.2,914.8 L1065.4,914.8 L1066.6,914.8 L1067.8,915.3 L1069.0,915.6 L1070.2,914.8 L1071.4,914.6 L1072.6,914.9 L1073.8,915.6 L1075.0,915.4 L1076.2,915.4 L1077.4,914.3 L1078.6,914.7 L1079.8,914.1 L1081.0,915.3 L1082.2,915.1 L1083.4,916.6 L1084.6,916.3 L1085.8,916.7 L1087.0,914.7 L1088.2,914.1 L1089.4,914.4 L1090.6,915.1 L1091.8,916.3 L1093.0,915.5 L1094.2,916.1 L1095.4,915.3 L1096.6,915.9 L1097.8,915.9 L1099.0,916.7 L1100.2,916.2 L1101.4,915.4 L1102.6,915.3 L1103.8,915.7 L1105.0,916.6 L1106.2,915.9 L1107.4,916.1 L1108.6,915.8 L1109.8,915.9 L1111.0,915.4 L1112.2,915.9 L1113.4,916.5 L1114.6,916.8 L1115.8,916.5 L1117.0,916.3 L1118.2,916.8 L1118.7,916.8" fill="none" stroke="#000" stroke-width="3.3" stroke-linejoin="round" />
<path d="M685.7,908.0 L686.1,921.4 L686.4,937.8 L686.8,955.7 L687.1,966.2 L687.5,972.7 L687.8,977.9 L688.2,983.1 L688.5,989.9 L688.9,998.0 L689.2,1006.7 L689.6,1015.9 L689.9,1025.1 L690.3,1034.0 L690.6,1042.9 L691.0,1052.2 L691.3,1061.5 L691.7,1070.5 L692.0,1078.9 L692.4,1086.4 L692.7,1092.8 L693.1,1099.3 L693.4,1105.7 L693.8,1111.9 L694.1,1117.3 L694.5,1121.7 L694.8,1124.7 L695.2,1126.0 L695.5,1125.6 L695.9,1124.2 L696.2,1121.9 L696.6,1118.9 L696.9,1115.2 L697.3,1111.1 L697.6,1106.7 L698.0,1102.1 L698.3,1097.4 L698.7,1092.8 L699.0,1088.4 L699.4,1084.3 L699.7,1080.2 L700.1,1076.2 L700.4,1072.0 L700.8,1067.6 L701.1,1063.0 L701.5,1058.3 L701.8,1053.3 L702.2,1049.0 L702.5,1044.0 L702.9,1040.2 L703.2,1035.5 L703.6,1032.3 L703.9,1029.2 L704.3,1026.5 L704.6,1023.5 L705.0,1020.5 L705.3,1016.9 L705.7,1013.2 L706.0,1010.1 L706.4,1008.1 L706.7,1006.1 L707.1,1004.7 L707.4,1003.5 L707.8,1001.6 L708.1,997.8 L708.5,994.8 L708.8,992.3 L709.2,990.2 L709.5,988.3 L709.9,984.9 L710.2,983.3 L710.6,980.0 L710.9,979.2 L711.3,976.2 L711.6,973.9 L712.0,970.9 L712.3,969.0 L712.7,967.5 L713.0,967.3 L713.4,966.1 L713.7,964.3 L714.1,960.7 L714.4,958.5 L714.8,957.2 L715.1,955.5 L715.5,954.0 L715.8,953.0 L716.2,952.2 L716.5,950.2 L716.9,948.7 L717.2,948.4 L717.6,948.0 L717.9,946.7 L718.3,945.5 L718.6,944.9 L719.0,943.6 L719.3,942.0 L719.7,940.9 L720.0,940.4 L720.4,940.3 L720.7,939.0 L721.1,938.5 L721.4,937.1 L721.8,936.0 L722.1,935.4 L722.5,934.9 L722.8,934.7 L723.2,933.0 L723.5,932.8 L723.9,933.7 L724.2,934.1 L724.6,933.1 L724.9,932.3 L725.3,931.6 L725.6,931.1 L726.0,930.9 L726.3,930.4 L726.7,930.9 L727.0,930.4 L727.4,931.2 L727.7,929.6 L728.1,929.8 L728.4,928.9 L728.8,929.8 L729.1,928.6 L729.5,927.9 L729.8,927.9 L730.2,928.2 L730.5,928.6 L730.9,928.0 L731.2,927.7 L731.6,926.2 L731.9,925.3 L732.3,924.4 L732.6,925.6 L733.0,925.8 L733.3,925.1 L733.7,923.0 L734.0,922.2 L734.4,922.4 L734.7,923.3 L735.1,922.0 L735.2,922.4 L736.4,920.8 L737.6,921.4 L738.8,920.3 L740.0,919.6 L741.2,918.2 L742.4,918.4 L743.6,916.9 L744.8,917.6 L746.0,917.1 L747.2,918.1 L748.4,917.8 L749.6,917.3 L750.8,916.8 L752.0,916.2 L753.2,916.4 L754.4,917.0 L755.6,916.7 L756.8,916.6 L758.0,916.9 L759.2,917.8 L760.4,917.5 L761.6,917.9 L762.8,917.0 L764.0,916.6 L765.2,915.3 L766.4,915.6 L767.6,915.8 L768.8,916.4 L770.0,915.8 L771.2,916.3 L772.4,915.5 L773.6,915.6 L774.8,913.8 L776.0,915.0 L777.2,915.8 L778.4,917.1 L779.6,916.7 L780.8,915.8 L782.0,915.3 L783.2,914.7 L784.4,915.4 L785.6,915.8 L786.8,916.3 L788.0,915.6 L789.2,915.2 L790.4,915.3 L791.6,915.9 L792.8,916.7 L794.0,916.2 L795.2,916.2 L796.4,915.3 L797.6,915.0 L798.8,915.0 L800.0,915.3 L801.2,915.2 L802.4,914.6 L803.6,915.8 L804.8,916.2 L806.0,916.8 L807.2,915.9 L808.4,917.2 L809.6,917.0 L810.8,917.6 L812.0,916.9 L813.2,917.2 L814.4,916.7 L815.6,915.5 L816.8,915.6 L818.0,916.6 L819.2,917.5 L820.4,918.2 L821.6,917.5 L822.8,917.7 L824.0,916.5 L825.2,916.1 L826.4,915.9 L827.6,916.6 L828.8,916.2 L830.0,915.3 L831.2,914.7 L832.4,915.1 L833.6,916.0 L834.8,916.8 L836.0,916.6 L837.2,917.3 L838.4,916.8 L839.6,917.0 L840.8,915.4 L842.0,915.8 L843.2,916.6 L844.4,917.6 L845.6,917.2 L846.8,916.2 L848.0,915.0 L849.2,914.4 L850.4,913.9 L851.6,914.2 L852.8,914.2 L854.0,914.6 L855.2,915.4 L856.4,916.4 L857.6,916.6 L858.8,916.7 L860.0,916.0 L861.2,915.9 L862.4,915.7 L863.6,915.6 L864.8,915.8 L866.0,915.5 L867.2,915.3 L868.4,914.9 L869.6,915.8 L870.8,916.4 L872.0,916.5 L873.2,915.8 L874.4,915.4 L875.6,915.4 L876.8,915.1 L878.0,914.7 L879.2,914.8 L880.4,915.2 L881.6,916.1 L882.8,916.1 L884.0,916.4 L885.2,915.9 L886.4,916.5 L887.6,916.4 L888.8,916.9 L890.0,917.1 L891.2,916.3 L892.4,916.3 L893.6,915.5 L894.8,915.6 L896.0,915.3 L897.2,915.5 L898.4,916.1 L899.6,916.5 L900.8,916.0 L902.0,915.8 L903.2,915.5 L904.4,915.5 L905.6,915.5 L906.8,914.6 L908.0,914.4 L909.2,914.1 L910.4,915.0 L911.6,915.8 L912.8,915.8 L914.0,916.7 L915.2,915.7 L916.4,916.8 L917.6,915.6 L918.8,915.8 L920.0,914.6 L921.2,914.8 L922.4,915.1 L923.6,915.3 L924.8,915.8 L926.0,916.2 L927.2,916.0 L928.4,916.3 L929.6,916.1 L930.8,916.6 L932.0,916.4 L933.2,916.3 L934.4,916.9 L935.6,916.0 L936.8,916.6 L938.0,915.7 L939.2,916.6 L940.4,915.9 L941.6,916.8 L942.8,916.7 L944.0,917.2 L945.2,916.0 L946.4,915.1 L947.6,914.9 L948.8,916.1 L950.0,916.8 L951.2,916.1 L952.4,916.2 L953.6,915.9 L954.8,916.9 L956.0,915.7 L957.2,915.6 L958.4,915.4 L959.6,914.6 L960.8,914.5 L962.0,914.2 L963.2,915.2 L964.4,914.9 L965.6,915.6 L966.8,915.7 L968.0,916.3 L969.2,915.0 L970.4,915.0 L971.6,915.4 L972.8,916.6 L974.0,916.9 L975.2,916.6 L976.4,916.1 L977.6,915.9 L978.8,916.3 L980.0,916.3 L981.2,916.1 L982.4,916.0 L983.6,916.0 L984.8,916.2 L986.0,916.1 L987.2,915.8 L988.4,916.3 L989.6,916.6 L990.8,916.6 L992.0,915.5 L993.2,915.0 L994.4,915.1 L995.6,915.1 L996.8,915.4 L998.0,915.6 L999.2,915.6 L1000.4,916.2 L1001.6,916.2 L1002.8,916.7 L1004.0,915.5 L1005.2,915.1 L1006.4,914.5 L1007.6,915.6 L1008.8,916.4 L1010.0,916.7 L1011.2,916.2 L1012.4,916.0 L1013.6,915.7 L1014.8,915.8 L1016.0,916.0 L1017.2,916.0 L1018.4,916.4 L1019.6,916.0 L1020.8,916.5 L1022.0,916.1 L1023.2,916.5 L1024.4,916.9 L1025.6,917.2 L1026.8,916.1 L1028.0,915.8 L1029.2,916.0 L1030.4,916.3 L1031.6,915.6 L1032.8,915.0 L1034.0,915.8 L1035.2,915.9 L1036.4,916.2 L1037.6,915.7 L1038.8,916.2 L1040.0,916.3 L1041.2,916.3 L1042.4,916.1 L1043.6,916.0 L1044.8,916.8 L1046.0,917.3 L1047.2,917.6 L1048.4,916.5 L1049.6,916.0 L1050.8,915.1 L1052.0,915.9 L1053.2,916.6 L1054.4,917.4 L1055.6,917.4 L1056.8,916.7 L1058.0,916.4 L1059.2,916.6 L1060.4,916.6 L1061.6,917.2 L1062.8,917.5 L1064.0,917.1 L1065.2,916.3 L1066.4,916.3 L1067.6,917.3 L1068.8,918.4 L1070.0,918.4 L1071.2,917.8 L1072.4,918.1 L1073.6,917.9 L1074.8,918.5 L1076.0,917.8 L1077.2,917.0 L1078.4,916.3 L1079.6,915.5 L1080.8,915.3 L1082.0,915.3 L1083.2,916.0 L1084.4,916.1 L1085.6,915.7 L1086.8,915.7 L1088.0,915.1 L1089.2,915.7 L1090.4,916.0 L1091.6,916.2 L1092.8,915.8 L1094.0,915.5 L1095.2,916.8 L1096.4,917.3 L1097.6,917.1 L1098.8,916.6 L1100.0,915.9 L1101.2,915.5 L1102.4,915.7 L1103.6,916.8 L1104.8,917.8 L1106.0,917.5 L1107.2,917.4 L1108.4,916.4 L1109.6,915.8 L1110.8,915.5 L1112.0,916.7 L1113.2,917.3 L1114.4,917.5 L1115.6,916.6 L1116.8,916.5 L1118.0,916.7 L1118.7,917.5" fill="none" stroke="#000" stroke-width="3.3" stroke-linejoin="round" />
<path d="M685.7,908.0 L686.1,915.5 L686.4,923.3 L686.8,931.8 L687.1,941.0 L687.5,950.3 L687.8,958.9 L688.2,966.2 L688.5,972.3 L688.9,978.3 L689.2,984.9 L689.6,993.0 L689.9,1002.6 L690.3,1013.0 L690.6,1023.8 L691.0,1034.4 L691.3,1044.8 L691.7,1055.5 L692.0,1066.2 L692.4,1076.9 L692.7,1087.5 L693.1,1098.2 L693.4,1109.3 L693.8,1120.4 L694.1,1131.0 L694.5,1140.7 L694.8,1149.0 L695.2,1156.9 L695.5,1165.0 L695.9,1173.1 L696.2,1180.9 L696.6,1188.3 L696.9,1195.1 L697.3,1201.0 L697.6,1205.9 L698.0,1209.6 L698.3,1211.9 L698.7,1212.5 L699.0,1211.5 L699.4,1209.3 L699.7,1205.9 L700.1,1201.7 L700.4,1196.8 L700.8,1191.6 L701.1,1186.2 L701.5,1180.8 L701.8,1175.7 L702.2,1171.2 L702.5,1166.7 L702.9,1162.1 L703.2,1157.4 L703.6,1152.8 L703.9,1147.8 L704.3,1143.1 L704.6,1138.2 L705.0,1133.9 L705.3,1129.6 L705.7,1125.9 L706.0,1121.9 L706.4,1118.4 L706.7,1114.0 L707.1,1110.7 L707.4,1106.6 L707.8,1103.6 L708.1,1099.8 L708.5,1096.5 L708.8,1092.9 L709.2,1088.8 L709.5,1084.5 L709.9,1079.5 L710.2,1074.7 L710.6,1070.2 L710.9,1065.1 L711.3,1059.6 L711.6,1053.4 L712.0,1048.7 L712.3,1044.3 L712.7,1040.7 L713.0,1035.8 L713.4,1032.2 L713.7,1028.6 L714.1,1026.7 L714.4,1022.8 L714.8,1019.9 L715.1,1016.7 L715.5,1014.0 L715.8,1010.9 L716.2,1007.3 L716.5,1004.8 L716.9,1002.8 L717.2,1000.7 L717.6,998.1 L717.9,996.6 L718.3,994.1 L718.6,992.9 L719.0,989.8 L719.3,988.3 L719.7,986.0 L720.0,984.4 L720.4,982.4 L720.7,981.0 L721.1,978.5 L721.4,975.7 L721.8,972.4 L722.1,970.1 L722.5,969.3 L722.8,967.7 L723.2,966.3 L723.5,964.8 L723.9,964.1 L724.2,963.6 L724.6,961.1 L724.9,959.6 L725.3,957.8 L725.6,957.9 L726.0,957.5 L726.3,957.4 L726.7,957.1 L727.0,957.7 L727.4,956.5 L727.7,955.4 L728.1,953.5 L728.4,952.9 L728.8,951.4 L729.1,950.7 L729.5,950.4 L729.8,950.4 L730.2,949.0 L730.5,947.0 L730.9,945.6 L731.2,945.8 L731.6,946.6 L731.9,946.0 L732.3,944.9 L732.6,944.3 L733.0,944.7 L733.3,943.6 L733.7,942.3 L734.0,941.1 L734.4,940.5 L734.7,940.8 L735.1,939.6 L735.4,939.8 L735.8,939.1 L736.1,939.7 L736.5,939.5 L736.8,937.7 L737.2,937.3 L737.5,936.8 L737.9,937.7 L738.2,936.9 L738.6,936.5 L738.6,936.0 L739.8,936.6 L741.0,935.8 L742.2,935.4 L743.4,933.5 L744.6,932.1 L745.8,931.0 L747.0,929.8 L748.2,928.4 L749.4,926.2 L750.6,924.2 L751.8,922.1 L753.0,921.4 L754.2,921.0 L755.4,921.3 L756.6,920.4 L757.8,920.4 L759.0,920.4 L760.2,920.5 L761.4,920.4 L762.6,919.8 L763.8,920.3 L765.0,919.3 L766.2,919.1 L767.4,917.8 L768.6,918.2 L769.8,917.9 L771.0,918.4 L772.2,918.0 L773.4,917.9 L774.6,918.7 L775.8,919.1 L777.0,919.4 L778.2,918.8 L779.4,918.4 L780.6,918.3 L781.8,918.8 L783.0,919.0 L784.2,919.5 L785.4,918.9 L786.6,918.8 L787.8,918.9 L789.0,918.8 L790.2,918.5 L791.4,918.3 L792.6,917.5 L793.8,917.3 L795.0,917.8 L796.2,919.2 L797.4,919.3 L798.6,918.4 L799.8,918.2 L801.0,917.7 L802.2,917.6 L803.4,916.5 L804.6,916.0 L805.8,917.3 L807.0,917.9 L808.2,917.6 L809.4,916.4 L810.6,915.6 L811.8,917.2 L813.0,917.3 L814.2,917.7 L815.4,917.6 L816.6,918.6 L817.8,918.6 L819.0,918.3 L820.2,917.1 L821.4,917.9 L822.6,918.0 L823.8,918.5 L825.0,917.7 L826.2,918.3 L827.4,918.1 L828.6,918.9 L829.8,918.8 L831.0,918.4 L832.2,917.8 L833.4,917.4 L834.6,917.4 L835.8,917.5 L837.0,917.5 L838.2,917.2 L839.4,917.2 L840.6,917.1 L841.8,917.7 L843.0,917.5 L844.2,916.8 L845.4,917.0 L846.6,917.3 L847.8,917.9 L849.0,918.5 L850.2,918.4 L851.4,918.3 L852.6,918.5 L853.8,918.8 L855.0,919.4 L856.2,919.2 L857.4,918.7 L858.6,917.8 L859.8,917.9 L861.0,917.3 L862.2,917.5 L863.4,917.5 L864.6,918.1 L865.8,918.6 L867.0,917.6 L868.2,918.9 L869.4,918.5 L870.6,919.3 L871.8,917.6 L873.0,918.0 L874.2,917.9 L875.4,918.3 L876.6,918.3 L877.8,917.9 L879.0,918.3 L880.2,917.7 L881.4,917.6 L882.6,916.9 L883.8,917.3 L885.0,917.4 L886.2,917.7 L887.4,918.2 L888.6,918.3 L889.8,918.6 L891.0,917.5 L892.2,917.9 L893.4,918.0 L894.6,918.0 L895.8,917.5 L897.0,917.6 L898.2,918.1 L899.4,918.7 L900.6,918.9 L901.8,919.8 L903.0,919.0 L904.2,918.5 L905.4,917.4 L906.6,917.6 L907.8,917.7 L909.0,917.6 L910.2,918.1 L911.4,917.6 L912.6,917.7 L913.8,917.6 L915.0,918.6 L916.2,918.6 L917.4,918.4 L918.6,918.0 L919.8,918.3 L921.0,918.0 L922.2,918.3 L923.4,918.7 L924.6,919.7 L925.8,919.3 L927.0,919.0 L928.2,918.2 L929.4,918.6 L930.6,918.0 L931.8,917.9 L933.0,918.0 L934.2,918.2 L935.4,918.0 L936.6,918.3 L937.8,918.3 L939.0,918.4 L940.2,917.8 L941.4,917.7 L942.6,917.5 L943.8,917.7 L945.0,917.7 L946.2,917.4 L947.4,917.7 L948.6,917.6 L949.8,917.5 L951.0,917.0 L952.2,916.9 L953.4,917.6 L954.6,917.1 L955.8,917.2 L957.0,916.4 L958.2,916.3 L959.4,916.5 L960.6,917.0 L961.8,918.3 L963.0,917.9 L964.2,918.2 L965.4,917.0 L966.6,918.0 L967.8,917.9 L969.0,917.8 L970.2,917.2 L971.4,917.0 L972.6,918.6 L973.8,919.0 L975.0,918.9 L976.2,918.3 L977.4,918.0 L978.6,918.2 L979.8,917.7 L981.0,917.4 L982.2,917.1 L983.4,917.4 L984.6,917.3 L985.8,917.7 L987.0,917.4 L988.2,917.3 L989.4,918.2 L990.6,918.5 L991.8,919.1 L993.0,919.4 L994.2,919.3 L995.4,918.7 L996.6,916.7 L997.8,916.1 L999.0,916.7 L1000.2,916.8 L1001.4,916.6 L1002.6,916.3 L1003.8,916.9 L1005.0,918.5 L1006.2,917.9 L1007.4,918.4 L1008.6,916.6 L1009.8,917.8 L1011.0,917.5 L1012.2,918.1 L1013.4,918.1 L1014.6,918.0 L1015.8,918.7 L1017.0,918.2 L1018.2,918.6 L1019.4,918.6 L1020.6,918.2 L1021.8,917.3 L1023.0,916.6 L1024.2,917.4 L1025.4,918.1 L1026.6,918.6 L1027.8,918.1 L1029.0,917.6 L1030.2,917.6 L1031.4,918.1 L1032.6,918.7 L1033.8,919.3 L1035.0,919.7 L1036.2,919.1 L1037.4,919.6 L1038.6,919.5 L1039.8,919.8 L1041.0,918.8 L1042.2,918.4 L1043.4,918.0 L1044.6,917.5 L1045.8,917.3 L1047.0,917.4 L1048.2,916.4 L1049.4,916.7 L1050.6,916.0 L1051.8,917.4 L1053.0,917.0 L1054.2,917.5 L1055.4,917.7 L1056.6,917.5 L1057.8,917.4 L1059.0,917.2 L1060.2,917.6 L1061.4,917.7 L1062.6,917.3 L1063.8,916.8 L1065.0,917.3 L1066.2,917.8 L1067.4,918.5 L1068.6,918.3 L1069.8,917.7 L1071.0,917.7 L1072.2,918.9 L1073.4,920.0 L1074.6,919.2 L1075.8,918.4 L1077.0,917.6 L1078.2,918.1 L1079.4,917.6 L1080.6,917.3 L1081.8,916.7 L1083.0,917.0 L1084.2,916.9 L1085.4,917.3 L1086.6,916.9 L1087.8,917.4 L1089.0,917.5 L1090.2,917.6 L1091.4,917.4 L1092.6,917.7 L1093.8,917.9 L1095.0,918.7 L1096.2,918.9 L1097.4,918.5 L1098.6,918.1 L1099.8,918.2 L1101.0,918.2 L1102.2,917.7 L1103.4,916.3 L1104.6,917.2 L1105.8,917.6 L1107.0,919.2 L1108.2,917.8 L1109.4,916.7 L1110.6,916.2 L1111.8,916.5 L1113.0,917.7 L1114.2,917.2 L1115.4,917.9 L1116.6,917.7 L1117.8,918.0 L1118.7,917.8" fill="none" stroke="#000" stroke-width="3.3" stroke-linejoin="round" />
<path d="M685.7,908.0 L686.1,914.1 L686.4,920.4 L686.8,927.1 L687.1,934.4 L687.5,942.1 L687.8,950.0 L688.2,957.4 L688.5,964.1 L688.9,969.8 L689.2,975.1 L689.6,980.9 L689.9,988.1 L690.3,997.3 L690.6,1008.3 L691.0,1020.9 L691.3,1035.0 L691.7,1051.7 L692.0,1071.5 L692.4,1093.3 L692.7,1121.2 L693.1,1145.7 L693.4,1158.6 L693.8,1167.6 L694.1,1175.0 L694.5,1182.4 L694.8,1191.7 L695.2,1205.4 L695.5,1223.6 L695.9,1241.7 L696.2,1255.4 L696.6,1267.5 L696.9,1279.5 L697.3,1290.7 L697.6,1300.6 L698.0,1308.5 L698.3,1314.0 L698.7,1316.3 L699.0,1315.9 L699.4,1314.7 L699.7,1312.7 L700.1,1310.0 L700.4,1306.8 L700.8,1303.1 L701.1,1299.2 L701.5,1295.1 L701.8,1290.9 L702.2,1286.8 L702.5,1282.8 L702.9,1279.2 L703.2,1275.9 L703.6,1273.2 L703.9,1270.5 L704.3,1268.0 L704.6,1265.5 L705.0,1263.2 L705.3,1260.5 L705.7,1258.2 L706.0,1255.8 L706.4,1253.7 L706.7,1250.8 L707.1,1248.2 L707.4,1245.1 L707.8,1242.7 L708.1,1239.8 L708.5,1236.4 L708.8,1231.7 L709.2,1227.0 L709.5,1221.9 L709.9,1217.2 L710.2,1212.1 L710.6,1207.3 L710.9,1201.9 L711.3,1196.9 L711.6,1192.6 L712.0,1188.4 L712.3,1184.2 L712.7,1180.3 L713.0,1176.7 L713.4,1173.6 L713.7,1170.8 L714.1,1167.4 L714.4,1163.7 L714.8,1159.9 L715.1,1156.4 L715.5,1154.1 L715.8,1150.9 L716.2,1147.6 L716.5,1143.6 L716.9,1139.1 L717.2,1134.7 L717.6,1128.7 L717.9,1122.5 L718.3,1116.9 L718.6,1112.5 L719.0,1107.0 L719.3,1101.2 L719.7,1094.5 L720.0,1089.9 L720.4,1084.4 L720.7,1079.4 L721.1,1074.1 L721.4,1069.0 L721.8,1063.8 L722.1,1058.4 L722.5,1053.9 L722.8,1049.4 L723.2,1045.2 L723.5,1040.8 L723.9,1036.0 L724.2,1031.7 L724.6,1028.3 L724.9,1025.5 L725.3,1022.9 L725.6,1019.1 L726.0,1015.7 L726.3,1012.0 L726.7,1009.9 L727.0,1007.3 L727.4,1004.7 L727.7,1002.2 L728.1,999.9 L728.4,997.5 L728.8,995.4 L729.1,993.5 L729.5,992.2 L729.8,990.5 L730.2,988.6 L730.5,986.7 L730.9,985.0 L731.2,984.2 L731.6,983.0 L731.9,982.3 L732.3,980.6 L732.6,979.5 L733.0,978.5 L733.3,977.1 L733.7,975.5 L734.0,974.3 L734.4,974.3 L734.7,974.4 L735.1,973.6 L735.4,972.8 L735.8,971.3 L736.1,970.1 L736.5,969.1 L736.8,967.9 L737.2,966.6 L737.5,965.3 L737.9,965.4 L738.2,965.5 L738.6,964.5 L738.7,963.5 L739.9,960.5 L741.1,958.8 L742.3,957.0 L743.5,955.1 L744.7,952.7 L745.9,951.1 L747.1,949.7 L748.3,947.9 L749.5,945.7 L750.7,944.2 L751.9,943.3 L753.1,942.2 L754.3,940.2 L755.5,939.3 L756.7,937.4 L757.9,936.8 L759.1,935.8 L760.3,934.9 L761.5,934.0 L762.7,932.6 L763.9,931.7 L765.1,930.3 L766.3,929.6 L767.5,928.8 L768.7,927.4 L769.9,924.5 L771.1,923.0 L772.3,922.2 L773.5,922.8 L774.7,923.3 L775.9,923.3 L777.1,923.7 L778.3,923.3 L779.5,923.7 L780.7,922.8 L781.9,922.7 L783.1,920.8 L784.3,920.4 L785.5,920.0 L786.7,920.5 L787.9,920.0 L789.1,919.5 L790.3,918.5 L791.5,918.9 L792.7,918.4 L793.9,919.4 L795.1,919.4 L796.3,920.1 L797.5,919.9 L798.7,920.0 L799.9,920.1 L801.1,919.9 L802.3,919.0 L803.5,919.2 L804.7,918.8 L805.9,919.9 L807.1,919.6 L808.3,920.1 L809.5,919.7 L810.7,919.6 L811.9,919.5 L813.1,919.5 L814.3,919.3 L815.5,919.4 L816.7,919.6 L817.9,919.5 L819.1,919.4 L820.3,918.6 L821.5,918.4 L822.7,917.6 L823.9,918.1 L825.1,918.6 L826.3,919.6 L827.5,919.1 L828.7,919.3 L829.9,918.6 L831.1,919.0 L832.3,918.4 L833.5,919.6 L834.7,919.8 L835.9,920.9 L837.1,920.7 L838.3,920.5 L839.5,919.8 L840.7,919.9 L841.9,919.6 L843.1,919.2 L844.3,918.6 L845.5,918.9 L846.7,919.0 L847.9,919.7 L849.1,919.9 L850.3,919.9 L851.5,919.0 L852.7,918.3 L853.9,918.8 L855.1,918.7 L856.3,920.8 L857.5,920.6 L858.7,920.6 L859.9,918.6 L861.1,918.2 L862.3,918.6 L863.5,918.8 L864.7,919.3 L865.9,919.4 L867.1,919.9 L868.3,919.8 L869.5,919.5 L870.7,919.0 L871.9,918.3 L873.1,917.5 L874.3,917.6 L875.5,918.4 L876.7,919.1 L877.9,918.9 L879.1,918.9 L880.3,918.5 L881.5,918.5 L882.7,917.7 L883.9,917.8 L885.1,918.2 L886.3,918.1 L887.5,917.7 L888.7,917.9 L889.9,918.5 L891.1,919.4 L892.3,919.6 L893.5,919.5 L894.7,920.0 L895.9,919.6 L897.1,919.5 L898.3,919.3 L899.5,919.6 L900.7,919.5 L901.9,919.0 L903.1,918.3 L904.3,918.6 L905.5,918.5 L906.7,919.2 L907.9,919.5 L909.1,919.9 L910.3,919.8 L911.5,919.4 L912.7,919.2 L913.9,919.8 L915.1,918.8 L916.3,918.5 L917.5,917.5 L918.7,918.4 L919.9,918.6 L921.1,918.9 L922.3,919.6 L923.5,919.8 L924.7,920.1 L925.9,919.1 L927.1,918.7 L928.3,917.9 L929.5,918.7 L930.7,918.5 L931.9,918.7 L933.1,919.1 L934.3,919.7 L935.5,919.9 L936.7,918.8 L937.9,918.2 L939.1,918.3 L940.3,918.8 L941.5,918.9 L942.7,918.6 L943.9,918.8 L945.1,919.1 L946.3,919.6 L947.5,919.8 L948.7,919.6 L949.9,919.3 L951.1,917.9 L952.3,917.3 L953.5,917.9 L954.7,918.6 L955.9,919.4 L957.1,919.0 L958.3,918.5 L959.5,918.0 L960.7,917.5 L961.9,917.5 L963.1,917.7 L964.3,918.4 L965.5,918.3 L966.7,918.3 L967.9,917.9 L969.1,918.5 L970.3,919.6 L971.5,919.7 L972.7,918.9 L973.9,917.8 L975.1,918.1 L976.3,918.4 L977.5,918.9 L978.7,919.3 L979.9,919.0 L981.1,918.1 L982.3,917.2 L983.5,917.9 L984.7,918.9 L985.9,918.3 L987.1,918.5 L988.3,918.1 L989.5,918.0 L990.7,917.6 L991.9,918.0 L993.1,919.4 L994.3,919.3 L995.5,919.4 L996.7,918.0 L997.9,918.8 L999.1,918.5 L1000.3,919.7 L1001.5,918.7 L1002.7,918.2 L1003.9,916.8 L1005.1,918.1 L1006.3,918.4 L1007.5,918.3 L1008.7,917.2 L1009.9,917.8 L1011.1,918.9 L1012.3,919.4 L1013.5,918.4 L1014.7,918.1 L1015.9,917.0 L1017.1,917.0 L1018.3,917.3 L1019.5,918.5 L1020.7,919.1 L1021.9,918.0 L1023.1,917.2 L1024.3,917.2 L1025.5,918.6 L1026.7,918.8 L1027.9,918.3 L1029.1,917.1 L1030.3,917.0 L1031.5,917.4 L1032.7,917.8 L1033.9,919.0 L1035.1,919.0 L1036.3,918.2 L1037.5,917.8 L1038.7,917.7 L1039.9,918.3 L1041.1,917.6 L1042.3,918.1 L1043.5,918.4 L1044.7,918.9 L1045.9,918.6 L1047.1,918.6 L1048.3,917.9 L1049.5,917.6 L1050.7,917.3 L1051.9,917.6 L1053.1,917.3 L1054.3,917.0 L1055.5,917.7 L1056.7,919.0 L1057.9,920.2 L1059.1,920.2 L1060.3,920.1 L1061.5,920.1 L1062.7,919.9 L1063.9,919.4 L1065.1,918.5 L1066.3,918.4 L1067.5,918.7 L1068.7,918.7 L1069.9,918.5 L1071.1,918.3 L1072.3,918.0 L1073.5,919.1 L1074.7,919.3 L1075.9,918.8 L1077.1,918.2 L1078.3,917.6 L1079.5,918.4 L1080.7,918.0 L1081.9,918.8 L1083.1,918.9 L1084.3,919.0 L1085.5,918.6 L1086.7,919.6 L1087.9,919.4 L1089.1,919.1 L1090.3,917.5 L1091.5,917.6 L1092.7,917.7 L1093.9,918.4 L1095.1,918.6 L1096.3,918.3 L1097.5,918.2 L1098.7,917.7 L1099.9,917.9 L1101.1,917.5 L1102.3,917.7 L1103.5,917.7 L1104.7,917.8 L1105.9,917.7 L1107.1,917.5 L1108.3,918.4 L1109.5,918.8 L1110.7,919.2 L1111.9,918.7 L1113.1,918.1 L1114.3,918.3 L1115.5,917.5 L1116.7,917.9 L1117.9,917.9 L1118.7,918.4" fill="none" stroke="#000" stroke-width="3.3" stroke-linejoin="round" />
<path d="M685.7,908.0 L686.1,913.6 L686.4,920.5 L686.8,928.6 L687.1,937.6 L687.5,947.6 L687.8,958.5 L688.2,970.0 L688.5,982.0 L688.9,994.5 L689.2,1007.8 L689.6,1023.6 L689.9,1041.4 L690.3,1060.2 L690.6,1079.1 L691.0,1097.5 L691.3,1115.7 L691.7,1135.0 L692.0,1154.4 L692.4,1172.7 L692.7,1188.8 L693.1,1201.6 L693.4,1212.7 L693.8,1223.2 L694.1,1233.2 L694.5,1242.6 L694.8,1251.4 L695.2,1259.5 L695.5,1267.0 L695.9,1273.7 L696.2,1279.6 L696.6,1284.7 L696.9,1288.9 L697.3,1292.5 L697.6,1295.8 L698.0,1298.9 L698.3,1301.9 L698.7,1304.6 L699.0,1307.2 L699.4,1309.5 L699.7,1311.7 L700.1,1313.8 L700.4,1315.6 L700.8,1317.3 L701.1,1318.8 L701.5,1320.2 L701.8,1321.4 L702.2,1322.4 L702.5,1323.5 L702.9,1324.5 L703.2,1325.5 L703.6,1326.4 L703.9,1327.3 L704.3,1328.1 L704.6,1328.9 L705.0,1329.5 L705.3,1330.1 L705.7,1330.6 L706.0,1330.9 L706.4,1331.1 L706.7,1331.2 L707.1,1331.1 L707.4,1330.6 L707.8,1329.9 L708.1,1329.0 L708.5,1327.9 L708.8,1326.7 L709.2,1325.3 L709.5,1323.7 L709.9,1322.1 L710.2,1320.4 L710.6,1318.6 L710.9,1316.1 L711.3,1313.0 L711.6,1309.5 L712.0,1305.5 L712.3,1301.3 L712.7,1297.0 L713.0,1293.0 L713.4,1289.1 L713.7,1285.8 L714.1,1282.3 L714.4,1278.8 L714.8,1274.7 L715.1,1271.0 L715.5,1267.6 L715.8,1264.5 L716.2,1261.7 L716.5,1258.0 L716.9,1254.6 L717.2,1250.6 L717.6,1246.6 L717.9,1242.5 L718.3,1239.0 L718.6,1236.1 L719.0,1232.7 L719.3,1229.5 L719.7,1226.0 L720.0,1222.8 L720.4,1219.1 L720.7,1215.4 L721.1,1212.0 L721.4,1207.6 L721.8,1203.7 L722.1,1200.4 L722.5,1197.9 L722.8,1195.3 L723.2,1191.0 L723.5,1186.9 L723.9,1182.8 L724.2,1179.5 L724.6,1176.4 L724.9,1173.5 L725.3,1171.3 L725.6,1167.5 L726.0,1164.4 L726.3,1160.3 L726.7,1157.4 L727.0,1155.4 L727.4,1153.5 L727.7,1151.2 L728.1,1147.4 L728.4,1143.8 L728.8,1140.3 L729.1,1135.4 L729.5,1130.6 L729.8,1127.2 L730.2,1123.7 L730.5,1121.5 L730.9,1117.8 L731.2,1115.2 L731.6,1110.9 L731.9,1107.0 L732.3,1102.8 L732.6,1099.8 L733.0,1095.8 L733.3,1092.2 L733.7,1088.9 L734.0,1085.7 L734.4,1083.0 L734.7,1079.4 L735.1,1077.1 L735.4,1073.8 L735.8,1070.2 L736.1,1065.6 L736.5,1062.7 L736.8,1060.6 L737.2,1058.3 L737.5,1055.4 L737.9,1051.6 L738.2,1049.2 L738.6,1046.8 L738.9,1045.5 L739.3,1044.1 L739.6,1041.9 L740.0,1040.1 L740.3,1038.7 L740.7,1038.2 L741.0,1035.9 L741.4,1034.0 L741.7,1031.8 L742.1,1030.0 L742.4,1027.5 L742.8,1025.6 L743.1,1024.5 L743.5,1024.0 L743.8,1022.5 L744.2,1020.5 L744.5,1019.5 L744.9,1018.7 L745.2,1019.5 L745.6,1018.1 L745.9,1016.8 L746.3,1015.2 L746.6,1014.5 L746.7,1014.1 L747.9,1010.3 L749.1,1007.1 L750.3,1003.5 L751.5,999.9 L752.7,995.4 L753.9,993.0 L755.1,989.7 L756.3,986.0 L757.5,981.3 L758.7,977.3 L759.9,974.2 L761.1,971.2 L762.3,966.5 L763.5,961.6 L764.7,959.8 L765.9,958.6 L767.1,957.8 L768.3,956.7 L769.5,956.3 L770.7,956.1 L771.9,955.7 L773.1,954.2 L774.3,952.7 L775.5,950.6 L776.7,948.7 L777.9,946.6 L779.1,944.7 L780.3,943.7 L781.5,942.3 L782.7,940.2 L783.9,938.5 L785.1,937.7 L786.3,937.5 L787.5,937.2 L788.7,936.5 L789.9,935.5 L791.1,935.5 L792.3,934.9 L793.5,936.0 L794.7,936.6 L795.9,936.9 L797.1,935.9 L798.3,933.8 L799.5,932.4 L800.7,931.3 L801.9,931.3 L803.1,931.0 L804.3,929.7 L805.5,928.7 L806.7,927.6 L807.9,928.0 L809.1,927.2 L810.3,926.9 L811.5,926.2 L812.7,926.4 L813.9,926.5 L815.1,927.2 L816.3,926.5 L817.5,927.3 L818.7,926.1 L819.9,925.8 L821.1,925.3 L822.3,926.1 L823.5,925.4 L824.7,924.3 L825.9,922.0 L827.1,921.0 L828.3,920.3 L829.5,921.4 L830.7,921.5 L831.9,920.6 L833.1,918.3 L834.3,918.2 L835.5,919.0 L836.7,919.8 L837.9,919.8 L839.1,919.1 L840.3,919.7 L841.5,919.8 L842.7,919.5 L843.9,918.7 L845.1,919.0 L846.3,919.6 L847.5,918.8 L848.7,918.1 L849.9,917.9 L851.1,917.7 L852.3,918.1 L853.5,918.9 L854.7,919.9 L855.9,919.3 L857.1,918.6 L858.3,918.6 L859.5,918.9 L860.7,919.3 L861.9,918.8 L863.1,918.6 L864.3,919.2 L865.5,919.9 L866.7,920.1 L867.9,919.4 L869.1,919.1 L870.3,918.4 L871.5,919.3 L872.7,919.6 L873.9,919.8 L875.1,919.2 L876.3,919.0 L877.5,919.0 L878.7,918.4 L879.9,918.0 L881.1,917.9 L882.3,918.5 L883.5,919.2 L884.7,919.5 L885.9,919.7 L887.1,920.0 L888.3,919.9 L889.5,918.7 L890.7,918.1 L891.9,918.9 L893.1,919.1 L894.3,920.3 L895.5,919.6 L896.7,919.4 L897.9,918.3 L899.1,919.0 L900.3,919.3 L901.5,919.7 L902.7,919.4 L903.9,919.5 L905.1,919.7 L906.3,920.0 L907.5,920.6 L908.7,919.4 L909.9,918.9 L911.1,918.8 L912.3,920.0 L913.5,920.7 L914.7,920.5 L915.9,920.1 L917.1,918.4 L918.3,917.8 L919.5,918.2 L920.7,918.6 L921.9,919.1 L923.1,917.8 L924.3,918.2 L925.5,917.7 L926.7,918.7 L927.9,918.8 L929.1,919.5 L930.3,918.6 L931.5,918.5 L932.7,918.7 L933.9,918.0 L935.1,917.8 L936.3,917.4 L937.5,919.2 L938.7,919.7 L939.9,920.0 L941.1,919.8 L942.3,919.9 L943.5,919.6 L944.7,919.4 L945.9,918.5 L947.1,918.5 L948.3,918.4 L949.5,919.6 L950.7,919.2 L951.9,919.4 L953.1,918.6 L954.3,919.1 L955.5,919.5 L956.7,919.6 L957.9,919.2 L959.1,918.7 L960.3,919.2 L961.5,919.8 L962.7,920.0 L963.9,919.0 L965.1,919.3 L966.3,918.7 L967.5,918.8 L968.7,918.5 L969.9,918.1 L971.1,918.8 L972.3,919.4 L973.5,919.7 L974.7,919.2 L975.9,919.0 L977.1,919.6 L978.3,920.3 L979.5,919.0 L980.7,918.3 L981.9,918.8 L983.1,919.2 L984.3,919.4 L985.5,918.6 L986.7,919.1 L987.9,919.2 L989.1,918.0 L990.3,918.1 L991.5,917.7 L992.7,919.3 L993.9,919.6 L995.1,919.6 L996.3,919.3 L997.5,919.5 L998.7,920.7 L999.9,921.1 L1001.1,920.1 L1002.3,919.6 L1003.5,918.7 L1004.7,919.6 L1005.9,919.6 L1007.1,920.6 L1008.3,918.8 L1009.5,918.4 L1010.7,917.6 L1011.9,918.5 L1013.1,918.2 L1014.3,918.6 L1015.5,918.4 L1016.7,919.8 L1017.9,919.4 L1019.1,919.6 L1020.3,918.5 L1021.5,918.9 L1022.7,919.3 L1023.9,919.1 L1025.1,917.5 L1026.3,917.2 L1027.5,917.3 L1028.7,918.6 L1029.9,918.4 L1031.1,918.9 L1032.3,918.4 L1033.5,918.9 L1034.7,918.7 L1035.9,919.6 L1037.1,919.4 L1038.3,919.8 L1039.5,919.2 L1040.7,919.2 L1041.9,918.6 L1043.1,918.2 L1044.3,918.3 L1045.5,918.6 L1046.7,919.9 L1047.9,920.1 L1049.1,920.9 L1050.3,921.1 L1051.5,921.0 L1052.7,919.7 L1053.9,918.7 L1055.1,919.1 L1056.3,919.5 L1057.5,920.1 L1058.7,919.5 L1059.9,919.6 L1061.1,919.5 L1062.3,919.9 L1063.5,920.1 L1064.7,919.8 L1065.9,919.7 L1067.1,919.5 L1068.3,919.9 L1069.5,919.4 L1070.7,920.7 L1071.9,920.4 L1073.1,920.3 L1074.3,918.2 L1075.5,917.7 L1076.7,918.2 L1077.9,918.8 L1079.1,919.7 L1080.3,919.3 L1081.5,919.1 L1082.7,918.4 L1083.9,918.3 L1085.1,918.7 L1086.3,918.3 L1087.5,918.5 L1088.7,917.8 L1089.9,918.3 L1091.1,918.3 L1092.3,919.1 L1093.5,918.7 L1094.7,918.7 L1095.9,918.9 L1097.1,918.5 L1098.3,918.9 L1099.5,918.8 L1100.7,919.8 L1101.9,920.0 L1103.1,919.5 L1104.3,918.9 L1105.5,917.8 L1106.7,918.3 L1107.9,918.3 L1109.1,918.4 L1110.3,919.1 L1111.5,919.5 L1112.7,920.1 L1113.9,919.7 L1115.1,920.5 L1116.3,919.7 L1117.5,919.4 L1118.7,919.1" fill="none" stroke="#000" stroke-width="3.3" stroke-linejoin="round" />
<path d="M1269.0,905.7 L1270.0,905.3 L1271.0,904.8 L1272.0,904.9 L1273.0,905.2 L1274.0,905.5 L1275.0,905.2 L1276.0,904.2 L1277.0,904.3 L1278.0,905.0 L1279.0,906.2 L1280.0,906.0 L1281.0,903.5 L1282.0,905.6 L1283.0,908.3 L1284.0,907.0 L1285.0,906.4 L1286.0,905.9 L1287.0,907.0 L1288.0,906.0 L1289.0,905.2 L1290.0,906.7 L1291.0,908.1 L1292.0,907.4 L1293.0,906.7 L1294.0,907.1 L1295.0,905.1 L1296.0,903.9 L1297.0,905.6 L1298.0,905.6 L1299.0,904.4 L1300.0,906.7 L1302.0,904.0 L1303.5,904.6" fill="none" stroke="#000" stroke-width="4.2" stroke-linejoin="round" />
<path d="M1269.0,908.9 L1270.0,907.1 L1271.0,907.9 L1272.0,908.9 L1273.0,907.5 L1274.0,906.2 L1275.0,904.4 L1276.0,905.6 L1277.0,907.0 L1278.0,905.3 L1279.0,906.4 L1280.0,908.0 L1281.0,906.8 L1282.0,906.2 L1283.0,907.2 L1284.0,907.9 L1285.0,906.7 L1286.0,907.1 L1287.0,907.6 L1288.0,906.1 L1289.0,906.1 L1290.0,907.0 L1291.0,908.0 L1292.0,908.6 L1293.0,905.8 L1294.0,904.3 L1295.0,906.7 L1296.0,907.9 L1297.0,906.5 L1298.0,905.9 L1299.0,907.9 L1300.0,906.4 L1302.0,904.0 L1303.5,904.6" fill="none" stroke="#000" stroke-width="4.2" stroke-linejoin="round" />
<path d="M1269.0,908.6 L1270.0,908.9 L1271.0,909.0 L1272.0,909.9 L1273.0,909.0 L1274.0,908.0 L1275.0,908.9 L1276.0,908.6 L1277.0,908.2 L1278.0,909.7 L1279.0,908.1 L1280.0,907.1 L1281.0,908.4 L1282.0,907.2 L1283.0,907.5 L1284.0,908.7 L1285.0,909.5 L1286.0,908.6 L1287.0,908.5 L1288.0,910.2 L1289.0,909.9 L1290.0,909.3 L1291.0,909.5 L1292.0,909.5 L1293.0,908.3 L1294.0,908.8 L1295.0,909.9 L1296.0,910.4 L1297.0,910.7 L1298.0,908.5 L1299.0,908.8 L1300.0,910.6 L1302.0,904.0 L1303.5,904.6" fill="none" stroke="#000" stroke-width="4.2" stroke-linejoin="round" />
<path d="M1304.6,911.0 L1305.2,916.1 L1305.7,921.3 L1306.1,926.4 L1306.5,931.5 L1306.9,936.7 L1307.2,941.8 L1307.4,946.9 L1307.7,952.1 L1307.9,957.2 L1308.1,962.4 L1308.3,967.5 L1308.5,972.6 L1308.7,977.8 L1308.9,982.9 L1309.0,988.0 L1309.2,993.2 L1309.4,998.3 L1309.6,1003.4 L1309.8,1008.6 L1309.9,1013.7 L1310.1,1018.8 L1310.2,1024.0 L1310.3,1029.1 L1310.5,1034.3 L1310.6,1039.4 L1310.7,1044.5 L1310.7,1049.7 L1310.8,1054.8 L1310.9,1059.9 L1311.0,1065.1 L1311.0,1070.2 L1311.1,1075.3 L1311.1,1080.5 L1311.2,1085.6 L1311.2,1090.7 L1311.3,1095.9 L1311.3,1101.0 L1311.3,1106.2 L1311.4,1111.3 L1311.4,1116.4 L1311.5,1121.6 L1311.5,1126.7 L1311.6,1131.8 L1311.6,1137.0 L1311.7,1142.1 L1311.9,1147.2 L1312.0,1152.4 L1312.2,1157.5 L1312.3,1162.6 L1312.5,1167.8 L1312.7,1172.9 L1312.8,1178.1 L1313.0,1183.2 L1313.2,1188.3 L1313.3,1193.5 L1313.5,1198.6 L1313.7,1203.7 L1313.9,1208.9 L1314.1,1214.0" fill="none" stroke="#000" stroke-width="5.5" stroke-linejoin="round" />
<path d="M1303.5,907.0 L1303.8,920.3 L1304.2,927.4 L1304.5,933.4 L1304.9,938.2 L1305.2,942.3 L1305.6,945.8 L1305.9,949.0 L1306.3,952.0 L1306.6,955.1 L1307.0,958.1 L1307.3,961.0 L1307.7,963.9 L1308.0,966.8 L1308.4,969.6 L1308.7,972.3 L1309.1,975.0 L1309.4,977.5 L1309.8,979.9 L1310.1,982.2 L1310.5,984.4 L1310.8,986.4 L1311.2,988.3 L1311.5,990.0 L1311.9,991.5 L1312.2,992.9 L1312.6,994.0 L1312.9,995.0 L1313.3,995.7 L1313.6,996.2 L1314.0,996.5 L1314.3,996.4 L1314.7,995.7 L1315.0,994.3 L1315.4,992.3 L1315.7,989.9 L1316.1,987.3 L1316.4,984.5 L1316.8,981.6 L1317.1,978.9 L1317.5,976.5 L1317.8,974.4 L1318.2,972.5 L1318.5,970.7 L1318.9,968.9 L1319.2,967.0 L1319.6,965.4 L1319.9,963.7 L1320.3,962.2 L1320.6,960.6 L1321.0,959.3 L1321.3,957.3 L1321.7,955.6 L1322.0,953.5 L1322.4,951.7 L1322.7,949.9 L1323.1,948.0 L1323.4,946.8 L1323.8,945.5 L1324.1,944.7 L1324.5,943.4 L1324.8,942.1 L1325.2,940.8 L1325.5,940.2 L1325.9,939.3 L1326.2,938.0 L1326.6,937.5 L1326.9,936.1 L1327.3,935.8 L1327.6,934.4 L1328.0,933.6 L1328.3,932.6 L1328.7,932.1 L1329.0,931.3 L1329.4,931.2 L1329.7,930.7 L1330.1,930.1 L1330.4,929.2 L1330.8,928.6 L1331.1,928.3 L1331.5,928.2 L1331.8,927.5 L1332.2,926.9 L1332.5,926.0 L1332.9,925.8 L1333.2,926.0 L1333.6,924.9 L1333.9,924.2 L1334.3,923.1 L1334.6,923.2 L1335.0,922.8 L1335.3,923.2 L1335.7,923.7 L1336.0,923.4 L1336.4,921.9 L1336.7,921.4 L1337.1,921.6 L1337.4,921.5 L1337.8,921.2 L1338.1,920.9 L1338.5,921.5 L1338.8,921.0 L1339.2,920.8 L1339.5,920.3 L1339.9,920.7 L1340.2,920.4 L1340.6,920.6 L1340.9,920.0 L1341.3,919.6 L1341.6,919.2 L1342.0,919.4 L1342.3,919.2 L1342.7,919.0 L1343.0,919.5 L1343.4,919.2 L1343.7,918.2 L1344.1,916.5 L1344.4,916.4 L1344.8,916.8 L1345.1,916.0 L1345.5,915.0 L1345.8,915.2 L1346.2,915.3 L1346.5,916.3 L1346.9,916.3 L1347.2,915.4 L1347.6,915.2 L1347.9,914.5 L1348.3,915.5 L1348.6,915.3 L1349.0,915.2 L1349.3,915.5 L1349.7,916.1 L1350.0,916.2 L1350.4,915.4 L1350.7,915.2 L1351.1,915.6 L1351.4,916.8 L1351.8,916.3 L1352.1,916.2 L1352.5,916.5 L1352.8,916.3 L1353.2,915.6 L1353.5,915.4 L1353.9,915.3 L1354.2,916.1 L1355.4,915.2 L1356.6,915.2 L1357.8,914.9 L1359.0,915.4 L1360.2,915.3 L1361.4,915.9 L1362.6,915.7 L1363.8,916.3 L1365.0,915.2 L1366.2,915.2 L1367.4,914.6 L1368.6,915.1 L1369.8,915.5 L1371.0,915.8 L1372.2,915.8 L1373.4,916.1 L1374.6,916.5 L1375.8,916.3 L1377.0,915.9 L1378.2,915.7 L1379.4,916.2 L1380.6,916.4 L1381.8,916.0 L1383.0,915.5 L1384.2,915.3 L1385.4,915.7 L1386.6,915.4 L1387.8,914.9 L1389.0,914.5 L1390.2,915.0 L1391.4,915.1 L1392.6,915.1 L1393.8,914.7 L1395.0,915.2 L1396.2,914.5 L1397.4,914.9 L1398.6,914.3 L1399.8,915.2 L1401.0,915.3 L1402.2,914.3 L1403.4,914.7 L1404.6,915.0 L1405.8,917.0 L1407.0,916.8 L1408.2,916.9 L1409.4,916.4 L1410.6,916.8 L1411.8,915.8 L1413.0,915.5 L1414.2,914.4 L1415.4,915.4 L1416.6,915.5 L1417.8,916.6 L1419.0,916.3 L1420.2,916.1 L1421.4,915.3 L1422.6,914.9 L1423.8,914.1 L1425.0,914.1 L1426.2,914.2 L1427.4,914.9 L1428.6,914.4 L1429.8,914.7 L1431.0,914.4 L1432.2,915.0 L1433.4,914.8 L1434.6,915.2 L1435.8,914.3 L1437.0,914.6 L1438.2,915.1 L1439.4,915.7 L1440.6,915.3 L1441.8,915.2 L1443.0,915.6 L1444.2,915.6 L1445.4,916.6 L1446.6,916.8 L1447.8,917.6 L1449.0,916.6 L1450.2,916.2 L1451.4,915.1 L1452.6,914.8 L1453.8,914.6 L1455.0,915.4 L1456.2,915.3 L1457.4,914.9 L1458.6,915.1 L1459.8,915.4 L1461.0,916.2 L1462.2,915.7 L1463.4,915.4 L1464.6,915.0 L1465.8,913.9 L1467.0,914.6 L1468.2,914.9 L1469.4,916.5 L1470.6,916.0 L1471.8,916.6 L1473.0,916.6 L1474.2,916.0 L1475.4,914.3 L1476.6,913.9 L1477.8,914.1 L1479.0,914.8 L1480.2,914.6 L1481.4,915.1 L1482.6,915.8 L1483.8,916.2 L1485.0,916.6 L1486.2,916.1 L1487.4,917.1 L1488.6,917.5 L1489.8,917.1 L1491.0,916.0 L1492.2,915.1 L1493.4,915.3 L1494.6,915.0 L1495.8,914.8 L1497.0,914.0 L1498.2,913.5 L1499.4,914.4 L1500.6,914.0 L1501.8,914.8 L1503.0,913.6 L1504.2,914.5 L1505.4,914.0 L1506.6,915.3 L1507.8,915.7 L1509.0,915.4 L1510.2,914.8 L1511.4,915.0 L1512.6,915.9 L1513.8,916.3 L1515.0,916.2 L1516.2,915.6 L1517.4,916.2 L1518.6,915.9 L1519.8,915.8 L1521.0,915.3 L1522.2,916.2 L1523.4,915.7 L1524.6,915.9 L1525.8,915.9 L1527.0,916.8 L1528.2,915.5 L1529.4,914.7 L1530.6,914.5 L1531.8,915.5 L1533.0,915.3 L1534.2,915.2 L1535.4,915.4 L1536.6,915.7 L1537.8,915.7 L1539.0,915.2 L1540.2,914.8 L1541.4,914.8 L1542.6,914.9 L1543.8,915.9 L1545.0,915.7 L1546.2,915.2 L1547.4,914.7 L1548.6,914.6 L1549.8,915.5 L1551.0,915.5 L1552.2,915.2 L1553.4,915.2 L1554.6,915.4 L1555.8,916.2 L1557.0,916.1 L1558.2,916.6 L1559.4,916.1 L1560.6,916.3 L1561.8,915.8 L1563.0,916.3 L1564.2,915.9 L1565.4,915.7 L1566.6,915.8 L1567.8,915.9 L1569.0,916.4 L1570.2,917.0 L1571.4,916.5 L1572.6,917.1 L1573.8,916.9 L1575.0,916.8 L1576.2,915.9 L1577.4,915.4 L1578.6,916.5 L1579.8,916.1 L1581.0,916.9 L1582.2,915.9 L1583.4,916.2 L1584.6,915.1 L1585.8,915.1 L1587.0,914.7 L1588.2,914.7 L1589.4,915.2 L1590.6,915.4 L1591.8,915.3 L1593.0,914.2 L1594.2,914.4 L1595.4,915.6 L1596.6,917.6 L1597.8,918.2 L1599.0,917.2 L1600.2,916.7 L1601.4,915.9 L1602.6,915.9 L1603.8,915.7 L1605.0,916.4 L1606.2,916.4 L1607.4,916.1 L1608.6,915.6 L1609.8,915.2 L1611.0,915.9 L1612.2,916.3 L1613.4,917.5 L1614.6,917.5 L1615.8,916.8 L1617.0,916.2 L1618.2,915.4 L1619.4,915.8 L1620.6,916.9 L1621.8,916.9 L1623.0,917.0 L1624.2,916.7 L1625.4,916.7 L1626.6,917.3 L1627.8,916.4 L1629.0,916.8 L1630.2,916.1 L1631.4,916.8 L1632.6,917.2 L1633.8,916.9 L1635.0,916.2 L1636.2,914.8 L1637.4,914.7 L1638.6,915.6 L1639.8,916.2 L1641.0,916.8 L1642.2,916.5 L1643.4,916.9 L1644.6,916.4 L1645.8,915.9 L1647.0,915.8 L1648.2,915.2 L1649.4,916.1 L1650.6,915.7 L1651.8,916.2 L1653.0,915.3 L1654.2,915.6 L1655.4,916.1 L1656.6,916.9 L1657.8,917.1 L1659.0,917.7 L1660.2,917.0 L1661.4,917.2 L1662.6,916.8 L1663.8,917.1 L1665.0,917.1 L1666.2,916.2 L1667.4,916.8 L1668.6,916.8 L1669.8,917.4 L1671.0,916.6 L1672.2,916.7 L1673.4,916.1 L1674.6,916.6 L1675.8,916.6 L1677.0,918.2 L1678.2,917.9 L1679.4,918.1 L1680.6,917.2 L1681.8,916.5 L1683.0,915.4 L1684.2,914.8 L1685.4,916.1 L1686.6,917.3 L1687.8,917.5 L1689.0,917.1 L1690.2,916.6 L1691.4,915.6 L1692.6,915.9 L1693.8,916.4 L1695.0,916.5 L1696.2,915.6 L1697.4,914.9 L1698.6,915.9 L1699.8,916.8 L1701.0,917.4 L1702.2,917.2 L1703.4,917.0 L1704.6,916.2 L1705.8,916.3 L1707.0,916.1 L1708.2,916.6 L1709.4,916.5 L1710.6,917.2 L1711.8,917.1 L1713.0,917.4 L1714.2,916.9 L1715.4,916.5 L1716.6,916.6 L1717.8,915.2 L1719.0,914.7 L1720.2,914.4 L1721.4,915.3 L1722.6,915.9 L1723.8,915.8 L1725.0,916.2 L1726.2,916.9 L1727.4,917.0 L1728.6,917.2 L1729.8,916.8 L1731.0,916.5 L1732.2,915.4 L1733.4,915.3 L1734.6,916.3 L1735.8,916.5 L1737.0,915.6 L1737.6,915.5" fill="none" stroke="#000" stroke-width="3.3" stroke-linejoin="round" />
<path d="M1303.5,907.0 L1303.8,909.7 L1304.2,913.2 L1304.5,917.3 L1304.9,922.0 L1305.2,927.8 L1305.6,934.6 L1305.9,941.9 L1306.3,949.4 L1306.6,957.1 L1307.0,965.4 L1307.3,973.8 L1307.7,982.0 L1308.0,989.5 L1308.4,996.4 L1308.7,1002.9 L1309.1,1009.2 L1309.4,1015.7 L1309.8,1022.6 L1310.1,1029.9 L1310.5,1037.5 L1310.8,1045.3 L1311.2,1053.3 L1311.5,1061.2 L1311.9,1069.8 L1312.2,1078.5 L1312.6,1086.5 L1312.9,1092.9 L1313.3,1099.2 L1313.6,1105.5 L1314.0,1111.5 L1314.3,1117.0 L1314.7,1121.8 L1315.0,1125.6 L1315.4,1128.1 L1315.7,1129.2 L1316.1,1128.8 L1316.4,1127.6 L1316.8,1125.5 L1317.1,1122.8 L1317.5,1119.5 L1317.8,1115.9 L1318.2,1112.1 L1318.5,1108.2 L1318.9,1104.3 L1319.2,1100.6 L1319.6,1097.1 L1319.9,1093.8 L1320.3,1090.3 L1320.6,1086.7 L1321.0,1082.9 L1321.3,1079.4 L1321.7,1075.7 L1322.0,1072.4 L1322.4,1069.2 L1322.7,1066.3 L1323.1,1063.5 L1323.4,1060.8 L1323.8,1058.4 L1324.1,1055.5 L1324.5,1052.6 L1324.8,1049.0 L1325.2,1045.4 L1325.5,1042.4 L1325.9,1039.4 L1326.2,1037.0 L1326.6,1032.6 L1326.9,1028.4 L1327.3,1023.9 L1327.6,1021.5 L1328.0,1018.6 L1328.3,1015.5 L1328.7,1011.5 L1329.0,1008.2 L1329.4,1004.9 L1329.7,1002.1 L1330.1,998.7 L1330.4,996.4 L1330.8,993.9 L1331.1,991.8 L1331.5,988.9 L1331.8,985.9 L1332.2,983.7 L1332.5,981.4 L1332.9,978.6 L1333.2,975.9 L1333.6,973.8 L1333.9,972.2 L1334.3,970.2 L1334.6,968.3 L1335.0,966.2 L1335.3,964.6 L1335.7,963.1 L1336.0,961.8 L1336.4,959.7 L1336.7,957.5 L1337.1,955.6 L1337.4,953.4 L1337.8,951.7 L1338.1,950.6 L1338.5,949.8 L1338.8,948.9 L1339.2,947.0 L1339.5,946.4 L1339.9,945.1 L1340.2,945.2 L1340.6,944.2 L1340.9,943.0 L1341.3,941.4 L1341.6,940.1 L1342.0,940.3 L1342.3,940.0 L1342.7,939.5 L1343.0,938.3 L1343.4,937.6 L1343.7,936.9 L1344.1,937.1 L1344.4,936.1 L1344.8,936.0 L1345.1,934.0 L1345.5,934.0 L1345.8,933.1 L1346.2,933.7 L1346.5,933.7 L1346.9,933.5 L1347.2,931.9 L1347.6,930.1 L1347.9,929.9 L1348.3,930.2 L1348.6,930.3 L1349.0,930.3 L1349.3,930.1 L1349.7,930.6 L1350.0,930.1 L1350.4,929.4 L1350.7,928.5 L1351.1,926.8 L1351.4,926.3 L1351.8,925.2 L1352.1,925.5 L1352.5,924.7 L1352.8,923.7 L1353.2,921.8 L1353.5,920.6 L1353.9,920.1 L1354.2,920.4 L1354.6,920.7 L1354.9,919.9 L1355.3,918.8 L1355.6,918.3 L1355.8,918.2 L1357.0,917.8 L1358.2,916.3 L1359.4,916.1 L1360.6,915.6 L1361.8,916.1 L1363.0,915.9 L1364.2,916.3 L1365.4,916.8 L1366.6,917.4 L1367.8,917.1 L1369.0,916.6 L1370.2,916.0 L1371.4,915.8 L1372.6,915.8 L1373.8,916.0 L1375.0,916.3 L1376.2,916.4 L1377.4,916.9 L1378.6,916.7 L1379.8,916.5 L1381.0,916.3 L1382.2,916.7 L1383.4,916.4 L1384.6,915.7 L1385.8,915.8 L1387.0,915.7 L1388.2,916.4 L1389.4,915.7 L1390.6,916.9 L1391.8,916.2 L1393.0,917.5 L1394.2,917.0 L1395.4,918.1 L1396.6,917.8 L1397.8,917.7 L1399.0,917.0 L1400.2,917.5 L1401.4,917.1 L1402.6,917.3 L1403.8,915.6 L1405.0,915.8 L1406.2,916.0 L1407.4,916.2 L1408.6,916.3 L1409.8,915.9 L1411.0,916.1 L1412.2,916.3 L1413.4,916.8 L1414.6,916.6 L1415.8,915.5 L1417.0,915.3 L1418.2,915.2 L1419.4,915.7 L1420.6,915.2 L1421.8,916.1 L1423.0,917.2 L1424.2,917.3 L1425.4,917.8 L1426.6,916.9 L1427.8,917.0 L1429.0,916.5 L1430.2,917.3 L1431.4,917.3 L1432.6,916.7 L1433.8,916.6 L1435.0,917.1 L1436.2,916.0 L1437.4,915.1 L1438.6,914.4 L1439.8,915.3 L1441.0,915.5 L1442.2,915.6 L1443.4,915.7 L1444.6,916.5 L1445.8,916.0 L1447.0,916.2 L1448.2,915.6 L1449.4,915.6 L1450.6,915.1 L1451.8,914.3 L1453.0,915.3 L1454.2,915.3 L1455.4,916.0 L1456.6,915.1 L1457.8,915.0 L1459.0,915.0 L1460.2,915.9 L1461.4,915.8 L1462.6,915.2 L1463.8,914.9 L1465.0,915.1 L1466.2,915.0 L1467.4,914.5 L1468.6,915.0 L1469.8,914.4 L1471.0,915.6 L1472.2,916.2 L1473.4,917.9 L1474.6,917.0 L1475.8,916.0 L1477.0,915.7 L1478.2,915.3 L1479.4,916.6 L1480.6,916.1 L1481.8,917.1 L1483.0,916.5 L1484.2,916.6 L1485.4,915.9 L1486.6,915.2 L1487.8,915.5 L1489.0,915.8 L1490.2,916.2 L1491.4,916.0 L1492.6,915.7 L1493.8,916.3 L1495.0,916.8 L1496.2,917.1 L1497.4,916.2 L1498.6,915.6 L1499.8,915.6 L1501.0,915.7 L1502.2,915.6 L1503.4,916.0 L1504.6,916.2 L1505.8,916.7 L1507.0,915.8 L1508.2,915.9 L1509.4,916.1 L1510.6,916.5 L1511.8,915.7 L1513.0,915.2 L1514.2,915.3 L1515.4,916.0 L1516.6,916.7 L1517.8,916.3 L1519.0,916.2 L1520.2,916.2 L1521.4,916.3 L1522.6,916.7 L1523.8,915.5 L1525.0,915.1 L1526.2,915.1 L1527.4,916.3 L1528.6,917.0 L1529.8,917.0 L1531.0,917.1 L1532.2,916.2 L1533.4,916.5 L1534.6,916.5 L1535.8,916.5 L1537.0,915.2 L1538.2,915.0 L1539.4,915.2 L1540.6,916.0 L1541.8,915.7 L1543.0,915.4 L1544.2,914.8 L1545.4,914.7 L1546.6,915.4 L1547.8,916.1 L1549.0,916.0 L1550.2,916.2 L1551.4,915.8 L1552.6,916.0 L1553.8,914.8 L1555.0,914.6 L1556.2,914.1 L1557.4,915.4 L1558.6,916.1 L1559.8,916.9 L1561.0,917.5 L1562.2,917.2 L1563.4,917.4 L1564.6,916.3 L1565.8,916.3 L1567.0,915.5 L1568.2,915.6 L1569.4,915.9 L1570.6,916.3 L1571.8,916.3 L1573.0,915.8 L1574.2,916.0 L1575.4,916.8 L1576.6,916.2 L1577.8,915.9 L1579.0,915.3 L1580.2,915.8 L1581.4,915.8 L1582.6,916.1 L1583.8,916.8 L1585.0,916.0 L1586.2,915.3 L1587.4,914.8 L1588.6,914.9 L1589.8,915.6 L1591.0,915.2 L1592.2,915.8 L1593.4,915.1 L1594.6,915.1 L1595.8,916.3 L1597.0,916.7 L1598.2,917.8 L1599.4,916.5 L1600.6,917.0 L1601.8,916.0 L1603.0,916.2 L1604.2,915.7 L1605.4,914.8 L1606.6,913.4 L1607.8,913.6 L1609.0,915.1 L1610.2,916.0 L1611.4,915.6 L1612.6,915.0 L1613.8,916.1 L1615.0,915.8 L1616.2,916.3 L1617.4,916.1 L1618.6,916.3 L1619.8,915.6 L1621.0,914.9 L1622.2,915.2 L1623.4,916.1 L1624.6,916.3 L1625.8,916.4 L1627.0,916.1 L1628.2,916.6 L1629.4,916.7 L1630.6,916.2 L1631.8,916.0 L1633.0,917.0 L1634.2,918.1 L1635.4,918.0 L1636.6,917.2 L1637.8,916.9 L1639.0,916.8 L1640.2,917.2 L1641.4,916.8 L1642.6,917.0 L1643.8,917.2 L1645.0,916.6 L1646.2,916.5 L1647.4,915.7 L1648.6,916.3 L1649.8,915.9 L1651.0,916.6 L1652.2,916.3 L1653.4,916.2 L1654.6,915.8 L1655.8,915.8 L1657.0,915.3 L1658.2,915.8 L1659.4,915.8 L1660.6,916.6 L1661.8,916.4 L1663.0,916.8 L1664.2,916.9 L1665.4,916.4 L1666.6,916.1 L1667.8,916.0 L1669.0,916.2 L1670.2,916.0 L1671.4,916.1 L1672.6,917.0 L1673.8,917.5 L1675.0,917.7 L1676.2,917.3 L1677.4,917.9 L1678.6,917.6 L1679.8,917.9 L1681.0,918.5 L1682.2,918.7 L1683.4,918.3 L1684.6,916.1 L1685.8,915.2 L1687.0,916.2 L1688.2,916.9 L1689.4,917.3 L1690.6,916.1 L1691.8,915.6 L1693.0,916.0 L1694.2,915.9 L1695.4,916.7 L1696.6,917.4 L1697.8,917.9 L1699.0,917.7 L1700.2,917.0 L1701.4,917.4 L1702.6,916.8 L1703.8,916.4 L1705.0,915.5 L1706.2,915.6 L1707.4,916.3 L1708.6,916.4 L1709.8,916.5 L1711.0,916.5 L1712.2,916.6 L1713.4,917.3 L1714.6,917.0 L1715.8,916.8 L1717.0,916.2 L1718.2,916.4 L1719.4,916.2 L1720.6,917.2 L1721.8,917.1 L1723.0,917.5 L1724.2,916.7 L1725.4,917.3 L1726.6,917.2 L1727.8,917.9 L1729.0,916.9 L1730.2,917.5 L1731.4,917.5 L1732.6,918.2 L1733.8,918.1 L1735.0,917.9 L1736.2,917.0 L1737.4,916.7 L1737.6,916.5" fill="none" stroke="#000" stroke-width="3.3" stroke-linejoin="round" />
<path d="M1303.5,907.0 L1303.8,909.4 L1304.2,912.2 L1304.5,915.4 L1304.9,918.9 L1305.2,922.7 L1305.6,927.0 L1305.9,931.7 L1306.3,936.8 L1306.6,942.4 L1307.0,948.3 L1307.3,954.8 L1307.7,962.4 L1308.0,970.6 L1308.4,979.0 L1308.7,987.2 L1309.1,995.0 L1309.4,1002.6 L1309.8,1010.5 L1310.1,1018.8 L1310.5,1028.0 L1310.8,1038.1 L1311.2,1048.9 L1311.5,1060.2 L1311.9,1072.6 L1312.2,1085.5 L1312.6,1097.7 L1312.9,1110.0 L1313.3,1121.7 L1313.6,1131.8 L1314.0,1140.1 L1314.3,1147.4 L1314.7,1154.0 L1315.0,1160.1 L1315.4,1166.0 L1315.7,1171.8 L1316.1,1178.1 L1316.4,1184.8 L1316.8,1191.8 L1317.1,1198.7 L1317.5,1205.2 L1317.8,1211.2 L1318.2,1216.4 L1318.5,1220.5 L1318.9,1223.2 L1319.2,1224.4 L1319.6,1223.2 L1319.9,1219.6 L1320.3,1214.8 L1320.6,1210.0 L1321.0,1206.3 L1321.3,1203.0 L1321.7,1200.0 L1322.0,1196.9 L1322.4,1193.7 L1322.7,1190.2 L1323.1,1186.2 L1323.4,1181.5 L1323.8,1175.2 L1324.1,1167.5 L1324.5,1159.1 L1324.8,1150.5 L1325.2,1142.9 L1325.5,1136.5 L1325.9,1131.7 L1326.2,1127.9 L1326.6,1124.2 L1326.9,1120.8 L1327.3,1117.9 L1327.6,1115.2 L1328.0,1112.1 L1328.3,1108.0 L1328.7,1104.5 L1329.0,1101.5 L1329.4,1098.7 L1329.7,1095.2 L1330.1,1091.5 L1330.4,1088.2 L1330.8,1085.6 L1331.1,1083.1 L1331.5,1080.8 L1331.8,1077.4 L1332.2,1073.9 L1332.5,1069.6 L1332.9,1066.5 L1333.2,1063.7 L1333.6,1061.3 L1333.9,1058.7 L1334.3,1055.9 L1334.6,1052.9 L1335.0,1049.3 L1335.3,1046.3 L1335.7,1043.6 L1336.0,1040.9 L1336.4,1039.1 L1336.7,1034.7 L1337.1,1031.1 L1337.4,1026.2 L1337.8,1023.8 L1338.1,1020.8 L1338.5,1017.9 L1338.8,1015.5 L1339.2,1013.0 L1339.5,1009.9 L1339.9,1007.2 L1340.2,1003.4 L1340.6,1000.5 L1340.9,997.3 L1341.3,995.3 L1341.6,992.9 L1342.0,990.4 L1342.3,987.9 L1342.7,985.2 L1343.0,982.6 L1343.4,980.6 L1343.7,979.2 L1344.1,977.9 L1344.4,976.3 L1344.8,973.1 L1345.1,970.5 L1345.5,967.8 L1345.8,967.0 L1346.2,965.5 L1346.5,963.9 L1346.9,962.4 L1347.2,960.3 L1347.6,958.6 L1347.9,956.5 L1348.3,955.2 L1348.6,953.3 L1349.0,952.2 L1349.3,950.9 L1349.7,950.2 L1350.0,948.7 L1350.4,947.7 L1350.7,946.4 L1351.1,944.9 L1351.4,943.8 L1351.8,943.0 L1352.1,943.4 L1352.5,942.9 L1352.8,943.1 L1353.2,942.3 L1353.5,942.7 L1353.9,942.5 L1354.2,943.3 L1354.6,943.4 L1354.9,944.0 L1355.3,943.1 L1355.6,941.6 L1356.0,941.1 L1356.3,941.6 L1356.7,941.8 L1357.0,941.7 L1357.4,940.4 L1357.7,940.3 L1358.1,939.3 L1358.4,938.7 L1358.8,938.1 L1359.1,937.1 L1359.3,937.2 L1360.5,936.3 L1361.7,936.2 L1362.9,934.8 L1364.1,933.5 L1365.3,932.5 L1366.5,931.4 L1367.7,929.6 L1368.9,927.5 L1370.1,926.3 L1371.3,926.4 L1372.5,925.6 L1373.7,925.8 L1374.9,925.0 L1376.1,923.7 L1377.3,923.1 L1378.5,922.2 L1379.7,922.4 L1380.9,921.6 L1382.1,921.4 L1383.3,922.3 L1384.5,921.8 L1385.7,920.7 L1386.9,919.1 L1388.1,919.0 L1389.3,918.8 L1390.5,918.7 L1391.7,917.7 L1392.9,917.6 L1394.1,917.5 L1395.3,918.5 L1396.5,918.7 L1397.7,918.5 L1398.9,918.1 L1400.1,918.0 L1401.3,918.2 L1402.5,917.8 L1403.7,919.0 L1404.9,919.0 L1406.1,920.0 L1407.3,919.3 L1408.5,920.3 L1409.7,919.2 L1410.9,919.2 L1412.1,917.4 L1413.3,918.4 L1414.5,918.6 L1415.7,919.5 L1416.9,919.8 L1418.1,920.8 L1419.3,921.6 L1420.5,921.4 L1421.7,920.1 L1422.9,919.1 L1424.1,917.7 L1425.3,918.1 L1426.5,917.6 L1427.7,918.2 L1428.9,918.5 L1430.1,919.5 L1431.3,919.0 L1432.5,917.9 L1433.7,918.3 L1434.9,918.3 L1436.1,918.5 L1437.3,917.3 L1438.5,917.7 L1439.7,917.6 L1440.9,918.7 L1442.1,918.3 L1443.3,918.4 L1444.5,916.8 L1445.7,917.9 L1446.9,918.6 L1448.1,919.5 L1449.3,919.0 L1450.5,918.7 L1451.7,919.2 L1452.9,918.4 L1454.1,917.8 L1455.3,918.3 L1456.5,919.6 L1457.7,920.3 L1458.9,919.3 L1460.1,919.1 L1461.3,919.2 L1462.5,919.6 L1463.7,918.7 L1464.9,918.3 L1466.1,918.1 L1467.3,918.7 L1468.5,918.2 L1469.7,918.0 L1470.9,917.4 L1472.1,917.7 L1473.3,917.8 L1474.5,918.5 L1475.7,919.0 L1476.9,919.3 L1478.1,919.1 L1479.3,918.3 L1480.5,917.9 L1481.7,917.6 L1482.9,917.4 L1484.1,917.1 L1485.3,917.4 L1486.5,918.7 L1487.7,918.9 L1488.9,918.1 L1490.1,917.6 L1491.3,917.3 L1492.5,918.5 L1493.7,917.9 L1494.9,918.6 L1496.1,918.0 L1497.3,918.7 L1498.5,918.0 L1499.7,918.3 L1500.9,918.1 L1502.1,918.4 L1503.3,917.6 L1504.5,917.4 L1505.7,916.6 L1506.9,917.3 L1508.1,917.4 L1509.3,919.0 L1510.5,918.0 L1511.7,918.9 L1512.9,918.4 L1514.1,918.9 L1515.3,918.4 L1516.5,917.6 L1517.7,917.2 L1518.9,917.5 L1520.1,917.2 L1521.3,917.8 L1522.5,917.8 L1523.7,918.8 L1524.9,919.4 L1526.1,918.7 L1527.3,918.3 L1528.5,918.2 L1529.7,918.7 L1530.9,919.0 L1532.1,919.1 L1533.3,918.2 L1534.5,918.7 L1535.7,917.9 L1536.9,918.5 L1538.1,918.1 L1539.3,918.3 L1540.5,918.5 L1541.7,919.0 L1542.9,919.6 L1544.1,919.4 L1545.3,918.8 L1546.5,917.7 L1547.7,918.4 L1548.9,918.8 L1550.1,919.0 L1551.3,918.3 L1552.5,918.5 L1553.7,918.5 L1554.9,918.5 L1556.1,917.9 L1557.3,918.0 L1558.5,918.0 L1559.7,917.0 L1560.9,917.6 L1562.1,917.4 L1563.3,918.3 L1564.5,917.2 L1565.7,918.5 L1566.9,918.7 L1568.1,918.4 L1569.3,917.1 L1570.5,916.7 L1571.7,917.1 L1572.9,916.8 L1574.1,916.3 L1575.3,916.4 L1576.5,917.1 L1577.7,917.8 L1578.9,918.7 L1580.1,918.6 L1581.3,917.4 L1582.5,916.8 L1583.7,917.4 L1584.9,917.8 L1586.1,918.0 L1587.3,917.6 L1588.5,917.7 L1589.7,917.5 L1590.9,916.9 L1592.1,918.0 L1593.3,918.4 L1594.5,918.9 L1595.7,918.5 L1596.9,918.5 L1598.1,918.1 L1599.3,917.2 L1600.5,916.3 L1601.7,916.1 L1602.9,917.0 L1604.1,918.2 L1605.3,919.4 L1606.5,918.5 L1607.7,918.0 L1608.9,917.8 L1610.1,919.2 L1611.3,919.1 L1612.5,918.4 L1613.7,917.4 L1614.9,917.7 L1616.1,918.3 L1617.3,918.9 L1618.5,918.5 L1619.7,918.8 L1620.9,917.9 L1622.1,918.4 L1623.3,918.3 L1624.5,919.3 L1625.7,919.2 L1626.9,918.4 L1628.1,917.9 L1629.3,917.3 L1630.5,917.2 L1631.7,916.8 L1632.9,917.6 L1634.1,917.4 L1635.3,917.5 L1636.5,917.6 L1637.7,918.3 L1638.9,919.4 L1640.1,919.5 L1641.3,919.6 L1642.5,919.3 L1643.7,918.1 L1644.9,918.0 L1646.1,918.3 L1647.3,919.0 L1648.5,919.0 L1649.7,919.5 L1650.9,919.6 L1652.1,918.9 L1653.3,918.2 L1654.5,916.7 L1655.7,917.5 L1656.9,917.2 L1658.1,918.1 L1659.3,917.5 L1660.5,917.2 L1661.7,918.6 L1662.9,918.5 L1664.1,918.3 L1665.3,917.0 L1666.5,917.3 L1667.7,918.4 L1668.9,918.7 L1670.1,918.8 L1671.3,918.3 L1672.5,918.3 L1673.7,918.3 L1674.9,917.9 L1676.1,917.6 L1677.3,917.7 L1678.5,917.6 L1679.7,917.7 L1680.9,918.3 L1682.1,917.9 L1683.3,918.1 L1684.5,917.9 L1685.7,918.4 L1686.9,918.2 L1688.1,918.4 L1689.3,918.2 L1690.5,918.5 L1691.7,918.3 L1692.9,918.5 L1694.1,918.4 L1695.3,918.5 L1696.5,919.1 L1697.7,918.5 L1698.9,918.6 L1700.1,917.6 L1701.3,917.7 L1702.5,917.3 L1703.7,917.7 L1704.9,917.3 L1706.1,918.0 L1707.3,917.7 L1708.5,918.8 L1709.7,918.2 L1710.9,918.7 L1712.1,918.4 L1713.3,918.4 L1714.5,918.1 L1715.7,917.9 L1716.9,918.3 L1718.1,918.3 L1719.3,918.7 L1720.5,917.9 L1721.7,917.5 L1722.9,917.5 L1724.1,917.1 L1725.3,918.0 L1726.5,917.8 L1727.7,918.3 L1728.9,917.4 L1730.1,917.6 L1731.3,918.0 L1732.5,918.5 L1733.7,918.2 L1734.9,917.4 L1736.1,917.1 L1737.3,917.3 L1737.6,917.5" fill="none" stroke="#000" stroke-width="3.3" stroke-linejoin="round" />
<path d="M1303.5,907.0 L1303.8,909.2 L1304.2,911.8 L1304.5,914.6 L1304.9,917.8 L1305.2,921.1 L1305.6,924.8 L1305.9,928.9 L1306.3,933.2 L1306.6,938.0 L1307.0,943.0 L1307.3,948.4 L1307.7,954.2 L1308.0,960.9 L1308.4,968.2 L1308.7,975.9 L1309.1,983.8 L1309.4,991.6 L1309.8,999.0 L1310.1,1006.9 L1310.5,1016.5 L1310.8,1028.8 L1311.2,1046.7 L1311.5,1073.8 L1311.9,1114.2 L1312.2,1142.1 L1312.6,1155.9 L1312.9,1166.4 L1313.3,1177.4 L1313.6,1188.0 L1314.0,1198.0 L1314.3,1207.5 L1314.7,1216.6 L1315.0,1225.5 L1315.4,1234.1 L1315.7,1242.3 L1316.1,1250.0 L1316.4,1257.1 L1316.8,1263.1 L1317.1,1268.2 L1317.5,1272.8 L1317.8,1277.3 L1318.2,1282.2 L1318.5,1287.9 L1318.9,1295.0 L1319.2,1308.4 L1319.6,1322.9 L1319.9,1325.8 L1320.3,1324.3 L1320.6,1321.5 L1321.0,1318.0 L1321.3,1314.0 L1321.7,1310.1 L1322.0,1306.8 L1322.4,1303.6 L1322.7,1300.5 L1323.1,1297.3 L1323.4,1294.1 L1323.8,1290.8 L1324.1,1287.5 L1324.5,1283.9 L1324.8,1280.2 L1325.2,1276.6 L1325.5,1273.0 L1325.9,1269.6 L1326.2,1265.9 L1326.6,1262.2 L1326.9,1258.3 L1327.3,1254.1 L1327.6,1250.1 L1328.0,1246.0 L1328.3,1241.9 L1328.7,1237.8 L1329.0,1233.7 L1329.4,1229.7 L1329.7,1225.7 L1330.1,1221.5 L1330.4,1216.9 L1330.8,1212.7 L1331.1,1208.7 L1331.5,1204.8 L1331.8,1200.2 L1332.2,1196.4 L1332.5,1191.2 L1332.9,1187.4 L1333.2,1182.4 L1333.6,1179.9 L1333.9,1176.4 L1334.3,1172.5 L1334.6,1167.7 L1335.0,1163.1 L1335.3,1158.4 L1335.7,1154.6 L1336.0,1150.1 L1336.4,1146.8 L1336.7,1142.0 L1337.1,1138.2 L1337.4,1134.0 L1337.8,1130.5 L1338.1,1126.4 L1338.5,1121.7 L1338.8,1117.3 L1339.2,1113.5 L1339.5,1109.0 L1339.9,1104.0 L1340.2,1098.4 L1340.6,1094.1 L1340.9,1090.8 L1341.3,1087.1 L1341.6,1084.0 L1342.0,1080.9 L1342.3,1077.4 L1342.7,1074.1 L1343.0,1070.4 L1343.4,1068.2 L1343.7,1065.5 L1344.1,1062.7 L1344.4,1058.7 L1344.8,1055.0 L1345.1,1051.6 L1345.5,1048.9 L1345.8,1045.5 L1346.2,1042.5 L1346.5,1039.6 L1346.9,1036.8 L1347.2,1033.1 L1347.6,1029.4 L1347.9,1025.4 L1348.3,1022.2 L1348.6,1019.3 L1349.0,1016.6 L1349.3,1013.8 L1349.7,1011.1 L1350.0,1008.3 L1350.4,1005.9 L1350.7,1002.5 L1351.1,1001.0 L1351.4,998.8 L1351.8,997.8 L1352.1,995.8 L1352.5,994.0 L1352.8,992.0 L1353.2,989.3 L1353.5,987.4 L1353.9,984.7 L1354.2,984.1 L1354.6,983.0 L1354.9,982.9 L1355.3,981.6 L1355.6,980.5 L1356.0,978.3 L1356.3,975.7 L1356.7,973.4 L1357.0,973.0 L1357.4,972.5 L1357.7,971.8 L1358.1,969.9 L1358.4,968.7 L1358.8,966.7 L1359.1,964.7 L1359.5,963.6 L1359.8,962.3 L1361.0,959.6 L1362.2,955.9 L1363.4,953.4 L1364.6,949.8 L1365.8,946.1 L1367.0,943.0 L1368.2,941.1 L1369.4,939.0 L1370.6,936.5 L1371.8,934.5 L1373.0,932.2 L1374.2,931.3 L1375.4,930.1 L1376.6,931.3 L1377.8,931.3 L1379.0,930.9 L1380.2,929.0 L1381.4,928.1 L1382.6,926.9 L1383.8,927.5 L1385.0,926.8 L1386.2,927.7 L1387.4,927.6 L1388.6,927.7 L1389.8,927.2 L1391.0,926.8 L1392.2,926.8 L1393.4,926.5 L1394.6,926.5 L1395.8,926.2 L1397.0,925.9 L1398.2,925.5 L1399.4,924.9 L1400.6,925.4 L1401.8,925.4 L1403.0,924.5 L1404.2,923.7 L1405.4,923.0 L1406.6,923.6 L1407.8,923.8 L1409.0,924.2 L1410.2,924.6 L1411.4,923.3 L1412.6,922.9 L1413.8,921.2 L1415.0,922.2 L1416.2,921.7 L1417.4,921.9 L1418.6,920.9 L1419.8,920.2 L1421.0,920.8 L1422.2,920.5 L1423.4,920.3 L1424.6,919.7 L1425.8,920.5 L1427.0,920.3 L1428.2,920.1 L1429.4,919.0 L1430.6,919.7 L1431.8,919.1 L1433.0,919.6 L1434.2,919.3 L1435.4,919.6 L1436.6,920.0 L1437.8,920.6 L1439.0,920.8 L1440.2,920.4 L1441.4,919.7 L1442.6,920.2 L1443.8,920.4 L1445.0,920.4 L1446.2,919.8 L1447.4,919.1 L1448.6,919.0 L1449.8,919.0 L1451.0,920.1 L1452.2,920.6 L1453.4,919.6 L1454.6,918.7 L1455.8,918.8 L1457.0,920.2 L1458.2,919.7 L1459.4,919.1 L1460.6,919.3 L1461.8,919.7 L1463.0,919.6 L1464.2,918.9 L1465.4,918.8 L1466.6,919.4 L1467.8,919.5 L1469.0,920.0 L1470.2,919.2 L1471.4,919.6 L1472.6,919.3 L1473.8,919.3 L1475.0,918.7 L1476.2,918.3 L1477.4,918.4 L1478.6,919.4 L1479.8,919.7 L1481.0,919.5 L1482.2,918.5 L1483.4,919.0 L1484.6,919.5 L1485.8,919.6 L1487.0,918.8 L1488.2,918.4 L1489.4,917.3 L1490.6,918.3 L1491.8,918.7 L1493.0,920.0 L1494.2,919.0 L1495.4,917.9 L1496.6,917.6 L1497.8,917.8 L1499.0,918.2 L1500.2,917.8 L1501.4,917.5 L1502.6,917.2 L1503.8,917.7 L1505.0,918.5 L1506.2,919.7 L1507.4,919.6 L1508.6,919.5 L1509.8,919.4 L1511.0,919.1 L1512.2,919.1 L1513.4,918.8 L1514.6,918.0 L1515.8,918.1 L1517.0,918.9 L1518.2,920.6 L1519.4,920.3 L1520.6,919.7 L1521.8,919.1 L1523.0,919.9 L1524.2,920.5 L1525.4,920.1 L1526.6,919.0 L1527.8,918.0 L1529.0,918.1 L1530.2,919.1 L1531.4,918.5 L1532.6,918.2 L1533.8,916.9 L1535.0,917.5 L1536.2,918.2 L1537.4,918.4 L1538.6,919.0 L1539.8,919.5 L1541.0,920.0 L1542.2,920.2 L1543.4,919.3 L1544.6,919.4 L1545.8,918.8 L1547.0,919.4 L1548.2,919.3 L1549.4,919.7 L1550.6,919.6 L1551.8,920.0 L1553.0,919.2 L1554.2,919.0 L1555.4,918.2 L1556.6,918.4 L1557.8,918.3 L1559.0,918.9 L1560.2,919.0 L1561.4,918.9 L1562.6,919.2 L1563.8,919.4 L1565.0,918.6 L1566.2,918.2 L1567.4,917.8 L1568.6,919.0 L1569.8,919.2 L1571.0,920.1 L1572.2,919.7 L1573.4,919.7 L1574.6,918.9 L1575.8,918.7 L1577.0,917.7 L1578.2,917.9 L1579.4,918.8 L1580.6,919.4 L1581.8,919.7 L1583.0,919.1 L1584.2,919.6 L1585.4,919.0 L1586.6,919.2 L1587.8,918.4 L1589.0,918.8 L1590.2,919.4 L1591.4,920.3 L1592.6,919.7 L1593.8,918.1 L1595.0,917.7 L1596.2,917.4 L1597.4,918.2 L1598.6,918.6 L1599.8,918.1 L1601.0,918.0 L1602.2,917.5 L1603.4,918.8 L1604.6,919.1 L1605.8,919.9 L1607.0,919.8 L1608.2,919.9 L1609.4,918.3 L1610.6,918.1 L1611.8,917.6 L1613.0,918.5 L1614.2,918.9 L1615.4,918.5 L1616.6,917.4 L1617.8,917.8 L1619.0,918.2 L1620.2,919.2 L1621.4,919.0 L1622.6,919.4 L1623.8,919.7 L1625.0,919.2 L1626.2,919.2 L1627.4,918.7 L1628.6,918.6 L1629.8,919.2 L1631.0,919.8 L1632.2,919.9 L1633.4,919.9 L1634.6,919.8 L1635.8,920.4 L1637.0,919.6 L1638.2,919.4 L1639.4,918.9 L1640.6,918.9 L1641.8,918.3 L1643.0,919.1 L1644.2,919.2 L1645.4,920.8 L1646.6,919.5 L1647.8,919.1 L1649.0,917.6 L1650.2,917.8 L1651.4,918.3 L1652.6,919.8 L1653.8,919.6 L1655.0,919.2 L1656.2,918.7 L1657.4,919.1 L1658.6,919.0 L1659.8,918.4 L1661.0,917.8 L1662.2,918.7 L1663.4,918.6 L1664.6,918.8 L1665.8,918.7 L1667.0,918.7 L1668.2,919.3 L1669.4,918.2 L1670.6,918.2 L1671.8,918.3 L1673.0,919.2 L1674.2,919.1 L1675.4,917.9 L1676.6,916.9 L1677.8,917.5 L1679.0,917.9 L1680.2,918.8 L1681.4,918.6 L1682.6,919.9 L1683.8,920.3 L1685.0,919.7 L1686.2,918.6 L1687.4,917.5 L1688.6,918.2 L1689.8,918.0 L1691.0,918.6 L1692.2,918.4 L1693.4,917.6 L1694.6,917.7 L1695.8,917.1 L1697.0,917.6 L1698.2,917.0 L1699.4,917.9 L1700.6,917.8 L1701.8,918.0 L1703.0,918.0 L1704.2,919.4 L1705.4,919.1 L1706.6,919.2 L1707.8,918.7 L1709.0,918.9 L1710.2,918.9 L1711.4,919.0 L1712.6,918.8 L1713.8,917.4 L1715.0,916.9 L1716.2,917.3 L1717.4,918.8 L1718.6,919.1 L1719.8,919.5 L1721.0,919.3 L1722.2,918.9 L1723.4,917.8 L1724.6,917.2 L1725.8,917.9 L1727.0,918.1 L1728.2,918.3 L1729.4,918.6 L1730.6,918.3 L1731.8,919.0 L1733.0,917.9 L1734.2,918.2 L1735.4,917.6 L1736.6,918.2 L1737.6,918.3" fill="none" stroke="#000" stroke-width="3.3" stroke-linejoin="round" />
<path d="M1303.5,907.0 L1303.8,920.0 L1304.2,932.8 L1304.5,945.6 L1304.9,958.3 L1305.2,970.8 L1305.6,983.3 L1305.9,995.7 L1306.3,1008.0 L1306.6,1020.2 L1307.0,1032.3 L1307.3,1044.3 L1307.7,1056.3 L1308.0,1068.1 L1308.4,1079.9 L1308.7,1091.7 L1309.1,1103.3 L1309.4,1114.9 L1309.8,1126.4 L1310.1,1137.8 L1310.5,1149.1 L1310.8,1160.1 L1311.2,1170.9 L1311.5,1181.5 L1311.9,1192.2 L1312.2,1203.1 L1312.6,1213.9 L1312.9,1224.3 L1313.3,1234.0 L1313.6,1242.7 L1314.0,1250.0 L1314.3,1256.4 L1314.7,1262.5 L1315.0,1268.3 L1315.4,1273.7 L1315.7,1278.7 L1316.1,1283.4 L1316.4,1287.7 L1316.8,1291.6 L1317.1,1295.0 L1317.5,1298.0 L1317.8,1300.7 L1318.2,1303.3 L1318.5,1305.7 L1318.9,1308.0 L1319.2,1310.2 L1319.6,1312.2 L1319.9,1314.0 L1320.3,1315.7 L1320.6,1317.1 L1321.0,1318.5 L1321.3,1319.6 L1321.7,1320.5 L1322.0,1321.5 L1322.4,1322.4 L1322.7,1323.3 L1323.1,1324.1 L1323.4,1324.9 L1323.8,1325.6 L1324.1,1326.2 L1324.5,1326.7 L1324.8,1327.1 L1325.2,1327.3 L1325.5,1327.5 L1325.9,1327.4 L1326.2,1327.1 L1326.6,1326.4 L1326.9,1325.5 L1327.3,1324.4 L1327.6,1323.2 L1328.0,1321.9 L1328.3,1320.6 L1328.7,1319.2 L1329.0,1317.6 L1329.4,1315.7 L1329.7,1313.6 L1330.1,1311.3 L1330.4,1308.9 L1330.8,1306.6 L1331.1,1304.0 L1331.5,1301.0 L1331.8,1297.6 L1332.2,1294.5 L1332.5,1291.5 L1332.9,1287.9 L1333.2,1284.1 L1333.6,1280.3 L1333.9,1276.6 L1334.3,1273.1 L1334.6,1268.8 L1335.0,1265.2 L1335.3,1261.0 L1335.7,1257.2 L1336.0,1251.9 L1336.4,1247.2 L1336.7,1242.5 L1337.1,1238.7 L1337.4,1234.1 L1337.8,1229.1 L1338.1,1223.4 L1338.5,1219.4 L1338.8,1215.1 L1339.2,1212.3 L1339.5,1207.8 L1339.9,1204.0 L1340.2,1198.7 L1340.6,1195.4 L1340.9,1191.8 L1341.3,1188.8 L1341.6,1184.0 L1342.0,1181.2 L1342.3,1178.0 L1342.7,1175.3 L1343.0,1172.7 L1343.4,1170.9 L1343.7,1169.1 L1344.1,1168.4 L1344.4,1165.8 L1344.8,1163.8 L1345.1,1160.4 L1345.5,1158.8 L1345.8,1157.0 L1346.2,1154.4 L1346.5,1152.7 L1346.9,1149.9 L1347.2,1146.9 L1347.6,1143.4 L1347.9,1141.5 L1348.3,1140.1 L1348.6,1139.2 L1349.0,1137.0 L1349.3,1134.5 L1349.7,1131.0 L1350.0,1128.3 L1350.4,1126.5 L1350.7,1123.9 L1351.1,1122.5 L1351.4,1119.4 L1351.8,1117.2 L1352.1,1114.1 L1352.5,1111.3 L1352.8,1109.1 L1353.2,1106.5 L1353.5,1105.1 L1353.9,1102.5 L1354.2,1098.5 L1354.6,1095.1 L1354.9,1091.5 L1355.3,1089.4 L1355.6,1086.2 L1356.0,1085.1 L1356.3,1083.1 L1356.7,1081.3 L1357.0,1078.7 L1357.4,1077.8 L1357.7,1075.7 L1358.1,1073.4 L1358.4,1070.8 L1358.8,1069.1 L1359.1,1067.0 L1359.5,1064.4 L1359.8,1062.0 L1360.2,1059.5 L1360.5,1057.2 L1360.9,1054.7 L1361.2,1052.5 L1361.6,1049.9 L1361.9,1047.2 L1362.3,1044.8 L1362.6,1042.5 L1363.0,1039.4 L1363.3,1035.3 L1363.7,1033.3 L1364.0,1030.9 L1364.4,1030.0 L1364.7,1026.3 L1365.1,1024.8 L1365.4,1021.9 L1365.7,1020.3 L1366.9,1011.6 L1368.1,1004.8 L1369.3,999.7 L1370.5,996.3 L1371.7,993.0 L1372.9,990.9 L1374.1,988.5 L1375.3,985.9 L1376.5,984.0 L1377.7,982.3 L1378.9,981.8 L1380.1,980.8 L1381.3,978.6 L1382.5,974.4 L1383.7,970.6 L1384.9,967.8 L1386.1,965.8 L1387.3,964.4 L1388.5,963.2 L1389.7,963.2 L1390.9,961.6 L1392.1,960.9 L1393.3,959.3 L1394.5,958.1 L1395.7,956.5 L1396.9,954.2 L1398.1,952.1 L1399.3,950.2 L1400.5,947.9 L1401.7,946.5 L1402.9,944.1 L1404.1,942.2 L1405.3,941.4 L1406.5,941.8 L1407.7,942.3 L1408.9,940.6 L1410.1,938.3 L1411.3,937.5 L1412.5,936.7 L1413.7,934.1 L1414.9,931.2 L1416.1,929.1 L1417.3,929.6 L1418.5,929.6 L1419.7,930.0 L1420.9,929.3 L1422.1,929.8 L1423.3,929.4 L1424.5,929.5 L1425.7,929.1 L1426.9,928.4 L1428.1,930.4 L1429.3,930.7 L1430.5,930.9 L1431.7,929.4 L1432.9,930.6 L1434.1,931.7 L1435.3,931.5 L1436.5,930.0 L1437.7,929.2 L1438.9,929.5 L1440.1,929.8 L1441.3,928.9 L1442.5,927.7 L1443.7,927.2 L1444.9,926.8 L1446.1,928.5 L1447.3,928.2 L1448.5,928.5 L1449.7,927.2 L1450.9,926.4 L1452.1,926.1 L1453.3,925.0 L1454.5,924.9 L1455.7,924.7 L1456.9,924.9 L1458.1,923.3 L1459.3,923.0 L1460.5,922.4 L1461.7,923.9 L1462.9,923.4 L1464.1,923.5 L1465.3,923.0 L1466.5,922.3 L1467.7,922.1 L1468.9,921.4 L1470.1,921.7 L1471.3,921.9 L1472.5,921.5 L1473.7,920.8 L1474.9,919.8 L1476.1,920.9 L1477.3,920.6 L1478.5,920.9 L1479.7,919.9 L1480.9,919.8 L1482.1,920.1 L1483.3,920.1 L1484.5,921.0 L1485.7,920.3 L1486.9,920.5 L1488.1,921.1 L1489.3,921.9 L1490.5,921.7 L1491.7,921.1 L1492.9,920.1 L1494.1,920.3 L1495.3,920.1 L1496.5,920.9 L1497.7,920.9 L1498.9,921.0 L1500.1,920.5 L1501.3,920.0 L1502.5,919.2 L1503.7,919.7 L1504.9,919.1 L1506.1,919.5 L1507.3,918.8 L1508.5,919.8 L1509.7,920.8 L1510.9,920.9 L1512.1,921.3 L1513.3,920.9 L1514.5,920.7 L1515.7,920.1 L1516.9,919.5 L1518.1,919.6 L1519.3,919.5 L1520.5,919.3 L1521.7,919.7 L1522.9,919.7 L1524.1,920.3 L1525.3,920.5 L1526.5,920.7 L1527.7,920.3 L1528.9,919.2 L1530.1,918.6 L1531.3,917.8 L1532.5,918.7 L1533.7,920.0 L1534.9,920.4 L1536.1,919.8 L1537.3,918.7 L1538.5,919.0 L1539.7,918.9 L1540.9,918.9 L1542.1,919.1 L1543.3,920.2 L1544.5,920.7 L1545.7,920.3 L1546.9,919.6 L1548.1,919.8 L1549.3,918.5 L1550.5,918.7 L1551.7,918.6 L1552.9,919.7 L1554.1,919.5 L1555.3,919.5 L1556.5,919.5 L1557.7,919.9 L1558.9,919.4 L1560.1,919.8 L1561.3,919.9 L1562.5,919.8 L1563.7,920.0 L1564.9,919.8 L1566.1,920.4 L1567.3,920.5 L1568.5,920.5 L1569.7,920.0 L1570.9,919.7 L1572.1,920.0 L1573.3,920.2 L1574.5,919.8 L1575.7,919.2 L1576.9,919.1 L1578.1,918.8 L1579.3,919.3 L1580.5,920.0 L1581.7,919.8 L1582.9,919.4 L1584.1,918.7 L1585.3,919.6 L1586.5,920.2 L1587.7,920.5 L1588.9,920.7 L1590.1,920.6 L1591.3,920.7 L1592.5,920.4 L1593.7,920.5 L1594.9,920.0 L1596.1,919.2 L1597.3,919.1 L1598.5,919.8 L1599.7,921.0 L1600.9,920.6 L1602.1,919.6 L1603.3,919.1 L1604.5,919.8 L1605.7,920.0 L1606.9,919.8 L1608.1,918.9 L1609.3,918.4 L1610.5,919.0 L1611.7,919.1 L1612.9,920.5 L1614.1,919.8 L1615.3,919.2 L1616.5,918.0 L1617.7,917.8 L1618.9,918.2 L1620.1,918.5 L1621.3,918.8 L1622.5,919.8 L1623.7,918.9 L1624.9,918.6 L1626.1,917.9 L1627.3,919.3 L1628.5,919.8 L1629.7,919.7 L1630.9,919.6 L1632.1,919.5 L1633.3,919.3 L1634.5,919.3 L1635.7,918.7 L1636.9,918.8 L1638.1,918.3 L1639.3,919.1 L1640.5,919.0 L1641.7,919.9 L1642.9,920.0 L1644.1,920.2 L1645.3,919.3 L1646.5,919.3 L1647.7,918.2 L1648.9,919.0 L1650.1,919.1 L1651.3,920.1 L1652.5,920.0 L1653.7,919.0 L1654.9,918.7 L1656.1,918.0 L1657.3,918.9 L1658.5,919.4 L1659.7,920.5 L1660.9,919.7 L1662.1,919.1 L1663.3,918.6 L1664.5,918.8 L1665.7,918.9 L1666.9,918.9 L1668.1,919.2 L1669.3,919.3 L1670.5,919.5 L1671.7,919.4 L1672.9,919.0 L1674.1,918.5 L1675.3,918.5 L1676.5,918.8 L1677.7,919.4 L1678.9,919.5 L1680.1,920.1 L1681.3,920.1 L1682.5,919.8 L1683.7,919.4 L1684.9,919.1 L1686.1,919.0 L1687.3,919.8 L1688.5,919.3 L1689.7,918.9 L1690.9,918.5 L1692.1,918.8 L1693.3,918.8 L1694.5,918.9 L1695.7,919.3 L1696.9,919.6 L1698.1,918.7 L1699.3,918.7 L1700.5,919.4 L1701.7,920.3 L1702.9,919.8 L1704.1,919.9 L1705.3,920.3 L1706.5,920.7 L1707.7,920.7 L1708.9,920.5 L1710.1,920.4 L1711.3,920.1 L1712.5,919.7 L1713.7,919.9 L1714.9,920.1 L1716.1,920.2 L1717.3,919.6 L1718.5,919.4 L1719.7,918.5 L1720.9,919.0 L1722.1,919.2 L1723.3,919.4 L1724.5,919.2 L1725.7,918.7 L1726.9,919.4 L1728.1,920.1 L1729.3,920.5 L1730.5,919.9 L1731.7,918.9 L1732.9,918.9 L1734.1,919.0 L1735.3,919.5 L1736.5,918.6 L1737.6,919.4" fill="none" stroke="#000" stroke-width="3.3" stroke-linejoin="round" />
<path d="M669.3,1728.3 L670.3,1727.7 L671.3,1728.4 L672.3,1728.6 L673.3,1728.2 L674.3,1728.5 L675.3,1728.7 L676.3,1728.6 L677.3,1728.4 L678.3,1728.2 L679.3,1728.4 L680.3,1728.5 L681.3,1728.8 L682.3,1728.4 L683.3,1727.9 L684.3,1728.1 L685.3,1728.3 L686.3,1728.3 L687.3,1728.3 L688.3,1728.8 L689.3,1728.8 L690.3,1728.8 L691.3,1728.8 L692.3,1728.1 L693.3,1728.0 L694.3,1728.6 L695.3,1728.4 L696.3,1728.3 L697.3,1728.8 L698.3,1728.9 L699.3,1728.3 L700.3,1727.9 L701.3,1728.3 L702.3,1728.8 L703.3,1728.3 L704.3,1728.2 L705.8,1730.0 L707.3,1730.1" fill="none" stroke="#000" stroke-width="4.2" stroke-linejoin="round" />
<path d="M669.3,1730.9 L670.3,1729.9 L671.3,1730.0 L672.3,1730.7 L673.3,1730.5 L674.3,1730.0 L675.3,1730.3 L676.3,1730.6 L677.3,1730.8 L678.3,1730.7 L679.3,1731.0 L680.3,1731.4 L681.3,1730.9 L682.3,1730.4 L683.3,1730.3 L684.3,1731.1 L685.3,1730.9 L686.3,1730.9 L687.3,1731.1 L688.3,1731.0 L689.3,1730.9 L690.3,1730.9 L691.3,1730.3 L692.3,1730.0 L693.3,1730.4 L694.3,1730.4 L695.3,1730.4 L696.3,1730.1 L697.3,1730.3 L698.3,1730.7 L699.3,1730.6 L700.3,1730.7 L701.3,1730.6 L702.3,1730.6 L703.3,1730.9 L704.3,1730.5 L705.8,1730.0 L707.3,1730.1" fill="none" stroke="#000" stroke-width="4.2" stroke-linejoin="round" />
<path d="M669.3,1732.7 L670.3,1732.9 L671.3,1732.0 L672.3,1731.6 L673.3,1732.0 L674.3,1732.1 L675.3,1732.6 L676.3,1732.7 L677.3,1732.1 L678.3,1731.5 L679.3,1732.0 L680.3,1732.4 L681.3,1732.6 L682.3,1732.8 L683.3,1732.7 L684.3,1732.9 L685.3,1732.9 L686.3,1732.8 L687.3,1732.6 L688.3,1732.5 L689.3,1733.0 L690.3,1732.6 L691.3,1731.9 L692.3,1732.1 L693.3,1732.7 L694.3,1732.8 L695.3,1732.3 L696.3,1732.5 L697.3,1732.6 L698.3,1732.5 L699.3,1732.2 L700.3,1731.7 L701.3,1732.1 L702.3,1732.5 L703.3,1732.5 L704.3,1733.2 L705.8,1730.0 L707.3,1730.1" fill="none" stroke="#000" stroke-width="4.2" stroke-linejoin="round" />
<path d="M708.3,1734.5 L708.7,1738.7 L709.0,1742.9 L709.4,1747.1 L709.7,1751.3 L710.0,1755.5 L710.3,1759.7 L710.6,1763.9 L710.8,1768.1 L711.1,1772.3 L711.2,1776.4 L711.4,1780.6 L711.6,1784.8 L711.7,1789.0 L711.8,1793.2 L711.9,1797.4 L712.1,1801.6 L712.2,1805.8 L712.3,1810.0 L712.4,1814.2 L712.5,1818.4 L712.7,1822.6 L712.8,1826.8 L713.0,1831.0 L713.1,1835.2 L713.2,1839.4 L713.4,1843.6 L713.5,1847.8 L713.7,1852.0 L713.8,1856.2 L714.0,1860.3 L714.1,1864.5 L714.3,1868.7 L714.4,1872.9 L714.6,1877.1 L714.8,1881.3 L714.9,1885.5 L715.1,1889.7 L715.3,1893.9 L715.4,1898.1 L715.6,1902.3 L715.8,1906.5 L716.0,1910.7 L716.1,1914.9 L716.3,1919.1 L716.5,1923.3 L716.6,1927.5 L716.8,1931.7 L717.0,1935.9 L717.1,1940.1 L717.3,1944.2 L717.5,1948.4 L717.7,1952.6 L718.0,1956.8 L718.2,1961.0 L718.5,1965.2 L718.7,1969.4 L719.0,1973.6 L719.3,1977.8 L719.6,1982.0" fill="none" stroke="#000" stroke-width="5.5" stroke-linejoin="round" />
<path d="M707.3,1730.5 L707.6,1743.0 L708.0,1750.3 L708.4,1752.6 L708.7,1754.7 L709.1,1756.7 L709.4,1758.6 L709.8,1760.3 L710.1,1761.9 L710.5,1763.3 L710.8,1764.7 L711.2,1765.9 L711.5,1767.0 L711.9,1768.0 L712.2,1768.9 L712.6,1769.7 L712.9,1770.4 L713.3,1771.0 L713.6,1771.5 L714.0,1771.9 L714.3,1772.3 L714.7,1772.6 L715.0,1772.8 L715.4,1772.9 L715.7,1773.0 L716.1,1773.0 L716.4,1772.9 L716.8,1772.7 L717.1,1772.4 L717.5,1772.1 L717.8,1771.6 L718.2,1771.1 L718.5,1770.5 L718.9,1769.9 L719.2,1769.3 L719.6,1768.5 L719.9,1768.0 L720.3,1767.3 L720.6,1766.7 L721.0,1766.0 L721.3,1765.3 L721.7,1764.6 L722.0,1764.1 L722.4,1763.9 L722.7,1763.6 L723.1,1763.0 L723.4,1762.1 L723.8,1761.4 L724.1,1761.1 L724.5,1760.3 L724.8,1760.1 L725.2,1759.0 L725.5,1758.3 L725.9,1757.4 L726.2,1756.6 L726.6,1756.6 L726.9,1756.0 L727.3,1756.6 L727.6,1755.7 L728.0,1754.2 L728.3,1752.9 L728.7,1753.0 L729.0,1753.2 L729.4,1752.3 L729.7,1751.8 L730.1,1751.8 L730.4,1751.5 L730.8,1751.3 L731.1,1750.6 L731.5,1750.4 L731.8,1749.1 L732.2,1748.4 L732.5,1748.4 L732.9,1749.2 L733.2,1749.6 L733.6,1749.0 L733.9,1748.0 L734.3,1746.8 L734.6,1746.1 L735.0,1745.7 L735.3,1746.2 L735.7,1746.8 L736.0,1746.8 L736.4,1746.3 L736.7,1745.0 L737.1,1744.5 L737.4,1744.2 L737.8,1744.4 L738.1,1744.4 L738.5,1743.2 L738.8,1743.5 L739.2,1742.8 L739.5,1742.8 L739.9,1741.8 L740.2,1740.0 L740.6,1739.8 L740.9,1740.3 L741.3,1741.4 L741.6,1741.7 L742.0,1739.8 L742.3,1739.1 L742.7,1737.7 L743.0,1738.8 L743.4,1738.4 L743.7,1739.0 L744.1,1737.8 L744.4,1738.7 L744.8,1737.9 L745.1,1737.8 L745.5,1737.5 L745.8,1737.1 L746.2,1736.3 L746.5,1736.9 L746.9,1737.6 L747.2,1738.5 L747.6,1737.5 L747.9,1737.5 L748.3,1737.2 L748.6,1737.2 L749.0,1736.4 L749.3,1735.1 L749.7,1734.5 L750.0,1735.6 L750.4,1736.4 L750.7,1735.7 L751.1,1735.6 L751.4,1736.2 L751.8,1736.7 L752.1,1736.2 L752.5,1735.9 L752.8,1735.5 L753.2,1735.6 L753.5,1735.6 L753.9,1736.2 L754.2,1736.1 L754.6,1734.9 L754.9,1734.5 L755.3,1734.6 L755.6,1736.0 L756.0,1735.3 L756.0,1734.9 L757.2,1733.7 L758.4,1734.3 L759.6,1733.4 L760.8,1734.1 L762.0,1734.6 L763.2,1735.2 L764.4,1734.8 L765.6,1733.8 L766.8,1733.0 L768.0,1733.0 L769.2,1733.1 L770.4,1733.1 L771.6,1732.0 L772.8,1731.0 L774.0,1731.1 L775.2,1731.7 L776.4,1732.1 L777.6,1731.7 L778.8,1730.6 L780.0,1730.2 L781.2,1729.6 L782.4,1730.4 L783.6,1730.6 L784.8,1730.9 L786.0,1730.3 L787.2,1730.4 L788.4,1729.6 L789.6,1730.6 L790.8,1730.5 L792.0,1731.5 L793.2,1730.8 L794.4,1730.4 L795.6,1730.7 L796.8,1730.6 L798.0,1730.9 L799.2,1730.7 L800.4,1730.2 L801.6,1730.5 L802.8,1730.8 L804.0,1731.0 L805.2,1730.9 L806.4,1729.5 L807.6,1729.8 L808.8,1729.7 L810.0,1729.5 L811.2,1730.1 L812.4,1730.9 L813.6,1730.8 L814.8,1730.2 L816.0,1729.1 L817.2,1729.8 L818.4,1729.8 L819.6,1730.0 L820.8,1730.0 L822.0,1729.9 L823.2,1729.7 L824.4,1729.8 L825.6,1729.4 L826.8,1729.9 L828.0,1730.7 L829.2,1731.0 L830.4,1730.4 L831.6,1730.1 L832.8,1729.2 L834.0,1729.2 L835.2,1728.1 L836.4,1728.7 L837.6,1728.3 L838.8,1728.7 L840.0,1729.4 L841.2,1729.5 L842.4,1729.5 L843.6,1729.4 L844.8,1730.0 L846.0,1730.4 L847.2,1729.9 L848.4,1729.4 L849.6,1728.8 L850.8,1728.7 L852.0,1728.3 L853.2,1727.4 L854.4,1727.3 L855.6,1728.0 L856.8,1728.8 L858.0,1729.5 L859.2,1729.9 L860.4,1730.2 L861.6,1729.6 L862.8,1729.3 L864.0,1729.0 L865.2,1729.0 L866.4,1728.5 L867.6,1728.4 L868.8,1728.8 L870.0,1728.9 L871.2,1729.5 L872.4,1729.2 L873.6,1729.4 L874.8,1729.4 L876.0,1728.4 L877.2,1728.1 L878.4,1728.1 L879.6,1729.8 L880.8,1730.2 L882.0,1731.2 L883.2,1731.2 L884.4,1731.0 L885.6,1729.3 L886.8,1728.6 L888.0,1728.4 L889.2,1729.0 L890.4,1729.3 L891.6,1728.8 L892.8,1729.0 L894.0,1728.7 L895.2,1729.0 L896.4,1728.2 L897.6,1728.4 L898.8,1728.5 L900.0,1728.1 L901.2,1728.0 L902.4,1728.1 L903.6,1728.4 L904.8,1728.7 L906.0,1728.6 L907.2,1729.5 L908.4,1728.7 L909.6,1728.6 L910.8,1728.6 L912.0,1729.4 L913.2,1729.4 L914.4,1728.0 L915.6,1727.8 L916.8,1728.0 L918.0,1729.8 L919.2,1729.3 L920.4,1729.6 L921.6,1728.3 L922.8,1728.9 L924.0,1728.5 L925.2,1729.3 L926.4,1729.1 L927.6,1729.2 L928.8,1729.8 L930.0,1730.4 L931.2,1730.5 L932.4,1729.4 L933.6,1728.5 L934.8,1728.9 L936.0,1729.4 L937.2,1729.4 L938.4,1728.7 L939.6,1729.3 L940.8,1729.6 L942.0,1729.6 L943.2,1729.6 L944.4,1729.7 L945.6,1729.5 L946.8,1728.3 L948.0,1728.3 L949.2,1728.5 L950.4,1728.9 L951.6,1729.6 L952.8,1730.8 L954.0,1731.8 L955.2,1731.2 L956.4,1730.5 L957.6,1729.2 L958.8,1728.4 L960.0,1728.4 L961.2,1729.0 L962.4,1729.9 L963.6,1730.3 L964.8,1730.4 L966.0,1730.3 L967.2,1730.0 L968.4,1730.4 L969.6,1729.6 L970.8,1730.4 L972.0,1730.1 L973.2,1730.0 L974.4,1729.3 L975.6,1729.8 L976.8,1730.1 L978.0,1730.2 L979.2,1729.4 L980.4,1730.4 L981.6,1730.2 L982.8,1730.0 L984.0,1729.6 L985.2,1729.7 L986.4,1730.0 L987.6,1729.6 L988.8,1728.7 L990.0,1728.7 L991.2,1728.2 L992.4,1728.4 L993.6,1728.5 L994.8,1729.7 L996.0,1730.5 L997.2,1729.7 L998.4,1729.7 L999.6,1728.3 L1000.8,1729.2 L1002.0,1728.8 L1003.2,1730.2 L1004.4,1730.2 L1005.6,1730.6 L1006.8,1730.0 L1008.0,1729.8 L1009.2,1729.8 L1010.4,1729.8 L1011.6,1729.6 L1012.8,1729.3 L1014.0,1728.8 L1015.2,1729.0 L1016.4,1728.5 L1017.6,1729.9 L1018.8,1730.5 L1020.0,1731.3 L1021.2,1731.7 L1022.4,1731.2 L1023.6,1730.7 L1024.8,1729.9 L1026.0,1730.0 L1027.2,1730.0 L1028.4,1730.0 L1029.6,1729.4 L1030.8,1729.1 L1032.0,1729.0 L1033.2,1729.0 L1034.4,1730.0 L1035.6,1730.1 L1036.8,1730.4 L1038.0,1730.4 L1039.2,1730.3 L1040.4,1731.3 L1041.6,1730.7 L1042.8,1730.4 L1044.0,1729.9 L1045.2,1729.5 L1046.4,1730.2 L1047.6,1730.2 L1048.8,1729.2 L1050.0,1728.8 L1051.2,1728.7 L1052.4,1729.6 L1053.6,1729.5 L1054.8,1729.3 L1056.0,1728.9 L1057.2,1729.2 L1058.4,1729.3 L1059.6,1729.9 L1060.8,1729.7 L1062.0,1729.7 L1063.2,1730.5 L1064.4,1730.9 L1065.6,1730.8 L1066.8,1730.2 L1068.0,1729.7 L1069.2,1730.3 L1070.4,1730.6 L1071.6,1730.7 L1072.8,1730.8 L1074.0,1731.1 L1075.2,1730.9 L1076.4,1730.6 L1077.6,1730.3 L1078.8,1730.9 L1080.0,1731.0 L1081.2,1730.8 L1082.4,1730.4 L1083.6,1729.6 L1084.8,1729.9 L1086.0,1730.1 L1087.2,1729.8 L1088.4,1729.7 L1089.6,1730.0 L1090.8,1730.8 L1092.0,1730.7 L1093.2,1730.9 L1094.4,1730.6 L1095.6,1730.1 L1096.8,1730.4 L1098.0,1730.1 L1099.2,1730.9 L1100.4,1731.0 L1101.6,1731.5 L1102.8,1731.9 L1104.0,1731.0 L1105.2,1731.1 L1106.4,1729.8 L1107.6,1730.3 L1108.8,1730.1 L1110.0,1731.3 L1111.2,1730.6 L1112.4,1730.9 L1113.6,1730.7 L1114.8,1731.7 L1116.0,1732.0 L1117.2,1731.5 L1118.4,1731.3 L1119.6,1730.9 L1120.8,1731.2 L1122.0,1730.5 L1123.2,1731.1 L1124.4,1730.7 L1125.6,1730.7 L1126.8,1729.8 L1128.0,1730.5 L1129.2,1730.6 L1130.4,1730.6 L1131.6,1730.5 L1132.8,1730.6 L1134.0,1731.0 L1135.2,1731.1 L1136.4,1731.8 L1137.6,1731.9 L1138.8,1731.9 L1140.0,1731.7" fill="none" stroke="#000" stroke-width="3.3" stroke-linejoin="round" />
<path d="M707.3,1730.5 L707.6,1736.3 L708.0,1742.2 L708.4,1748.0 L708.7,1753.9 L709.1,1759.8 L709.4,1765.6 L709.8,1771.4 L710.1,1777.0 L710.5,1782.9 L710.8,1788.7 L711.2,1794.5 L711.5,1800.2 L711.9,1805.7 L712.2,1810.9 L712.6,1815.7 L712.9,1820.0 L713.3,1824.1 L713.6,1828.2 L714.0,1832.5 L714.3,1836.7 L714.7,1840.9 L715.0,1844.9 L715.4,1848.8 L715.7,1852.5 L716.1,1855.8 L716.4,1858.9 L716.8,1861.6 L717.1,1863.8 L717.5,1865.5 L717.8,1866.7 L718.2,1867.3 L718.5,1867.3 L718.9,1866.9 L719.2,1866.1 L719.6,1865.1 L719.9,1863.7 L720.3,1862.1 L720.6,1860.2 L721.0,1858.2 L721.3,1856.1 L721.7,1853.9 L722.0,1851.6 L722.4,1849.2 L722.7,1846.8 L723.1,1844.7 L723.4,1842.5 L723.8,1840.2 L724.1,1838.2 L724.5,1836.1 L724.8,1834.8 L725.2,1833.4 L725.5,1832.5 L725.9,1831.2 L726.2,1829.7 L726.6,1827.9 L726.9,1826.3 L727.3,1824.3 L727.6,1823.0 L728.0,1821.7 L728.3,1820.9 L728.7,1819.4 L729.0,1818.1 L729.4,1816.8 L729.7,1815.7 L730.1,1814.2 L730.4,1813.3 L730.8,1811.4 L731.1,1810.0 L731.5,1807.7 L731.8,1806.1 L732.2,1803.8 L732.5,1802.4 L732.9,1801.3 L733.2,1801.4 L733.6,1800.1 L733.9,1798.7 L734.3,1796.7 L734.6,1795.7 L735.0,1793.5 L735.3,1791.9 L735.7,1791.5 L736.0,1791.4 L736.4,1790.0 L736.7,1787.8 L737.1,1786.5 L737.4,1785.5 L737.8,1784.5 L738.1,1783.0 L738.5,1781.7 L738.8,1780.5 L739.2,1779.1 L739.5,1778.5 L739.9,1777.8 L740.2,1777.2 L740.6,1776.7 L740.9,1775.8 L741.3,1775.3 L741.6,1774.2 L742.0,1773.0 L742.3,1772.3 L742.7,1771.9 L743.0,1772.0 L743.4,1770.5 L743.7,1770.0 L744.1,1768.8 L744.4,1768.7 L744.8,1767.5 L745.1,1768.0 L745.5,1767.9 L745.8,1767.9 L746.2,1766.5 L746.5,1765.0 L746.9,1764.3 L747.2,1763.6 L747.6,1763.8 L747.9,1762.7 L748.3,1761.9 L748.6,1762.1 L749.0,1762.6 L749.3,1762.4 L749.7,1761.4 L750.0,1761.6 L750.4,1761.1 L750.7,1760.1 L751.1,1757.7 L751.4,1757.0 L751.8,1756.8 L752.1,1756.2 L752.5,1755.5 L752.8,1755.0 L753.2,1755.2 L753.5,1754.0 L753.9,1753.1 L754.2,1752.3 L754.6,1753.4 L754.9,1753.5 L755.3,1753.2 L755.6,1752.6 L756.0,1751.6 L756.3,1751.6 L756.7,1751.2 L757.0,1751.3 L757.4,1750.7 L757.7,1749.5 L758.1,1749.2 L758.3,1749.8 L759.5,1749.8 L760.7,1749.8 L761.9,1748.4 L763.1,1748.6 L764.3,1746.7 L765.5,1745.9 L766.7,1743.2 L767.9,1743.6 L769.1,1743.6 L770.3,1745.1 L771.5,1744.3 L772.7,1743.6 L773.9,1740.8 L775.1,1739.6 L776.3,1739.5 L777.5,1740.3 L778.7,1741.2 L779.9,1740.4 L781.1,1740.6 L782.3,1740.1 L783.5,1739.4 L784.7,1739.2 L785.9,1739.3 L787.1,1739.7 L788.3,1739.3 L789.5,1738.7 L790.7,1738.2 L791.9,1737.7 L793.1,1737.9 L794.3,1737.1 L795.5,1736.6 L796.7,1735.3 L797.9,1735.4 L799.1,1734.8 L800.3,1734.5 L801.5,1734.3 L802.7,1734.0 L803.9,1734.0 L805.1,1732.8 L806.3,1733.2 L807.5,1732.5 L808.7,1732.9 L809.9,1732.9 L811.1,1733.3 L812.3,1733.7 L813.5,1733.4 L814.7,1733.1 L815.9,1732.3 L817.1,1732.3 L818.3,1732.4 L819.5,1733.1 L820.7,1732.7 L821.9,1732.5 L823.1,1731.8 L824.3,1732.5 L825.5,1732.3 L826.7,1732.8 L827.9,1732.0 L829.1,1731.8 L830.3,1731.5 L831.5,1731.0 L832.7,1731.4 L833.9,1731.4 L835.1,1731.7 L836.3,1731.7 L837.5,1731.7 L838.7,1732.1 L839.9,1731.7 L841.1,1731.7 L842.3,1731.4 L843.5,1731.5 L844.7,1731.3 L845.9,1731.4 L847.1,1732.2 L848.3,1732.3 L849.5,1732.3 L850.7,1732.9 L851.9,1733.3 L853.1,1732.6 L854.3,1731.0 L855.5,1730.0 L856.7,1731.4 L857.9,1731.6 L859.1,1732.0 L860.3,1731.4 L861.5,1732.4 L862.7,1732.2 L863.9,1732.6 L865.1,1732.0 L866.3,1732.7 L867.5,1732.8 L868.7,1733.2 L869.9,1732.5 L871.1,1732.2 L872.3,1732.3 L873.5,1733.3 L874.7,1733.3 L875.9,1733.1 L877.1,1731.8 L878.3,1732.5 L879.5,1731.8 L880.7,1732.5 L881.9,1732.0 L883.1,1732.2 L884.3,1731.4 L885.5,1731.2 L886.7,1732.0 L887.9,1731.9 L889.1,1731.7 L890.3,1730.1 L891.5,1730.6 L892.7,1730.3 L893.9,1731.2 L895.1,1731.3 L896.3,1731.5 L897.5,1732.1 L898.7,1732.6 L899.9,1733.4 L901.1,1733.1 L902.3,1732.3 L903.5,1732.1 L904.7,1732.6 L905.9,1732.6 L907.1,1732.3 L908.3,1731.7 L909.5,1732.3 L910.7,1732.1 L911.9,1731.1 L913.1,1731.1 L914.3,1731.7 L915.5,1732.8 L916.7,1733.0 L917.9,1732.5 L919.1,1731.9 L920.3,1731.7 L921.5,1731.5 L922.7,1731.5 L923.9,1731.8 L925.1,1732.0 L926.3,1731.3 L927.5,1731.0 L928.7,1731.1 L929.9,1732.1 L931.1,1731.7 L932.3,1731.9 L933.5,1732.4 L934.7,1732.9 L935.9,1733.2 L937.1,1732.6 L938.3,1733.0 L939.5,1733.7 L940.7,1734.1 L941.9,1733.6 L943.1,1732.6 L944.3,1733.1 L945.5,1732.3 L946.7,1732.6 L947.9,1731.8 L949.1,1732.4 L950.3,1732.1 L951.5,1732.6 L952.7,1732.5 L953.9,1732.5 L955.1,1732.8 L956.3,1733.0 L957.5,1733.3 L958.7,1732.7 L959.9,1731.7 L961.1,1731.1 L962.3,1731.1 L963.5,1732.0 L964.7,1731.3 L965.9,1730.8 L967.1,1730.6 L968.3,1731.3 L969.5,1731.8 L970.7,1732.5 L971.9,1732.7 L973.1,1732.9 L974.3,1732.3 L975.5,1731.4 L976.7,1731.4 L977.9,1731.4 L979.1,1732.3 L980.3,1732.9 L981.5,1733.1 L982.7,1733.8 L983.9,1732.7 L985.1,1732.5 L986.3,1731.1 L987.5,1731.4 L988.7,1730.8 L989.9,1731.3 L991.1,1731.4 L992.3,1732.7 L993.5,1732.8 L994.7,1732.9 L995.9,1732.9 L997.1,1732.8 L998.3,1732.5 L999.5,1732.0 L1000.7,1731.9 L1001.9,1732.4 L1003.1,1732.1 L1004.3,1732.7 L1005.5,1732.4 L1006.7,1732.2 L1007.9,1731.0 L1009.1,1730.4 L1010.3,1731.3 L1011.5,1731.8 L1012.7,1732.4 L1013.9,1732.1 L1015.1,1731.7 L1016.3,1731.6 L1017.5,1732.0 L1018.7,1732.5 L1019.9,1732.2 L1021.1,1731.2 L1022.3,1731.7 L1023.5,1732.6 L1024.7,1733.2 L1025.9,1732.2 L1027.1,1730.9 L1028.3,1730.8 L1029.5,1730.8 L1030.7,1731.2 L1031.9,1730.7 L1033.1,1731.3 L1034.3,1731.1 L1035.5,1732.0 L1036.7,1732.6 L1037.9,1733.8 L1039.1,1732.7 L1040.3,1732.6 L1041.5,1732.1 L1042.7,1733.1 L1043.9,1732.8 L1045.1,1732.9 L1046.3,1732.8 L1047.5,1732.7 L1048.7,1732.4 L1049.9,1731.9 L1051.1,1732.3 L1052.3,1732.3 L1053.5,1732.4 L1054.7,1732.3 L1055.9,1732.5 L1057.1,1732.7 L1058.3,1732.3 L1059.5,1731.2 L1060.7,1730.7 L1061.9,1730.6 L1063.1,1731.5 L1064.3,1732.2 L1065.5,1731.8 L1066.7,1731.5 L1067.9,1731.4 L1069.1,1732.3 L1070.3,1732.2 L1071.5,1731.7 L1072.7,1730.8 L1073.9,1731.1 L1075.1,1731.6 L1076.3,1732.6 L1077.5,1732.5 L1078.7,1732.8 L1079.9,1732.4 L1081.1,1732.6 L1082.3,1731.6 L1083.5,1732.4 L1084.7,1732.2 L1085.9,1733.3 L1087.1,1732.8 L1088.3,1732.8 L1089.5,1732.0 L1090.7,1732.0 L1091.9,1731.9 L1093.1,1731.8 L1094.3,1731.1 L1095.5,1731.0 L1096.7,1731.0 L1097.9,1732.0 L1099.1,1732.4 L1100.3,1733.2 L1101.5,1732.8 L1102.7,1732.7 L1103.9,1732.0 L1105.1,1731.4 L1106.3,1731.6 L1107.5,1731.7 L1108.7,1732.2 L1109.9,1732.0 L1111.1,1732.3 L1112.3,1732.0 L1113.5,1731.5 L1114.7,1731.0 L1115.9,1730.4 L1117.1,1731.1 L1118.3,1732.1 L1119.5,1732.6 L1120.7,1733.0 L1121.9,1733.2 L1123.1,1733.3 L1124.3,1733.1 L1125.5,1732.5 L1126.7,1733.3 L1127.9,1733.3 L1129.1,1732.6 L1130.3,1731.7 L1131.5,1731.1 L1132.7,1731.3 L1133.9,1731.9 L1135.1,1732.5 L1136.3,1732.4 L1137.5,1732.4 L1138.7,1731.3 L1139.9,1731.5 L1140.0,1731.9" fill="none" stroke="#000" stroke-width="3.3" stroke-linejoin="round" />
<path d="M707.3,1730.5 L707.6,1734.0 L708.0,1737.8 L708.4,1741.8 L708.7,1746.1 L709.1,1750.6 L709.4,1755.1 L709.8,1759.9 L710.1,1765.2 L710.5,1771.4 L710.8,1779.1 L711.2,1789.0 L711.5,1800.0 L711.9,1811.2 L712.2,1821.4 L712.6,1831.0 L712.9,1840.5 L713.3,1849.7 L713.6,1858.6 L714.0,1867.1 L714.3,1875.2 L714.7,1883.0 L715.0,1890.5 L715.4,1897.9 L715.7,1905.2 L716.1,1912.5 L716.4,1919.9 L716.8,1927.4 L717.1,1934.9 L717.5,1941.9 L717.8,1948.4 L718.2,1954.5 L718.5,1961.1 L718.9,1967.6 L719.2,1973.4 L719.6,1977.9 L719.9,1980.6 L720.3,1981.0 L720.6,1980.5 L721.0,1979.6 L721.3,1978.4 L721.7,1976.9 L722.0,1975.1 L722.4,1973.1 L722.7,1971.0 L723.1,1968.9 L723.4,1966.7 L723.8,1964.7 L724.1,1962.7 L724.5,1961.1 L724.8,1959.2 L725.2,1957.3 L725.5,1955.5 L725.9,1954.1 L726.2,1952.4 L726.6,1950.5 L726.9,1948.5 L727.3,1946.6 L727.6,1944.6 L728.0,1942.6 L728.3,1941.3 L728.7,1939.7 L729.0,1938.5 L729.4,1936.1 L729.7,1934.8 L730.1,1933.4 L730.4,1932.3 L730.8,1930.9 L731.1,1929.1 L731.5,1928.6 L731.8,1926.6 L732.2,1924.8 L732.5,1921.8 L732.9,1920.2 L733.2,1919.0 L733.6,1917.4 L733.9,1916.3 L734.3,1913.9 L734.6,1912.5 L735.0,1910.5 L735.3,1908.5 L735.7,1906.4 L736.0,1903.6 L736.4,1901.4 L736.7,1899.4 L737.1,1896.3 L737.4,1894.0 L737.8,1891.5 L738.1,1890.3 L738.5,1888.1 L738.8,1885.4 L739.2,1883.7 L739.5,1882.1 L739.9,1880.8 L740.2,1878.0 L740.6,1876.1 L740.9,1873.9 L741.3,1871.2 L741.6,1868.7 L742.0,1867.1 L742.3,1865.0 L742.7,1862.8 L743.0,1860.5 L743.4,1859.4 L743.7,1857.5 L744.1,1855.8 L744.4,1854.1 L744.8,1853.4 L745.1,1851.1 L745.5,1849.2 L745.8,1846.1 L746.2,1845.2 L746.5,1843.7 L746.9,1842.7 L747.2,1840.7 L747.6,1839.7 L747.9,1837.6 L748.3,1835.9 L748.6,1833.7 L749.0,1831.7 L749.3,1829.3 L749.7,1827.9 L750.0,1826.9 L750.4,1826.4 L750.7,1824.5 L751.1,1822.8 L751.4,1820.8 L751.8,1819.4 L752.1,1817.8 L752.5,1816.3 L752.8,1815.3 L753.2,1814.4 L753.5,1813.2 L753.9,1811.9 L754.2,1809.8 L754.6,1808.8 L754.9,1807.2 L755.3,1806.0 L755.6,1805.0 L756.0,1802.8 L756.3,1801.6 L756.7,1799.4 L757.0,1799.3 L757.4,1798.3 L757.7,1797.1 L758.1,1795.3 L758.4,1793.8 L758.8,1793.5 L759.1,1792.1 L759.5,1791.0 L759.8,1789.7 L760.1,1788.9 L761.3,1785.9 L762.5,1782.6 L763.7,1779.7 L764.9,1776.4 L766.1,1773.3 L767.3,1771.6 L768.5,1770.2 L769.7,1769.7 L770.9,1768.1 L772.1,1766.7 L773.3,1765.0 L774.5,1764.0 L775.7,1761.5 L776.9,1759.9 L778.1,1758.8 L779.3,1759.2 L780.5,1758.8 L781.7,1757.5 L782.9,1757.2 L784.1,1757.0 L785.3,1756.6 L786.5,1754.9 L787.7,1754.5 L788.9,1753.5 L790.1,1753.9 L791.3,1753.1 L792.5,1752.1 L793.7,1750.7 L794.9,1749.3 L796.1,1749.0 L797.3,1749.4 L798.5,1750.1 L799.7,1750.1 L800.9,1749.3 L802.1,1748.0 L803.3,1748.1 L804.5,1747.7 L805.7,1747.2 L806.9,1746.2 L808.1,1746.0 L809.3,1745.8 L810.5,1745.3 L811.7,1744.0 L812.9,1744.0 L814.1,1743.5 L815.3,1744.2 L816.5,1743.6 L817.7,1743.7 L818.9,1742.8 L820.1,1742.7 L821.3,1741.8 L822.5,1741.8 L823.7,1742.0 L824.9,1743.2 L826.1,1742.4 L827.3,1741.6 L828.5,1740.4 L829.7,1740.4 L830.9,1740.3 L832.1,1739.4 L833.3,1739.5 L834.5,1738.5 L835.7,1739.4 L836.9,1739.0 L838.1,1740.2 L839.3,1739.9 L840.5,1739.6 L841.7,1737.7 L842.9,1735.8 L844.1,1735.5 L845.3,1735.7 L846.5,1737.0 L847.7,1736.3 L848.9,1736.3 L850.1,1735.3 L851.3,1735.7 L852.5,1735.6 L853.7,1735.1 L854.9,1734.8 L856.1,1734.9 L857.3,1735.6 L858.5,1736.0 L859.7,1735.0 L860.9,1733.9 L862.1,1732.9 L863.3,1732.6 L864.5,1733.9 L865.7,1734.2 L866.9,1735.0 L868.1,1734.8 L869.3,1734.8 L870.5,1733.3 L871.7,1731.5 L872.9,1731.6 L874.1,1732.9 L875.3,1733.3 L876.5,1733.2 L877.7,1733.0 L878.9,1733.5 L880.1,1732.7 L881.3,1733.0 L882.5,1732.5 L883.7,1733.3 L884.9,1732.1 L886.1,1732.2 L887.3,1732.3 L888.5,1732.5 L889.7,1732.2 L890.9,1731.8 L892.1,1732.1 L893.3,1732.3 L894.5,1732.5 L895.7,1732.8 L896.9,1733.5 L898.1,1734.0 L899.3,1733.5 L900.5,1734.0 L901.7,1733.2 L902.9,1732.8 L904.1,1731.7 L905.3,1731.0 L906.5,1730.7 L907.7,1731.5 L908.9,1731.4 L910.1,1732.1 L911.3,1732.0 L912.5,1732.6 L913.7,1733.2 L914.9,1732.6 L916.1,1732.3 L917.3,1732.4 L918.5,1733.4 L919.7,1733.7 L920.9,1732.8 L922.1,1732.0 L923.3,1732.4 L924.5,1733.6 L925.7,1733.6 L926.9,1733.2 L928.1,1732.0 L929.3,1732.8 L930.5,1732.9 L931.7,1733.5 L932.9,1732.7 L934.1,1733.2 L935.3,1733.3 L936.5,1734.0 L937.7,1733.3 L938.9,1732.8 L940.1,1732.6 L941.3,1732.8 L942.5,1733.6 L943.7,1734.0 L944.9,1733.3 L946.1,1731.9 L947.3,1731.9 L948.5,1732.3 L949.7,1733.0 L950.9,1732.7 L952.1,1733.0 L953.3,1733.2 L954.5,1733.1 L955.7,1732.9 L956.9,1732.8 L958.1,1732.4 L959.3,1732.7 L960.5,1732.5 L961.7,1733.3 L962.9,1733.4 L964.1,1733.6 L965.3,1733.4 L966.5,1733.4 L967.7,1733.8 L968.9,1733.6 L970.1,1732.9 L971.3,1733.0 L972.5,1733.2 L973.7,1733.6 L974.9,1734.2 L976.1,1733.2 L977.3,1733.9 L978.5,1732.6 L979.7,1733.2 L980.9,1733.1 L982.1,1733.7 L983.3,1734.1 L984.5,1733.1 L985.7,1733.1 L986.9,1732.4 L988.1,1733.0 L989.3,1732.6 L990.5,1732.2 L991.7,1732.8 L992.9,1732.6 L994.1,1732.8 L995.3,1732.0 L996.5,1731.5 L997.7,1731.5 L998.9,1731.9 L1000.1,1732.7 L1001.3,1733.8 L1002.5,1734.7 L1003.7,1734.8 L1004.9,1733.2 L1006.1,1732.5 L1007.3,1732.2 L1008.5,1733.6 L1009.7,1733.7 L1010.9,1733.6 L1012.1,1733.8 L1013.3,1733.7 L1014.5,1734.6 L1015.7,1733.9 L1016.9,1733.1 L1018.1,1732.0 L1019.3,1733.5 L1020.5,1733.0 L1021.7,1733.0 L1022.9,1731.4 L1024.1,1732.2 L1025.3,1732.5 L1026.5,1732.6 L1027.7,1733.2 L1028.9,1733.9 L1030.1,1734.1 L1031.3,1733.9 L1032.5,1732.6 L1033.7,1732.4 L1034.9,1732.3 L1036.1,1733.1 L1037.3,1733.0 L1038.5,1733.0 L1039.7,1733.3 L1040.9,1733.5 L1042.1,1732.5 L1043.3,1732.0 L1044.5,1732.7 L1045.7,1733.4 L1046.9,1733.6 L1048.1,1732.9 L1049.3,1733.0 L1050.5,1732.6 L1051.7,1732.9 L1052.9,1733.1 L1054.1,1733.2 L1055.3,1733.1 L1056.5,1732.1 L1057.7,1731.2 L1058.9,1731.0 L1060.1,1731.7 L1061.3,1732.4 L1062.5,1732.6 L1063.7,1732.5 L1064.9,1732.5 L1066.1,1732.2 L1067.3,1732.3 L1068.5,1732.8 L1069.7,1732.9 L1070.9,1732.2 L1072.1,1731.5 L1073.3,1731.3 L1074.5,1732.1 L1075.7,1732.9 L1076.9,1732.0 L1078.1,1731.7 L1079.3,1730.9 L1080.5,1733.1 L1081.7,1733.1 L1082.9,1733.7 L1084.1,1733.4 L1085.3,1733.5 L1086.5,1733.2 L1087.7,1732.5 L1088.9,1732.8 L1090.1,1732.5 L1091.3,1732.6 L1092.5,1732.2 L1093.7,1732.3 L1094.9,1732.9 L1096.1,1732.4 L1097.3,1733.2 L1098.5,1732.4 L1099.7,1733.1 L1100.9,1732.4 L1102.1,1732.5 L1103.3,1732.8 L1104.5,1732.6 L1105.7,1732.8 L1106.9,1731.6 L1108.1,1731.7 L1109.3,1730.8 L1110.5,1731.7 L1111.7,1732.3 L1112.9,1732.6 L1114.1,1732.8 L1115.3,1732.5 L1116.5,1733.4 L1117.7,1732.4 L1118.9,1731.7 L1120.1,1731.0 L1121.3,1730.9 L1122.5,1731.8 L1123.7,1732.0 L1124.9,1732.4 L1126.1,1732.0 L1127.3,1732.0 L1128.5,1732.6 L1129.7,1732.9 L1130.9,1733.0 L1132.1,1732.6 L1133.3,1732.8 L1134.5,1733.0 L1135.7,1733.8 L1136.9,1733.2 L1138.1,1732.4 L1139.3,1731.5 L1140.0,1732.1" fill="none" stroke="#000" stroke-width="3.3" stroke-linejoin="round" />
<path d="M707.3,1730.5 L707.6,1733.6 L708.0,1736.9 L708.4,1740.4 L708.7,1744.1 L709.1,1747.9 L709.4,1751.8 L709.8,1755.8 L710.1,1760.0 L710.5,1764.6 L710.8,1769.6 L711.2,1775.2 L711.5,1781.9 L711.9,1789.4 L712.2,1797.6 L712.6,1806.2 L712.9,1815.1 L713.3,1824.2 L713.6,1834.3 L714.0,1844.9 L714.3,1855.6 L714.7,1865.6 L715.0,1874.9 L715.4,1883.7 L715.7,1892.3 L716.1,1900.7 L716.4,1909.2 L716.8,1917.7 L717.1,1926.6 L717.5,1935.4 L717.8,1943.7 L718.2,1951.0 L718.5,1956.7 L718.9,1961.5 L719.2,1966.0 L719.6,1971.1 L719.9,1977.5 L720.3,1986.7 L720.6,2003.1 L721.0,2019.9 L721.3,2030.3 L721.7,2038.5 L722.0,2045.4 L722.4,2051.2 L722.7,2056.0 L723.1,2060.3 L723.4,2064.6 L723.8,2068.7 L724.1,2072.7 L724.5,2076.4 L724.8,2079.9 L725.2,2083.0 L725.5,2085.8 L725.9,2088.0 L726.2,2089.8 L726.6,2090.9 L726.9,2091.5 L727.3,2091.3 L727.6,2090.3 L728.0,2088.7 L728.3,2086.5 L728.7,2084.0 L729.0,2081.1 L729.4,2078.1 L729.7,2075.0 L730.1,2072.0 L730.4,2069.3 L730.8,2066.8 L731.1,2064.5 L731.5,2062.2 L731.8,2060.0 L732.2,2057.7 L732.5,2055.3 L732.9,2053.0 L733.2,2050.7 L733.6,2048.8 L733.9,2046.7 L734.3,2044.5 L734.6,2042.0 L735.0,2039.5 L735.3,2037.2 L735.7,2034.6 L736.0,2032.4 L736.4,2030.4 L736.7,2028.2 L737.1,2025.1 L737.4,2021.7 L737.8,2018.3 L738.1,2015.8 L738.5,2013.1 L738.8,2010.4 L739.2,2006.4 L739.5,2002.8 L739.9,2000.0 L740.2,1997.4 L740.6,1995.3 L740.9,1992.6 L741.3,1989.7 L741.6,1987.7 L742.0,1985.5 L742.3,1983.6 L742.7,1981.2 L743.0,1978.8 L743.4,1978.1 L743.7,1976.0 L744.1,1974.6 L744.4,1972.6 L744.8,1969.8 L745.1,1967.8 L745.5,1965.7 L745.8,1964.5 L746.2,1961.9 L746.5,1959.5 L746.9,1957.9 L747.2,1955.8 L747.6,1953.3 L747.9,1950.7 L748.3,1949.0 L748.6,1947.1 L749.0,1945.6 L749.3,1943.2 L749.7,1941.7 L750.0,1938.4 L750.4,1935.4 L750.7,1933.1 L751.1,1932.1 L751.4,1931.3 L751.8,1930.2 L752.1,1928.0 L752.5,1926.6 L752.8,1924.0 L753.2,1921.6 L753.5,1919.8 L753.9,1918.2 L754.2,1917.2 L754.6,1915.1 L754.9,1912.9 L755.3,1910.6 L755.6,1908.4 L756.0,1905.8 L756.3,1902.8 L756.7,1900.3 L757.0,1898.4 L757.4,1896.2 L757.7,1893.8 L758.1,1891.7 L758.4,1889.7 L758.8,1888.7 L759.1,1886.4 L759.5,1885.0 L759.8,1882.2 L760.2,1880.5 L760.5,1878.0 L760.9,1875.4 L761.2,1872.3 L761.6,1869.7 L761.9,1867.7 L762.3,1865.6 L762.6,1864.2 L763.0,1862.3 L763.3,1861.0 L763.7,1858.9 L764.0,1857.8 L764.4,1856.0 L764.7,1854.3 L765.1,1852.9 L765.4,1851.3 L765.8,1850.6 L766.1,1847.9 L766.5,1846.3 L766.8,1844.2 L767.0,1842.8 L768.2,1838.2 L769.4,1833.8 L770.6,1829.4 L771.8,1824.5 L773.0,1819.4 L774.2,1815.2 L775.4,1811.6 L776.6,1807.7 L777.8,1804.8 L779.0,1801.6 L780.2,1799.2 L781.4,1796.8 L782.6,1793.3 L783.8,1791.1 L785.0,1788.8 L786.2,1786.9 L787.4,1784.9 L788.6,1783.0 L789.8,1782.0 L791.0,1781.1 L792.2,1779.9 L793.4,1778.1 L794.6,1776.9 L795.8,1776.5 L797.0,1776.2 L798.2,1775.1 L799.4,1773.5 L800.6,1772.9 L801.8,1771.6 L803.0,1771.5 L804.2,1770.3 L805.4,1771.0 L806.6,1769.3 L807.8,1768.3 L809.0,1766.8 L810.2,1766.9 L811.4,1766.9 L812.6,1766.3 L813.8,1765.3 L815.0,1764.6 L816.2,1764.3 L817.4,1763.5 L818.6,1763.1 L819.8,1761.7 L821.0,1761.1 L822.2,1759.8 L823.4,1759.3 L824.6,1758.6 L825.8,1757.7 L827.0,1757.6 L828.2,1757.5 L829.4,1757.9 L830.6,1757.9 L831.8,1756.3 L833.0,1755.7 L834.2,1754.3 L835.4,1755.2 L836.6,1754.3 L837.8,1753.6 L839.0,1752.2 L840.2,1752.3 L841.4,1752.9 L842.6,1752.6 L843.8,1751.9 L845.0,1750.7 L846.2,1750.3 L847.4,1748.8 L848.6,1748.6 L849.8,1747.5 L851.0,1748.3 L852.2,1746.7 L853.4,1747.3 L854.6,1746.8 L855.8,1746.5 L857.0,1744.9 L858.2,1743.7 L859.4,1743.3 L860.6,1742.7 L861.8,1742.1 L863.0,1741.9 L864.2,1742.2 L865.4,1742.3 L866.6,1740.7 L867.8,1739.5 L869.0,1738.3 L870.2,1738.4 L871.4,1738.6 L872.6,1737.6 L873.8,1737.9 L875.0,1737.5 L876.2,1738.0 L877.4,1736.9 L878.6,1735.4 L879.8,1734.3 L881.0,1734.6 L882.2,1735.0 L883.4,1736.3 L884.6,1735.8 L885.8,1735.1 L887.0,1734.7 L888.2,1734.3 L889.4,1734.8 L890.6,1734.5 L891.8,1733.8 L893.0,1733.1 L894.2,1733.4 L895.4,1733.3 L896.6,1733.2 L897.8,1731.9 L899.0,1732.0 L900.2,1732.3 L901.4,1732.7 L902.6,1732.7 L903.8,1732.6 L905.0,1733.0 L906.2,1732.5 L907.4,1732.6 L908.6,1732.4 L909.8,1732.5 L911.0,1733.2 L912.2,1733.4 L913.4,1734.1 L914.6,1733.8 L915.8,1733.9 L917.0,1733.8 L918.2,1733.5 L919.4,1732.8 L920.6,1733.1 L921.8,1733.3 L923.0,1733.4 L924.2,1733.5 L925.4,1734.0 L926.6,1733.9 L927.8,1734.5 L929.0,1734.3 L930.2,1735.4 L931.4,1734.5 L932.6,1734.7 L933.8,1734.2 L935.0,1734.5 L936.2,1733.5 L937.4,1733.0 L938.6,1733.1 L939.8,1733.9 L941.0,1733.9 L942.2,1733.6 L943.4,1732.7 L944.6,1732.8 L945.8,1732.7 L947.0,1733.4 L948.2,1734.5 L949.4,1734.9 L950.6,1734.5 L951.8,1734.2 L953.0,1733.5 L954.2,1733.6 L955.4,1733.0 L956.6,1733.5 L957.8,1732.7 L959.0,1733.1 L960.2,1732.9 L961.4,1733.8 L962.6,1733.6 L963.8,1734.4 L965.0,1734.2 L966.2,1733.4 L967.4,1733.2 L968.6,1733.7 L969.8,1734.2 L971.0,1734.2 L972.2,1734.3 L973.4,1734.0 L974.6,1733.1 L975.8,1732.1 L977.0,1733.3 L978.2,1732.9 L979.4,1733.0 L980.6,1732.5 L981.8,1733.8 L983.0,1734.7 L984.2,1734.7 L985.4,1734.5 L986.6,1734.5 L987.8,1734.5 L989.0,1734.1 L990.2,1733.8 L991.4,1733.8 L992.6,1734.2 L993.8,1734.2 L995.0,1733.6 L996.2,1733.3 L997.4,1733.5 L998.6,1733.4 L999.8,1733.0 L1001.0,1732.9 L1002.2,1733.7 L1003.4,1733.9 L1004.6,1733.6 L1005.8,1733.4 L1007.0,1733.3 L1008.2,1733.2 L1009.4,1732.3 L1010.6,1732.4 L1011.8,1733.4 L1013.0,1733.9 L1014.2,1733.7 L1015.4,1733.2 L1016.6,1733.8 L1017.8,1735.1 L1019.0,1734.7 L1020.2,1734.6 L1021.4,1733.1 L1022.6,1732.9 L1023.8,1732.4 L1025.0,1732.8 L1026.2,1733.4 L1027.4,1733.8 L1028.6,1733.5 L1029.8,1733.3 L1031.0,1732.6 L1032.2,1732.7 L1033.4,1732.2 L1034.6,1732.6 L1035.8,1733.0 L1037.0,1734.5 L1038.2,1734.3 L1039.4,1734.4 L1040.6,1733.6 L1041.8,1733.7 L1043.0,1733.2 L1044.2,1732.6 L1045.4,1732.8 L1046.6,1732.8 L1047.8,1733.3 L1049.0,1733.6 L1050.2,1733.2 L1051.4,1733.9 L1052.6,1733.1 L1053.8,1734.1 L1055.0,1733.6 L1056.2,1733.9 L1057.4,1733.8 L1058.6,1734.2 L1059.8,1734.3 L1061.0,1734.6 L1062.2,1734.9 L1063.4,1734.9 L1064.6,1734.1 L1065.8,1733.0 L1067.0,1733.1 L1068.2,1733.9 L1069.4,1733.3 L1070.6,1733.0 L1071.8,1732.3 L1073.0,1733.9 L1074.2,1733.6 L1075.4,1734.1 L1076.6,1733.4 L1077.8,1734.2 L1079.0,1734.7 L1080.2,1734.6 L1081.4,1733.6 L1082.6,1733.4 L1083.8,1733.2 L1085.0,1733.9 L1086.2,1733.6 L1087.4,1733.2 L1088.6,1732.9 L1089.8,1732.7 L1091.0,1733.1 L1092.2,1734.1 L1093.4,1733.4 L1094.6,1734.1 L1095.8,1733.0 L1097.0,1733.6 L1098.2,1732.9 L1099.4,1733.4 L1100.6,1733.9 L1101.8,1734.4 L1103.0,1734.2 L1104.2,1732.7 L1105.4,1732.5 L1106.6,1731.7 L1107.8,1733.1 L1109.0,1732.6 L1110.2,1732.6 L1111.4,1731.5 L1112.6,1731.9 L1113.8,1732.4 L1115.0,1733.1 L1116.2,1732.6 L1117.4,1733.3 L1118.6,1733.9 L1119.8,1734.5 L1121.0,1733.7 L1122.2,1732.4 L1123.4,1732.0 L1124.6,1733.0 L1125.8,1733.3 L1127.0,1732.9 L1128.2,1733.6 L1129.4,1734.6 L1130.6,1736.0 L1131.8,1734.5 L1133.0,1734.2 L1134.2,1733.1 L1135.4,1733.2 L1136.6,1733.1 L1137.8,1733.0 L1139.0,1733.2 L1140.0,1732.3" fill="none" stroke="#000" stroke-width="3.3" stroke-linejoin="round" />
<path d="M707.3,1730.5 L707.6,1737.0 L708.0,1743.5 L708.4,1750.1 L708.7,1756.7 L709.1,1763.3 L709.4,1769.9 L709.8,1776.6 L710.1,1783.3 L710.5,1790.0 L710.8,1796.7 L711.2,1803.5 L711.5,1810.3 L711.9,1817.1 L712.2,1823.9 L712.6,1830.6 L712.9,1837.3 L713.3,1843.9 L713.6,1850.6 L714.0,1857.3 L714.3,1864.1 L714.7,1871.1 L715.0,1878.2 L715.4,1885.6 L715.7,1893.2 L716.1,1901.2 L716.4,1910.0 L716.8,1919.6 L717.1,1929.9 L717.5,1940.3 L717.8,1950.6 L718.2,1960.4 L718.5,1969.3 L718.9,1977.1 L719.2,1983.6 L719.6,1989.7 L719.9,1995.5 L720.3,2001.1 L720.6,2006.4 L721.0,2011.6 L721.3,2016.4 L721.7,2021.1 L722.0,2025.5 L722.4,2029.8 L722.7,2033.9 L723.1,2037.8 L723.4,2041.5 L723.8,2045.0 L724.1,2048.4 L724.5,2051.7 L724.8,2054.7 L725.2,2057.6 L725.5,2060.3 L725.9,2062.9 L726.2,2065.4 L726.6,2067.7 L726.9,2070.0 L727.3,2072.3 L727.6,2074.5 L728.0,2076.7 L728.3,2078.9 L728.7,2081.1 L729.0,2083.4 L729.4,2085.8 L729.7,2088.3 L730.1,2090.9 L730.4,2093.5 L730.8,2096.2 L731.1,2098.9 L731.5,2101.6 L731.8,2104.4 L732.2,2107.1 L732.5,2109.8 L732.9,2112.4 L733.2,2115.0 L733.6,2117.5 L733.9,2120.0 L734.3,2122.4 L734.6,2124.9 L735.0,2127.4 L735.3,2129.9 L735.7,2132.4 L736.0,2134.8 L736.4,2137.1 L736.7,2139.3 L737.1,2141.4 L737.4,2143.3 L737.8,2145.0 L738.1,2146.5 L738.5,2147.9 L738.8,2149.4 L739.2,2150.8 L739.5,2152.1 L739.9,2153.3 L740.2,2154.4 L740.6,2155.2 L740.9,2155.8 L741.3,2156.0 L741.6,2155.9 L742.0,2155.7 L742.3,2155.2 L742.7,2154.7 L743.0,2153.9 L743.4,2153.1 L743.7,2152.2 L744.1,2151.2 L744.4,2150.1 L744.8,2149.0 L745.1,2147.9 L745.5,2146.6 L745.8,2145.4 L746.2,2143.8 L746.5,2142.1 L746.9,2140.2 L747.2,2138.2 L747.6,2135.8 L747.9,2133.2 L748.3,2130.5 L748.6,2127.9 L749.0,2125.6 L749.3,2123.2 L749.7,2121.0 L750.0,2118.2 L750.4,2116.3 L750.7,2114.0 L751.1,2112.3 L751.4,2110.1 L751.8,2108.4 L752.1,2106.2 L752.5,2104.2 L752.8,2102.6 L753.2,2101.2 L753.5,2099.5 L753.9,2097.2 L754.2,2093.9 L754.6,2091.3 L754.9,2088.9 L755.3,2087.4 L755.6,2085.3 L756.0,2081.9 L756.3,2079.2 L756.7,2075.9 L757.0,2073.8 L757.4,2071.5 L757.7,2069.1 L758.1,2066.2 L758.4,2062.4 L758.8,2060.1 L759.1,2056.9 L759.5,2054.8 L759.8,2051.2 L760.2,2050.1 L760.5,2048.2 L760.9,2047.3 L761.2,2045.2 L761.6,2044.7 L761.9,2043.7 L762.3,2042.9 L762.6,2040.1 L763.0,2038.5 L763.3,2036.6 L763.7,2035.1 L764.0,2032.5 L764.4,2030.8 L764.7,2028.1 L765.1,2026.7 L765.4,2023.8 L765.8,2023.2 L766.1,2021.7 L766.5,2020.9 L766.8,2017.9 L767.2,2015.7 L767.5,2013.9 L767.9,2011.9 L768.2,2008.6 L768.6,2005.2 L768.9,2002.9 L769.3,2001.6 L769.6,1999.6 L770.0,1998.2 L770.3,1996.1 L770.7,1994.3 L771.0,1992.6 L771.4,1991.1 L771.7,1990.2 L772.1,1988.9 L772.4,1987.4 L772.8,1986.2 L773.1,1984.0 L773.5,1982.6 L773.8,1981.7 L774.2,1981.3 L774.5,1980.0 L774.9,1977.7 L775.2,1975.9 L775.6,1974.4 L775.9,1972.4 L776.3,1970.9 L776.6,1969.1 L777.0,1967.2 L777.3,1964.7 L777.7,1962.8 L778.0,1961.6 L778.4,1961.2 L778.7,1960.1 L779.1,1956.8 L779.4,1953.6 L779.8,1951.1 L780.1,1950.5 L780.5,1949.4 L780.8,1947.4 L781.2,1945.2 L781.3,1944.2 L782.5,1936.8 L783.7,1929.6 L784.9,1922.4 L786.1,1916.3 L787.3,1910.1 L788.5,1902.9 L789.7,1896.2 L790.9,1890.2 L792.1,1885.7 L793.3,1879.7 L794.5,1874.6 L795.7,1869.9 L796.9,1867.0 L798.1,1863.2 L799.3,1860.1 L800.5,1858.0 L801.7,1855.8 L802.9,1854.6 L804.1,1851.2 L805.3,1849.6 L806.5,1846.3 L807.7,1844.0 L808.9,1841.6 L810.1,1839.4 L811.3,1837.5 L812.5,1835.6 L813.7,1833.6 L814.9,1830.6 L816.1,1828.5 L817.3,1825.7 L818.5,1823.6 L819.7,1821.6 L820.9,1820.8 L822.1,1819.7 L823.3,1817.7 L824.5,1815.4 L825.7,1814.6 L826.9,1812.9 L828.1,1812.0 L829.3,1809.8 L830.5,1809.0 L831.7,1807.7 L832.9,1808.2 L834.1,1807.4 L835.3,1806.0 L836.5,1803.1 L837.7,1801.8 L838.9,1800.6 L840.1,1800.5 L841.3,1799.6 L842.5,1799.7 L843.7,1799.0 L844.9,1798.1 L846.1,1796.5 L847.3,1794.8 L848.5,1793.3 L849.7,1793.0 L850.9,1791.9 L852.1,1790.8 L853.3,1789.5 L854.5,1788.1 L855.7,1787.0 L856.9,1785.7 L858.1,1785.1 L859.3,1784.1 L860.5,1783.4 L861.7,1782.3 L862.9,1782.0 L864.1,1780.9 L865.3,1779.8 L866.5,1777.5 L867.7,1776.5 L868.9,1776.7 L870.1,1777.1 L871.3,1776.7 L872.5,1775.7 L873.7,1775.3 L874.9,1774.8 L876.1,1773.8 L877.3,1773.5 L878.5,1773.0 L879.7,1773.0 L880.9,1771.5 L882.1,1771.0 L883.3,1770.6 L884.5,1769.9 L885.7,1769.1 L886.9,1767.8 L888.1,1767.1 L889.3,1767.4 L890.5,1766.4 L891.7,1766.6 L892.9,1765.0 L894.1,1764.9 L895.3,1763.9 L896.5,1763.4 L897.7,1762.9 L898.9,1761.5 L900.1,1760.8 L901.3,1760.4 L902.5,1761.7 L903.7,1761.6 L904.9,1760.6 L906.1,1759.8 L907.3,1759.6 L908.5,1759.1 L909.7,1758.0 L910.9,1756.9 L912.1,1757.6 L913.3,1757.2 L914.5,1756.9 L915.7,1756.3 L916.9,1757.0 L918.1,1757.0 L919.3,1757.0 L920.5,1755.8 L921.7,1756.2 L922.9,1755.7 L924.1,1756.1 L925.3,1754.6 L926.5,1754.7 L927.7,1754.4 L928.9,1755.2 L930.1,1754.0 L931.3,1754.3 L932.5,1753.7 L933.7,1754.1 L934.9,1753.1 L936.1,1752.8 L937.3,1752.6 L938.5,1752.6 L939.7,1753.0 L940.9,1752.2 L942.1,1752.0 L943.3,1750.7 L944.5,1750.7 L945.7,1749.4 L946.9,1749.6 L948.1,1749.2 L949.3,1749.5 L950.5,1749.0 L951.7,1748.8 L952.9,1749.4 L954.1,1749.5 L955.3,1749.5 L956.5,1749.0 L957.7,1749.5 L958.9,1749.8 L960.1,1749.8 L961.3,1748.3 L962.5,1747.9 L963.7,1747.3 L964.9,1748.1 L966.1,1747.4 L967.3,1747.8 L968.5,1747.3 L969.7,1747.3 L970.9,1747.1 L972.1,1746.5 L973.3,1747.1 L974.5,1746.9 L975.7,1747.3 L976.9,1746.3 L978.1,1746.5 L979.3,1745.9 L980.5,1746.7 L981.7,1745.9 L982.9,1746.3 L984.1,1745.3 L985.3,1745.6 L986.5,1745.8 L987.7,1745.7 L988.9,1745.1 L990.1,1744.5 L991.3,1744.2 L992.5,1744.7 L993.7,1744.1 L994.9,1744.1 L996.1,1744.2 L997.3,1744.7 L998.5,1744.3 L999.7,1743.7 L1000.9,1743.6 L1002.1,1744.2 L1003.3,1743.8 L1004.5,1743.6 L1005.7,1742.8 L1006.9,1742.3 L1008.1,1742.6 L1009.3,1743.1 L1010.5,1744.0 L1011.7,1743.8 L1012.9,1743.3 L1014.1,1743.4 L1015.3,1743.3 L1016.5,1742.9 L1017.7,1742.0 L1018.9,1740.8 L1020.1,1740.1 L1021.3,1740.4 L1022.5,1741.3 L1023.7,1741.7 L1024.9,1741.5 L1026.1,1741.1 L1027.3,1740.7 L1028.5,1740.5 L1029.7,1740.7 L1030.9,1741.4 L1032.1,1740.7 L1033.3,1739.7 L1034.5,1739.5 L1035.7,1740.3 L1036.9,1742.3 L1038.1,1741.1 L1039.3,1740.3 L1040.5,1739.1 L1041.7,1740.2 L1042.9,1740.7 L1044.1,1739.6 L1045.3,1738.7 L1046.5,1738.4 L1047.7,1738.0 L1048.9,1738.2 L1050.1,1737.0 L1051.3,1737.9 L1052.5,1737.9 L1053.7,1739.2 L1054.9,1738.9 L1056.1,1739.6 L1057.3,1738.9 L1058.5,1738.8 L1059.7,1737.4 L1060.9,1737.4 L1062.1,1737.2 L1063.3,1738.6 L1064.5,1738.2 L1065.7,1738.6 L1066.9,1738.0 L1068.1,1736.8 L1069.3,1736.2 L1070.5,1735.9 L1071.7,1737.1 L1072.9,1737.3 L1074.1,1737.8 L1075.3,1737.9 L1076.5,1738.3 L1077.7,1738.1 L1078.9,1737.0 L1080.1,1736.9 L1081.3,1736.2 L1082.5,1736.1 L1083.7,1735.9 L1084.9,1736.5 L1086.1,1737.6 L1087.3,1737.4 L1088.5,1736.5 L1089.7,1736.9 L1090.9,1736.8 L1092.1,1736.8 L1093.3,1735.4 L1094.5,1735.0 L1095.7,1734.4 L1096.9,1735.2 L1098.1,1735.6 L1099.3,1736.2 L1100.5,1735.0 L1101.7,1734.2 L1102.9,1735.1 L1104.1,1736.4 L1105.3,1737.0 L1106.5,1736.9 L1107.7,1736.6 L1108.9,1736.0 L1110.1,1734.9 L1111.3,1734.8 L1112.5,1735.5 L1113.7,1734.8 L1114.9,1734.4 L1116.1,1733.4 L1117.3,1733.5 L1118.5,1733.1 L1119.7,1733.6 L1120.9,1734.5 L1122.1,1734.8 L1123.3,1735.1 L1124.5,1734.7 L1125.7,1734.1 L1126.9,1734.7 L1128.1,1735.8 L1129.3,1735.8 L1130.5,1734.4 L1131.7,1732.8 L1132.9,1733.3 L1134.1,1733.8 L1135.3,1733.9 L1136.5,1733.9 L1137.7,1734.1 L1138.9,1734.6 L1140.0,1734.5" fill="none" stroke="#000" stroke-width="3.3" stroke-linejoin="round" />
<path d="M1302.6,1723.4 L1303.6,1723.6 L1304.6,1724.5 L1305.6,1724.4 L1306.6,1724.1 L1307.6,1724.9 L1308.6,1725.5 L1309.6,1725.3 L1310.6,1724.7 L1311.6,1724.6 L1312.6,1724.5 L1313.6,1724.5 L1314.6,1723.8 L1315.6,1723.7 L1316.6,1723.8 L1317.6,1723.6 L1318.6,1724.3 L1319.6,1724.9 L1320.6,1724.7 L1321.6,1723.9 L1322.6,1724.2 L1323.6,1724.8 L1324.6,1724.7 L1325.6,1724.2 L1326.6,1724.3 L1327.6,1724.0 L1328.6,1723.8 L1329.6,1724.0 L1330.6,1724.3 L1331.6,1724.2 L1332.6,1724.4 L1333.6,1725.4 L1334.6,1724.9 L1335.6,1723.7 L1336.6,1723.9 L1337.6,1724.3 L1338.6,1724.1 L1339.6,1724.5 L1340.6,1724.6 L1341.6,1724.6 L1343.5,1722.0 L1345.0,1722.8" fill="none" stroke="#000" stroke-width="4.2" stroke-linejoin="round" />
<path d="M1302.6,1725.1 L1303.6,1724.5 L1304.6,1725.4 L1305.6,1725.1 L1306.6,1725.4 L1307.6,1726.4 L1308.6,1726.6 L1309.6,1726.2 L1310.6,1725.7 L1311.6,1726.2 L1312.6,1726.2 L1313.6,1726.4 L1314.6,1727.0 L1315.6,1726.2 L1316.6,1726.4 L1317.6,1727.1 L1318.6,1725.7 L1319.6,1725.3 L1320.6,1725.9 L1321.6,1725.8 L1322.6,1726.7 L1323.6,1727.2 L1324.6,1727.4 L1325.6,1727.3 L1326.6,1726.5 L1327.6,1725.7 L1328.6,1726.0 L1329.6,1726.5 L1330.6,1726.3 L1331.6,1725.8 L1332.6,1726.2 L1333.6,1726.4 L1334.6,1726.9 L1335.6,1726.6 L1336.6,1726.1 L1337.6,1726.5 L1338.6,1727.2 L1339.6,1726.9 L1340.6,1725.8 L1341.6,1725.9 L1343.5,1722.0 L1345.0,1722.8" fill="none" stroke="#000" stroke-width="4.2" stroke-linejoin="round" />
<path d="M1302.6,1728.0 L1303.6,1726.9 L1304.6,1726.4 L1305.6,1727.2 L1306.6,1727.2 L1307.6,1727.7 L1308.6,1728.8 L1309.6,1728.3 L1310.6,1727.2 L1311.6,1727.5 L1312.6,1728.6 L1313.6,1728.5 L1314.6,1727.4 L1315.6,1727.7 L1316.6,1727.5 L1317.6,1726.9 L1318.6,1727.5 L1319.6,1727.5 L1320.6,1727.3 L1321.6,1727.7 L1322.6,1727.3 L1323.6,1727.6 L1324.6,1728.9 L1325.6,1728.9 L1326.6,1727.8 L1327.6,1727.4 L1328.6,1727.9 L1329.6,1727.9 L1330.6,1727.5 L1331.6,1727.3 L1332.6,1727.6 L1333.6,1727.9 L1334.6,1727.8 L1335.6,1728.0 L1336.6,1728.4 L1337.6,1728.7 L1338.6,1728.5 L1339.6,1728.1 L1340.6,1728.2 L1341.6,1727.9 L1343.5,1722.0 L1345.0,1722.8" fill="none" stroke="#000" stroke-width="4.2" stroke-linejoin="round" />
<path d="M1345.7,1730.0 L1345.8,1734.5 L1346.0,1739.1 L1346.1,1743.6 L1346.2,1748.2 L1346.4,1752.7 L1346.5,1757.3 L1346.7,1761.8 L1346.8,1766.3 L1347.0,1770.9 L1347.1,1775.4 L1347.3,1780.0 L1347.4,1784.5 L1347.6,1789.1 L1347.8,1793.6 L1348.0,1798.1 L1348.1,1802.7 L1348.3,1807.2 L1348.5,1811.8 L1348.7,1816.3 L1348.9,1820.8 L1349.1,1825.4 L1349.3,1829.9 L1349.6,1834.5 L1349.8,1839.0 L1350.0,1843.6 L1350.2,1848.1 L1350.4,1852.6 L1350.6,1857.2 L1350.8,1861.7 L1351.0,1866.3 L1351.2,1870.8 L1351.5,1875.4 L1351.7,1879.9 L1351.9,1884.4 L1352.1,1889.0 L1352.3,1893.5 L1352.5,1898.1 L1352.8,1902.6 L1353.0,1907.2 L1353.2,1911.7 L1353.4,1916.2 L1353.6,1920.8 L1353.9,1925.3 L1354.1,1929.9 L1354.3,1934.4 L1354.5,1938.9 L1354.7,1943.5 L1355.0,1948.0 L1355.3,1952.6 L1355.6,1957.1 L1355.9,1961.7 L1356.3,1966.2 L1356.8,1970.7 L1357.2,1975.3 L1357.7,1979.8 L1358.3,1984.4 L1358.8,1988.9 L1359.5,1993.5 L1360.1,1998.0" fill="none" stroke="#000" stroke-width="5.5" stroke-linejoin="round" />
<path d="M1345.0,1726.0 L1345.3,1751.5 L1345.7,1761.4 L1346.0,1764.7 L1346.4,1767.8 L1346.7,1770.7 L1347.1,1773.5 L1347.4,1776.1 L1347.8,1778.5 L1348.1,1780.8 L1348.5,1782.9 L1348.8,1784.9 L1349.2,1786.7 L1349.5,1788.4 L1349.9,1790.0 L1350.2,1791.4 L1350.6,1792.7 L1350.9,1793.9 L1351.3,1794.9 L1351.6,1795.9 L1352.0,1796.8 L1352.3,1797.5 L1352.7,1798.2 L1353.0,1798.7 L1353.4,1799.2 L1353.7,1799.6 L1354.1,1800.0 L1354.4,1800.2 L1354.8,1800.4 L1355.1,1800.6 L1355.5,1800.7 L1355.8,1800.7 L1356.2,1800.7 L1356.5,1800.4 L1356.9,1799.9 L1357.2,1799.2 L1357.6,1798.4 L1357.9,1797.4 L1358.3,1796.2 L1358.6,1795.0 L1359.0,1793.7 L1359.3,1792.5 L1359.7,1791.2 L1360.0,1789.9 L1360.4,1788.5 L1360.7,1787.3 L1361.1,1786.0 L1361.4,1784.9 L1361.8,1783.8 L1362.1,1783.5 L1362.5,1782.8 L1362.8,1781.9 L1363.2,1780.6 L1363.5,1779.4 L1363.9,1778.3 L1364.2,1777.6 L1364.6,1777.2 L1364.9,1776.6 L1365.3,1775.0 L1365.6,1773.8 L1366.0,1773.4 L1366.3,1773.1 L1366.7,1771.8 L1367.0,1770.6 L1367.4,1770.7 L1367.7,1770.5 L1368.1,1770.1 L1368.4,1768.1 L1368.8,1767.3 L1369.1,1765.8 L1369.5,1765.6 L1369.8,1763.9 L1370.2,1762.9 L1370.5,1762.8 L1370.9,1762.6 L1371.2,1762.9 L1371.6,1761.0 L1371.9,1760.8 L1372.3,1759.2 L1372.6,1758.1 L1373.0,1757.5 L1373.3,1757.5 L1373.7,1756.3 L1374.0,1754.7 L1374.4,1753.7 L1374.7,1754.8 L1375.1,1754.6 L1375.4,1754.0 L1375.8,1752.1 L1376.1,1752.0 L1376.5,1751.9 L1376.8,1751.1 L1377.2,1750.1 L1377.5,1748.0 L1377.9,1748.3 L1378.2,1747.4 L1378.6,1748.3 L1378.9,1747.2 L1379.3,1747.4 L1379.6,1746.3 L1380.0,1746.5 L1380.3,1745.5 L1380.7,1745.2 L1381.0,1745.5 L1381.4,1745.6 L1381.7,1746.3 L1382.1,1745.4 L1382.4,1745.2 L1382.8,1744.9 L1383.1,1744.6 L1383.5,1744.0 L1383.8,1742.6 L1384.2,1742.2 L1384.5,1742.6 L1384.9,1742.9 L1385.2,1742.9 L1385.6,1742.5 L1385.9,1742.4 L1386.3,1742.7 L1386.6,1741.9 L1387.0,1741.0 L1387.3,1741.2 L1387.7,1741.5 L1388.0,1742.1 L1388.4,1740.9 L1388.7,1740.2 L1389.1,1739.3 L1389.4,1739.9 L1389.8,1740.1 L1390.1,1740.8 L1390.5,1740.4 L1390.8,1740.0 L1391.2,1739.0 L1391.5,1738.7 L1391.9,1739.9 L1392.2,1740.5 L1392.6,1739.2 L1392.9,1738.6 L1393.3,1738.0 L1393.6,1739.0 L1394.0,1739.0 L1394.3,1738.5 L1394.7,1738.8 L1395.0,1738.2 L1395.4,1738.0 L1395.7,1737.6 L1396.0,1737.2 L1397.2,1736.7 L1398.4,1735.4 L1399.6,1735.4 L1400.8,1735.6 L1402.0,1735.1 L1403.2,1735.1 L1404.4,1733.9 L1405.6,1733.7 L1406.8,1732.5 L1408.0,1732.1 L1409.2,1730.9 L1410.4,1730.5 L1411.6,1729.9 L1412.8,1729.7 L1414.0,1728.9 L1415.2,1728.9 L1416.4,1728.8 L1417.6,1729.0 L1418.8,1728.4 L1420.0,1727.8 L1421.2,1727.1 L1422.4,1727.8 L1423.6,1728.5 L1424.8,1729.0 L1426.0,1728.7 L1427.2,1727.8 L1428.4,1728.0 L1429.6,1727.0 L1430.8,1727.2 L1432.0,1726.5 L1433.2,1726.9 L1434.4,1726.3 L1435.6,1727.0 L1436.8,1726.4 L1438.0,1727.6 L1439.2,1727.3 L1440.4,1728.1 L1441.6,1727.6 L1442.8,1727.2 L1444.0,1726.7 L1445.2,1727.4 L1446.4,1727.4 L1447.6,1727.4 L1448.8,1727.2 L1450.0,1728.3 L1451.2,1728.1 L1452.4,1727.6 L1453.6,1726.6 L1454.8,1726.6 L1456.0,1726.1 L1457.2,1726.4 L1458.4,1726.8 L1459.6,1727.6 L1460.8,1726.7 L1462.0,1726.2 L1463.2,1725.5 L1464.4,1726.0 L1465.6,1726.6 L1466.8,1726.8 L1468.0,1726.0 L1469.2,1725.5 L1470.4,1726.3 L1471.6,1726.9 L1472.8,1727.4 L1474.0,1726.4 L1475.2,1726.9 L1476.4,1727.1 L1477.6,1726.5 L1478.8,1726.2 L1480.0,1726.4 L1481.2,1726.8 L1482.4,1726.6 L1483.6,1726.0 L1484.8,1726.6 L1486.0,1726.2 L1487.2,1726.6 L1488.4,1726.4 L1489.6,1727.1 L1490.8,1726.7 L1492.0,1726.6 L1493.2,1727.0 L1494.4,1726.9 L1495.6,1727.1 L1496.8,1726.6 L1498.0,1726.8 L1499.2,1726.7 L1500.4,1726.2 L1501.6,1726.4 L1502.8,1725.8 L1504.0,1726.7 L1505.2,1726.4 L1506.4,1726.5 L1507.6,1726.2 L1508.8,1725.9 L1510.0,1726.5 L1511.2,1726.1 L1512.4,1726.7 L1513.6,1726.7 L1514.8,1727.5 L1516.0,1726.8 L1517.2,1726.5 L1518.4,1726.2 L1519.6,1725.8 L1520.8,1725.8 L1522.0,1726.3 L1523.2,1726.7 L1524.4,1727.0 L1525.6,1725.7 L1526.8,1726.4 L1528.0,1725.9 L1529.2,1725.9 L1530.4,1725.6 L1531.6,1725.7 L1532.8,1725.3 L1534.0,1724.8 L1535.2,1725.3 L1536.4,1726.0 L1537.6,1726.7 L1538.8,1726.9 L1540.0,1727.3 L1541.2,1727.8 L1542.4,1727.5 L1543.6,1727.8 L1544.8,1727.1 L1546.0,1727.6 L1547.2,1727.4 L1548.4,1728.0 L1549.6,1728.8 L1550.8,1728.6 L1552.0,1728.4 L1553.2,1727.5 L1554.4,1727.8 L1555.6,1727.8 L1556.8,1727.7 L1558.0,1727.3 L1559.2,1726.7 L1560.4,1725.8 L1561.6,1725.9 L1562.8,1725.8 L1564.0,1725.8 L1565.2,1726.4 L1566.4,1727.2 L1567.6,1727.9 L1568.8,1726.7 L1570.0,1726.2 L1571.2,1726.2 L1572.4,1726.5 L1573.6,1727.2 L1574.8,1727.6 L1576.0,1727.3 L1577.2,1726.8 L1578.4,1725.6 L1579.6,1726.4 L1580.8,1726.5 L1582.0,1727.9 L1583.2,1726.5 L1584.4,1726.9 L1585.6,1725.9 L1586.8,1727.3 L1588.0,1726.2 L1589.2,1726.7 L1590.4,1726.6 L1591.6,1726.9 L1592.8,1727.1 L1594.0,1726.7 L1595.2,1726.5 L1596.4,1725.9 L1597.6,1725.4 L1598.8,1725.7 L1600.0,1725.8 L1601.2,1727.2 L1602.4,1727.0 L1603.6,1727.8 L1604.8,1725.9 L1606.0,1726.3 L1607.2,1725.9 L1608.4,1727.6 L1609.6,1728.2 L1610.8,1728.3 L1612.0,1728.6 L1613.2,1727.6 L1614.4,1727.2 L1615.6,1726.9 L1616.8,1727.2 L1618.0,1728.0 L1619.2,1727.1 L1620.4,1726.8 L1621.6,1726.5 L1622.8,1726.8 L1624.0,1727.4 L1625.2,1728.6 L1626.4,1728.5 L1627.6,1728.8 L1628.8,1727.4 L1630.0,1726.8 L1631.2,1725.5 L1632.4,1725.2 L1633.6,1724.9 L1634.8,1725.5 L1636.0,1726.2 L1637.2,1726.1 L1638.4,1726.0 L1639.6,1725.2 L1640.8,1726.8 L1642.0,1727.5 L1643.2,1728.2 L1644.4,1727.7 L1645.6,1726.9 L1646.8,1726.7 L1648.0,1727.4 L1649.2,1727.9 L1650.4,1728.1 L1651.6,1728.2 L1652.8,1728.0 L1654.0,1728.1 L1655.2,1727.1 L1656.4,1726.2 L1657.6,1726.1 L1658.8,1726.2 L1660.0,1727.3 L1661.2,1726.6 L1662.4,1726.2 L1663.6,1725.8 L1664.8,1726.1 L1666.0,1726.4 L1667.2,1726.4 L1668.4,1726.3 L1669.6,1726.5 L1670.8,1727.4 L1672.0,1727.9 L1673.2,1727.8 L1674.4,1727.0 L1675.6,1726.7 L1676.8,1727.0 L1678.0,1727.4 L1679.2,1727.5 L1680.4,1727.0 L1681.6,1726.9 L1682.8,1726.3 L1684.0,1727.2 L1685.2,1726.6 L1686.4,1726.5 L1687.6,1726.0 L1688.8,1725.8 L1690.0,1726.1 L1691.2,1725.6 L1692.4,1726.1 L1693.6,1726.9 L1694.8,1726.5 L1696.0,1726.5 L1697.2,1725.9 L1698.4,1726.6 L1699.6,1726.9 L1700.8,1727.5 L1702.0,1728.1 L1703.2,1727.5 L1704.4,1727.4 L1705.6,1727.0 L1706.8,1727.2 L1708.0,1726.8 L1709.2,1725.9 L1710.4,1725.6 L1711.6,1726.8 L1712.8,1727.2 L1714.0,1727.9 L1715.2,1727.2 L1716.4,1727.3 L1717.6,1727.3 L1718.8,1727.5 L1720.0,1727.4 L1721.2,1727.8 L1722.4,1727.7 L1723.6,1727.9 L1724.8,1727.2 L1726.0,1727.7 L1727.2,1728.6 L1728.4,1728.5 L1729.6,1728.2 L1730.8,1727.2 L1732.0,1727.0 L1733.2,1726.8 L1734.4,1727.3 L1735.6,1728.6 L1736.8,1728.3 L1738.0,1727.6 L1739.2,1725.8 L1740.4,1725.6 L1741.6,1726.4 L1742.8,1727.6 L1744.0,1729.0 L1745.2,1729.2 L1746.4,1728.9 L1747.6,1728.4 L1748.8,1728.6 L1750.0,1728.0 L1751.2,1726.8 L1752.4,1726.3 L1753.6,1727.3 L1754.8,1727.3 L1756.0,1727.0 L1757.2,1726.3 L1758.4,1727.3 L1759.6,1728.1 L1760.8,1729.1 L1762.0,1729.5 L1763.2,1728.7 L1764.4,1728.0 L1765.6,1727.9 L1766.8,1727.9 L1768.0,1728.2 L1769.2,1728.1 L1770.4,1727.9 L1771.6,1726.8 L1772.8,1727.1 L1773.2,1727.6" fill="none" stroke="#000" stroke-width="3.3" stroke-linejoin="round" />
<path d="M1345.0,1726.0 L1345.3,1761.3 L1345.7,1773.2 L1346.0,1781.2 L1346.4,1787.0 L1346.7,1792.3 L1347.1,1798.2 L1347.4,1803.9 L1347.8,1809.3 L1348.1,1814.5 L1348.5,1819.5 L1348.8,1824.3 L1349.2,1828.9 L1349.5,1833.3 L1349.9,1837.5 L1350.2,1841.6 L1350.6,1845.5 L1350.9,1849.3 L1351.3,1853.0 L1351.6,1856.6 L1352.0,1860.1 L1352.3,1863.9 L1352.7,1867.7 L1353.0,1871.5 L1353.4,1875.3 L1353.7,1879.0 L1354.1,1882.6 L1354.4,1885.9 L1354.8,1889.0 L1355.1,1891.8 L1355.5,1894.1 L1355.8,1896.0 L1356.2,1897.3 L1356.5,1898.1 L1356.9,1898.3 L1357.2,1897.9 L1357.6,1896.9 L1357.9,1895.6 L1358.3,1893.9 L1358.6,1891.9 L1359.0,1889.7 L1359.3,1887.4 L1359.7,1884.9 L1360.0,1882.4 L1360.4,1879.9 L1360.7,1877.4 L1361.1,1875.1 L1361.4,1873.2 L1361.8,1871.4 L1362.1,1869.6 L1362.5,1867.7 L1362.8,1866.1 L1363.2,1864.4 L1363.5,1862.7 L1363.9,1861.2 L1364.2,1859.8 L1364.6,1858.3 L1364.9,1856.0 L1365.3,1853.9 L1365.6,1851.5 L1366.0,1849.4 L1366.3,1847.4 L1366.7,1846.1 L1367.0,1845.1 L1367.4,1843.5 L1367.7,1841.3 L1368.1,1839.3 L1368.4,1837.5 L1368.8,1836.5 L1369.1,1835.2 L1369.5,1833.7 L1369.8,1832.2 L1370.2,1830.2 L1370.5,1828.2 L1370.9,1826.2 L1371.2,1824.4 L1371.6,1821.8 L1371.9,1820.0 L1372.3,1818.3 L1372.6,1816.9 L1373.0,1815.3 L1373.3,1812.9 L1373.7,1812.7 L1374.0,1809.7 L1374.4,1809.0 L1374.7,1806.3 L1375.1,1805.7 L1375.4,1804.3 L1375.8,1803.5 L1376.1,1802.7 L1376.5,1801.5 L1376.8,1799.3 L1377.2,1797.4 L1377.5,1795.4 L1377.9,1794.5 L1378.2,1792.4 L1378.6,1791.8 L1378.9,1790.7 L1379.3,1790.8 L1379.6,1789.3 L1380.0,1787.6 L1380.3,1785.7 L1380.7,1784.1 L1381.0,1782.7 L1381.4,1781.7 L1381.7,1780.9 L1382.1,1780.8 L1382.4,1780.0 L1382.8,1780.1 L1383.1,1778.9 L1383.5,1778.4 L1383.8,1776.9 L1384.2,1775.7 L1384.5,1775.0 L1384.9,1773.3 L1385.2,1773.0 L1385.6,1771.8 L1385.9,1771.7 L1386.3,1771.4 L1386.6,1771.7 L1387.0,1771.4 L1387.3,1770.9 L1387.7,1769.4 L1388.0,1768.3 L1388.4,1767.5 L1388.7,1766.8 L1389.1,1766.7 L1389.4,1766.6 L1389.8,1767.2 L1390.1,1767.3 L1390.5,1765.9 L1390.8,1765.2 L1391.2,1764.3 L1391.5,1764.3 L1391.9,1763.2 L1392.2,1762.8 L1392.6,1763.1 L1392.9,1763.3 L1393.3,1762.9 L1393.6,1762.7 L1394.0,1762.2 L1394.3,1762.0 L1394.7,1761.7 L1395.0,1762.4 L1395.4,1762.1 L1395.7,1761.0 L1396.1,1759.6 L1396.4,1758.9 L1396.8,1758.4 L1398.0,1757.8 L1399.2,1757.6 L1400.4,1756.2 L1401.6,1754.4 L1402.8,1752.5 L1404.0,1751.6 L1405.2,1750.2 L1406.4,1748.3 L1407.6,1746.4 L1408.8,1745.9 L1410.0,1745.8 L1411.2,1745.8 L1412.4,1745.4 L1413.6,1744.5 L1414.8,1743.7 L1416.0,1741.8 L1417.2,1742.1 L1418.4,1741.2 L1419.6,1742.0 L1420.8,1741.4 L1422.0,1741.5 L1423.2,1740.8 L1424.4,1739.7 L1425.6,1739.3 L1426.8,1738.4 L1428.0,1737.1 L1429.2,1736.2 L1430.4,1734.9 L1431.6,1735.1 L1432.8,1734.7 L1434.0,1735.4 L1435.2,1734.4 L1436.4,1733.3 L1437.6,1732.6 L1438.8,1732.4 L1440.0,1732.6 L1441.2,1731.8 L1442.4,1731.5 L1443.6,1731.7 L1444.8,1732.0 L1446.0,1732.2 L1447.2,1732.6 L1448.4,1733.1 L1449.6,1732.9 L1450.8,1732.4 L1452.0,1731.5 L1453.2,1731.0 L1454.4,1730.5 L1455.6,1731.0 L1456.8,1731.4 L1458.0,1732.1 L1459.2,1731.4 L1460.4,1731.6 L1461.6,1731.0 L1462.8,1731.9 L1464.0,1731.3 L1465.2,1730.6 L1466.4,1730.2 L1467.6,1730.3 L1468.8,1730.0 L1470.0,1730.4 L1471.2,1730.0 L1472.4,1729.9 L1473.6,1729.8 L1474.8,1730.1 L1476.0,1730.2 L1477.2,1729.8 L1478.4,1729.4 L1479.6,1729.6 L1480.8,1729.3 L1482.0,1729.5 L1483.2,1730.1 L1484.4,1730.3 L1485.6,1730.7 L1486.8,1730.6 L1488.0,1731.4 L1489.2,1731.1 L1490.4,1730.8 L1491.6,1730.3 L1492.8,1730.2 L1494.0,1729.8 L1495.2,1729.3 L1496.4,1729.4 L1497.6,1729.7 L1498.8,1730.4 L1500.0,1729.5 L1501.2,1729.9 L1502.4,1729.3 L1503.6,1729.5 L1504.8,1729.1 L1506.0,1729.0 L1507.2,1730.3 L1508.4,1730.9 L1509.6,1731.0 L1510.8,1730.9 L1512.0,1730.6 L1513.2,1730.6 L1514.4,1730.2 L1515.6,1730.3 L1516.8,1730.4 L1518.0,1729.7 L1519.2,1729.4 L1520.4,1729.2 L1521.6,1729.0 L1522.8,1728.9 L1524.0,1728.8 L1525.2,1728.7 L1526.4,1728.6 L1527.6,1729.2 L1528.8,1730.2 L1530.0,1730.6 L1531.2,1729.9 L1532.4,1729.2 L1533.6,1729.2 L1534.8,1729.9 L1536.0,1729.8 L1537.2,1729.3 L1538.4,1728.5 L1539.6,1728.7 L1540.8,1729.3 L1542.0,1730.3 L1543.2,1729.5 L1544.4,1729.1 L1545.6,1728.5 L1546.8,1728.8 L1548.0,1728.8 L1549.2,1728.0 L1550.4,1728.4 L1551.6,1729.0 L1552.8,1730.4 L1554.0,1730.3 L1555.2,1729.9 L1556.4,1729.7 L1557.6,1730.3 L1558.8,1730.6 L1560.0,1730.3 L1561.2,1729.9 L1562.4,1729.2 L1563.6,1728.8 L1564.8,1729.2 L1566.0,1729.6 L1567.2,1730.1 L1568.4,1730.0 L1569.6,1730.1 L1570.8,1730.0 L1572.0,1729.1 L1573.2,1728.7 L1574.4,1728.7 L1575.6,1729.1 L1576.8,1728.9 L1578.0,1728.6 L1579.2,1728.3 L1580.4,1729.2 L1581.6,1729.5 L1582.8,1729.9 L1584.0,1729.7 L1585.2,1729.3 L1586.4,1729.9 L1587.6,1729.3 L1588.8,1730.1 L1590.0,1729.5 L1591.2,1729.9 L1592.4,1729.0 L1593.6,1728.9 L1594.8,1729.1 L1596.0,1729.3 L1597.2,1729.3 L1598.4,1729.9 L1599.6,1729.5 L1600.8,1729.4 L1602.0,1728.1 L1603.2,1727.6 L1604.4,1728.0 L1605.6,1728.6 L1606.8,1729.0 L1608.0,1728.4 L1609.2,1728.5 L1610.4,1728.5 L1611.6,1729.8 L1612.8,1730.2 L1614.0,1730.7 L1615.2,1729.8 L1616.4,1729.5 L1617.6,1728.6 L1618.8,1729.0 L1620.0,1729.4 L1621.2,1729.4 L1622.4,1728.9 L1623.6,1728.6 L1624.8,1729.3 L1626.0,1729.3 L1627.2,1729.5 L1628.4,1729.6 L1629.6,1730.2 L1630.8,1729.4 L1632.0,1729.3 L1633.2,1728.4 L1634.4,1727.8 L1635.6,1727.4 L1636.8,1728.1 L1638.0,1729.2 L1639.2,1729.1 L1640.4,1729.5 L1641.6,1728.7 L1642.8,1728.6 L1644.0,1728.2 L1645.2,1728.7 L1646.4,1729.0 L1647.6,1728.9 L1648.8,1729.0 L1650.0,1729.4 L1651.2,1729.2 L1652.4,1728.7 L1653.6,1729.8 L1654.8,1730.2 L1656.0,1730.1 L1657.2,1729.0 L1658.4,1729.0 L1659.6,1729.7 L1660.8,1728.8 L1662.0,1728.4 L1663.2,1728.3 L1664.4,1729.4 L1665.6,1730.1 L1666.8,1730.0 L1668.0,1729.2 L1669.2,1729.5 L1670.4,1729.0 L1671.6,1729.4 L1672.8,1729.0 L1674.0,1729.4 L1675.2,1730.0 L1676.4,1729.7 L1677.6,1730.1 L1678.8,1730.1 L1680.0,1730.0 L1681.2,1729.0 L1682.4,1728.9 L1683.6,1729.1 L1684.8,1729.8 L1686.0,1729.5 L1687.2,1728.9 L1688.4,1728.5 L1689.6,1728.7 L1690.8,1728.5 L1692.0,1729.2 L1693.2,1728.7 L1694.4,1728.9 L1695.6,1728.1 L1696.8,1728.0 L1698.0,1728.3 L1699.2,1728.8 L1700.4,1729.1 L1701.6,1729.3 L1702.8,1729.1 L1704.0,1729.0 L1705.2,1728.5 L1706.4,1729.0 L1707.6,1729.5 L1708.8,1730.0 L1710.0,1730.4 L1711.2,1729.7 L1712.4,1729.1 L1713.6,1728.4 L1714.8,1729.6 L1716.0,1730.2 L1717.2,1730.5 L1718.4,1729.5 L1719.6,1729.7 L1720.8,1729.7 L1722.0,1730.2 L1723.2,1730.1 L1724.4,1730.5 L1725.6,1729.2 L1726.8,1728.8 L1728.0,1728.1 L1729.2,1728.3 L1730.4,1728.2 L1731.6,1728.6 L1732.8,1729.4 L1734.0,1730.2 L1735.2,1729.4 L1736.4,1729.7 L1737.6,1728.9 L1738.8,1729.7 L1740.0,1728.9 L1741.2,1729.6 L1742.4,1729.4 L1743.6,1729.4 L1744.8,1728.9 L1746.0,1728.8 L1747.2,1729.8 L1748.4,1729.6 L1749.6,1729.9 L1750.8,1729.3 L1752.0,1729.8 L1753.2,1729.7 L1754.4,1729.9 L1755.6,1729.7 L1756.8,1729.2 L1758.0,1728.6 L1759.2,1729.0 L1760.4,1729.7 L1761.6,1730.4 L1762.8,1730.3 L1764.0,1729.8 L1765.2,1729.0 L1766.4,1729.0 L1767.6,1728.8 L1768.8,1728.8 L1770.0,1728.3 L1771.2,1727.9 L1772.4,1728.3 L1773.2,1728.6" fill="none" stroke="#000" stroke-width="3.3" stroke-linejoin="round" />
<path d="M1345.0,1726.0 L1345.3,1738.4 L1345.7,1750.2 L1346.0,1761.2 L1346.4,1771.5 L1346.7,1781.3 L1347.1,1790.4 L1347.4,1799.0 L1347.8,1807.2 L1348.1,1815.1 L1348.5,1822.7 L1348.8,1830.1 L1349.2,1837.3 L1349.5,1844.5 L1349.9,1851.7 L1350.2,1858.9 L1350.6,1866.0 L1350.9,1873.1 L1351.3,1880.1 L1351.6,1887.1 L1352.0,1894.0 L1352.3,1900.8 L1352.7,1907.6 L1353.0,1914.3 L1353.4,1921.0 L1353.7,1927.9 L1354.1,1934.8 L1354.4,1941.5 L1354.8,1947.5 L1355.1,1952.6 L1355.5,1957.2 L1355.8,1961.4 L1356.2,1965.3 L1356.5,1969.0 L1356.9,1973.0 L1357.2,1977.2 L1357.6,1981.5 L1357.9,1985.9 L1358.3,1990.1 L1358.6,1994.1 L1359.0,1997.7 L1359.3,2000.7 L1359.7,2003.0 L1360.0,2004.5 L1360.4,2005.0 L1360.7,2004.8 L1361.1,2004.3 L1361.4,2003.6 L1361.8,2002.6 L1362.1,2001.5 L1362.5,2000.2 L1362.8,1998.8 L1363.2,1997.4 L1363.5,1996.1 L1363.9,1994.8 L1364.2,1993.7 L1364.6,1992.6 L1364.9,1991.5 L1365.3,1990.3 L1365.6,1989.3 L1366.0,1988.1 L1366.3,1987.0 L1366.7,1985.5 L1367.0,1984.2 L1367.4,1982.7 L1367.7,1981.1 L1368.1,1979.1 L1368.4,1976.8 L1368.8,1974.4 L1369.1,1972.1 L1369.5,1969.3 L1369.8,1966.0 L1370.2,1962.8 L1370.5,1959.9 L1370.9,1957.4 L1371.2,1954.4 L1371.6,1951.4 L1371.9,1946.8 L1372.3,1942.8 L1372.6,1938.6 L1373.0,1934.7 L1373.3,1929.8 L1373.7,1924.1 L1374.0,1918.3 L1374.4,1913.0 L1374.7,1908.2 L1375.1,1903.9 L1375.4,1900.3 L1375.8,1896.5 L1376.1,1893.9 L1376.5,1889.9 L1376.8,1887.3 L1377.2,1885.0 L1377.5,1883.2 L1377.9,1880.3 L1378.2,1877.2 L1378.6,1875.6 L1378.9,1874.0 L1379.3,1872.6 L1379.6,1870.8 L1380.0,1869.0 L1380.3,1866.7 L1380.7,1864.6 L1381.0,1861.6 L1381.4,1859.6 L1381.7,1857.1 L1382.1,1856.4 L1382.4,1854.6 L1382.8,1852.5 L1383.1,1850.0 L1383.5,1848.7 L1383.8,1847.5 L1384.2,1845.5 L1384.5,1842.8 L1384.9,1841.2 L1385.2,1840.6 L1385.6,1839.2 L1385.9,1837.2 L1386.3,1835.3 L1386.6,1834.2 L1387.0,1832.6 L1387.3,1831.2 L1387.7,1829.0 L1388.0,1828.2 L1388.4,1826.5 L1388.7,1825.4 L1389.1,1823.5 L1389.4,1822.4 L1389.8,1820.6 L1390.1,1818.9 L1390.5,1817.6 L1390.8,1815.9 L1391.2,1815.1 L1391.5,1815.1 L1391.9,1814.6 L1392.2,1813.0 L1392.6,1810.9 L1392.9,1809.9 L1393.3,1808.7 L1393.6,1807.5 L1394.0,1806.6 L1394.3,1805.9 L1394.7,1805.3 L1395.0,1804.7 L1395.4,1804.2 L1395.7,1803.6 L1396.1,1802.8 L1396.4,1802.1 L1396.8,1800.7 L1397.1,1800.0 L1397.5,1799.5 L1397.8,1798.5 L1398.2,1797.5 L1398.5,1795.6 L1398.9,1794.9 L1399.2,1794.0 L1399.6,1794.0 L1399.9,1793.2 L1400.3,1793.1 L1400.4,1793.3 L1401.6,1791.4 L1402.8,1789.3 L1404.0,1785.9 L1405.2,1782.6 L1406.4,1779.4 L1407.6,1777.4 L1408.8,1776.1 L1410.0,1774.4 L1411.2,1773.4 L1412.4,1772.9 L1413.6,1771.5 L1414.8,1770.3 L1416.0,1768.5 L1417.2,1767.5 L1418.4,1766.6 L1419.6,1765.4 L1420.8,1764.5 L1422.0,1762.9 L1423.2,1761.5 L1424.4,1760.8 L1425.6,1760.8 L1426.8,1760.3 L1428.0,1759.5 L1429.2,1758.2 L1430.4,1757.5 L1431.6,1756.4 L1432.8,1754.9 L1434.0,1753.5 L1435.2,1752.4 L1436.4,1752.1 L1437.6,1752.3 L1438.8,1751.5 L1440.0,1751.3 L1441.2,1749.7 L1442.4,1749.0 L1443.6,1747.9 L1444.8,1747.6 L1446.0,1747.4 L1447.2,1747.0 L1448.4,1746.6 L1449.6,1745.7 L1450.8,1745.3 L1452.0,1746.0 L1453.2,1746.1 L1454.4,1745.9 L1455.6,1744.1 L1456.8,1743.4 L1458.0,1742.9 L1459.2,1743.5 L1460.4,1743.4 L1461.6,1742.0 L1462.8,1740.6 L1464.0,1740.6 L1465.2,1741.2 L1466.4,1741.6 L1467.6,1741.1 L1468.8,1740.4 L1470.0,1739.8 L1471.2,1738.9 L1472.4,1738.4 L1473.6,1738.0 L1474.8,1738.6 L1476.0,1738.8 L1477.2,1739.0 L1478.4,1738.7 L1479.6,1738.6 L1480.8,1738.4 L1482.0,1737.7 L1483.2,1737.5 L1484.4,1736.9 L1485.6,1736.7 L1486.8,1735.8 L1488.0,1735.6 L1489.2,1735.2 L1490.4,1735.1 L1491.6,1735.3 L1492.8,1735.2 L1494.0,1736.0 L1495.2,1735.6 L1496.4,1735.4 L1497.6,1734.1 L1498.8,1733.7 L1500.0,1733.3 L1501.2,1733.7 L1502.4,1733.6 L1503.6,1733.3 L1504.8,1732.3 L1506.0,1732.1 L1507.2,1732.4 L1508.4,1732.1 L1509.6,1732.5 L1510.8,1732.1 L1512.0,1732.2 L1513.2,1731.5 L1514.4,1731.8 L1515.6,1732.7 L1516.8,1732.4 L1518.0,1731.9 L1519.2,1732.1 L1520.4,1732.8 L1521.6,1733.6 L1522.8,1733.4 L1524.0,1733.0 L1525.2,1732.3 L1526.4,1731.5 L1527.6,1731.7 L1528.8,1732.0 L1530.0,1732.6 L1531.2,1732.2 L1532.4,1731.2 L1533.6,1730.9 L1534.8,1730.1 L1536.0,1730.6 L1537.2,1731.1 L1538.4,1732.1 L1539.6,1731.3 L1540.8,1730.6 L1542.0,1730.3 L1543.2,1731.4 L1544.4,1730.7 L1545.6,1731.0 L1546.8,1730.3 L1548.0,1731.5 L1549.2,1731.6 L1550.4,1731.5 L1551.6,1731.4 L1552.8,1731.1 L1554.0,1731.9 L1555.2,1731.8 L1556.4,1732.2 L1557.6,1731.6 L1558.8,1731.2 L1560.0,1730.6 L1561.2,1730.8 L1562.4,1730.0 L1563.6,1730.8 L1564.8,1730.8 L1566.0,1731.7 L1567.2,1730.4 L1568.4,1729.8 L1569.6,1729.2 L1570.8,1730.2 L1572.0,1730.3 L1573.2,1730.4 L1574.4,1730.4 L1575.6,1730.4 L1576.8,1729.9 L1578.0,1728.4 L1579.2,1728.7 L1580.4,1730.2 L1581.6,1731.7 L1582.8,1731.9 L1584.0,1730.7 L1585.2,1731.1 L1586.4,1730.6 L1587.6,1731.6 L1588.8,1731.9 L1590.0,1732.4 L1591.2,1731.3 L1592.4,1730.3 L1593.6,1729.7 L1594.8,1730.3 L1596.0,1730.6 L1597.2,1731.6 L1598.4,1732.1 L1599.6,1731.7 L1600.8,1731.1 L1602.0,1730.3 L1603.2,1730.5 L1604.4,1730.2 L1605.6,1730.9 L1606.8,1731.1 L1608.0,1731.3 L1609.2,1730.9 L1610.4,1730.4 L1611.6,1730.8 L1612.8,1731.1 L1614.0,1731.7 L1615.2,1730.9 L1616.4,1730.8 L1617.6,1730.4 L1618.8,1731.0 L1620.0,1731.7 L1621.2,1732.0 L1622.4,1731.9 L1623.6,1730.1 L1624.8,1729.5 L1626.0,1728.5 L1627.2,1729.0 L1628.4,1729.6 L1629.6,1731.1 L1630.8,1731.3 L1632.0,1730.0 L1633.2,1729.8 L1634.4,1730.2 L1635.6,1731.0 L1636.8,1729.5 L1638.0,1729.5 L1639.2,1729.6 L1640.4,1730.5 L1641.6,1729.1 L1642.8,1728.8 L1644.0,1729.4 L1645.2,1729.8 L1646.4,1730.4 L1647.6,1729.7 L1648.8,1730.2 L1650.0,1730.2 L1651.2,1729.9 L1652.4,1729.9 L1653.6,1729.6 L1654.8,1729.6 L1656.0,1729.7 L1657.2,1729.5 L1658.4,1729.3 L1659.6,1729.9 L1660.8,1730.4 L1662.0,1730.8 L1663.2,1730.3 L1664.4,1729.2 L1665.6,1729.3 L1666.8,1729.2 L1668.0,1730.0 L1669.2,1729.5 L1670.4,1729.4 L1671.6,1729.3 L1672.8,1729.4 L1674.0,1730.3 L1675.2,1729.9 L1676.4,1729.6 L1677.6,1728.5 L1678.8,1729.3 L1680.0,1729.4 L1681.2,1730.4 L1682.4,1730.2 L1683.6,1731.0 L1684.8,1730.3 L1686.0,1730.6 L1687.2,1730.0 L1688.4,1729.7 L1689.6,1728.8 L1690.8,1729.6 L1692.0,1729.4 L1693.2,1729.5 L1694.4,1729.0 L1695.6,1729.4 L1696.8,1730.0 L1698.0,1729.8 L1699.2,1729.6 L1700.4,1729.3 L1701.6,1729.9 L1702.8,1730.6 L1704.0,1730.3 L1705.2,1729.6 L1706.4,1728.8 L1707.6,1729.1 L1708.8,1729.9 L1710.0,1730.0 L1711.2,1730.3 L1712.4,1730.0 L1713.6,1730.8 L1714.8,1730.6 L1716.0,1731.2 L1717.2,1730.9 L1718.4,1730.2 L1719.6,1729.5 L1720.8,1728.7 L1722.0,1729.0 L1723.2,1729.1 L1724.4,1728.8 L1725.6,1729.4 L1726.8,1730.2 L1728.0,1731.6 L1729.2,1731.4 L1730.4,1730.8 L1731.6,1729.7 L1732.8,1729.7 L1734.0,1729.3 L1735.2,1729.5 L1736.4,1729.4 L1737.6,1729.8 L1738.8,1729.8 L1740.0,1730.5 L1741.2,1730.0 L1742.4,1730.5 L1743.6,1730.0 L1744.8,1730.0 L1746.0,1730.1 L1747.2,1730.1 L1748.4,1730.0 L1749.6,1729.8 L1750.8,1729.3 L1752.0,1729.7 L1753.2,1728.8 L1754.4,1729.3 L1755.6,1728.1 L1756.8,1728.1 L1758.0,1727.7 L1759.2,1729.0 L1760.4,1729.2 L1761.6,1729.9 L1762.8,1729.5 L1764.0,1729.8 L1765.2,1728.5 L1766.4,1729.0 L1767.6,1729.0 L1768.8,1729.6 L1770.0,1729.3 L1771.2,1730.1 L1772.4,1730.2 L1773.2,1730.5" fill="none" stroke="#000" stroke-width="3.3" stroke-linejoin="round" />
<path d="M1345.0,1726.0 L1345.3,1734.5 L1345.7,1743.0 L1346.0,1751.6 L1346.4,1760.2 L1346.7,1768.8 L1347.1,1777.4 L1347.4,1786.0 L1347.8,1794.7 L1348.1,1803.4 L1348.5,1812.1 L1348.8,1820.8 L1349.2,1829.5 L1349.5,1838.3 L1349.9,1847.1 L1350.2,1855.9 L1350.6,1864.7 L1350.9,1873.5 L1351.3,1882.3 L1351.6,1891.1 L1352.0,1900.0 L1352.3,1909.1 L1352.7,1918.7 L1353.0,1928.5 L1353.4,1938.5 L1353.7,1948.3 L1354.1,1957.9 L1354.4,1967.0 L1354.8,1975.5 L1355.1,1983.2 L1355.5,1990.0 L1355.8,1995.9 L1356.2,2001.4 L1356.5,2006.4 L1356.9,2011.1 L1357.2,2015.6 L1357.6,2020.0 L1357.9,2024.3 L1358.3,2028.7 L1358.6,2033.3 L1359.0,2037.9 L1359.3,2042.6 L1359.7,2047.2 L1360.0,2051.7 L1360.4,2055.9 L1360.7,2059.9 L1361.1,2063.5 L1361.4,2066.6 L1361.8,2069.5 L1362.1,2072.2 L1362.5,2074.8 L1362.8,2077.3 L1363.2,2079.6 L1363.5,2081.8 L1363.9,2083.9 L1364.2,2085.8 L1364.6,2087.6 L1364.9,2089.4 L1365.3,2090.9 L1365.6,2092.6 L1366.0,2094.2 L1366.3,2095.8 L1366.7,2097.4 L1367.0,2099.0 L1367.4,2100.5 L1367.7,2101.9 L1368.1,2103.2 L1368.4,2104.3 L1368.8,2105.3 L1369.1,2106.0 L1369.5,2106.6 L1369.8,2106.9 L1370.2,2107.0 L1370.5,2106.7 L1370.9,2106.2 L1371.2,2105.5 L1371.6,2104.6 L1371.9,2103.6 L1372.3,2102.5 L1372.6,2101.3 L1373.0,2100.2 L1373.3,2099.0 L1373.7,2097.7 L1374.0,2096.2 L1374.4,2094.6 L1374.7,2092.8 L1375.1,2090.9 L1375.4,2088.9 L1375.8,2086.4 L1376.1,2083.6 L1376.5,2080.0 L1376.8,2076.7 L1377.2,2073.2 L1377.5,2069.9 L1377.9,2066.2 L1378.2,2062.5 L1378.6,2058.5 L1378.9,2054.9 L1379.3,2052.5 L1379.6,2050.1 L1380.0,2048.2 L1380.3,2045.7 L1380.7,2044.1 L1381.0,2042.8 L1381.4,2041.1 L1381.7,2039.6 L1382.1,2036.6 L1382.4,2033.9 L1382.8,2031.4 L1383.1,2028.0 L1383.5,2026.7 L1383.8,2023.8 L1384.2,2022.7 L1384.5,2019.7 L1384.9,2017.8 L1385.2,2015.4 L1385.6,2013.3 L1385.9,2011.2 L1386.3,2009.9 L1386.6,2008.3 L1387.0,2006.4 L1387.3,2003.3 L1387.7,2001.3 L1388.0,1999.0 L1388.4,1997.7 L1388.7,1995.4 L1389.1,1992.9 L1389.4,1990.6 L1389.8,1987.6 L1390.1,1986.0 L1390.5,1984.1 L1390.8,1982.3 L1391.2,1977.9 L1391.5,1973.2 L1391.9,1969.2 L1392.2,1966.0 L1392.6,1962.7 L1392.9,1959.3 L1393.3,1955.9 L1393.6,1953.1 L1394.0,1950.2 L1394.3,1948.2 L1394.7,1944.8 L1395.0,1942.0 L1395.4,1939.0 L1395.7,1937.4 L1396.1,1934.0 L1396.4,1931.2 L1396.8,1928.1 L1397.1,1926.9 L1397.5,1924.6 L1397.8,1922.0 L1398.2,1918.9 L1398.5,1917.4 L1398.9,1916.9 L1399.2,1915.8 L1399.6,1913.7 L1399.9,1910.1 L1400.3,1907.3 L1400.6,1904.6 L1401.0,1902.9 L1401.3,1899.7 L1401.7,1896.1 L1402.0,1890.7 L1402.4,1885.6 L1402.7,1880.3 L1403.1,1877.0 L1403.4,1872.8 L1403.8,1869.9 L1404.1,1867.2 L1404.5,1865.9 L1404.8,1865.5 L1405.2,1863.8 L1405.5,1862.4 L1405.9,1859.7 L1406.2,1858.2 L1406.6,1857.2 L1406.9,1856.1 L1407.3,1854.6 L1407.6,1853.2 L1408.0,1850.8 L1408.3,1848.6 L1408.7,1847.5 L1409.0,1847.8 L1409.4,1847.7 L1409.7,1846.3 L1410.1,1845.0 L1411.3,1840.9 L1412.5,1837.1 L1413.7,1833.7 L1414.9,1830.2 L1416.1,1827.1 L1417.3,1823.4 L1418.5,1819.6 L1419.7,1816.2 L1420.9,1812.2 L1422.1,1808.9 L1423.3,1804.7 L1424.5,1802.4 L1425.7,1799.9 L1426.9,1799.1 L1428.1,1797.8 L1429.3,1796.4 L1430.5,1794.7 L1431.7,1793.6 L1432.9,1792.5 L1434.1,1790.6 L1435.3,1788.5 L1436.5,1786.7 L1437.7,1785.5 L1438.9,1783.2 L1440.1,1781.8 L1441.3,1780.5 L1442.5,1779.8 L1443.7,1778.8 L1444.9,1777.0 L1446.1,1775.5 L1447.3,1774.6 L1448.5,1773.8 L1449.7,1773.4 L1450.9,1772.0 L1452.1,1770.8 L1453.3,1769.3 L1454.5,1768.9 L1455.7,1768.0 L1456.9,1767.2 L1458.1,1766.4 L1459.3,1765.5 L1460.5,1765.4 L1461.7,1764.7 L1462.9,1764.9 L1464.1,1763.0 L1465.3,1761.5 L1466.5,1760.4 L1467.7,1760.5 L1468.9,1759.8 L1470.1,1759.8 L1471.3,1758.9 L1472.5,1757.8 L1473.7,1756.3 L1474.9,1755.7 L1476.1,1755.8 L1477.3,1755.3 L1478.5,1755.0 L1479.7,1753.9 L1480.9,1754.7 L1482.1,1754.4 L1483.3,1754.2 L1484.5,1752.6 L1485.7,1751.8 L1486.9,1752.1 L1488.1,1751.6 L1489.3,1751.1 L1490.5,1750.5 L1491.7,1750.2 L1492.9,1751.2 L1494.1,1749.7 L1495.3,1748.2 L1496.5,1746.9 L1497.7,1746.9 L1498.9,1748.1 L1500.1,1747.3 L1501.3,1747.5 L1502.5,1746.2 L1503.7,1746.3 L1504.9,1745.0 L1506.1,1744.1 L1507.3,1743.0 L1508.5,1743.0 L1509.7,1744.5 L1510.9,1744.7 L1512.1,1745.1 L1513.3,1744.6 L1514.5,1743.6 L1515.7,1743.4 L1516.9,1742.8 L1518.1,1743.7 L1519.3,1743.2 L1520.5,1743.0 L1521.7,1742.8 L1522.9,1741.9 L1524.1,1741.2 L1525.3,1741.1 L1526.5,1741.0 L1527.7,1741.3 L1528.9,1740.8 L1530.1,1741.3 L1531.3,1740.8 L1532.5,1740.1 L1533.7,1740.0 L1534.9,1739.9 L1536.1,1740.3 L1537.3,1739.8 L1538.5,1739.7 L1539.7,1739.5 L1540.9,1739.2 L1542.1,1739.0 L1543.3,1739.6 L1544.5,1739.9 L1545.7,1739.7 L1546.9,1738.5 L1548.1,1737.4 L1549.3,1737.5 L1550.5,1737.2 L1551.7,1737.6 L1552.9,1737.2 L1554.1,1736.9 L1555.3,1736.4 L1556.5,1736.6 L1557.7,1737.2 L1558.9,1737.6 L1560.1,1737.3 L1561.3,1737.2 L1562.5,1737.1 L1563.7,1737.9 L1564.9,1737.5 L1566.1,1737.1 L1567.3,1736.2 L1568.5,1735.8 L1569.7,1735.7 L1570.9,1735.1 L1572.1,1734.3 L1573.3,1734.6 L1574.5,1733.8 L1575.7,1733.8 L1576.9,1733.3 L1578.1,1734.4 L1579.3,1734.7 L1580.5,1733.9 L1581.7,1733.1 L1582.9,1732.9 L1584.1,1732.9 L1585.3,1732.4 L1586.5,1732.2 L1587.7,1732.0 L1588.9,1732.5 L1590.1,1732.4 L1591.3,1732.4 L1592.5,1732.9 L1593.7,1732.4 L1594.9,1732.2 L1596.1,1732.2 L1597.3,1732.7 L1598.5,1733.2 L1599.7,1732.2 L1600.9,1731.3 L1602.1,1730.9 L1603.3,1729.9 L1604.5,1731.2 L1605.7,1731.5 L1606.9,1732.2 L1608.1,1731.1 L1609.3,1731.4 L1610.5,1731.8 L1611.7,1732.8 L1612.9,1732.5 L1614.1,1732.8 L1615.3,1732.8 L1616.5,1733.0 L1617.7,1733.1 L1618.9,1732.0 L1620.1,1732.8 L1621.3,1732.6 L1622.5,1732.7 L1623.7,1731.6 L1624.9,1731.7 L1626.1,1732.1 L1627.3,1732.6 L1628.5,1732.6 L1629.7,1732.7 L1630.9,1732.2 L1632.1,1732.2 L1633.3,1732.3 L1634.5,1731.3 L1635.7,1729.8 L1636.9,1729.3 L1638.1,1729.6 L1639.3,1730.2 L1640.5,1730.4 L1641.7,1730.7 L1642.9,1731.3 L1644.1,1731.1 L1645.3,1730.9 L1646.5,1731.2 L1647.7,1731.0 L1648.9,1731.0 L1650.1,1730.5 L1651.3,1731.2 L1652.5,1731.4 L1653.7,1731.8 L1654.9,1731.0 L1656.1,1730.8 L1657.3,1730.1 L1658.5,1730.5 L1659.7,1730.7 L1660.9,1731.0 L1662.1,1731.5 L1663.3,1731.4 L1664.5,1731.8 L1665.7,1731.7 L1666.9,1731.6 L1668.1,1731.7 L1669.3,1731.3 L1670.5,1731.8 L1671.7,1732.2 L1672.9,1731.7 L1674.1,1730.8 L1675.3,1730.4 L1676.5,1730.0 L1677.7,1730.2 L1678.9,1729.7 L1680.1,1730.5 L1681.3,1730.9 L1682.5,1730.6 L1683.7,1730.3 L1684.9,1730.4 L1686.1,1730.0 L1687.3,1730.2 L1688.5,1728.6 L1689.7,1729.3 L1690.9,1729.3 L1692.1,1730.2 L1693.3,1730.0 L1694.5,1730.1 L1695.7,1731.2 L1696.9,1730.9 L1698.1,1730.7 L1699.3,1730.2 L1700.5,1730.3 L1701.7,1730.2 L1702.9,1730.3 L1704.1,1731.3 L1705.3,1731.6 L1706.5,1732.0 L1707.7,1732.5 L1708.9,1731.7 L1710.1,1731.1 L1711.3,1729.3 L1712.5,1729.5 L1713.7,1729.0 L1714.9,1729.9 L1716.1,1731.3 L1717.3,1731.0 L1718.5,1731.0 L1719.7,1729.7 L1720.9,1730.8 L1722.1,1730.8 L1723.3,1730.6 L1724.5,1729.8 L1725.7,1728.7 L1726.9,1728.6 L1728.1,1729.2 L1729.3,1730.4 L1730.5,1731.1 L1731.7,1730.5 L1732.9,1730.2 L1734.1,1729.3 L1735.3,1729.2 L1736.5,1729.3 L1737.7,1730.3 L1738.9,1730.7 L1740.1,1730.5 L1741.3,1729.9 L1742.5,1730.5 L1743.7,1731.0 L1744.9,1730.9 L1746.1,1730.8 L1747.3,1729.1 L1748.5,1729.9 L1749.7,1730.0 L1750.9,1731.1 L1752.1,1730.8 L1753.3,1729.8 L1754.5,1729.6 L1755.7,1730.3 L1756.9,1731.2 L1758.1,1731.8 L1759.3,1730.9 L1760.5,1730.1 L1761.7,1729.9 L1762.9,1729.7 L1764.1,1729.7 L1765.3,1729.6 L1766.5,1731.0 L1767.7,1730.7 L1768.9,1730.7 L1770.1,1729.4 L1771.3,1730.3 L1772.5,1730.5 L1773.2,1730.5" fill="none" stroke="#000" stroke-width="3.3" stroke-linejoin="round" />
<path d="M1345.0,1726.0 L1345.3,1728.9 L1345.7,1731.7 L1346.0,1734.5 L1346.4,1737.4 L1346.7,1740.1 L1347.1,1742.9 L1347.4,1745.7 L1347.8,1748.4 L1348.1,1751.1 L1348.5,1753.8 L1348.8,1756.5 L1349.2,1759.2 L1349.5,1761.8 L1349.9,1764.5 L1350.2,1767.1 L1350.6,1769.7 L1350.9,1772.3 L1351.3,1774.9 L1351.6,1777.4 L1352.0,1780.0 L1352.3,1782.5 L1352.7,1784.9 L1353.0,1787.3 L1353.4,1789.7 L1353.7,1792.1 L1354.1,1794.4 L1354.4,1796.9 L1354.8,1799.3 L1355.1,1801.9 L1355.5,1804.6 L1355.8,1807.3 L1356.2,1810.0 L1356.5,1812.8 L1356.9,1815.6 L1357.2,1818.5 L1357.6,1821.4 L1357.9,1824.3 L1358.3,1827.3 L1358.6,1830.4 L1359.0,1833.4 L1359.3,1836.6 L1359.7,1839.8 L1360.0,1843.0 L1360.4,1846.4 L1360.7,1849.8 L1361.1,1853.4 L1361.4,1857.1 L1361.8,1860.7 L1362.1,1864.4 L1362.5,1868.0 L1362.8,1871.6 L1363.2,1875.1 L1363.5,1878.3 L1363.9,1881.4 L1364.2,1884.4 L1364.6,1887.5 L1364.9,1890.7 L1365.3,1894.1 L1365.6,1897.9 L1366.0,1902.0 L1366.3,1906.7 L1366.7,1912.1 L1367.0,1918.4 L1367.4,1925.2 L1367.7,1932.6 L1368.1,1940.5 L1368.4,1948.8 L1368.8,1958.5 L1369.1,1970.1 L1369.5,1981.2 L1369.8,1989.4 L1370.2,1995.5 L1370.5,2000.9 L1370.9,2005.6 L1371.2,2009.8 L1371.6,2013.7 L1371.9,2017.2 L1372.3,2020.5 L1372.6,2023.4 L1373.0,2026.0 L1373.3,2028.4 L1373.7,2030.7 L1374.0,2032.9 L1374.4,2035.2 L1374.7,2037.5 L1375.1,2040.0 L1375.4,2042.8 L1375.8,2045.8 L1376.1,2049.5 L1376.5,2053.9 L1376.8,2059.0 L1377.2,2064.3 L1377.5,2069.7 L1377.9,2074.9 L1378.2,2079.7 L1378.6,2083.7 L1378.9,2086.9 L1379.3,2089.7 L1379.6,2092.3 L1380.0,2094.8 L1380.3,2097.2 L1380.7,2099.4 L1381.0,2101.5 L1381.4,2103.5 L1381.7,2105.4 L1382.1,2107.2 L1382.4,2109.0 L1382.8,2110.7 L1383.1,2112.3 L1383.5,2113.9 L1383.8,2115.5 L1384.2,2117.1 L1384.5,2118.6 L1384.9,2120.2 L1385.2,2121.7 L1385.6,2123.1 L1385.9,2124.5 L1386.3,2125.9 L1386.6,2127.2 L1387.0,2128.3 L1387.3,2129.4 L1387.7,2130.4 L1388.0,2131.3 L1388.4,2132.0 L1388.7,2132.6 L1389.1,2133.3 L1389.4,2133.9 L1389.8,2134.5 L1390.1,2135.0 L1390.5,2135.6 L1390.8,2136.1 L1391.2,2136.5 L1391.5,2136.9 L1391.9,2137.3 L1392.2,2137.6 L1392.6,2137.8 L1392.9,2137.9 L1393.3,2138.0 L1393.6,2138.0 L1394.0,2137.9 L1394.3,2137.7 L1394.7,2137.4 L1395.0,2137.1 L1395.4,2136.8 L1395.7,2136.3 L1396.1,2135.9 L1396.4,2135.3 L1396.8,2134.8 L1397.1,2134.2 L1397.5,2133.5 L1397.8,2133.0 L1398.2,2132.4 L1398.5,2131.9 L1398.9,2131.0 L1399.2,2130.1 L1399.6,2129.0 L1399.9,2128.0 L1400.3,2127.0 L1400.6,2125.6 L1401.0,2123.8 L1401.3,2122.1 L1401.7,2121.0 L1402.0,2120.1 L1402.4,2118.4 L1402.7,2116.5 L1403.1,2114.3 L1403.4,2112.5 L1403.8,2111.0 L1404.1,2110.5 L1404.5,2109.8 L1404.8,2107.9 L1405.2,2105.4 L1405.5,2102.5 L1405.9,2100.3 L1406.2,2098.4 L1406.6,2096.4 L1406.9,2095.5 L1407.3,2093.2 L1407.6,2092.6 L1408.0,2090.8 L1408.3,2089.6 L1408.7,2087.3 L1409.0,2085.0 L1409.4,2084.2 L1409.7,2082.7 L1410.1,2081.5 L1410.4,2078.7 L1410.8,2077.0 L1411.1,2074.6 L1411.5,2073.6 L1411.8,2072.1 L1412.2,2070.4 L1412.5,2067.7 L1412.9,2065.0 L1413.2,2063.9 L1413.6,2061.8 L1413.9,2059.8 L1414.3,2056.9 L1414.6,2055.9 L1415.0,2053.3 L1415.3,2051.0 L1415.7,2047.9 L1416.0,2046.3 L1416.4,2043.9 L1416.7,2041.9 L1417.1,2039.2 L1417.4,2037.8 L1417.8,2036.1 L1418.1,2034.9 L1418.5,2032.1 L1418.8,2030.8 L1419.2,2028.9 L1419.5,2028.6 L1419.9,2027.1 L1420.2,2025.1 L1420.6,2022.7 L1420.9,2019.9 L1421.3,2018.5 L1421.6,2016.9 L1422.0,2015.4 L1422.3,2013.5 L1422.7,2012.3 L1423.0,2009.8 L1423.4,2008.2 L1423.7,2005.4 L1424.1,2004.0 L1424.4,2002.1 L1424.8,2000.8 L1425.1,1998.8 L1425.5,1997.7 L1425.8,1995.7 L1426.2,1994.4 L1426.5,1991.7 L1426.9,1990.3 L1427.2,1988.1 L1427.6,1986.7 L1427.9,1985.4 L1428.3,1984.9 L1428.6,1983.1 L1429.0,1980.4 L1429.3,1979.5 L1429.7,1978.7 L1430.0,1978.0 L1430.4,1975.2 L1430.7,1973.6 L1431.1,1971.9 L1431.4,1970.6 L1431.8,1968.6 L1432.1,1967.5 L1432.5,1966.1 L1432.8,1965.0 L1433.2,1963.1 L1433.4,1962.0 L1434.6,1957.1 L1435.8,1951.9 L1437.0,1946.8 L1438.2,1941.9 L1439.4,1937.5 L1440.6,1933.4 L1441.8,1929.5 L1443.0,1925.7 L1444.2,1921.8 L1445.4,1917.5 L1446.6,1913.4 L1447.8,1908.7 L1449.0,1903.6 L1450.2,1897.3 L1451.4,1891.3 L1452.6,1884.2 L1453.8,1878.4 L1455.0,1872.5 L1456.2,1868.9 L1457.4,1865.2 L1458.6,1862.3 L1459.8,1859.9 L1461.0,1857.0 L1462.2,1855.9 L1463.4,1853.6 L1464.6,1851.6 L1465.8,1848.2 L1467.0,1845.2 L1468.2,1842.8 L1469.4,1840.7 L1470.6,1838.4 L1471.8,1835.5 L1473.0,1831.9 L1474.2,1829.5 L1475.4,1828.1 L1476.6,1826.0 L1477.8,1824.3 L1479.0,1822.2 L1480.2,1821.3 L1481.4,1820.3 L1482.6,1818.7 L1483.8,1817.6 L1485.0,1815.2 L1486.2,1814.2 L1487.4,1812.0 L1488.6,1810.7 L1489.8,1808.7 L1491.0,1807.8 L1492.2,1806.6 L1493.4,1804.5 L1494.6,1803.3 L1495.8,1802.2 L1497.0,1802.4 L1498.2,1800.6 L1499.4,1799.4 L1500.6,1798.2 L1501.8,1797.4 L1503.0,1795.5 L1504.2,1793.1 L1505.4,1791.7 L1506.6,1791.3 L1507.8,1790.5 L1509.0,1790.2 L1510.2,1788.8 L1511.4,1788.8 L1512.6,1788.1 L1513.8,1787.6 L1515.0,1787.3 L1516.2,1786.1 L1517.4,1784.8 L1518.6,1783.4 L1519.8,1783.1 L1521.0,1783.4 L1522.2,1783.1 L1523.4,1783.0 L1524.6,1782.7 L1525.8,1782.1 L1527.0,1781.4 L1528.2,1780.7 L1529.4,1780.3 L1530.6,1779.2 L1531.8,1778.1 L1533.0,1777.3 L1534.2,1776.5 L1535.4,1776.2 L1536.6,1775.4 L1537.8,1775.1 L1539.0,1773.5 L1540.2,1772.8 L1541.4,1771.5 L1542.6,1771.2 L1543.8,1771.0 L1545.0,1770.2 L1546.2,1770.5 L1547.4,1769.0 L1548.6,1769.2 L1549.8,1768.1 L1551.0,1767.5 L1552.2,1766.8 L1553.4,1764.5 L1554.6,1764.1 L1555.8,1762.8 L1557.0,1763.7 L1558.2,1762.6 L1559.4,1762.1 L1560.6,1761.0 L1561.8,1760.8 L1563.0,1760.4 L1564.2,1759.3 L1565.4,1759.3 L1566.6,1758.4 L1567.8,1759.5 L1569.0,1757.9 L1570.2,1757.5 L1571.4,1756.8 L1572.6,1756.5 L1573.8,1756.5 L1575.0,1755.4 L1576.2,1755.2 L1577.4,1754.3 L1578.6,1754.2 L1579.8,1754.7 L1581.0,1754.2 L1582.2,1754.0 L1583.4,1752.7 L1584.6,1752.8 L1585.8,1752.5 L1587.0,1752.5 L1588.2,1752.5 L1589.4,1753.2 L1590.6,1752.3 L1591.8,1751.6 L1593.0,1750.5 L1594.2,1751.4 L1595.4,1750.5 L1596.6,1750.9 L1597.8,1750.2 L1599.0,1751.3 L1600.2,1750.2 L1601.4,1749.5 L1602.6,1747.8 L1603.8,1747.1 L1605.0,1746.8 L1606.2,1745.9 L1607.4,1745.4 L1608.6,1744.7 L1609.8,1745.1 L1611.0,1744.2 L1612.2,1743.6 L1613.4,1742.8 L1614.6,1743.2 L1615.8,1743.0 L1617.0,1742.1 L1618.2,1741.0 L1619.4,1741.5 L1620.6,1742.4 L1621.8,1742.6 L1623.0,1742.2 L1624.2,1741.3 L1625.4,1741.0 L1626.6,1740.3 L1627.8,1741.0 L1629.0,1741.0 L1630.2,1740.4 L1631.4,1739.6 L1632.6,1739.1 L1633.8,1739.8 L1635.0,1739.9 L1636.2,1740.2 L1637.4,1739.3 L1638.6,1739.2 L1639.8,1739.1 L1641.0,1738.5 L1642.2,1737.9 L1643.4,1737.6 L1644.6,1738.2 L1645.8,1738.2 L1647.0,1738.1 L1648.2,1738.2 L1649.4,1738.4 L1650.6,1738.2 L1651.8,1737.2 L1653.0,1735.7 L1654.2,1735.0 L1655.4,1735.2 L1656.6,1736.3 L1657.8,1737.5 L1659.0,1737.9 L1660.2,1737.0 L1661.4,1736.2 L1662.6,1735.5 L1663.8,1735.6 L1665.0,1735.0 L1666.2,1735.6 L1667.4,1735.8 L1668.6,1736.2 L1669.8,1735.7 L1671.0,1735.5 L1672.2,1735.1 L1673.4,1735.8 L1674.6,1736.0 L1675.8,1736.3 L1677.0,1736.1 L1678.2,1736.7 L1679.4,1736.2 L1680.6,1736.0 L1681.8,1735.4 L1683.0,1734.6 L1684.2,1733.9 L1685.4,1733.4 L1686.6,1734.8 L1687.8,1734.5 L1689.0,1734.2 L1690.2,1733.5 L1691.4,1734.2 L1692.6,1734.6 L1693.8,1733.7 L1695.0,1732.0 L1696.2,1732.7 L1697.4,1732.9 L1698.6,1734.4 L1699.8,1733.4 L1701.0,1733.0 L1702.2,1732.5 L1703.4,1733.3 L1704.6,1734.1 L1705.8,1735.3 L1707.0,1734.3 L1708.2,1733.7 L1709.4,1732.6 L1710.6,1733.3 L1711.8,1734.0 L1713.0,1733.6 L1714.2,1733.0 L1715.4,1732.0 L1716.6,1732.0 L1717.8,1732.3 L1719.0,1732.6 L1720.2,1733.2 L1721.4,1733.2 L1722.6,1733.6 L1723.8,1734.2 L1725.0,1734.1 L1726.2,1733.8 L1727.4,1732.6 L1728.6,1732.2 L1729.8,1732.4 L1731.0,1732.7 L1732.2,1732.1 L1733.4,1731.6 L1734.6,1731.0 L1735.8,1732.3 L1737.0,1732.8 L1738.2,1732.6 L1739.4,1731.6 L1740.6,1731.5 L1741.8,1732.2 L1743.0,1732.1 L1744.2,1730.5 L1745.4,1730.9 L1746.6,1730.6 L1747.8,1732.2 L1749.0,1732.0 L1750.2,1732.2 L1751.4,1731.6 L1752.6,1731.1 L1753.8,1731.2 L1755.0,1731.2 L1756.2,1731.0 L1757.4,1731.9 L1758.6,1732.3 L1759.8,1731.9 L1761.0,1730.5 L1762.2,1730.3 L1763.4,1731.1 L1764.6,1731.5 L1765.8,1730.3 L1767.0,1730.6 L1768.2,1730.0 L1769.4,1731.0 L1770.6,1730.1 L1771.8,1730.4 L1773.0,1729.8 L1773.2,1729.6" fill="none" stroke="#000" stroke-width="3.3" stroke-linejoin="round" /></svg></body></html>
